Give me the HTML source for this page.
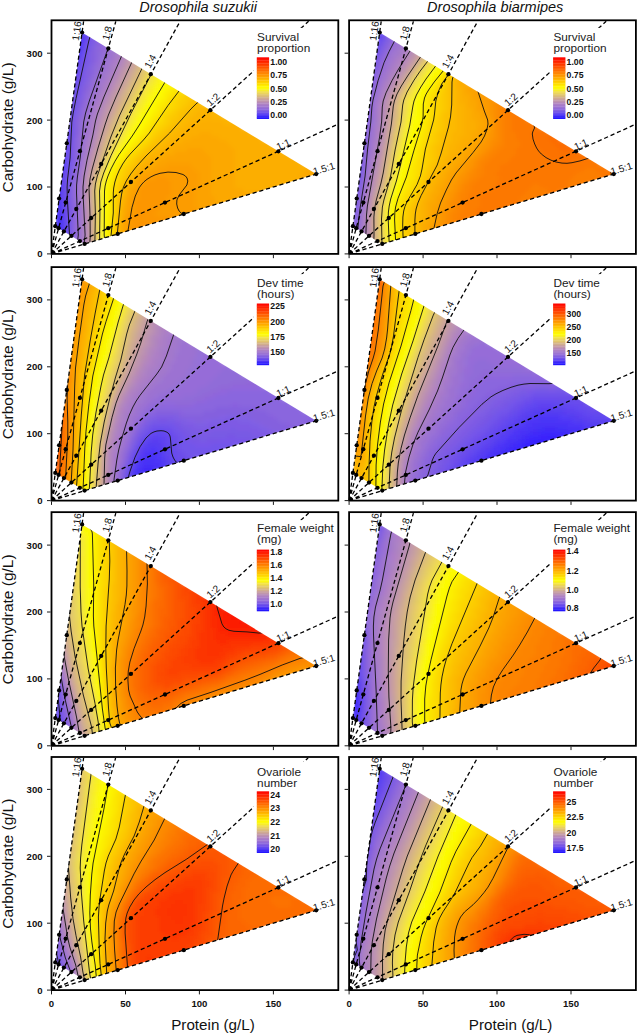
<!DOCTYPE html><html><head><meta charset="utf-8"><style>html,body{margin:0;padding:0;background:#fff}svg{display:block}text{font-family:"Liberation Sans",sans-serif}</style></head><body>
<svg width="638" height="1035" viewBox="0 0 638 1035">
<defs><filter id="blr" x="-5%" y="-5%" width="110%" height="110%"><feGaussianBlur stdDeviation="2"/></filter></defs>
<rect width="638" height="1035" fill="#fff"/>
<text x="139.3" y="12" font-size="14.5" font-style="italic" fill="#111">Drosophila suzukii</text>
<text x="427.1" y="12" font-size="14.5" font-style="italic" fill="#111">Drosophila biarmipes</text>
<clipPath id="cp1"><polygon points="55.3,226.2 82.1,32.6 316.2,174.1 84.6,243.9"/></clipPath>
<g clip-path="url(#cp1)"><g filter="url(#blr)">
<path fill="#4230f6" d="M79 32h4v4h-4zM55 204h4v4h-4z"/>
<path fill="#5a42f0" d="M83 32h4v4h-4zM79 48h4v4h-4zM75 60h4v4h-4zM71 76h4v4h-4zM67 100h4v4h-4zM63 128h4v4h-4zM63 132h4v4h-4zM63 136h4v4h-4zM63 140h4v4h-4zM63 144h4v4h-4zM59 184h4v4h-4zM59 188h4v4h-4zM59 192h4v4h-4zM59 196h4v4h-4z"/>
<path fill="#6c4eea" d="M87 32h4v4h-4zM83 44h4v4h-4zM83 48h4v4h-4zM79 60h4v4h-4zM79 64h4v4h-4zM75 76h4v4h-4zM75 80h4v4h-4zM71 96h4v4h-4zM71 100h4v4h-4zM67 120h4v4h-4zM67 124h4v4h-4zM67 128h4v4h-4zM67 132h4v4h-4zM67 136h4v4h-4zM67 140h4v4h-4zM67 144h4v4h-4zM63 176h4v4h-4zM63 180h4v4h-4zM63 184h4v4h-4zM63 188h4v4h-4zM63 192h4v4h-4zM63 196h4v4h-4zM63 200h4v4h-4zM63 204h4v4h-4z"/>
<path fill="#4830f6" d="M79 36h4v4h-4zM75 48h4v4h-4zM55 184h4v4h-4zM55 188h4v4h-4zM55 192h4v4h-4zM55 196h4v4h-4zM55 200h4v4h-4z"/>
<path fill="#6042f0" d="M83 36h4v4h-4zM75 64h4v4h-4zM71 80h4v4h-4zM67 104h4v4h-4zM63 148h4v4h-4zM63 152h4v4h-4zM63 156h4v4h-4zM63 228h4v4h-4zM63 232h4v4h-4z"/>
<path fill="#7254ea" d="M87 36h4v4h-4zM83 52h4v4h-4zM83 56h4v4h-4zM79 68h4v4h-4zM79 72h4v4h-4zM75 84h4v4h-4zM75 88h4v4h-4zM75 92h4v4h-4zM71 104h4v4h-4zM71 108h4v4h-4zM71 112h4v4h-4zM67 152h4v4h-4zM67 156h4v4h-4zM67 160h4v4h-4zM67 164h4v4h-4zM67 168h4v4h-4zM67 220h4v4h-4zM67 224h4v4h-4zM67 228h4v4h-4zM67 232h4v4h-4zM67 236h4v4h-4z"/>
<path fill="#7e5ae4" d="M91 36h4v4h-4zM91 40h4v4h-4zM87 52h4v4h-4zM87 56h4v4h-4zM87 60h4v4h-4zM83 72h4v4h-4zM83 76h4v4h-4zM79 88h4v4h-4zM79 92h4v4h-4zM75 108h4v4h-4zM71 140h4v4h-4zM71 144h4v4h-4zM71 148h4v4h-4zM71 152h4v4h-4zM71 156h4v4h-4zM71 160h4v4h-4z"/>
<path fill="#8460de" d="M95 36h4v4h-4zM95 40h4v4h-4zM91 48h4v4h-4zM91 52h4v4h-4zM91 56h4v4h-4zM91 60h4v4h-4zM87 68h4v4h-4zM87 72h4v4h-4zM87 76h4v4h-4zM83 84h4v4h-4zM83 88h4v4h-4zM79 100h4v4h-4zM79 104h4v4h-4zM75 116h4v4h-4zM75 120h4v4h-4zM75 124h4v4h-4zM75 128h4v4h-4zM75 132h4v4h-4zM71 168h4v4h-4zM71 172h4v4h-4zM71 176h4v4h-4zM71 204h4v4h-4zM71 208h4v4h-4zM71 212h4v4h-4zM71 216h4v4h-4zM71 220h4v4h-4zM71 224h4v4h-4zM71 228h4v4h-4z"/>
<path fill="#3c24fc" d="M75 40h4v4h-4z"/>
<path fill="#4e36f6" d="M79 40h4v4h-4zM75 52h4v4h-4zM59 156h4v4h-4zM59 160h4v4h-4zM59 164h4v4h-4zM59 216h4v4h-4zM59 220h4v4h-4zM59 224h4v4h-4zM59 228h4v4h-4z"/>
<path fill="#6648f0" d="M83 40h4v4h-4zM79 56h4v4h-4zM75 72h4v4h-4zM71 88h4v4h-4zM71 92h4v4h-4zM67 112h4v4h-4zM63 168h4v4h-4zM63 172h4v4h-4zM63 212h4v4h-4zM63 216h4v4h-4z"/>
<path fill="#7854ea" d="M87 40h4v4h-4zM79 76h4v4h-4zM71 116h4v4h-4zM67 216h4v4h-4z"/>
<path fill="#8a66de" d="M99 40h4v4h-4zM95 44h4v4h-4zM95 48h4v4h-4zM95 52h4v4h-4zM95 56h4v4h-4zM91 64h4v4h-4zM91 68h4v4h-4zM91 72h4v4h-4zM87 80h4v4h-4zM87 84h4v4h-4zM83 92h4v4h-4zM83 96h4v4h-4zM79 108h4v4h-4zM79 112h4v4h-4zM75 136h4v4h-4zM75 140h4v4h-4zM75 144h4v4h-4zM75 148h4v4h-4zM75 152h4v4h-4zM75 156h4v4h-4zM71 180h4v4h-4zM71 184h4v4h-4zM71 188h4v4h-4zM71 192h4v4h-4zM71 196h4v4h-4z"/>
<path fill="#906cd8" d="M103 40h4v4h-4zM99 52h4v4h-4zM99 56h4v4h-4zM95 64h4v4h-4zM95 68h4v4h-4zM91 76h4v4h-4zM91 80h4v4h-4zM87 92h4v4h-4zM83 104h4v4h-4zM79 120h4v4h-4zM79 124h4v4h-4zM79 128h4v4h-4zM75 164h4v4h-4zM75 168h4v4h-4zM75 232h4v4h-4z"/>
<path fill="#422af6" d="M75 44h4v4h-4zM55 208h4v4h-4zM55 212h4v4h-4z"/>
<path fill="#543cf0" d="M79 44h4v4h-4zM75 56h4v4h-4zM71 72h4v4h-4zM59 172h4v4h-4zM59 176h4v4h-4zM59 204h4v4h-4zM59 208h4v4h-4z"/>
<path fill="#785ae4" d="M87 44h4v4h-4zM87 48h4v4h-4zM83 64h4v4h-4zM83 68h4v4h-4zM79 84h4v4h-4zM75 100h4v4h-4zM75 104h4v4h-4zM71 120h4v4h-4zM71 124h4v4h-4zM71 128h4v4h-4zM71 132h4v4h-4zM71 136h4v4h-4zM67 176h4v4h-4zM67 180h4v4h-4zM67 184h4v4h-4zM67 188h4v4h-4zM67 192h4v4h-4zM67 196h4v4h-4zM67 200h4v4h-4zM67 204h4v4h-4z"/>
<path fill="#7e60e4" d="M91 44h4v4h-4zM87 64h4v4h-4zM83 80h4v4h-4zM79 96h4v4h-4zM75 112h4v4h-4zM71 164h4v4h-4z"/>
<path fill="#9066de" d="M99 44h4v4h-4zM95 60h4v4h-4zM75 160h4v4h-4z"/>
<path fill="#966cd8" d="M103 44h4v4h-4zM103 48h4v4h-4zM103 52h4v4h-4zM99 60h4v4h-4zM99 64h4v4h-4zM95 72h4v4h-4zM91 84h4v4h-4zM87 96h4v4h-4zM83 108h4v4h-4zM83 112h4v4h-4zM79 132h4v4h-4zM79 136h4v4h-4zM79 140h4v4h-4zM79 144h4v4h-4zM75 172h4v4h-4zM75 176h4v4h-4zM75 204h4v4h-4zM75 208h4v4h-4zM75 212h4v4h-4zM75 216h4v4h-4zM75 220h4v4h-4zM75 224h4v4h-4zM75 228h4v4h-4zM75 236h4v4h-4zM75 240h4v4h-4z"/>
<path fill="#9672d2" d="M107 44h4v4h-4zM99 68h4v4h-4zM83 116h4v4h-4zM79 152h4v4h-4zM75 196h4v4h-4z"/>
<path fill="#9066d8" d="M99 48h4v4h-4zM87 88h4v4h-4zM83 100h4v4h-4zM79 116h4v4h-4z"/>
<path fill="#9c72d2" d="M107 48h4v4h-4zM107 52h4v4h-4zM107 56h4v4h-4zM103 60h4v4h-4zM103 64h4v4h-4zM103 68h4v4h-4zM99 72h4v4h-4zM99 76h4v4h-4zM95 80h4v4h-4zM95 84h4v4h-4zM95 88h4v4h-4zM91 92h4v4h-4zM91 96h4v4h-4zM87 104h4v4h-4zM87 108h4v4h-4zM87 112h4v4h-4zM83 120h4v4h-4zM83 124h4v4h-4zM83 128h4v4h-4zM83 132h4v4h-4zM83 136h4v4h-4zM79 156h4v4h-4zM79 160h4v4h-4zM79 164h4v4h-4zM75 184h4v4h-4zM75 188h4v4h-4zM75 192h4v4h-4z"/>
<path fill="#9c78d2" d="M111 48h4v4h-4zM91 100h4v4h-4z"/>
<path fill="#a278cc" d="M115 48h4v4h-4zM111 52h4v4h-4zM111 56h4v4h-4zM107 64h4v4h-4zM107 68h4v4h-4zM103 72h4v4h-4zM103 76h4v4h-4zM99 84h4v4h-4zM99 88h4v4h-4zM95 92h4v4h-4zM95 96h4v4h-4zM91 104h4v4h-4zM91 108h4v4h-4zM87 116h4v4h-4zM87 120h4v4h-4zM87 124h4v4h-4zM87 128h4v4h-4zM83 144h4v4h-4zM83 148h4v4h-4zM83 152h4v4h-4zM79 168h4v4h-4zM79 172h4v4h-4zM79 176h4v4h-4zM79 204h4v4h-4zM79 208h4v4h-4zM79 212h4v4h-4zM79 216h4v4h-4zM79 220h4v4h-4zM79 224h4v4h-4zM79 228h4v4h-4zM79 232h4v4h-4zM79 236h4v4h-4zM79 240h4v4h-4zM79 244h4v4h-4z"/>
<path fill="#6048f0" d="M79 52h4v4h-4zM75 68h4v4h-4zM71 84h4v4h-4zM67 108h4v4h-4zM63 160h4v4h-4zM63 164h4v4h-4zM63 220h4v4h-4zM63 224h4v4h-4z"/>
<path fill="#a87ecc" d="M115 52h4v4h-4zM107 72h4v4h-4zM87 136h4v4h-4zM83 156h4v4h-4zM79 184h4v4h-4zM79 188h4v4h-4zM79 192h4v4h-4zM79 196h4v4h-4z"/>
<path fill="#ae7ec6" d="M119 52h4v4h-4zM115 60h4v4h-4zM111 72h4v4h-4zM107 80h4v4h-4zM103 88h4v4h-4zM99 100h4v4h-4zM95 108h4v4h-4zM91 124h4v4h-4zM91 128h4v4h-4zM87 144h4v4h-4zM83 164h4v4h-4z"/>
<path fill="#b48aba" d="M123 52h4v4h-4zM123 56h4v4h-4zM119 64h4v4h-4zM115 72h4v4h-4zM111 80h4v4h-4zM107 92h4v4h-4zM103 100h4v4h-4zM99 108h4v4h-4zM99 112h4v4h-4zM95 124h4v4h-4zM95 128h4v4h-4zM91 140h4v4h-4zM91 144h4v4h-4zM87 156h4v4h-4zM87 160h4v4h-4zM83 176h4v4h-4zM83 180h4v4h-4zM83 184h4v4h-4zM83 188h4v4h-4zM83 192h4v4h-4zM83 196h4v4h-4zM83 200h4v4h-4zM83 204h4v4h-4zM83 244h4v4h-4z"/>
<path fill="#9672d8" d="M103 56h4v4h-4zM95 76h4v4h-4zM91 88h4v4h-4zM87 100h4v4h-4zM79 148h4v4h-4zM75 180h4v4h-4zM75 200h4v4h-4z"/>
<path fill="#a87ec6" d="M115 56h4v4h-4zM111 64h4v4h-4zM111 68h4v4h-4zM107 76h4v4h-4zM103 84h4v4h-4zM99 92h4v4h-4zM99 96h4v4h-4zM95 104h4v4h-4zM91 116h4v4h-4zM91 120h4v4h-4zM87 140h4v4h-4zM83 160h4v4h-4z"/>
<path fill="#ae84c0" d="M119 56h4v4h-4zM111 76h4v4h-4zM107 84h4v4h-4zM99 104h4v4h-4zM95 116h4v4h-4zM91 136h4v4h-4zM87 152h4v4h-4zM83 220h4v4h-4zM83 224h4v4h-4zM83 228h4v4h-4zM83 236h4v4h-4z"/>
<path fill="#c096ae" d="M127 56h4v4h-4zM119 76h4v4h-4zM115 84h4v4h-4zM111 92h4v4h-4zM103 112h4v4h-4zM99 124h4v4h-4zM95 140h4v4h-4zM87 172h4v4h-4z"/>
<path fill="#7854e4" d="M83 60h4v4h-4zM79 80h4v4h-4zM75 96h4v4h-4zM67 172h4v4h-4zM67 208h4v4h-4zM67 212h4v4h-4z"/>
<path fill="#a278d2" d="M107 60h4v4h-4zM99 80h4v4h-4zM83 140h4v4h-4z"/>
<path fill="#a878cc" d="M111 60h4v4h-4zM103 80h4v4h-4zM95 100h4v4h-4zM91 112h4v4h-4zM87 132h4v4h-4zM79 180h4v4h-4zM79 200h4v4h-4z"/>
<path fill="#b484c0" d="M119 60h4v4h-4zM115 68h4v4h-4zM107 88h4v4h-4zM103 96h4v4h-4zM95 120h4v4h-4zM83 172h4v4h-4zM83 208h4v4h-4zM83 212h4v4h-4zM83 216h4v4h-4zM83 240h4v4h-4z"/>
<path fill="#ba90b4" d="M123 60h4v4h-4zM119 68h4v4h-4zM115 80h4v4h-4zM111 88h4v4h-4zM107 96h4v4h-4zM103 104h4v4h-4zM103 108h4v4h-4zM99 116h4v4h-4zM99 120h4v4h-4zM95 132h4v4h-4zM95 136h4v4h-4zM91 148h4v4h-4zM87 164h4v4h-4z"/>
<path fill="#c096a8" d="M127 60h4v4h-4zM123 68h4v4h-4zM115 88h4v4h-4zM111 96h4v4h-4zM107 104h4v4h-4zM103 116h4v4h-4zM99 128h4v4h-4zM95 144h4v4h-4zM91 156h4v4h-4zM87 176h4v4h-4zM87 212h4v4h-4zM87 216h4v4h-4zM87 220h4v4h-4zM87 224h4v4h-4zM87 228h4v4h-4zM87 232h4v4h-4zM87 236h4v4h-4zM87 240h4v4h-4z"/>
<path fill="#c6a2a2" d="M131 60h4v4h-4zM127 68h4v4h-4zM111 104h4v4h-4zM95 152h4v4h-4z"/>
<path fill="#cca890" d="M135 60h4v4h-4zM99 148h4v4h-4z"/>
<path fill="#ae84c6" d="M115 64h4v4h-4zM103 92h4v4h-4zM95 112h4v4h-4zM91 132h4v4h-4zM87 148h4v4h-4zM83 168h4v4h-4zM83 232h4v4h-4z"/>
<path fill="#ba90ae" d="M123 64h4v4h-4zM119 72h4v4h-4zM107 100h4v4h-4zM87 168h4v4h-4z"/>
<path fill="#c69ca8" d="M127 64h4v4h-4zM123 72h4v4h-4zM107 108h4v4h-4zM103 120h4v4h-4zM99 132h4v4h-4zM91 160h4v4h-4zM87 180h4v4h-4zM87 200h4v4h-4zM87 204h4v4h-4zM87 244h4v4h-4z"/>
<path fill="#cca29c" d="M131 64h4v4h-4zM127 72h4v4h-4zM123 80h4v4h-4zM119 88h4v4h-4zM111 108h4v4h-4zM107 116h4v4h-4zM103 128h4v4h-4zM99 140h4v4h-4zM95 156h4v4h-4zM91 168h4v4h-4z"/>
<path fill="#d2ae8a" d="M135 64h4v4h-4zM119 100h4v4h-4zM115 108h4v4h-4zM107 128h4v4h-4zM103 140h4v4h-4zM99 152h4v4h-4zM91 180h4v4h-4zM91 204h4v4h-4zM91 208h4v4h-4zM91 212h4v4h-4zM91 216h4v4h-4zM91 220h4v4h-4zM91 224h4v4h-4zM91 228h4v4h-4zM91 232h4v4h-4zM91 236h4v4h-4zM91 240h4v4h-4z"/>
<path fill="#d8ba7e" d="M139 64h4v4h-4zM135 72h4v4h-4zM131 80h4v4h-4zM119 108h4v4h-4zM115 116h4v4h-4zM111 124h4v4h-4zM107 136h4v4h-4zM103 148h4v4h-4zM99 160h4v4h-4zM95 172h4v4h-4z"/>
<path fill="#dec072" d="M143 64h4v4h-4zM139 72h4v4h-4zM135 80h4v4h-4zM131 88h4v4h-4zM127 96h4v4h-4zM123 104h4v4h-4zM119 112h4v4h-4zM111 132h4v4h-4z"/>
<path fill="#543cf6" d="M71 68h4v4h-4zM59 168h4v4h-4zM59 212h4v4h-4z"/>
<path fill="#cca896" d="M131 68h4v4h-4zM127 76h4v4h-4zM123 84h4v4h-4zM119 92h4v4h-4zM115 100h4v4h-4zM111 112h4v4h-4zM107 120h4v4h-4zM103 132h4v4h-4zM99 144h4v4h-4zM95 160h4v4h-4zM91 172h4v4h-4z"/>
<path fill="#d2b484" d="M135 68h4v4h-4zM99 156h4v4h-4zM95 168h4v4h-4zM91 196h4v4h-4z"/>
<path fill="#dec078" d="M139 68h4v4h-4zM115 120h4v4h-4zM107 140h4v4h-4zM103 152h4v4h-4zM99 164h4v4h-4zM95 176h4v4h-4z"/>
<path fill="#e4c66c" d="M143 68h4v4h-4zM139 76h4v4h-4zM135 84h4v4h-4zM131 92h4v4h-4zM127 100h4v4h-4zM123 108h4v4h-4zM119 116h4v4h-4zM111 136h4v4h-4zM99 168h4v4h-4zM95 180h4v4h-4zM95 212h4v4h-4zM95 216h4v4h-4z"/>
<path fill="#ead25a" d="M147 68h4v4h-4zM143 76h4v4h-4zM139 84h4v4h-4zM135 92h4v4h-4zM131 100h4v4h-4zM127 108h4v4h-4zM123 116h4v4h-4zM111 144h4v4h-4z"/>
<path fill="#d2ae90" d="M131 72h4v4h-4zM127 80h4v4h-4zM123 88h4v4h-4zM119 96h4v4h-4zM111 116h4v4h-4zM103 136h4v4h-4zM95 164h4v4h-4zM91 176h4v4h-4z"/>
<path fill="#e4cc60" d="M143 72h4v4h-4zM139 80h4v4h-4zM135 88h4v4h-4zM131 96h4v4h-4zM127 104h4v4h-4z"/>
<path fill="#f0d854" d="M147 72h4v4h-4zM143 80h4v4h-4zM139 88h4v4h-4zM135 96h4v4h-4zM131 104h4v4h-4zM127 112h4v4h-4zM123 120h4v4h-4zM107 156h4v4h-4zM99 176h4v4h-4z"/>
<path fill="#f0e442" d="M151 72h4v4h-4zM147 80h4v4h-4z"/>
<path fill="#f6ea30" d="M155 72h4v4h-4zM151 80h4v4h-4zM135 108h4v4h-4zM131 116h4v4h-4zM127 124h4v4h-4zM123 132h4v4h-4zM119 140h4v4h-4zM103 172h4v4h-4zM99 192h4v4h-4zM99 196h4v4h-4zM99 228h4v4h-4zM99 232h4v4h-4z"/>
<path fill="#ba8ab4" d="M115 76h4v4h-4z"/>
<path fill="#c69ca2" d="M123 76h4v4h-4zM119 84h4v4h-4zM115 92h4v4h-4zM111 100h4v4h-4zM107 112h4v4h-4zM103 124h4v4h-4zM99 136h4v4h-4zM95 148h4v4h-4zM91 164h4v4h-4zM87 184h4v4h-4zM87 188h4v4h-4zM87 192h4v4h-4zM87 196h4v4h-4z"/>
<path fill="#d2b48a" d="M131 76h4v4h-4zM127 84h4v4h-4zM123 92h4v4h-4zM111 120h4v4h-4zM91 184h4v4h-4zM91 200h4v4h-4z"/>
<path fill="#deba78" d="M135 76h4v4h-4zM131 84h4v4h-4zM111 128h4v4h-4z"/>
<path fill="#f0de4e" d="M147 76h4v4h-4zM123 124h4v4h-4zM119 132h4v4h-4zM115 140h4v4h-4zM111 148h4v4h-4z"/>
<path fill="#f6e436" d="M151 76h4v4h-4zM99 240h4v4h-4z"/>
<path fill="#f6f024" d="M155 76h4v4h-4zM151 84h4v4h-4zM147 92h4v4h-4zM143 100h4v4h-4zM127 128h4v4h-4zM123 136h4v4h-4z"/>
<path fill="#fcf618" d="M159 76h4v4h-4zM147 96h4v4h-4zM143 104h4v4h-4zM139 112h4v4h-4zM127 132h4v4h-4zM115 152h4v4h-4z"/>
<path fill="#c09ca8" d="M119 80h4v4h-4zM87 208h4v4h-4z"/>
<path fill="#fcf01e" d="M155 80h4v4h-4zM151 88h4v4h-4zM139 108h4v4h-4zM135 116h4v4h-4zM131 124h4v4h-4zM119 144h4v4h-4zM103 176h4v4h-4z"/>
<path fill="#fcf60c" d="M159 80h4v4h-4zM143 108h4v4h-4z"/>
<path fill="#fcfc00" d="M163 80h4v4h-4zM163 84h4v4h-4zM159 88h4v4h-4zM159 92h4v4h-4zM155 96h4v4h-4zM151 100h4v4h-4zM151 104h4v4h-4zM147 108h4v4h-4zM147 112h4v4h-4zM143 116h4v4h-4zM139 120h4v4h-4zM139 124h4v4h-4zM135 128h4v4h-4zM131 136h4v4h-4zM127 140h4v4h-4zM123 144h4v4h-4zM119 152h4v4h-4zM115 156h4v4h-4zM111 164h4v4h-4zM107 172h4v4h-4zM103 184h4v4h-4zM103 188h4v4h-4zM103 192h4v4h-4zM103 196h4v4h-4zM103 200h4v4h-4zM103 204h4v4h-4zM103 208h4v4h-4zM103 212h4v4h-4zM103 216h4v4h-4zM103 220h4v4h-4zM103 224h4v4h-4zM103 228h4v4h-4zM103 232h4v4h-4zM103 236h4v4h-4z"/>
<path fill="#fcf600" d="M167 80h4v4h-4zM167 84h4v4h-4zM163 88h4v4h-4zM159 96h4v4h-4zM155 100h4v4h-4zM151 108h4v4h-4zM147 116h4v4h-4zM143 120h4v4h-4zM139 128h4v4h-4zM135 132h4v4h-4zM127 144h4v4h-4zM123 148h4v4h-4zM115 160h4v4h-4zM111 168h4v4h-4zM107 176h4v4h-4z"/>
<path fill="#ba8aba" d="M111 84h4v4h-4z"/>
<path fill="#f0de48" d="M143 84h4v4h-4zM139 92h4v4h-4zM135 100h4v4h-4zM131 108h4v4h-4zM127 116h4v4h-4zM103 168h4v4h-4zM99 180h4v4h-4z"/>
<path fill="#f6ea36" d="M147 84h4v4h-4zM143 92h4v4h-4zM139 100h4v4h-4zM99 188h4v4h-4zM99 200h4v4h-4zM99 204h4v4h-4zM99 208h4v4h-4zM99 212h4v4h-4zM99 216h4v4h-4zM99 220h4v4h-4zM99 224h4v4h-4zM99 236h4v4h-4z"/>
<path fill="#fcf612" d="M155 84h4v4h-4zM151 92h4v4h-4zM147 100h4v4h-4zM135 120h4v4h-4zM131 128h4v4h-4zM123 140h4v4h-4zM111 160h4v4h-4zM107 168h4v4h-4z"/>
<path fill="#fcfc06" d="M159 84h4v4h-4zM155 92h4v4h-4zM147 104h4v4h-4zM143 112h4v4h-4zM135 124h4v4h-4zM131 132h4v4h-4z"/>
<path fill="#fcf000" d="M171 84h4v4h-4zM167 88h4v4h-4zM163 92h4v4h-4zM163 96h4v4h-4zM159 100h4v4h-4zM155 104h4v4h-4zM155 108h4v4h-4zM151 112h4v4h-4zM147 120h4v4h-4zM143 124h4v4h-4zM139 132h4v4h-4zM135 136h4v4h-4zM131 140h4v4h-4zM119 156h4v4h-4zM107 180h4v4h-4zM107 184h4v4h-4zM107 208h4v4h-4z"/>
<path fill="#fce400" d="M175 84h4v4h-4zM175 88h4v4h-4zM171 92h4v4h-4zM167 96h4v4h-4zM163 104h4v4h-4zM159 108h4v4h-4zM155 116h4v4h-4zM151 120h4v4h-4zM147 128h4v4h-4zM143 132h4v4h-4zM139 136h4v4h-4zM123 156h4v4h-4zM119 160h4v4h-4zM115 168h4v4h-4zM111 180h4v4h-4zM107 236h4v4h-4z"/>
<path fill="#d8ba84" d="M127 88h4v4h-4z"/>
<path fill="#f6e442" d="M143 88h4v4h-4zM119 136h4v4h-4zM107 160h4v4h-4z"/>
<path fill="#f6ea2a" d="M147 88h4v4h-4zM143 96h4v4h-4zM139 104h4v4h-4zM115 148h4v4h-4z"/>
<path fill="#fcfc0c" d="M155 88h4v4h-4zM151 96h4v4h-4zM139 116h4v4h-4zM127 136h4v4h-4zM119 148h4v4h-4zM103 180h4v4h-4z"/>
<path fill="#fcea00" d="M171 88h4v4h-4zM167 92h4v4h-4zM163 100h4v4h-4zM159 104h4v4h-4zM155 112h4v4h-4zM151 116h4v4h-4zM147 124h4v4h-4zM143 128h4v4h-4zM135 140h4v4h-4zM131 144h4v4h-4zM127 148h4v4h-4zM123 152h4v4h-4zM115 164h4v4h-4zM111 172h4v4h-4zM111 176h4v4h-4zM107 188h4v4h-4zM107 192h4v4h-4zM107 196h4v4h-4zM107 200h4v4h-4zM107 204h4v4h-4zM107 212h4v4h-4zM107 216h4v4h-4zM107 220h4v4h-4zM107 224h4v4h-4zM107 228h4v4h-4zM107 232h4v4h-4z"/>
<path fill="#fcde00" d="M179 88h4v4h-4zM175 92h4v4h-4zM171 96h4v4h-4zM167 100h4v4h-4zM167 104h4v4h-4zM163 108h4v4h-4zM159 112h4v4h-4zM159 116h4v4h-4zM155 120h4v4h-4zM151 124h4v4h-4zM147 132h4v4h-4zM143 136h4v4h-4zM139 140h4v4h-4zM135 144h4v4h-4zM131 148h4v4h-4zM127 152h4v4h-4zM123 160h4v4h-4zM119 164h4v4h-4zM115 172h4v4h-4zM111 184h4v4h-4zM111 188h4v4h-4zM111 192h4v4h-4zM111 196h4v4h-4zM111 200h4v4h-4zM111 204h4v4h-4zM111 208h4v4h-4zM111 212h4v4h-4zM111 216h4v4h-4zM111 220h4v4h-4z"/>
<path fill="#d8ba78" d="M127 92h4v4h-4zM123 100h4v4h-4z"/>
<path fill="#fcd800" d="M179 92h4v4h-4zM175 96h4v4h-4zM171 100h4v4h-4zM171 104h4v4h-4zM167 108h4v4h-4zM163 112h4v4h-4zM159 120h4v4h-4zM155 124h4v4h-4zM151 128h4v4h-4zM147 136h4v4h-4zM143 140h4v4h-4zM139 144h4v4h-4zM135 148h4v4h-4zM131 152h4v4h-4zM127 156h4v4h-4zM119 168h4v4h-4zM115 176h4v4h-4zM115 180h4v4h-4zM111 224h4v4h-4zM111 228h4v4h-4z"/>
<path fill="#fcd200" d="M183 92h4v4h-4zM179 96h4v4h-4zM175 100h4v4h-4zM175 104h4v4h-4zM171 108h4v4h-4zM167 112h4v4h-4zM163 116h4v4h-4zM163 120h4v4h-4zM159 124h4v4h-4zM155 128h4v4h-4zM151 132h4v4h-4zM147 140h4v4h-4zM143 144h4v4h-4zM139 148h4v4h-4zM135 152h4v4h-4zM131 156h4v4h-4zM127 160h4v4h-4zM123 164h4v4h-4zM119 172h4v4h-4zM119 176h4v4h-4zM115 184h4v4h-4zM115 188h4v4h-4zM115 192h4v4h-4zM111 232h4v4h-4zM111 236h4v4h-4z"/>
<path fill="#fccc00" d="M187 92h4v4h-4zM183 96h4v4h-4zM179 100h8v4h-8zM179 104h4v4h-4zM175 108h4v4h-4zM171 112h4v4h-4zM167 116h4v4h-4zM167 120h4v4h-4zM163 124h4v4h-4zM159 128h4v4h-4zM155 132h4v4h-4zM151 136h4v4h-4zM131 160h4v4h-4zM127 164h4v4h-4zM123 168h4v4h-4zM123 172h4v4h-4zM119 180h4v4h-4zM115 196h4v4h-4zM115 200h4v4h-4zM115 204h4v4h-4zM115 208h4v4h-4z"/>
<path fill="#c6a29c" d="M115 96h4v4h-4z"/>
<path fill="#d8b484" d="M123 96h4v4h-4zM119 104h4v4h-4zM115 112h4v4h-4zM107 132h4v4h-4zM103 144h4v4h-4zM91 188h4v4h-4zM91 192h4v4h-4z"/>
<path fill="#f6e43c" d="M139 96h4v4h-4zM135 104h4v4h-4zM131 112h4v4h-4zM127 120h4v4h-4zM123 128h4v4h-4zM115 144h4v4h-4zM111 152h4v4h-4zM99 184h4v4h-4z"/>
<path fill="#fcc600" d="M187 96h8v4h-8zM187 100h4v4h-4zM183 104h4v4h-4zM179 108h4v4h-4zM175 112h4v4h-4zM171 116h8v4h-8zM171 120h4v4h-4zM167 124h4v4h-4zM163 128h4v4h-4zM159 132h4v4h-4zM155 136h4v4h-4zM151 140h4v4h-4zM147 144h4v4h-4zM143 148h4v4h-4zM139 152h4v4h-4zM135 156h4v4h-4zM131 164h4v4h-4zM127 168h4v4h-4zM123 176h4v4h-4zM119 184h4v4h-4zM115 212h4v4h-4zM115 216h4v4h-4zM115 220h4v4h-4z"/>
<path fill="#fcc000" d="M195 96h4v4h-4zM191 100h8v4h-8zM187 104h8v4h-8zM183 108h8v4h-8zM179 112h8v4h-8zM179 116h4v4h-4zM175 120h4v4h-4zM171 124h4v4h-4zM167 128h4v4h-4zM163 132h4v4h-4zM159 136h4v4h-4zM155 140h4v4h-4zM151 144h4v4h-4zM147 148h4v4h-4zM143 152h4v4h-4zM139 156h4v4h-4zM135 160h4v4h-4zM131 168h4v4h-4zM127 172h4v4h-4zM123 180h4v4h-4zM119 188h4v4h-4zM119 192h4v4h-4zM115 224h4v4h-4zM115 228h4v4h-4zM115 232h4v4h-4zM115 236h4v4h-4z"/>
<path fill="#fcba00" d="M199 100h4v4h-4zM195 104h12v4h-12zM191 108h8v4h-8zM187 112h8v4h-8zM183 116h8v4h-8zM179 120h8v4h-8zM175 124h8v4h-8zM171 128h8v4h-8zM167 132h8v4h-8zM163 136h8v4h-8zM159 140h8v4h-8zM155 144h8v4h-8zM151 148h4v4h-4zM147 152h4v4h-4zM143 156h4v4h-4zM139 160h4v4h-4zM135 164h4v4h-4zM131 172h4v4h-4zM127 176h4v4h-4zM123 184h4v4h-4zM119 196h4v4h-4zM119 200h4v4h-4zM119 204h4v4h-4z"/>
<path fill="#d2a890" d="M115 104h4v4h-4zM107 124h4v4h-4z"/>
<path fill="#fcb400" d="M207 104h4v4h-4zM199 108h20v4h-20zM195 112h28v4h-28zM191 116h16v4h-16zM211 116h20v4h-20zM187 120h12v4h-12zM223 120h16v4h-16zM183 124h8v4h-8zM179 128h8v4h-8zM175 132h8v4h-8zM171 136h8v4h-8zM167 140h4v4h-4zM163 144h4v4h-4zM155 148h8v4h-8zM151 152h8v4h-8zM147 156h4v4h-4zM143 160h4v4h-4zM139 164h4v4h-4zM135 168h4v4h-4zM131 176h4v4h-4zM127 180h4v4h-4zM123 188h4v4h-4zM123 192h4v4h-4zM119 208h4v4h-4zM119 212h4v4h-4zM119 216h4v4h-4z"/>
<path fill="#e4cc66" d="M123 112h4v4h-4zM119 120h4v4h-4zM115 128h4v4h-4zM111 140h4v4h-4zM107 148h4v4h-4zM103 160h4v4h-4zM95 184h4v4h-4zM95 188h4v4h-4zM95 192h4v4h-4zM95 196h4v4h-4zM95 200h4v4h-4zM95 204h4v4h-4zM95 220h4v4h-4zM95 224h4v4h-4zM95 228h4v4h-4zM95 232h4v4h-4zM95 236h4v4h-4zM95 240h4v4h-4z"/>
<path fill="#f6f02a" d="M135 112h4v4h-4zM131 120h4v4h-4zM111 156h4v4h-4zM107 164h4v4h-4z"/>
<path fill="#6648ea" d="M67 116h4v4h-4zM63 208h4v4h-4z"/>
<path fill="#fcae00" d="M207 116h4v4h-4zM199 120h24v4h-24zM191 124h52v4h-52zM187 128h64v4h-64zM183 132h16v4h-16zM211 132h48v4h-48zM179 136h12v4h-12zM219 136h44v4h-44zM171 140h12v4h-12zM227 140h44v4h-44zM167 144h8v4h-8zM231 144h48v4h-48zM163 148h8v4h-8zM235 148h48v4h-48zM159 152h4v4h-4zM235 152h56v4h-56zM151 156h8v4h-8zM235 156h64v4h-64zM147 160h8v4h-8zM235 160h68v4h-68zM143 164h4v4h-4zM235 164h72v4h-72zM139 168h4v4h-4zM235 168h72v4h-72zM135 172h4v4h-4zM235 172h68v4h-68zM235 176h64v4h-64zM131 180h4v4h-4zM235 180h60v4h-60zM127 184h4v4h-4zM235 184h52v4h-52zM243 188h36v4h-36zM123 196h4v4h-4zM123 200h4v4h-4zM119 220h4v4h-4zM119 224h4v4h-4zM119 228h4v4h-4zM119 232h4v4h-4z"/>
<path fill="#dec672" d="M115 124h4v4h-4zM107 144h4v4h-4z"/>
<path fill="#ead260" d="M119 124h4v4h-4zM115 132h4v4h-4zM107 152h4v4h-4zM99 172h4v4h-4z"/>
<path fill="#ead854" d="M119 128h4v4h-4z"/>
<path fill="#fca800" d="M199 132h12v4h-12zM191 136h28v4h-28zM183 140h44v4h-44zM175 144h56v4h-56zM171 148h16v4h-16zM203 148h32v4h-32zM163 152h12v4h-12zM207 152h28v4h-28zM159 156h8v4h-8zM211 156h24v4h-24zM155 160h4v4h-4zM211 160h24v4h-24zM147 164h8v4h-8zM211 164h24v4h-24zM307 164h4v4h-4zM143 168h8v4h-8zM211 168h24v4h-24zM307 168h12v4h-12zM139 172h4v4h-4zM211 172h24v4h-24zM303 172h12v4h-12zM135 176h4v4h-4zM211 176h24v4h-24zM299 176h16v4h-16zM211 180h24v4h-24zM295 180h8v4h-8zM131 184h4v4h-4zM211 184h24v4h-24zM287 184h4v4h-4zM127 188h4v4h-4zM211 188h32v4h-32zM127 192h4v4h-4zM211 192h52v4h-52zM215 196h36v4h-36zM215 200h24v4h-24zM123 204h4v4h-4zM123 208h4v4h-4zM123 212h4v4h-4z"/>
<path fill="#ead85a" d="M115 136h4v4h-4zM103 164h4v4h-4z"/>
<path fill="#724eea" d="M67 148h4v4h-4z"/>
<path fill="#fca200" d="M187 148h16v4h-16zM175 152h32v4h-32zM167 156h44v4h-44zM159 160h52v4h-52zM155 164h12v4h-12zM191 164h20v4h-20zM151 168h8v4h-8zM195 168h16v4h-16zM143 172h8v4h-8zM199 172h12v4h-12zM315 172h8v4h-8zM139 176h4v4h-4zM199 176h12v4h-12zM315 176h4v4h-4zM135 180h4v4h-4zM199 180h12v4h-12zM135 184h4v4h-4zM199 184h12v4h-12zM131 188h4v4h-4zM195 188h16v4h-16zM131 192h4v4h-4zM195 192h16v4h-16zM127 196h4v4h-4zM195 196h20v4h-20zM127 200h4v4h-4zM195 200h20v4h-20zM127 204h4v4h-4zM195 204h28v4h-28zM127 208h4v4h-4zM199 208h12v4h-12zM123 216h4v4h-4zM123 220h4v4h-4zM123 224h4v4h-4zM123 228h4v4h-4zM123 232h4v4h-4z"/>
<path fill="#c090ae" d="M91 152h4v4h-4z"/>
<path fill="#dec66c" d="M103 156h4v4h-4z"/>
<path fill="#fc9c00" d="M167 164h24v4h-24zM159 168h36v4h-36zM151 172h48v4h-48zM143 176h12v4h-12zM167 176h32v4h-32zM139 180h8v4h-8zM171 180h28v4h-28zM139 184h4v4h-4zM171 184h28v4h-28zM135 188h4v4h-4zM171 188h24v4h-24zM135 192h4v4h-4zM171 192h24v4h-24zM131 196h8v4h-8zM167 196h28v4h-28zM131 200h4v4h-4zM167 200h28v4h-28zM131 204h4v4h-4zM163 204h32v4h-32zM131 208h4v4h-4zM159 208h40v4h-40zM127 212h8v4h-8zM155 212h44v4h-44zM127 216h4v4h-4zM171 216h12v4h-12zM127 220h4v4h-4zM127 224h4v4h-4zM127 228h4v4h-4zM127 232h4v4h-4z"/>
<path fill="#fc9600" d="M155 176h12v4h-12zM147 180h24v4h-24zM143 184h28v4h-28zM139 188h32v4h-32zM139 192h32v4h-32zM139 196h28v4h-28zM135 200h32v4h-32zM135 204h28v4h-28zM135 208h24v4h-24zM135 212h20v4h-20zM131 216h40v4h-40zM131 220h40v4h-40zM131 224h8v4h-8zM147 224h12v4h-12zM131 228h4v4h-4z"/>
<path fill="#5a3cf0" d="M59 180h4v4h-4zM59 200h4v4h-4z"/>
<path fill="#8a60de" d="M71 200h4v4h-4z"/>
<path fill="#e4cc6c" d="M95 208h4v4h-4z"/>
<path fill="#3c2afc" d="M55 216h4v4h-4zM55 220h4v4h-4z"/>
<path fill="#3624fc" d="M55 224h4v4h-4zM55 228h4v4h-4z"/>
<path fill="#fc9000" d="M139 224h8v4h-8zM135 228h8v4h-8z"/>
<path fill="#4836f6" d="M59 232h4v4h-4z"/>
<path fill="#8460e4" d="M71 232h4v4h-4zM71 236h4v4h-4z"/>
</g>
<path fill="none" stroke="#111" stroke-width="0.9" d="M68.7 246.0L69.4 240.0L69.5 235.0L67.3 198.0L67.1 187.0L67.6 179.0L70.1 158.0L71.8 122.0L73.2 113.0L76.0 98.6L88.8 41.0L90.0 36.7L92.9 30.0M77.0 246.0L78.3 235.0L76.5 193.0L76.6 185.0L77.4 177.0L80.3 157.0L83.7 122.0L85.6 113.0L89.3 101.0L107.5 50.0L109.4 38.0L111.4 30.0M83.8 246.0L85.1 235.0L83.1 195.0L83.0 187.0L84.1 176.0L87.0 160.2L92.9 135.0L95.5 121.0L97.4 114.0L103.9 97.0L121.2 57.0L123.8 49.0L128.9 30.0M89.6 246.0L90.2 237.0L90.1 218.0L89.0 188.0L90.0 179.0L92.2 169.0L98.0 148.0L105.3 124.0L108.4 115.0L116.0 97.0L134.2 57.0L144.9 30.0M94.8 246.0L95.4 214.0L94.7 191.0L95.4 184.0L97.3 176.0L110.8 137.0L119.3 116.0L145.0 62.1L161.7 30.0M99.9 246.0L99.6 237.0L99.9 213.0L99.5 191.0L100.8 182.0L103.7 173.0L111.0 155.6L131.0 113.4L150.0 76.6L181.1 30.0M105.3 246.0L104.2 235.0L104.5 191.0L105.1 186.0L106.3 181.0L108.0 176.0L111.0 168.9L115.0 161.2L119.0 154.6L132.2 136.0L139.3 125.0L169.3 75.0L183.0 57.1L206.2 30.0M111.6 246.0L110.8 238.0L113.3 213.0L113.3 193.0L113.7 188.0L114.9 182.0L116.8 176.0L119.4 170.0L122.7 164.0L126.0 159.1L130.0 154.2L143.4 140.0L149.3 133.0L168.0 105.5L180.0 89.7L187.0 81.4L198.0 70.4L228.3 44.0L243.0 30.0M119.2 246.0L117.7 240.0L117.2 235.0L120.5 201.0L121.8 193.0L123.5 187.0L126.3 181.0L130.7 174.0L136.0 167.1L146.0 156.0L169.7 133.0L191.0 108.9L197.0 103.0L202.0 99.9L208.0 97.1L231.0 89.8L242.0 85.3L253.0 79.0L263.0 71.5L271.0 63.8L279.0 54.6L287.0 43.8L295.9 30.0M132.7 246.0L130.6 242.0L129.0 238.0L128.1 234.0L128.1 230.0L132.0 207.4L135.3 196.0L139.0 188.0L141.1 185.0L144.0 181.8L147.0 179.3L151.0 176.8L155.0 174.9L160.0 173.3L168.0 172.1L176.0 172.5L183.0 174.5L185.4 176.0L187.0 178.0L187.8 181.0L186.9 185.0L179.2 195.0L176.9 200.0L176.7 204.0L177.6 208.0L179.1 211.0L181.0 212.9L184.1 215.0L189.9 218.0L205.8 225.0L217.0 228.7L228.0 231.0L240.0 231.9L253.0 231.2L266.0 228.8L278.0 225.0L290.0 219.6L301.0 213.0L310.9 205.0L319.0 196.3"/>
</g>
<path fill="none" stroke="#000" stroke-width="1.3" stroke-dasharray="4.2 2.8" d="M51.5 253.9L83.6 21.3M51.5 253.9L115.8 21.3M51.5 253.9L180.1 21.3M51.5 253.9L308.6 21.3M51.5 253.9L337.3 124.6M51.5 253.9L316.2 174.1"/>
<g fill="#000"><circle cx="82.1" cy="32.6" r="2.15"/><circle cx="66.8" cy="143.3" r="2.15"/><circle cx="59.1" cy="198.6" r="2.15"/><circle cx="55.3" cy="226.2" r="2.15"/><circle cx="108.3" cy="48.4" r="2.15"/><circle cx="79.9" cy="151.2" r="2.15"/><circle cx="65.7" cy="202.5" r="2.15"/><circle cx="58.6" cy="228.2" r="2.15"/><circle cx="150.8" cy="74.2" r="2.15"/><circle cx="101.2" cy="164.0" r="2.15"/><circle cx="76.3" cy="209.0" r="2.15"/><circle cx="63.9" cy="231.4" r="2.15"/><circle cx="210.4" cy="110.2" r="2.15"/><circle cx="130.9" cy="182.0" r="2.15"/><circle cx="91.2" cy="218.0" r="2.15"/><circle cx="71.4" cy="235.9" r="2.15"/><circle cx="278.4" cy="151.3" r="2.15"/><circle cx="165.0" cy="202.6" r="2.15"/><circle cx="108.2" cy="228.2" r="2.15"/><circle cx="79.9" cy="241.1" r="2.15"/><circle cx="316.2" cy="174.1" r="2.15"/><circle cx="183.8" cy="214.0" r="2.15"/><circle cx="117.7" cy="233.9" r="2.15"/><circle cx="84.6" cy="243.9" r="2.15"/></g>
<g font-size="10" fill="#111"><text x="0" y="3.6" transform="translate(76.5 30.9) rotate(-82.1)" text-anchor="middle">1:16</text><text x="0" y="3.6" transform="translate(107.0 33.1) rotate(-74.6)" text-anchor="middle">1:8</text><text x="0" y="3.6" transform="translate(150.2 61.1) rotate(-61.1)" text-anchor="middle">1:4</text><text x="0" y="3.6" transform="translate(213.1 99.5) rotate(-42.1)" text-anchor="middle">1:2</text><text x="0" y="3.6" transform="translate(283.2 144.3) rotate(-24.3)" text-anchor="middle">1:1</text><text x="0" y="3.6" transform="translate(323.8 168.4) rotate(-16.8)" text-anchor="middle">1.5:1</text></g>
<rect x="51.5" y="20.30" width="286.8" height="233.60" fill="none" stroke="#000" stroke-width="1.8"/>
<path stroke="#000" stroke-width="0.9" fill="none" d="M50.6 253.9h-3.6M50.6 187.0h-3.6M50.6 120.1h-3.6M50.6 53.2h-3.6M51.5 254.8v3.4M125.5 254.8v3.4M199.4 254.8v3.4M273.4 254.8v3.4"/>
<rect x="253.8" y="27.9" width="59" height="94" fill="#fff"/>
<text x="257.1" y="40.6" font-size="11.8" fill="#1a1a1a">Survival</text>
<text x="257.1" y="51.7" font-size="11.8" fill="#1a1a1a">proportion</text>
<rect x="256.8" y="57.30" width="12.3" height="1.83" fill="#ff0600"/>
<rect x="256.8" y="58.83" width="12.3" height="1.83" fill="#ff1300"/>
<rect x="256.8" y="60.37" width="12.3" height="1.83" fill="#ff2000"/>
<rect x="256.8" y="61.90" width="12.3" height="1.83" fill="#ff2d00"/>
<rect x="256.8" y="63.44" width="12.3" height="1.83" fill="#ff3900"/>
<rect x="256.8" y="64.97" width="12.3" height="1.83" fill="#ff4600"/>
<rect x="256.8" y="66.51" width="12.3" height="1.83" fill="#ff5300"/>
<rect x="256.8" y="68.05" width="12.3" height="1.83" fill="#ff6000"/>
<rect x="256.8" y="69.58" width="12.3" height="1.83" fill="#ff6c00"/>
<rect x="256.8" y="71.11" width="12.3" height="1.83" fill="#ff7900"/>
<rect x="256.8" y="72.65" width="12.3" height="1.83" fill="#ff8600"/>
<rect x="256.8" y="74.19" width="12.3" height="1.83" fill="#ff9300"/>
<rect x="256.8" y="75.72" width="12.3" height="1.83" fill="#ff9f00"/>
<rect x="256.8" y="77.25" width="12.3" height="1.83" fill="#ffac00"/>
<rect x="256.8" y="78.79" width="12.3" height="1.83" fill="#ffb900"/>
<rect x="256.8" y="80.32" width="12.3" height="1.83" fill="#ffc600"/>
<rect x="256.8" y="81.86" width="12.3" height="1.83" fill="#ffd200"/>
<rect x="256.8" y="83.39" width="12.3" height="1.83" fill="#ffdf00"/>
<rect x="256.8" y="84.93" width="12.3" height="1.83" fill="#ffec00"/>
<rect x="256.8" y="86.47" width="12.3" height="1.83" fill="#fff900"/>
<rect x="256.8" y="88.00" width="12.3" height="1.83" fill="#fcf90e"/>
<rect x="256.8" y="89.53" width="12.3" height="1.83" fill="#f7ec2b"/>
<rect x="256.8" y="91.07" width="12.3" height="1.83" fill="#f2e047"/>
<rect x="256.8" y="92.60" width="12.3" height="1.83" fill="#ead35c"/>
<rect x="256.8" y="94.14" width="12.3" height="1.83" fill="#e2c76c"/>
<rect x="256.8" y="95.67" width="12.3" height="1.83" fill="#daba7d"/>
<rect x="256.8" y="97.21" width="12.3" height="1.83" fill="#d1ae8e"/>
<rect x="256.8" y="98.75" width="12.3" height="1.83" fill="#c9a19e"/>
<rect x="256.8" y="100.28" width="12.3" height="1.83" fill="#c096ab"/>
<rect x="256.8" y="101.81" width="12.3" height="1.83" fill="#b78cb8"/>
<rect x="256.8" y="103.35" width="12.3" height="1.83" fill="#ae81c4"/>
<rect x="256.8" y="104.88" width="12.3" height="1.83" fill="#a57acb"/>
<rect x="256.8" y="106.42" width="12.3" height="1.83" fill="#9c73d2"/>
<rect x="256.8" y="107.95" width="12.3" height="1.83" fill="#926bd9"/>
<rect x="256.8" y="109.49" width="12.3" height="1.83" fill="#8360e0"/>
<rect x="256.8" y="111.03" width="12.3" height="1.83" fill="#7555e7"/>
<rect x="256.8" y="112.56" width="12.3" height="1.83" fill="#6448ee"/>
<rect x="256.8" y="114.09" width="12.3" height="1.83" fill="#4f37f4"/>
<rect x="256.8" y="115.63" width="12.3" height="1.83" fill="#3a26fa"/>
<rect x="256.8" y="117.16" width="12.3" height="1.83" fill="#2315fd"/>
<text x="270.3" y="65.3" font-size="8.7" font-weight="bold" fill="#111">1.00</text>
<text x="270.3" y="78.3" font-size="8.7" font-weight="bold" fill="#111">0.75</text>
<text x="270.3" y="91.8" font-size="8.7" font-weight="bold" fill="#111">0.50</text>
<text x="270.3" y="105.3" font-size="8.7" font-weight="bold" fill="#111">0.25</text>
<text x="270.3" y="118.3" font-size="8.7" font-weight="bold" fill="#111">0.00</text>
<clipPath id="cp2"><polygon points="352.9,226.2 379.7,32.6 613.8,174.1 382.2,243.9"/></clipPath>
<g clip-path="url(#cp2)"><g filter="url(#blr)">
<path fill="#543cf0" d="M376 32h4v4h-4z"/>
<path fill="#6648f0" d="M380 32h4v4h-4zM376 40h4v4h-4zM372 48h4v4h-4zM352 192h4v4h-4z"/>
<path fill="#7254ea" d="M384 32h4v4h-4zM380 40h4v4h-4zM376 48h4v4h-4zM372 56h4v4h-4zM368 72h4v4h-4zM360 132h4v4h-4zM356 180h4v4h-4zM356 184h4v4h-4zM352 200h4v4h-4zM352 204h4v4h-4zM352 208h4v4h-4z"/>
<path fill="#6042f0" d="M376 36h4v4h-4zM352 188h4v4h-4z"/>
<path fill="#6c4eea" d="M380 36h4v4h-4zM376 44h4v4h-4zM372 52h4v4h-4zM356 168h4v4h-4zM356 172h4v4h-4zM356 176h4v4h-4zM352 196h4v4h-4z"/>
<path fill="#785ae4" d="M384 36h4v4h-4zM380 44h4v4h-4zM376 52h4v4h-4zM372 64h4v4h-4zM368 80h4v4h-4zM364 104h4v4h-4zM360 140h4v4h-4zM360 144h4v4h-4zM360 148h4v4h-4zM356 188h4v4h-4zM352 212h4v4h-4zM352 216h4v4h-4z"/>
<path fill="#8460de" d="M388 36h4v4h-4zM384 44h4v4h-4zM380 52h4v4h-4zM376 60h4v4h-4zM376 64h4v4h-4zM372 76h4v4h-4zM368 92h4v4h-4zM364 124h4v4h-4zM364 128h4v4h-4zM364 132h4v4h-4zM360 172h4v4h-4zM360 176h4v4h-4zM356 200h4v4h-4z"/>
<path fill="#906cd8" d="M392 36h4v4h-4zM388 44h4v4h-4zM384 52h4v4h-4zM372 88h4v4h-4zM368 112h4v4h-4zM368 116h4v4h-4zM368 120h4v4h-4zM364 152h4v4h-4zM364 156h4v4h-4zM356 216h4v4h-4zM356 220h4v4h-4z"/>
<path fill="#7e60e4" d="M384 40h4v4h-4zM380 48h4v4h-4zM368 88h4v4h-4zM364 120h4v4h-4zM360 164h4v4h-4zM360 168h4v4h-4z"/>
<path fill="#8a66de" d="M388 40h4v4h-4zM384 48h4v4h-4zM380 56h4v4h-4zM376 68h4v4h-4zM372 80h4v4h-4zM372 84h4v4h-4zM368 100h4v4h-4zM368 104h4v4h-4zM364 136h4v4h-4zM364 140h4v4h-4zM364 144h4v4h-4zM360 180h4v4h-4zM360 184h4v4h-4zM356 204h4v4h-4zM356 208h4v4h-4z"/>
<path fill="#966cd8" d="M392 40h4v4h-4zM388 48h4v4h-4zM384 56h4v4h-4zM380 64h4v4h-4zM380 68h4v4h-4zM376 76h4v4h-4zM376 80h4v4h-4zM372 92h4v4h-4zM368 124h4v4h-4zM368 128h4v4h-4zM364 160h4v4h-4zM364 164h4v4h-4zM364 168h4v4h-4zM360 192h4v4h-4zM356 224h4v4h-4zM356 228h4v4h-4z"/>
<path fill="#9c72d2" d="M396 40h4v4h-4zM392 44h8v4h-8zM392 48h4v4h-4zM388 52h4v4h-4zM388 56h4v4h-4zM384 64h4v4h-4zM384 68h4v4h-4zM380 72h4v4h-4zM380 76h4v4h-4zM376 84h4v4h-4zM376 88h4v4h-4zM372 100h4v4h-4zM372 104h4v4h-4zM372 108h4v4h-4zM372 112h4v4h-4zM372 116h4v4h-4zM368 136h4v4h-4zM368 140h4v4h-4zM368 144h4v4h-4zM368 148h4v4h-4zM368 152h4v4h-4zM364 176h4v4h-4zM364 180h4v4h-4zM360 200h4v4h-4zM360 204h4v4h-4zM360 208h4v4h-4z"/>
<path fill="#a278cc" d="M400 40h4v4h-4zM400 44h4v4h-4zM396 48h4v4h-4zM396 52h4v4h-4zM392 56h4v4h-4zM388 64h4v4h-4zM384 72h4v4h-4zM384 76h4v4h-4zM380 84h4v4h-4zM376 96h4v4h-4zM372 128h4v4h-4zM372 132h4v4h-4zM372 136h4v4h-4zM368 156h4v4h-4zM368 160h4v4h-4zM368 164h4v4h-4zM364 188h4v4h-4zM360 212h4v4h-4zM360 216h4v4h-4zM360 220h4v4h-4zM360 224h4v4h-4zM360 228h4v4h-4z"/>
<path fill="#5a42f0" d="M372 44h4v4h-4z"/>
<path fill="#a87ec6" d="M404 44h4v4h-4zM400 52h4v4h-4zM396 56h4v4h-4zM392 64h4v4h-4zM388 72h4v4h-4zM384 80h4v4h-4zM380 92h4v4h-4zM376 108h4v4h-4zM376 112h4v4h-4zM376 116h4v4h-4zM376 120h4v4h-4zM376 124h4v4h-4zM372 148h4v4h-4zM372 152h4v4h-4zM368 172h4v4h-4zM368 176h4v4h-4zM364 196h4v4h-4zM364 200h4v4h-4z"/>
<path fill="#a87ecc" d="M400 48h4v4h-4zM380 88h4v4h-4zM376 104h4v4h-4zM372 144h4v4h-4z"/>
<path fill="#ae7ec6" d="M404 48h4v4h-4zM400 56h4v4h-4zM396 60h4v4h-4zM392 68h4v4h-4zM388 76h4v4h-4zM384 84h4v4h-4zM380 96h4v4h-4zM376 128h4v4h-4zM376 132h4v4h-4zM372 156h4v4h-4zM368 180h4v4h-4zM364 204h4v4h-4z"/>
<path fill="#b484c0" d="M408 48h4v4h-4zM404 56h4v4h-4zM400 60h4v4h-4zM396 68h4v4h-4zM380 104h4v4h-4zM380 108h4v4h-4zM380 112h4v4h-4zM380 116h4v4h-4zM376 144h4v4h-4zM368 188h4v4h-4zM364 216h4v4h-4zM364 220h4v4h-4zM364 224h4v4h-4zM364 228h4v4h-4zM364 232h4v4h-4z"/>
<path fill="#ba90b4" d="M412 48h4v4h-4zM408 56h4v4h-4zM400 68h4v4h-4zM396 76h4v4h-4zM388 88h4v4h-4zM384 100h4v4h-4zM384 104h4v4h-4zM380 136h4v4h-4zM380 140h4v4h-4zM376 160h4v4h-4zM372 180h4v4h-4zM368 200h4v4h-4z"/>
<path fill="#a278d2" d="M392 52h4v4h-4zM388 60h4v4h-4zM380 80h4v4h-4zM376 92h4v4h-4zM372 124h4v4h-4zM364 184h4v4h-4z"/>
<path fill="#ae84c0" d="M404 52h4v4h-4zM392 72h4v4h-4zM388 80h4v4h-4zM384 88h4v4h-4zM380 100h4v4h-4zM376 140h4v4h-4zM372 164h4v4h-4zM368 184h4v4h-4zM364 212h4v4h-4z"/>
<path fill="#b48aba" d="M408 52h4v4h-4zM400 64h4v4h-4zM396 72h4v4h-4zM392 76h4v4h-4zM388 84h4v4h-4zM384 92h4v4h-4zM380 120h4v4h-4zM380 124h4v4h-4zM380 128h4v4h-4zM376 148h4v4h-4zM376 152h4v4h-4zM372 172h4v4h-4zM368 192h4v4h-4zM364 236h4v4h-4z"/>
<path fill="#ba90ae" d="M412 52h4v4h-4zM404 64h4v4h-4zM392 84h4v4h-4zM384 108h4v4h-4zM384 112h4v4h-4zM376 164h4v4h-4zM372 184h4v4h-4zM368 204h4v4h-4z"/>
<path fill="#c69ca2" d="M416 52h4v4h-4zM412 60h4v4h-4zM396 84h4v4h-4zM392 92h4v4h-4zM388 104h4v4h-4zM388 108h4v4h-4zM384 136h4v4h-4zM380 160h4v4h-4zM376 180h4v4h-4zM372 196h4v4h-4z"/>
<path fill="#cca890" d="M420 52h4v4h-4zM376 192h4v4h-4zM372 216h4v4h-4zM372 228h4v4h-4zM372 232h4v4h-4zM372 236h4v4h-4z"/>
<path fill="#7e5ae4" d="M376 56h4v4h-4zM372 68h4v4h-4zM368 84h4v4h-4zM364 108h4v4h-4zM364 112h4v4h-4zM364 116h4v4h-4zM360 152h4v4h-4zM360 156h4v4h-4zM360 160h4v4h-4zM356 192h4v4h-4zM352 220h4v4h-4zM352 224h4v4h-4z"/>
<path fill="#c096a8" d="M412 56h4v4h-4zM404 68h4v4h-4zM396 80h4v4h-4zM392 88h4v4h-4zM388 96h4v4h-4zM384 128h4v4h-4zM380 152h4v4h-4zM376 172h4v4h-4zM368 216h4v4h-4zM368 220h4v4h-4zM368 224h4v4h-4zM368 228h4v4h-4zM368 232h4v4h-4zM368 236h4v4h-4z"/>
<path fill="#cca29c" d="M416 56h4v4h-4zM408 68h4v4h-4zM400 80h4v4h-4zM392 96h4v4h-4zM388 120h4v4h-4zM384 144h4v4h-4zM380 168h4v4h-4zM372 204h4v4h-4z"/>
<path fill="#d2b48a" d="M420 56h4v4h-4zM392 116h4v4h-4zM388 140h4v4h-4zM384 164h4v4h-4zM380 184h4v4h-4z"/>
<path fill="#dec672" d="M424 56h4v4h-4z"/>
<path fill="#7854ea" d="M372 60h4v4h-4zM368 76h4v4h-4z"/>
<path fill="#9066d8" d="M380 60h4v4h-4zM376 72h4v4h-4zM368 108h4v4h-4zM364 148h4v4h-4zM360 188h4v4h-4zM356 212h4v4h-4z"/>
<path fill="#9672d2" d="M384 60h4v4h-4zM364 172h4v4h-4z"/>
<path fill="#a878cc" d="M392 60h4v4h-4zM388 68h4v4h-4zM376 100h4v4h-4zM372 140h4v4h-4zM368 168h4v4h-4zM364 192h4v4h-4zM360 232h4v4h-4z"/>
<path fill="#ba8aba" d="M404 60h4v4h-4zM384 96h4v4h-4z"/>
<path fill="#c096ae" d="M408 60h4v4h-4zM400 72h4v4h-4zM384 116h4v4h-4zM384 120h4v4h-4zM384 124h4v4h-4zM380 144h4v4h-4zM380 148h4v4h-4zM376 168h4v4h-4zM372 188h4v4h-4zM368 208h4v4h-4zM368 212h4v4h-4z"/>
<path fill="#d2ae90" d="M416 60h4v4h-4zM400 84h4v4h-4zM396 92h4v4h-4zM392 104h4v4h-4zM388 132h4v4h-4zM384 156h4v4h-4zM380 180h4v4h-4zM372 240h4v4h-4z"/>
<path fill="#dec078" d="M420 60h4v4h-4zM404 84h4v4h-4zM400 92h4v4h-4zM396 104h4v4h-4zM396 108h4v4h-4zM392 132h4v4h-4zM388 156h4v4h-4zM380 192h4v4h-4zM376 212h4v4h-4zM376 216h4v4h-4zM376 220h4v4h-4zM376 224h4v4h-4zM376 228h4v4h-4zM376 232h4v4h-4zM376 236h4v4h-4zM376 240h4v4h-4zM376 244h4v4h-4z"/>
<path fill="#eacc60" d="M424 60h4v4h-4z"/>
<path fill="#f0de4e" d="M428 60h4v4h-4zM404 100h4v4h-4zM400 128h4v4h-4zM396 148h4v4h-4zM392 168h4v4h-4zM388 184h4v4h-4z"/>
<path fill="#f6e436" d="M432 60h4v4h-4zM420 76h4v4h-4zM400 140h4v4h-4zM384 228h4v4h-4z"/>
<path fill="#ae84c6" d="M396 64h4v4h-4zM376 136h4v4h-4zM372 160h4v4h-4zM364 208h4v4h-4z"/>
<path fill="#c69ca8" d="M408 64h4v4h-4zM400 76h4v4h-4zM388 100h4v4h-4zM384 132h4v4h-4zM380 156h4v4h-4zM376 176h4v4h-4z"/>
<path fill="#cca896" d="M412 64h4v4h-4zM404 76h4v4h-4zM396 88h4v4h-4zM392 100h4v4h-4zM388 128h4v4h-4zM384 148h4v4h-4zM384 152h4v4h-4zM380 172h4v4h-4zM380 176h4v4h-4zM372 208h4v4h-4zM372 212h4v4h-4z"/>
<path fill="#d8ba7e" d="M416 64h4v4h-4zM408 76h4v4h-4zM396 100h4v4h-4zM392 128h4v4h-4zM388 148h4v4h-4zM384 172h4v4h-4zM380 188h4v4h-4zM376 204h4v4h-4z"/>
<path fill="#e4cc66" d="M420 64h4v4h-4zM412 76h4v4h-4zM400 100h4v4h-4zM396 128h4v4h-4zM392 148h4v4h-4zM388 168h4v4h-4zM388 172h4v4h-4zM384 188h4v4h-4zM380 200h4v4h-4z"/>
<path fill="#f0d854" d="M424 64h4v4h-4zM408 88h4v4h-4zM404 96h4v4h-4zM400 124h4v4h-4zM396 144h4v4h-4zM392 164h4v4h-4zM384 196h4v4h-4z"/>
<path fill="#f6e43c" d="M428 64h4v4h-4zM412 88h4v4h-4zM408 96h4v4h-4zM404 120h4v4h-4zM396 156h4v4h-4zM392 176h4v4h-4zM384 208h4v4h-4zM384 232h4v4h-4zM384 236h4v4h-4zM384 240h4v4h-4zM384 244h4v4h-4z"/>
<path fill="#f6f024" d="M432 64h4v4h-4zM416 88h4v4h-4zM412 96h4v4h-4zM408 116h4v4h-4zM404 136h4v4h-4zM400 152h4v4h-4zM392 184h4v4h-4zM388 196h4v4h-4z"/>
<path fill="#fcf612" d="M436 64h4v4h-4zM424 80h4v4h-4zM412 108h4v4h-4zM412 112h4v4h-4zM408 128h4v4h-4zM388 204h4v4h-4zM388 232h4v4h-4zM388 236h4v4h-4zM388 240h4v4h-4z"/>
<path fill="#fcfc00" d="M440 64h4v4h-4zM436 68h4v4h-4zM428 80h4v4h-4zM424 84h4v4h-4zM420 92h4v4h-4zM416 100h4v4h-4zM416 104h4v4h-4zM416 108h4v4h-4zM416 112h4v4h-4zM416 116h4v4h-4zM416 120h4v4h-4zM412 128h4v4h-4zM412 132h4v4h-4zM408 140h4v4h-4zM408 144h4v4h-4zM408 148h4v4h-4zM404 156h4v4h-4zM404 160h4v4h-4zM404 164h4v4h-4zM400 172h4v4h-4zM400 176h4v4h-4zM396 184h4v4h-4zM396 188h4v4h-4zM392 196h4v4h-4zM392 200h4v4h-4z"/>
<path fill="#d8b484" d="M412 68h4v4h-4zM404 80h4v4h-4zM400 88h4v4h-4zM396 96h4v4h-4zM392 120h4v4h-4zM392 124h4v4h-4zM388 144h4v4h-4zM384 168h4v4h-4zM376 200h4v4h-4z"/>
<path fill="#e4c66c" d="M416 68h4v4h-4zM408 80h4v4h-4zM404 88h4v4h-4zM400 96h4v4h-4zM396 124h4v4h-4zM388 164h4v4h-4zM384 184h4v4h-4z"/>
<path fill="#ead85a" d="M420 68h4v4h-4zM412 80h4v4h-4zM400 120h4v4h-4zM392 160h4v4h-4zM388 180h4v4h-4z"/>
<path fill="#f0e442" d="M424 68h4v4h-4zM416 80h4v4h-4zM404 116h4v4h-4zM400 136h4v4h-4zM396 152h4v4h-4zM388 188h4v4h-4z"/>
<path fill="#f6ea2a" d="M428 68h4v4h-4zM408 108h4v4h-4zM400 148h4v4h-4z"/>
<path fill="#fcf618" d="M432 68h4v4h-4zM420 84h4v4h-4zM416 92h4v4h-4zM412 100h4v4h-4zM412 104h4v4h-4zM408 124h4v4h-4zM404 144h4v4h-4zM400 160h4v4h-4zM396 176h4v4h-4zM392 188h4v4h-4z"/>
<path fill="#fcf600" d="M440 68h4v4h-4zM436 72h4v4h-4zM432 76h4v4h-4zM428 84h4v4h-4zM424 88h4v4h-4zM420 96h4v4h-4zM420 100h4v4h-4zM416 124h4v4h-4zM416 128h4v4h-4zM412 136h4v4h-4zM412 140h4v4h-4zM408 152h4v4h-4zM408 156h4v4h-4zM404 168h4v4h-4zM400 180h4v4h-4zM396 192h4v4h-4zM392 204h4v4h-4zM392 208h4v4h-4zM392 228h4v4h-4zM392 232h4v4h-4zM392 236h4v4h-4zM392 240h4v4h-4z"/>
<path fill="#fcea00" d="M444 68h4v4h-4zM440 72h4v4h-4zM432 84h4v4h-4zM428 88h4v4h-4zM424 96h4v4h-4zM424 100h4v4h-4zM424 104h4v4h-4zM424 108h4v4h-4zM424 112h4v4h-4zM424 116h4v4h-4zM420 128h4v4h-4zM420 132h4v4h-4zM416 140h4v4h-4zM416 144h4v4h-4zM412 156h4v4h-4zM412 160h4v4h-4zM408 168h4v4h-4zM408 172h4v4h-4zM408 176h4v4h-4zM404 180h4v4h-4zM404 184h4v4h-4zM400 192h4v4h-4zM396 200h4v4h-4zM396 204h4v4h-4zM396 240h4v4h-4z"/>
<path fill="#8460e4" d="M372 72h4v4h-4zM356 196h4v4h-4zM352 228h4v4h-4z"/>
<path fill="#c6a2a2" d="M404 72h4v4h-4zM388 112h4v4h-4zM384 140h4v4h-4zM380 164h4v4h-4zM376 184h4v4h-4z"/>
<path fill="#d2ae8a" d="M408 72h4v4h-4zM392 108h4v4h-4zM392 112h4v4h-4zM388 136h4v4h-4zM384 160h4v4h-4zM376 196h4v4h-4z"/>
<path fill="#dec072" d="M412 72h4v4h-4zM396 112h4v4h-4zM396 116h4v4h-4zM392 136h4v4h-4zM388 160h4v4h-4zM384 180h4v4h-4z"/>
<path fill="#ead260" d="M416 72h4v4h-4zM408 84h4v4h-4zM404 92h4v4h-4zM400 104h4v4h-4zM400 108h4v4h-4zM400 112h4v4h-4zM396 132h4v4h-4zM392 152h4v4h-4zM388 176h4v4h-4zM380 204h4v4h-4zM380 208h4v4h-4zM380 236h4v4h-4zM380 240h4v4h-4zM380 244h4v4h-4z"/>
<path fill="#f0de48" d="M420 72h4v4h-4zM412 84h4v4h-4zM408 92h4v4h-4zM404 104h4v4h-4zM404 108h4v4h-4zM404 112h4v4h-4zM400 132h4v4h-4zM392 172h4v4h-4zM384 200h4v4h-4z"/>
<path fill="#f6ea30" d="M424 72h4v4h-4zM416 84h4v4h-4zM412 92h4v4h-4zM408 104h4v4h-4zM404 128h4v4h-4zM400 144h4v4h-4zM396 164h4v4h-4zM392 180h4v4h-4z"/>
<path fill="#fcf61e" d="M428 72h4v4h-4z"/>
<path fill="#fcfc06" d="M432 72h4v4h-4zM420 88h4v4h-4zM412 120h4v4h-4zM412 124h4v4h-4zM408 136h4v4h-4zM404 152h4v4h-4zM400 168h4v4h-4z"/>
<path fill="#fcde00" d="M444 72h4v4h-4zM436 84h4v4h-4zM432 92h4v4h-4zM428 100h4v4h-4zM428 104h4v4h-4zM428 108h4v4h-4zM428 112h4v4h-4zM428 116h4v4h-4zM428 120h4v4h-4zM424 132h4v4h-4zM424 136h4v4h-4zM420 144h4v4h-4zM420 148h4v4h-4zM420 152h4v4h-4zM416 160h4v4h-4zM416 164h4v4h-4zM416 168h4v4h-4zM416 172h4v4h-4zM412 180h4v4h-4zM408 188h4v4h-4zM404 192h4v4h-4zM404 196h4v4h-4zM400 200h4v4h-4zM400 204h4v4h-4z"/>
<path fill="#fcd200" d="M448 72h4v4h-4zM440 84h4v4h-4zM440 88h4v4h-4zM436 96h4v4h-4zM436 100h4v4h-4zM436 104h4v4h-4zM436 108h4v4h-4zM436 112h4v4h-4zM432 120h4v4h-4zM432 124h4v4h-4zM432 128h4v4h-4zM428 136h4v4h-4zM428 140h4v4h-4zM424 148h4v4h-4zM424 152h4v4h-4zM424 156h4v4h-4zM424 160h4v4h-4zM424 164h4v4h-4zM420 172h4v4h-4zM420 176h4v4h-4zM416 184h4v4h-4zM412 192h4v4h-4zM408 196h4v4h-4zM408 200h4v4h-4zM404 204h4v4h-4zM404 208h4v4h-4zM404 212h4v4h-4z"/>
<path fill="#fcc000" d="M452 72h4v4h-4zM448 80h4v4h-4zM448 84h4v4h-4zM448 88h4v4h-4zM448 92h4v4h-4zM448 96h4v4h-4zM448 100h4v4h-4zM448 104h4v4h-4zM448 108h4v4h-4zM444 112h8v4h-8zM444 116h8v4h-8zM444 120h4v4h-4zM444 124h4v4h-4zM444 128h4v4h-4zM440 132h8v4h-8zM440 136h4v4h-4zM440 140h4v4h-4zM436 144h8v4h-8zM436 148h4v4h-4zM436 152h4v4h-4zM436 156h4v4h-4zM436 160h4v4h-4zM432 164h4v4h-4zM432 168h4v4h-4zM428 172h4v4h-4zM424 180h4v4h-4zM420 188h4v4h-4zM416 196h4v4h-4zM416 200h4v4h-4zM412 204h4v4h-4zM412 208h4v4h-4zM412 212h4v4h-4zM412 216h4v4h-4zM412 220h4v4h-4zM412 224h4v4h-4zM412 228h4v4h-4zM412 232h4v4h-4zM412 236h4v4h-4z"/>
<path fill="#f0de54" d="M416 76h4v4h-4z"/>
<path fill="#f6f01e" d="M424 76h4v4h-4z"/>
<path fill="#fcfc0c" d="M428 76h4v4h-4zM416 96h4v4h-4zM412 116h4v4h-4zM396 180h4v4h-4zM392 192h4v4h-4zM388 212h4v4h-4zM388 216h4v4h-4zM388 220h4v4h-4zM388 224h4v4h-4zM388 228h4v4h-4z"/>
<path fill="#fcf000" d="M436 76h4v4h-4zM432 80h4v4h-4zM424 92h4v4h-4zM420 104h4v4h-4zM420 108h4v4h-4zM420 112h4v4h-4zM420 116h4v4h-4zM420 120h4v4h-4zM420 124h4v4h-4zM416 132h4v4h-4zM416 136h4v4h-4zM412 144h4v4h-4zM412 148h4v4h-4zM412 152h4v4h-4zM408 160h4v4h-4zM408 164h4v4h-4zM404 172h4v4h-4zM404 176h4v4h-4zM400 184h4v4h-4zM400 188h4v4h-4zM396 196h4v4h-4zM392 212h4v4h-4zM392 216h4v4h-4zM392 220h4v4h-4zM392 224h4v4h-4z"/>
<path fill="#fce400" d="M440 76h4v4h-4zM436 80h4v4h-4zM432 88h4v4h-4zM428 92h4v4h-4zM428 96h4v4h-4zM424 120h4v4h-4zM424 124h4v4h-4zM424 128h4v4h-4zM420 136h4v4h-4zM420 140h4v4h-4zM416 148h4v4h-4zM416 152h4v4h-4zM416 156h4v4h-4zM412 164h4v4h-4zM412 168h4v4h-4zM412 172h4v4h-4zM412 176h4v4h-4zM408 180h4v4h-4zM408 184h4v4h-4zM404 188h4v4h-4zM400 196h4v4h-4zM396 208h4v4h-4zM396 212h4v4h-4zM396 216h4v4h-4zM396 220h4v4h-4zM396 224h4v4h-4zM396 228h4v4h-4zM396 232h4v4h-4zM396 236h4v4h-4z"/>
<path fill="#fcd800" d="M444 76h4v4h-4zM440 80h4v4h-4zM436 88h4v4h-4zM436 92h4v4h-4zM432 96h4v4h-4zM432 100h4v4h-4zM432 104h4v4h-4zM432 108h4v4h-4zM432 112h4v4h-4zM432 116h4v4h-4zM428 124h4v4h-4zM428 128h4v4h-4zM428 132h4v4h-4zM424 140h4v4h-4zM424 144h4v4h-4zM420 156h4v4h-4zM420 160h4v4h-4zM420 164h4v4h-4zM420 168h4v4h-4zM416 176h4v4h-4zM416 180h4v4h-4zM412 184h4v4h-4zM412 188h4v4h-4zM408 192h4v4h-4zM404 200h4v4h-4zM400 208h4v4h-4zM400 212h4v4h-4zM400 216h4v4h-4zM400 220h4v4h-4zM400 224h4v4h-4zM400 228h4v4h-4zM400 232h4v4h-4zM400 236h4v4h-4zM400 240h4v4h-4z"/>
<path fill="#fcc600" d="M448 76h4v4h-4zM444 88h4v4h-4zM444 92h4v4h-4zM444 96h4v4h-4zM444 100h4v4h-4zM444 104h4v4h-4zM444 108h4v4h-4zM440 112h4v4h-4zM440 116h4v4h-4zM440 120h4v4h-4zM440 124h4v4h-4zM440 128h4v4h-4zM436 132h4v4h-4zM436 136h4v4h-4zM436 140h4v4h-4zM432 144h4v4h-4zM432 148h4v4h-4zM432 152h4v4h-4zM432 156h4v4h-4zM432 160h4v4h-4zM428 164h4v4h-4zM428 168h4v4h-4zM424 176h4v4h-4zM420 184h4v4h-4zM416 192h4v4h-4zM412 200h4v4h-4zM408 208h4v4h-4zM408 212h4v4h-4zM408 216h4v4h-4zM408 220h4v4h-4zM408 224h4v4h-4zM408 228h4v4h-4zM408 232h4v4h-4zM408 236h4v4h-4z"/>
<path fill="#fcba00" d="M452 76h4v4h-4zM452 80h4v4h-4zM452 84h4v4h-4zM452 88h4v4h-4zM452 92h4v4h-4zM452 96h4v4h-4zM452 100h4v4h-4zM452 104h4v4h-4zM452 108h4v4h-4zM452 112h4v4h-4zM452 116h4v4h-4zM448 120h8v4h-8zM448 124h8v4h-8zM448 128h8v4h-8zM448 132h4v4h-4zM444 136h8v4h-8zM444 140h8v4h-8zM444 144h4v4h-4zM440 148h8v4h-8zM440 152h8v4h-8zM440 156h4v4h-4zM440 160h4v4h-4zM436 164h4v4h-4zM436 168h4v4h-4zM432 172h4v4h-4zM428 176h4v4h-4zM428 180h4v4h-4zM424 184h4v4h-4zM424 188h4v4h-4zM420 192h4v4h-4zM420 196h4v4h-4zM416 204h4v4h-4zM416 208h4v4h-4zM416 212h4v4h-4zM416 216h4v4h-4zM416 220h4v4h-4zM416 224h4v4h-4zM416 228h4v4h-4zM416 232h4v4h-4z"/>
<path fill="#fcb400" d="M456 76h4v4h-4zM456 88h4v4h-4zM456 92h4v4h-4zM456 96h4v4h-4zM456 100h4v4h-4zM456 104h8v4h-8zM456 108h8v4h-8zM456 112h8v4h-8zM456 116h8v4h-8zM456 120h8v4h-8zM456 124h8v4h-8zM456 128h8v4h-8zM452 132h12v4h-12zM452 136h8v4h-8zM452 140h8v4h-8zM448 144h8v4h-8zM448 148h8v4h-8zM448 152h4v4h-4zM444 156h4v4h-4zM444 160h4v4h-4zM440 164h4v4h-4zM440 168h4v4h-4zM436 172h4v4h-4zM432 176h4v4h-4zM432 180h4v4h-4zM428 184h4v4h-4zM428 188h4v4h-4zM424 192h4v4h-4zM424 196h4v4h-4zM420 200h4v4h-4zM420 204h4v4h-4zM420 208h4v4h-4zM420 212h4v4h-4zM420 216h4v4h-4z"/>
<path fill="#fcae00" d="M460 76h4v4h-4zM456 80h4v4h-4zM456 84h8v4h-8zM460 88h4v4h-4zM460 92h4v4h-4zM460 96h8v4h-8zM460 100h8v4h-8zM464 104h4v4h-4zM464 108h8v4h-8zM464 112h8v4h-8zM464 116h8v4h-8zM464 120h12v4h-12zM464 124h12v4h-12zM464 128h12v4h-12zM464 132h8v4h-8zM460 136h12v4h-12zM460 140h8v4h-8zM456 144h8v4h-8zM456 148h8v4h-8zM452 152h8v4h-8zM448 156h8v4h-8zM448 160h4v4h-4zM444 164h8v4h-8zM444 168h4v4h-4zM440 172h4v4h-4zM436 176h8v4h-8zM436 180h4v4h-4zM432 184h4v4h-4zM432 188h4v4h-4zM428 192h4v4h-4zM428 196h4v4h-4zM424 200h4v4h-4zM424 204h4v4h-4zM424 208h4v4h-4zM424 212h4v4h-4zM424 216h4v4h-4zM420 220h8v4h-8zM420 224h4v4h-4zM420 228h4v4h-4zM420 232h4v4h-4z"/>
<path fill="#ba8ab4" d="M392 80h4v4h-4zM380 132h4v4h-4zM376 156h4v4h-4zM372 176h4v4h-4zM368 196h4v4h-4z"/>
<path fill="#f6f02a" d="M420 80h4v4h-4zM408 112h4v4h-4zM404 132h4v4h-4zM396 168h4v4h-4z"/>
<path fill="#fccc00" d="M444 80h4v4h-4zM444 84h4v4h-4zM440 92h4v4h-4zM440 96h4v4h-4zM440 100h4v4h-4zM440 104h4v4h-4zM440 108h4v4h-4zM436 116h4v4h-4zM436 120h4v4h-4zM436 124h4v4h-4zM436 128h4v4h-4zM432 132h4v4h-4zM432 136h4v4h-4zM432 140h4v4h-4zM428 144h4v4h-4zM428 148h4v4h-4zM428 152h4v4h-4zM428 156h4v4h-4zM428 160h4v4h-4zM424 168h4v4h-4zM424 172h4v4h-4zM420 180h4v4h-4zM416 188h4v4h-4zM412 196h4v4h-4zM408 204h4v4h-4zM404 216h4v4h-4zM404 220h4v4h-4zM404 224h4v4h-4zM404 228h4v4h-4zM404 232h4v4h-4zM404 236h4v4h-4z"/>
<path fill="#fca800" d="M460 80h8v4h-8zM464 84h4v4h-4zM464 88h4v4h-4zM464 92h8v4h-8zM468 96h4v4h-4zM468 100h8v4h-8zM468 104h8v4h-8zM472 108h4v4h-4zM472 112h8v4h-8zM472 116h8v4h-8zM476 120h8v4h-8zM476 124h8v4h-8zM476 128h4v4h-4zM472 132h8v4h-8zM472 136h4v4h-4zM468 140h8v4h-8zM464 144h8v4h-8zM464 148h4v4h-4zM460 152h4v4h-4zM456 156h8v4h-8zM452 160h8v4h-8zM452 164h4v4h-4zM448 168h4v4h-4zM444 172h4v4h-4zM444 176h4v4h-4zM440 180h4v4h-4zM436 184h8v4h-8zM436 188h4v4h-4zM432 192h8v4h-8zM432 196h4v4h-4zM428 200h8v4h-8zM428 204h4v4h-4zM428 208h4v4h-4zM428 212h4v4h-4zM428 216h4v4h-4zM428 220h4v4h-4zM424 224h4v4h-4zM424 228h4v4h-4zM424 232h4v4h-4z"/>
<path fill="#fca200" d="M468 84h8v4h-8zM468 88h8v4h-8zM472 92h4v4h-4zM472 96h8v4h-8zM476 100h4v4h-4zM476 104h4v4h-4zM476 108h8v4h-8zM480 112h4v4h-4zM480 116h8v4h-8zM484 120h4v4h-4zM484 124h4v4h-4zM480 128h8v4h-8zM480 132h4v4h-4zM476 136h8v4h-8zM476 140h4v4h-4zM472 144h4v4h-4zM468 148h8v4h-8zM464 152h8v4h-8zM464 156h4v4h-4zM460 160h4v4h-4zM456 164h4v4h-4zM452 168h4v4h-4zM448 172h8v4h-8zM448 176h4v4h-4zM444 180h4v4h-4zM444 184h4v4h-4zM440 188h4v4h-4zM440 192h4v4h-4zM436 196h4v4h-4zM436 200h4v4h-4zM432 204h8v4h-8zM432 208h4v4h-4zM432 212h4v4h-4zM432 216h4v4h-4zM432 220h4v4h-4zM428 224h4v4h-4zM428 228h4v4h-4z"/>
<path fill="#fc9c00" d="M476 88h8v4h-8zM476 92h8v4h-8zM480 96h4v4h-4zM480 100h8v4h-8zM480 104h8v4h-8zM484 108h4v4h-4zM484 112h4v4h-4zM488 116h4v4h-4zM488 120h4v4h-4zM488 124h4v4h-4zM488 128h4v4h-4zM484 132h4v4h-4zM484 136h4v4h-4zM480 140h4v4h-4zM476 144h4v4h-4zM476 148h4v4h-4zM472 152h4v4h-4zM468 156h4v4h-4zM464 160h4v4h-4zM460 164h4v4h-4zM456 168h8v4h-8zM456 172h4v4h-4zM452 176h4v4h-4zM448 180h8v4h-8zM448 184h4v4h-4zM444 188h8v4h-8zM444 192h4v4h-4zM440 196h8v4h-8zM440 200h4v4h-4zM440 204h4v4h-4zM436 208h4v4h-4zM436 212h4v4h-4zM436 216h4v4h-4zM436 220h4v4h-4zM432 224h4v4h-4zM432 228h4v4h-4z"/>
<path fill="#c090ae" d="M388 92h4v4h-4z"/>
<path fill="#fc9600" d="M484 92h4v4h-4zM484 96h8v4h-8zM488 100h4v4h-4zM488 104h4v4h-4zM488 108h4v4h-4zM488 112h4v4h-4zM492 120h4v4h-4zM488 132h4v4h-4zM488 136h4v4h-4zM484 140h4v4h-4zM480 144h8v4h-8zM480 148h4v4h-4zM476 152h4v4h-4zM472 156h4v4h-4zM468 160h4v4h-4zM464 164h8v4h-8zM464 168h4v4h-4zM460 172h4v4h-4zM456 176h4v4h-4zM456 180h4v4h-4zM452 184h4v4h-4zM452 188h4v4h-4zM448 192h4v4h-4zM448 196h4v4h-4zM444 200h4v4h-4zM444 204h4v4h-4zM440 208h8v4h-8zM440 212h4v4h-4zM440 216h4v4h-4zM440 220h4v4h-4zM436 224h4v4h-4zM436 228h4v4h-4z"/>
<path fill="#8a60de" d="M368 96h4v4h-4z"/>
<path fill="#9672d8" d="M372 96h4v4h-4zM368 132h4v4h-4zM360 196h4v4h-4z"/>
<path fill="#fc9000" d="M492 96h4v4h-4zM492 100h4v4h-4zM492 104h4v4h-4zM492 108h4v4h-4zM492 112h4v4h-4zM492 116h4v4h-4zM492 124h4v4h-4zM492 128h4v4h-4zM492 132h4v4h-4zM492 136h4v4h-4zM488 140h4v4h-4zM488 144h4v4h-4zM484 148h4v4h-4zM480 152h4v4h-4zM476 156h4v4h-4zM472 160h4v4h-4zM472 164h4v4h-4zM468 168h4v4h-4zM464 172h4v4h-4zM460 176h8v4h-8zM460 180h4v4h-4zM456 184h4v4h-4zM456 188h4v4h-4zM452 192h4v4h-4zM452 196h4v4h-4zM448 200h4v4h-4zM448 204h4v4h-4zM448 208h4v4h-4zM444 212h4v4h-4zM444 216h4v4h-4zM444 220h4v4h-4zM440 224h4v4h-4zM440 228h4v4h-4z"/>
<path fill="#f6ea36" d="M408 100h4v4h-4zM404 124h4v4h-4zM396 160h4v4h-4zM388 192h4v4h-4zM384 212h4v4h-4zM384 216h4v4h-4zM384 220h4v4h-4zM384 224h4v4h-4z"/>
<path fill="#fc8a00" d="M496 100h4v4h-4zM496 104h4v4h-4zM496 108h4v4h-4zM496 112h4v4h-4zM496 116h4v4h-4zM496 120h4v4h-4zM496 124h4v4h-4zM496 128h4v4h-4zM496 132h4v4h-4zM496 136h4v4h-4zM492 140h8v4h-8zM492 144h4v4h-4zM488 148h4v4h-4zM484 152h4v4h-4zM480 156h4v4h-4zM476 160h4v4h-4zM476 164h4v4h-4zM472 168h4v4h-4zM468 172h8v4h-8zM468 176h4v4h-4zM464 180h4v4h-4zM460 184h4v4h-4zM460 188h4v4h-4zM456 192h4v4h-4zM456 196h4v4h-4zM452 200h8v4h-8zM452 204h4v4h-4zM452 208h4v4h-4zM448 212h4v4h-4zM448 216h4v4h-4zM448 220h4v4h-4zM444 224h8v4h-8z"/>
<path fill="#fc8400" d="M500 100h4v4h-4zM500 104h4v4h-4zM500 108h4v4h-4zM500 112h4v4h-4zM500 116h4v4h-4zM500 120h4v4h-4zM500 124h4v4h-4zM500 128h4v4h-4zM500 132h4v4h-4zM500 136h4v4h-4zM500 140h4v4h-4zM496 144h8v4h-8zM492 148h8v4h-8zM488 152h8v4h-8zM484 156h8v4h-8zM480 160h8v4h-8zM480 164h4v4h-4zM476 168h8v4h-8zM476 172h8v4h-8zM472 176h8v4h-8zM468 180h8v4h-8zM464 184h8v4h-8zM464 188h8v4h-8zM460 192h8v4h-8zM460 196h8v4h-8zM460 200h4v4h-4zM456 204h8v4h-8zM456 208h8v4h-8zM452 212h8v4h-8zM452 216h8v4h-8zM452 220h4v4h-4zM452 224h4v4h-4z"/>
<path fill="#fc7e00" d="M504 104h4v4h-4zM504 108h8v4h-8zM504 112h8v4h-8zM504 116h8v4h-8zM504 120h8v4h-8zM504 124h8v4h-8zM504 128h8v4h-8zM504 132h12v4h-12zM504 136h12v4h-12zM504 140h16v4h-16zM504 144h16v4h-16zM500 148h16v4h-16zM496 152h20v4h-20zM492 156h20v4h-20zM488 160h20v4h-20zM484 164h16v4h-16zM484 168h16v4h-16zM584 168h12v4h-12zM484 172h12v4h-12zM576 172h24v4h-24zM480 176h20v4h-20zM572 176h28v4h-28zM476 180h20v4h-20zM568 180h32v4h-32zM472 184h24v4h-24zM532 184h8v4h-8zM568 184h20v4h-20zM472 188h20v4h-20zM528 188h20v4h-20zM564 188h12v4h-12zM468 192h16v4h-16zM524 192h24v4h-24zM468 196h12v4h-12zM520 196h28v4h-28zM464 200h16v4h-16zM520 200h16v4h-16zM464 204h16v4h-16zM464 208h12v4h-12zM460 212h16v4h-16zM460 216h16v4h-16zM456 220h12v4h-12z"/>
<path fill="#fc7800" d="M512 108h4v4h-4zM512 112h12v4h-12zM512 116h16v4h-16zM512 120h20v4h-20zM512 124h24v4h-24zM512 128h24v4h-24zM516 132h16v4h-16zM516 136h16v4h-16zM520 140h16v4h-16zM520 144h16v4h-16zM516 148h24v4h-24zM516 152h28v4h-28zM512 156h36v4h-36zM588 156h8v4h-8zM508 160h52v4h-52zM572 160h28v4h-28zM500 164h108v4h-108zM500 168h84v4h-84zM596 168h16v4h-16zM496 172h80v4h-80zM600 172h12v4h-12zM500 176h72v4h-72zM600 176h12v4h-12zM496 180h72v4h-72zM496 184h36v4h-36zM540 184h28v4h-28zM492 188h36v4h-36zM548 188h16v4h-16zM484 192h40v4h-40zM548 192h12v4h-12zM480 196h40v4h-40zM480 200h40v4h-40zM480 204h40v4h-40zM476 208h32v4h-32zM476 212h20v4h-20zM476 216h8v4h-8z"/>
<path fill="#c6a29c" d="M388 116h4v4h-4zM372 200h4v4h-4z"/>
<path fill="#ead25a" d="M400 116h4v4h-4zM396 136h4v4h-4zM392 156h4v4h-4zM384 192h4v4h-4zM380 212h4v4h-4zM380 216h4v4h-4zM380 220h4v4h-4zM380 224h4v4h-4zM380 228h4v4h-4zM380 232h4v4h-4z"/>
<path fill="#9c78d2" d="M372 120h4v4h-4z"/>
<path fill="#dec66c" d="M396 120h4v4h-4zM392 140h4v4h-4zM380 196h4v4h-4z"/>
<path fill="#fcf01e" d="M408 120h4v4h-4zM404 140h4v4h-4zM400 156h4v4h-4zM396 172h4v4h-4zM388 200h4v4h-4z"/>
<path fill="#fc7200" d="M532 120h4v4h-4zM536 124h4v4h-4zM536 128h12v4h-12zM532 132h16v4h-16zM532 136h16v4h-16zM536 140h16v4h-16zM536 144h20v4h-20zM540 148h20v4h-20zM544 152h44v4h-44zM548 156h40v4h-40zM560 160h12v4h-12zM612 168h4v4h-4zM612 172h8v4h-8zM612 176h4v4h-4z"/>
<path fill="#cca89c" d="M388 124h4v4h-4zM376 188h4v4h-4z"/>
<path fill="#fcf60c" d="M408 132h4v4h-4zM404 148h4v4h-4zM400 164h4v4h-4zM388 208h4v4h-4z"/>
<path fill="#fc6c00" d="M548 132h8v4h-8zM548 136h12v4h-12zM552 140h16v4h-16zM556 144h20v4h-20zM560 148h20v4h-20z"/>
<path fill="#7854e4" d="M360 136h4v4h-4z"/>
<path fill="#ead854" d="M396 140h4v4h-4z"/>
<path fill="#e4cc6c" d="M392 144h4v4h-4z"/>
<path fill="#d8ba78" d="M388 152h4v4h-4z"/>
<path fill="#6648ea" d="M356 160h4v4h-4z"/>
<path fill="#664eea" d="M356 164h4v4h-4z"/>
<path fill="#b48ac0" d="M372 168h4v4h-4z"/>
<path fill="#deba78" d="M384 176h4v4h-4zM376 208h4v4h-4z"/>
<path fill="#c09ca8" d="M372 192h4v4h-4z"/>
<path fill="#f6e442" d="M384 204h4v4h-4z"/>
<path fill="#d2a890" d="M372 220h4v4h-4zM372 224h4v4h-4z"/>
</g>
<path fill="none" stroke="#111" stroke-width="0.9" d="M356.0 246.0L359.8 210.0L365.1 176.0L367.6 149.0L370.8 122.0L371.9 107.0L373.0 100.0L378.0 80.8L384.0 62.7L389.0 51.7L400.3 30.0M365.0 246.0L365.9 234.0L366.5 215.0L367.4 206.0L379.6 137.0L381.6 122.0L382.3 107.0L383.2 101.0L386.0 92.9L392.0 80.6L398.6 69.0L410.0 51.0L412.4 45.0L417.4 30.0M373.6 246.0L374.0 235.0L373.9 217.0L374.7 208.0L376.3 200.0L381.0 183.0L383.2 173.0L391.4 124.0L393.3 106.0L394.4 101.0L397.0 94.0L401.3 86.0L407.6 76.0L420.5 57.0L425.1 47.0L431.7 30.0M382.0 246.0L381.5 219.0L382.4 207.0L383.9 200.0L388.6 184.0L390.8 175.0L395.1 150.0L401.0 122.0L402.7 105.0L403.8 100.0L407.1 92.0L414.0 80.2L420.0 71.3L430.9 57.0L434.2 52.0L438.5 44.0L445.4 30.0M389.3 246.0L388.2 219.0L388.4 212.0L389.2 206.0L390.7 199.0L396.4 181.0L400.5 165.0L409.8 125.0L412.9 106.0L414.0 101.0L416.4 95.0L420.8 87.0L426.0 79.0L438.6 62.0L457.3 30.0M396.3 246.0L395.5 239.0L394.6 220.0L394.8 213.0L395.6 207.0L398.0 198.4L406.4 177.0L414.0 150.2L421.4 126.0L423.1 117.0L423.3 104.0L424.5 98.0L426.2 94.0L428.6 90.0L434.2 82.0L443.0 71.1L452.0 54.8L468.7 30.0M404.3 246.0L403.1 238.0L402.7 225.0L402.9 217.0L403.7 211.0L405.0 206.4L406.9 202.0L417.0 184.6L420.4 176.0L422.0 169.0L425.4 149.0L433.6 120.0L434.5 114.0L435.8 101.0L438.2 92.0L441.7 84.0L448.0 75.1L451.0 69.4L455.0 63.2L480.9 30.0M415.3 246.0L414.9 240.0L414.9 220.0L415.3 214.0L416.1 209.0L417.9 203.0L421.0 195.7L437.2 165.0L441.2 153.0L448.5 127.0L450.5 117.0L451.7 105.0L452.0 82.0L452.6 78.0L453.7 76.0L457.0 72.2L479.9 48.0L496.1 30.0M432.1 246.0L432.1 240.0L432.9 233.0L437.3 213.0L440.5 203.0L446.3 190.0L451.4 180.0L456.0 173.0L473.0 152.6L481.1 142.0L484.5 136.0L487.0 129.3L488.0 124.0L487.7 120.0L484.3 111.0L476.5 87.0L476.0 82.0L477.1 78.0L480.2 73.0L485.2 67.0L520.4 30.0M482.7 246.0L484.9 243.0L487.2 241.0L491.0 238.8L495.0 237.3L503.0 236.1L523.0 236.0L535.0 234.3L544.0 232.1L554.0 229.1L575.0 221.2L587.0 215.1L592.0 211.9L597.0 207.9L601.0 204.1L604.4 200.0L607.0 196.0L609.5 191.0L611.0 186.2L611.7 182.0L611.8 177.0L611.1 173.0L609.7 169.0L607.1 165.0L604.1 162.0L601.0 160.1L596.0 158.4L591.0 158.1L587.0 158.7L580.0 160.9L572.0 162.7L567.0 163.3L562.0 163.1L556.0 162.0L551.0 160.2L546.0 157.6L541.3 154.0L538.6 151.0L536.6 148.0L534.7 144.0L533.0 139.0L532.3 134.0L532.7 132.0L534.5 128.0L534.2 126.0L532.5 123.0L527.5 117.0L525.5 113.0L524.9 107.0L526.0 98.0L528.6 89.0L532.1 81.0L536.0 74.0L541.4 66.0L568.3 30.0"/>
</g>
<path fill="none" stroke="#000" stroke-width="1.3" stroke-dasharray="4.2 2.8" d="M349.1 253.9L381.2 21.3M349.1 253.9L413.4 21.3M349.1 253.9L477.7 21.3M349.1 253.9L606.2 21.3M349.1 253.9L634.9 124.6M349.1 253.9L613.8 174.1"/>
<g fill="#000"><circle cx="379.7" cy="32.6" r="2.15"/><circle cx="364.4" cy="143.3" r="2.15"/><circle cx="356.7" cy="198.6" r="2.15"/><circle cx="352.9" cy="226.2" r="2.15"/><circle cx="405.9" cy="48.4" r="2.15"/><circle cx="377.5" cy="151.2" r="2.15"/><circle cx="363.3" cy="202.5" r="2.15"/><circle cx="356.2" cy="228.2" r="2.15"/><circle cx="448.4" cy="74.2" r="2.15"/><circle cx="398.8" cy="164.0" r="2.15"/><circle cx="373.9" cy="209.0" r="2.15"/><circle cx="361.5" cy="231.4" r="2.15"/><circle cx="508.0" cy="110.2" r="2.15"/><circle cx="428.5" cy="182.0" r="2.15"/><circle cx="388.8" cy="218.0" r="2.15"/><circle cx="369.0" cy="235.9" r="2.15"/><circle cx="576.0" cy="151.3" r="2.15"/><circle cx="462.6" cy="202.6" r="2.15"/><circle cx="405.8" cy="228.2" r="2.15"/><circle cx="377.5" cy="241.1" r="2.15"/><circle cx="613.8" cy="174.1" r="2.15"/><circle cx="481.4" cy="214.0" r="2.15"/><circle cx="415.3" cy="233.9" r="2.15"/><circle cx="382.2" cy="243.9" r="2.15"/></g>
<g font-size="10" fill="#111"><text x="0" y="3.6" transform="translate(374.1 30.9) rotate(-82.1)" text-anchor="middle">1:16</text><text x="0" y="3.6" transform="translate(404.6 33.1) rotate(-74.6)" text-anchor="middle">1:8</text><text x="0" y="3.6" transform="translate(447.8 61.1) rotate(-61.1)" text-anchor="middle">1:4</text><text x="0" y="3.6" transform="translate(510.7 99.5) rotate(-42.1)" text-anchor="middle">1:2</text><text x="0" y="3.6" transform="translate(580.8 144.3) rotate(-24.3)" text-anchor="middle">1:1</text><text x="0" y="3.6" transform="translate(621.4 168.4) rotate(-16.8)" text-anchor="middle">1.5:1</text></g>
<rect x="349.1" y="20.30" width="286.8" height="233.60" fill="none" stroke="#000" stroke-width="1.8"/>
<path stroke="#000" stroke-width="0.9" fill="none" d="M348.2 253.9h-3.6M348.2 187.0h-3.6M348.2 120.1h-3.6M348.2 53.2h-3.6M349.1 254.8v3.4M423.1 254.8v3.4M497.0 254.8v3.4M571.0 254.8v3.4"/>
<rect x="550.1" y="27.9" width="59" height="94" fill="#fff"/>
<text x="553.4" y="40.6" font-size="11.8" fill="#1a1a1a">Survival</text>
<text x="553.4" y="51.7" font-size="11.8" fill="#1a1a1a">proportion</text>
<rect x="553.1" y="57.30" width="12.3" height="1.83" fill="#ff0600"/>
<rect x="553.1" y="58.83" width="12.3" height="1.83" fill="#ff1300"/>
<rect x="553.1" y="60.37" width="12.3" height="1.83" fill="#ff2000"/>
<rect x="553.1" y="61.90" width="12.3" height="1.83" fill="#ff2d00"/>
<rect x="553.1" y="63.44" width="12.3" height="1.83" fill="#ff3900"/>
<rect x="553.1" y="64.97" width="12.3" height="1.83" fill="#ff4600"/>
<rect x="553.1" y="66.51" width="12.3" height="1.83" fill="#ff5300"/>
<rect x="553.1" y="68.05" width="12.3" height="1.83" fill="#ff6000"/>
<rect x="553.1" y="69.58" width="12.3" height="1.83" fill="#ff6c00"/>
<rect x="553.1" y="71.11" width="12.3" height="1.83" fill="#ff7900"/>
<rect x="553.1" y="72.65" width="12.3" height="1.83" fill="#ff8600"/>
<rect x="553.1" y="74.19" width="12.3" height="1.83" fill="#ff9300"/>
<rect x="553.1" y="75.72" width="12.3" height="1.83" fill="#ff9f00"/>
<rect x="553.1" y="77.25" width="12.3" height="1.83" fill="#ffac00"/>
<rect x="553.1" y="78.79" width="12.3" height="1.83" fill="#ffb900"/>
<rect x="553.1" y="80.32" width="12.3" height="1.83" fill="#ffc600"/>
<rect x="553.1" y="81.86" width="12.3" height="1.83" fill="#ffd200"/>
<rect x="553.1" y="83.39" width="12.3" height="1.83" fill="#ffdf00"/>
<rect x="553.1" y="84.93" width="12.3" height="1.83" fill="#ffec00"/>
<rect x="553.1" y="86.47" width="12.3" height="1.83" fill="#fff900"/>
<rect x="553.1" y="88.00" width="12.3" height="1.83" fill="#fcf90e"/>
<rect x="553.1" y="89.53" width="12.3" height="1.83" fill="#f7ec2b"/>
<rect x="553.1" y="91.07" width="12.3" height="1.83" fill="#f2e047"/>
<rect x="553.1" y="92.60" width="12.3" height="1.83" fill="#ead35c"/>
<rect x="553.1" y="94.14" width="12.3" height="1.83" fill="#e2c76c"/>
<rect x="553.1" y="95.67" width="12.3" height="1.83" fill="#daba7d"/>
<rect x="553.1" y="97.21" width="12.3" height="1.83" fill="#d1ae8e"/>
<rect x="553.1" y="98.75" width="12.3" height="1.83" fill="#c9a19e"/>
<rect x="553.1" y="100.28" width="12.3" height="1.83" fill="#c096ab"/>
<rect x="553.1" y="101.81" width="12.3" height="1.83" fill="#b78cb8"/>
<rect x="553.1" y="103.35" width="12.3" height="1.83" fill="#ae81c4"/>
<rect x="553.1" y="104.88" width="12.3" height="1.83" fill="#a57acb"/>
<rect x="553.1" y="106.42" width="12.3" height="1.83" fill="#9c73d2"/>
<rect x="553.1" y="107.95" width="12.3" height="1.83" fill="#926bd9"/>
<rect x="553.1" y="109.49" width="12.3" height="1.83" fill="#8360e0"/>
<rect x="553.1" y="111.03" width="12.3" height="1.83" fill="#7555e7"/>
<rect x="553.1" y="112.56" width="12.3" height="1.83" fill="#6448ee"/>
<rect x="553.1" y="114.09" width="12.3" height="1.83" fill="#4f37f4"/>
<rect x="553.1" y="115.63" width="12.3" height="1.83" fill="#3a26fa"/>
<rect x="553.1" y="117.16" width="12.3" height="1.83" fill="#2315fd"/>
<text x="566.6" y="65.3" font-size="8.7" font-weight="bold" fill="#111">1.00</text>
<text x="566.6" y="78.3" font-size="8.7" font-weight="bold" fill="#111">0.75</text>
<text x="566.6" y="91.8" font-size="8.7" font-weight="bold" fill="#111">0.50</text>
<text x="566.6" y="105.3" font-size="8.7" font-weight="bold" fill="#111">0.25</text>
<text x="566.6" y="118.3" font-size="8.7" font-weight="bold" fill="#111">0.00</text>
<text x="42.6" y="257.3" font-size="9.6" font-weight="bold" text-anchor="end" fill="#111">0</text>
<text x="42.6" y="190.4" font-size="9.6" font-weight="bold" text-anchor="end" fill="#111">100</text>
<text x="42.6" y="123.5" font-size="9.6" font-weight="bold" text-anchor="end" fill="#111">200</text>
<text x="42.6" y="56.6" font-size="9.6" font-weight="bold" text-anchor="end" fill="#111">300</text>
<text transform="translate(13.2 127.5) rotate(-90)" font-size="15.5" text-anchor="middle" fill="#111">Carbohydrate (g/L)</text>
<clipPath id="cp3"><polygon points="55.3,472.9 82.1,279.3 316.2,420.8 84.6,490.6"/></clipPath>
<g clip-path="url(#cp3)"><g filter="url(#blr)">
<path fill="#fc9000" d="M79 279h4v4h-4zM75 291h4v4h-4zM75 295h4v4h-4zM75 299h4v4h-4zM71 315h4v4h-4zM71 319h4v4h-4zM71 323h4v4h-4zM71 327h4v4h-4zM67 351h4v4h-4zM67 355h4v4h-4zM67 359h4v4h-4zM67 363h4v4h-4zM67 367h4v4h-4zM67 371h4v4h-4zM67 383h4v4h-4zM67 387h4v4h-4zM67 391h4v4h-4zM67 395h4v4h-4zM67 399h4v4h-4zM67 403h4v4h-4zM67 407h4v4h-4zM67 411h4v4h-4zM67 415h4v4h-4zM67 419h4v4h-4zM67 423h4v4h-4zM67 427h4v4h-4zM67 431h4v4h-4zM67 435h4v4h-4zM67 439h4v4h-4zM67 443h4v4h-4zM67 447h4v4h-4zM67 451h4v4h-4zM67 455h4v4h-4z"/>
<path fill="#fc9c00" d="M83 279h4v4h-4zM83 283h4v4h-4zM79 295h4v4h-4zM79 299h4v4h-4zM79 303h4v4h-4zM75 315h4v4h-4zM75 319h4v4h-4zM75 323h4v4h-4zM75 327h4v4h-4zM75 331h4v4h-4zM71 351h4v4h-4zM71 355h4v4h-4zM71 359h4v4h-4zM71 363h4v4h-4zM71 367h4v4h-4zM71 371h4v4h-4zM71 375h4v4h-4zM71 379h4v4h-4zM67 479h4v4h-4zM67 483h4v4h-4z"/>
<path fill="#fca200" d="M87 279h4v4h-4zM83 287h4v4h-4zM83 291h4v4h-4zM83 295h4v4h-4zM79 307h4v4h-4zM79 311h4v4h-4zM79 315h4v4h-4zM79 319h4v4h-4zM75 335h4v4h-4zM75 339h4v4h-4zM75 343h4v4h-4zM75 347h4v4h-4zM71 383h4v4h-4zM71 387h4v4h-4zM71 391h4v4h-4zM71 395h4v4h-4zM71 399h4v4h-4zM71 403h4v4h-4zM71 407h4v4h-4zM71 411h4v4h-4zM71 415h4v4h-4zM71 419h4v4h-4zM71 423h4v4h-4zM71 427h4v4h-4zM71 431h4v4h-4zM71 435h4v4h-4zM71 439h4v4h-4zM71 443h4v4h-4z"/>
<path fill="#fc9600" d="M79 283h4v4h-4zM79 287h4v4h-4zM79 291h4v4h-4zM75 303h4v4h-4zM75 307h4v4h-4zM75 311h4v4h-4zM71 331h4v4h-4zM71 335h4v4h-4zM71 339h4v4h-4zM71 343h4v4h-4zM71 347h4v4h-4zM67 459h4v4h-4zM67 463h4v4h-4zM67 467h4v4h-4zM67 471h4v4h-4zM67 475h4v4h-4z"/>
<path fill="#fca800" d="M87 283h4v4h-4zM87 287h4v4h-4zM83 299h4v4h-4zM83 303h4v4h-4zM83 307h4v4h-4zM79 323h4v4h-4zM79 327h4v4h-4zM79 331h4v4h-4zM79 335h4v4h-4zM75 351h4v4h-4zM75 355h4v4h-4zM75 359h4v4h-4zM75 363h4v4h-4zM75 367h4v4h-4zM71 447h4v4h-4zM71 451h4v4h-4zM71 455h4v4h-4zM71 459h4v4h-4zM71 463h4v4h-4z"/>
<path fill="#fcae00" d="M91 283h4v4h-4zM87 291h4v4h-4zM87 295h4v4h-4zM87 299h4v4h-4zM83 311h4v4h-4zM83 315h4v4h-4zM83 319h4v4h-4zM83 323h4v4h-4zM83 327h4v4h-4zM79 339h4v4h-4zM79 343h4v4h-4zM79 347h4v4h-4zM79 351h4v4h-4zM79 355h4v4h-4zM75 371h4v4h-4zM75 375h4v4h-4zM75 379h4v4h-4zM75 383h4v4h-4zM75 387h4v4h-4zM75 391h4v4h-4zM75 395h4v4h-4zM75 399h4v4h-4zM75 403h4v4h-4zM75 407h4v4h-4zM71 467h4v4h-4zM71 471h4v4h-4zM71 475h4v4h-4zM71 479h4v4h-4zM71 483h4v4h-4z"/>
<path fill="#fcba00" d="M95 283h4v4h-4zM95 287h4v4h-4zM91 295h4v4h-4zM91 299h4v4h-4zM91 303h4v4h-4zM91 307h4v4h-4zM87 319h4v4h-4zM87 323h4v4h-4zM87 327h4v4h-4zM87 331h4v4h-4zM83 347h4v4h-4zM83 351h4v4h-4zM83 355h4v4h-4zM79 371h4v4h-4zM79 375h4v4h-4zM79 379h4v4h-4zM79 383h4v4h-4zM79 387h4v4h-4zM79 391h4v4h-4zM75 439h4v4h-4zM75 443h4v4h-4zM75 447h4v4h-4zM75 451h4v4h-4zM75 455h4v4h-4z"/>
<path fill="#fc8a00" d="M75 287h4v4h-4zM67 343h4v4h-4zM67 347h4v4h-4zM67 375h4v4h-4zM67 379h4v4h-4z"/>
<path fill="#fcb400" d="M91 287h4v4h-4zM91 291h4v4h-4zM87 303h4v4h-4zM87 307h4v4h-4zM87 311h4v4h-4zM87 315h4v4h-4zM83 331h4v4h-4zM83 335h4v4h-4zM83 339h4v4h-4zM83 343h4v4h-4zM79 359h4v4h-4zM79 363h4v4h-4zM79 367h4v4h-4zM75 411h4v4h-4zM75 415h4v4h-4zM75 419h4v4h-4zM75 423h4v4h-4zM75 427h4v4h-4zM75 431h4v4h-4zM75 435h4v4h-4z"/>
<path fill="#fcc600" d="M99 287h4v4h-4zM99 291h4v4h-4zM95 299h4v4h-4zM95 303h4v4h-4zM95 307h4v4h-4zM91 323h4v4h-4zM91 327h4v4h-4zM87 347h4v4h-4zM87 351h4v4h-4zM83 371h4v4h-4zM83 375h4v4h-4zM83 379h4v4h-4zM79 415h4v4h-4zM79 419h4v4h-4zM79 423h4v4h-4zM79 427h4v4h-4zM75 475h4v4h-4zM75 479h4v4h-4zM75 483h4v4h-4zM75 487h4v4h-4z"/>
<path fill="#fcd200" d="M103 287h4v4h-4zM103 291h4v4h-4zM103 295h4v4h-4zM99 307h4v4h-4zM99 311h4v4h-4zM95 323h4v4h-4zM95 327h4v4h-4zM91 343h4v4h-4zM91 347h4v4h-4zM87 363h4v4h-4zM87 367h4v4h-4zM83 395h4v4h-4zM83 399h4v4h-4zM83 403h4v4h-4zM79 443h4v4h-4zM79 447h4v4h-4zM79 451h4v4h-4zM79 455h4v4h-4z"/>
<path fill="#fcc000" d="M95 291h4v4h-4zM95 295h4v4h-4zM91 311h4v4h-4zM91 315h4v4h-4zM91 319h4v4h-4zM87 335h4v4h-4zM87 339h4v4h-4zM87 343h4v4h-4zM83 359h4v4h-4zM83 363h4v4h-4zM83 367h4v4h-4zM79 395h4v4h-4zM79 399h4v4h-4zM79 403h4v4h-4zM79 407h4v4h-4zM79 411h4v4h-4zM75 459h4v4h-4zM75 463h4v4h-4zM75 467h4v4h-4zM75 471h4v4h-4z"/>
<path fill="#fcde00" d="M107 291h4v4h-4zM107 295h4v4h-4zM107 299h4v4h-4zM103 307h4v4h-4zM103 311h4v4h-4zM99 323h4v4h-4zM95 339h4v4h-4zM95 343h4v4h-4zM91 359h4v4h-4zM87 379h4v4h-4zM87 383h4v4h-4zM83 415h4v4h-4zM83 419h4v4h-4zM83 423h4v4h-4zM79 479h4v4h-4zM79 483h4v4h-4zM79 487h4v4h-4z"/>
<path fill="#fccc00" d="M99 295h4v4h-4zM99 299h4v4h-4zM99 303h4v4h-4zM95 311h4v4h-4zM95 315h4v4h-4zM95 319h4v4h-4zM91 331h4v4h-4zM91 335h4v4h-4zM91 339h4v4h-4zM87 355h4v4h-4zM87 359h4v4h-4zM83 383h4v4h-4zM83 387h4v4h-4zM83 391h4v4h-4zM79 431h4v4h-4zM79 435h4v4h-4zM79 439h4v4h-4z"/>
<path fill="#fcea00" d="M111 295h4v4h-4zM111 299h4v4h-4zM107 307h4v4h-4zM107 311h4v4h-4zM103 323h4v4h-4zM99 335h4v4h-4zM99 339h4v4h-4zM95 355h4v4h-4zM91 371h4v4h-4zM91 375h4v4h-4zM87 399h4v4h-4zM87 403h4v4h-4zM83 435h4v4h-4zM83 439h4v4h-4zM83 443h4v4h-4zM83 447h4v4h-4z"/>
<path fill="#fcf600" d="M115 295h4v4h-4zM115 299h4v4h-4zM111 307h4v4h-4zM111 311h4v4h-4zM107 323h4v4h-4zM103 335h4v4h-4zM103 339h4v4h-4zM99 351h4v4h-4zM99 355h4v4h-4zM95 367h4v4h-4zM91 387h4v4h-4zM91 391h4v4h-4zM87 415h4v4h-4zM87 419h4v4h-4zM87 423h4v4h-4zM83 475h4v4h-4zM83 479h4v4h-4zM83 483h4v4h-4zM83 487h4v4h-4z"/>
<path fill="#fcd800" d="M103 299h4v4h-4zM103 303h4v4h-4zM99 315h4v4h-4zM99 319h4v4h-4zM95 331h4v4h-4zM95 335h4v4h-4zM91 351h4v4h-4zM91 355h4v4h-4zM87 371h4v4h-4zM87 375h4v4h-4zM83 407h4v4h-4zM83 411h4v4h-4zM79 459h4v4h-4zM79 463h4v4h-4zM79 467h4v4h-4zM79 471h4v4h-4zM79 475h4v4h-4z"/>
<path fill="#fcfc0c" d="M119 299h4v4h-4zM115 311h4v4h-4zM107 339h4v4h-4zM103 355h4v4h-4zM99 367h4v4h-4zM95 387h4v4h-4zM91 411h4v4h-4zM87 447h4v4h-4z"/>
<path fill="#f6ea2a" d="M123 299h4v4h-4zM99 387h4v4h-4zM95 407h4v4h-4zM87 491h4v4h-4z"/>
<path fill="#fce400" d="M107 303h4v4h-4zM103 315h4v4h-4zM103 319h4v4h-4zM99 327h4v4h-4zM99 331h4v4h-4zM95 347h4v4h-4zM95 351h4v4h-4zM91 363h4v4h-4zM91 367h4v4h-4zM87 387h4v4h-4zM87 391h4v4h-4zM87 395h4v4h-4zM83 427h4v4h-4zM83 431h4v4h-4zM79 491h4v4h-4z"/>
<path fill="#fcf000" d="M111 303h4v4h-4zM107 315h4v4h-4zM107 319h4v4h-4zM103 327h4v4h-4zM103 331h4v4h-4zM99 343h4v4h-4zM99 347h4v4h-4zM95 359h4v4h-4zM95 363h4v4h-4zM91 379h4v4h-4zM91 383h4v4h-4zM87 407h4v4h-4zM87 411h4v4h-4zM83 451h4v4h-4zM83 455h4v4h-4zM83 459h4v4h-4zM83 463h4v4h-4zM83 467h4v4h-4zM83 471h4v4h-4z"/>
<path fill="#fcfc00" d="M115 303h4v4h-4zM115 307h4v4h-4zM111 315h4v4h-4zM111 319h4v4h-4zM107 327h4v4h-4zM107 331h4v4h-4zM103 343h4v4h-4zM103 347h4v4h-4zM99 359h4v4h-4zM99 363h4v4h-4zM95 371h4v4h-4zM95 375h4v4h-4zM95 379h4v4h-4zM91 395h4v4h-4zM91 399h4v4h-4zM91 403h4v4h-4zM87 427h4v4h-4zM87 431h4v4h-4zM87 435h4v4h-4zM83 491h4v4h-4z"/>
<path fill="#fcf618" d="M119 303h4v4h-4zM111 331h4v4h-4zM107 347h4v4h-4zM99 375h4v4h-4zM95 395h4v4h-4zM91 419h4v4h-4zM87 467h4v4h-4zM87 471h4v4h-4zM87 475h4v4h-4z"/>
<path fill="#f6ea36" d="M123 303h4v4h-4zM111 347h4v4h-4zM91 443h4v4h-4z"/>
<path fill="#f0de4e" d="M127 303h4v4h-4zM119 327h4v4h-4zM115 343h4v4h-4zM111 359h4v4h-4zM107 371h4v4h-4zM103 391h4v4h-4zM99 407h4v4h-4zM95 431h4v4h-4zM91 471h4v4h-4zM91 475h4v4h-4z"/>
<path fill="#fcf01e" d="M119 307h4v4h-4zM115 319h4v4h-4zM111 335h4v4h-4zM107 351h4v4h-4zM103 363h4v4h-4zM95 399h4v4h-4zM91 423h4v4h-4zM87 479h4v4h-4zM87 483h4v4h-4z"/>
<path fill="#f6e43c" d="M123 307h4v4h-4zM119 319h4v4h-4zM111 351h4v4h-4zM103 379h4v4h-4zM95 419h4v4h-4zM91 447h4v4h-4zM91 451h4v4h-4z"/>
<path fill="#ead854" d="M127 307h4v4h-4zM99 415h4v4h-4zM95 439h4v4h-4z"/>
<path fill="#e4cc66" d="M131 307h4v4h-4zM127 315h4v4h-4zM123 327h4v4h-4zM123 331h4v4h-4zM119 347h4v4h-4zM115 363h4v4h-4zM111 375h4v4h-4zM107 391h4v4h-4zM103 407h4v4h-4zM99 427h4v4h-4zM95 455h4v4h-4zM95 459h4v4h-4z"/>
<path fill="#dec078" d="M135 307h4v4h-4zM127 327h4v4h-4zM123 347h4v4h-4zM119 363h4v4h-4zM115 375h4v4h-4zM111 387h4v4h-4zM107 403h4v4h-4zM103 419h4v4h-4zM95 483h4v4h-4zM95 487h4v4h-4z"/>
<path fill="#f6f02a" d="M119 311h4v4h-4zM111 339h4v4h-4zM107 355h4v4h-4zM91 431h4v4h-4z"/>
<path fill="#f0de48" d="M123 311h4v4h-4zM119 323h4v4h-4zM115 339h4v4h-4zM111 355h4v4h-4zM103 387h4v4h-4zM99 403h4v4h-4zM95 427h4v4h-4zM91 463h4v4h-4zM91 467h4v4h-4z"/>
<path fill="#ead260" d="M127 311h4v4h-4zM123 323h4v4h-4zM119 339h4v4h-4zM115 359h4v4h-4zM111 371h4v4h-4zM107 387h4v4h-4zM103 403h4v4h-4zM99 423h4v4h-4zM95 447h4v4h-4zM95 451h4v4h-4z"/>
<path fill="#e4c66c" d="M131 311h4v4h-4zM127 319h4v4h-4zM123 335h4v4h-4zM119 351h4v4h-4zM115 367h4v4h-4zM111 379h4v4h-4zM107 395h4v4h-4zM99 431h4v4h-4zM95 463h4v4h-4zM95 467h4v4h-4z"/>
<path fill="#d8ba7e" d="M135 311h4v4h-4zM131 323h4v4h-4zM127 335h4v4h-4zM123 351h4v4h-4zM123 355h4v4h-4zM119 367h4v4h-4zM115 379h4v4h-4zM111 391h4v4h-4zM107 407h4v4h-4zM103 423h4v4h-4zM99 447h4v4h-4z"/>
<path fill="#d2ae8a" d="M139 311h4v4h-4zM131 335h4v4h-4zM127 351h4v4h-4zM123 363h4v4h-4zM119 375h4v4h-4zM115 387h4v4h-4zM103 431h4v4h-4zM99 463h4v4h-4zM99 467h4v4h-4z"/>
<path fill="#cca896" d="M143 311h4v4h-4zM139 319h4v4h-4zM135 331h4v4h-4zM135 335h4v4h-4zM131 347h4v4h-4zM127 359h4v4h-4zM123 371h4v4h-4zM115 391h4v4h-4zM111 403h4v4h-4zM107 419h4v4h-4zM99 483h4v4h-4zM99 487h4v4h-4z"/>
<path fill="#fcf612" d="M115 315h4v4h-4zM111 327h4v4h-4zM107 343h4v4h-4zM103 359h4v4h-4zM99 371h4v4h-4zM95 391h4v4h-4zM91 415h4v4h-4zM87 455h4v4h-4zM87 459h4v4h-4zM87 463h4v4h-4z"/>
<path fill="#f6ea30" d="M119 315h4v4h-4zM115 327h4v4h-4zM111 343h4v4h-4zM107 359h4v4h-4zM103 371h4v4h-4zM99 391h4v4h-4zM95 411h4v4h-4zM91 435h4v4h-4zM91 439h4v4h-4z"/>
<path fill="#f0d854" d="M123 315h4v4h-4zM119 331h4v4h-4zM115 347h4v4h-4zM111 363h4v4h-4zM107 375h4v4h-4zM103 395h4v4h-4zM99 411h4v4h-4zM95 435h4v4h-4zM91 479h4v4h-4zM91 483h4v4h-4z"/>
<path fill="#dec072" d="M131 315h4v4h-4zM123 343h4v4h-4zM119 359h4v4h-4zM115 371h4v4h-4zM99 439h4v4h-4zM95 475h4v4h-4zM95 479h4v4h-4z"/>
<path fill="#d8b484" d="M135 315h4v4h-4zM131 327h4v4h-4zM127 343h4v4h-4zM123 359h4v4h-4zM119 371h4v4h-4zM115 383h4v4h-4zM111 395h4v4h-4zM103 427h4v4h-4zM99 451h4v4h-4zM99 455h4v4h-4z"/>
<path fill="#d2ae90" d="M139 315h4v4h-4zM135 323h4v4h-4zM135 327h4v4h-4zM131 339h4v4h-4zM127 355h4v4h-4zM123 367h4v4h-4zM111 399h4v4h-4zM107 415h4v4h-4zM99 471h4v4h-4zM99 475h4v4h-4z"/>
<path fill="#cca29c" d="M143 315h4v4h-4zM139 327h4v4h-4zM135 339h4v4h-4zM131 351h4v4h-4zM127 363h4v4h-4zM123 375h4v4h-4zM119 383h4v4h-4zM107 423h4v4h-4zM103 439h4v4h-4z"/>
<path fill="#c69ca8" d="M147 315h4v4h-4zM143 327h4v4h-4zM139 343h4v4h-4zM131 363h4v4h-4zM115 399h4v4h-4zM103 455h4v4h-4z"/>
<path fill="#ead85a" d="M123 319h4v4h-4zM115 351h4v4h-4zM107 379h4v4h-4zM103 399h4v4h-4zM91 487h4v4h-4z"/>
<path fill="#d8ba78" d="M131 319h4v4h-4z"/>
<path fill="#d2b48a" d="M135 319h4v4h-4zM131 331h4v4h-4zM127 347h4v4h-4zM107 411h4v4h-4zM99 459h4v4h-4z"/>
<path fill="#c6a2a2" d="M143 319h4v4h-4zM139 331h4v4h-4zM127 367h4v4h-4zM115 395h4v4h-4zM103 443h4v4h-4z"/>
<path fill="#c096a8" d="M147 319h4v4h-4zM147 323h4v4h-4zM143 335h4v4h-4zM139 347h4v4h-4zM131 367h4v4h-4zM127 375h4v4h-4zM123 383h4v4h-4zM119 391h4v4h-4zM111 415h4v4h-4zM107 431h4v4h-4zM103 467h4v4h-4zM103 471h4v4h-4zM103 475h4v4h-4zM103 479h4v4h-4zM103 483h4v4h-4z"/>
<path fill="#ba90ae" d="M151 319h4v4h-4zM139 355h4v4h-4z"/>
<path fill="#ba90b4" d="M155 319h4v4h-4zM151 323h4v4h-4zM151 327h4v4h-4zM151 331h4v4h-4zM147 335h4v4h-4zM147 339h4v4h-4zM147 343h4v4h-4zM143 347h4v4h-4zM143 351h4v4h-4zM139 359h4v4h-4zM135 367h4v4h-4zM131 375h4v4h-4zM127 383h4v4h-4zM123 391h4v4h-4zM119 399h4v4h-4zM115 407h4v4h-4zM115 411h4v4h-4zM111 423h4v4h-4zM111 427h4v4h-4zM107 439h4v4h-4zM107 443h4v4h-4z"/>
<path fill="#fcfc06" d="M111 323h4v4h-4zM107 335h4v4h-4zM103 351h4v4h-4zM95 383h4v4h-4zM91 407h4v4h-4zM87 439h4v4h-4zM87 443h4v4h-4z"/>
<path fill="#f6f024" d="M115 323h4v4h-4zM103 367h4v4h-4zM99 383h4v4h-4zM95 403h4v4h-4zM91 427h4v4h-4zM87 487h4v4h-4z"/>
<path fill="#dec672" d="M127 323h4v4h-4zM123 339h4v4h-4zM111 383h4v4h-4zM107 399h4v4h-4zM103 415h4v4h-4zM99 435h4v4h-4z"/>
<path fill="#cca89c" d="M139 323h4v4h-4z"/>
<path fill="#c69ca2" d="M143 323h4v4h-4zM139 335h4v4h-4zM139 339h4v4h-4zM135 347h4v4h-4zM135 351h4v4h-4zM131 359h4v4h-4zM127 371h4v4h-4zM123 379h4v4h-4zM119 387h4v4h-4zM111 411h4v4h-4zM107 427h4v4h-4zM103 447h4v4h-4zM103 451h4v4h-4z"/>
<path fill="#b48aba" d="M155 323h4v4h-4zM155 327h4v4h-4zM155 331h4v4h-4zM151 335h4v4h-4zM151 339h4v4h-4zM151 343h4v4h-4zM147 347h4v4h-4zM147 351h4v4h-4zM143 359h4v4h-4zM139 367h4v4h-4zM135 375h4v4h-4zM131 383h4v4h-4zM127 387h4v4h-4zM123 395h4v4h-4zM119 403h4v4h-4zM115 415h4v4h-4zM115 419h4v4h-4zM111 431h4v4h-4zM111 435h4v4h-4zM107 451h4v4h-4zM107 455h4v4h-4zM107 459h4v4h-4zM107 463h4v4h-4zM107 467h4v4h-4zM107 471h4v4h-4zM107 475h4v4h-4zM107 479h4v4h-4zM107 483h4v4h-4z"/>
<path fill="#b484c0" d="M159 323h4v4h-4zM155 335h4v4h-4zM151 347h4v4h-4zM147 355h4v4h-4zM147 359h4v4h-4zM143 363h4v4h-4zM139 371h4v4h-4zM135 379h4v4h-4zM127 391h4v4h-4zM123 399h4v4h-4zM119 407h4v4h-4zM115 423h4v4h-4zM111 439h4v4h-4z"/>
<path fill="#ae84c6" d="M163 323h4v4h-4zM159 335h4v4h-4zM155 347h4v4h-4zM151 355h4v4h-4zM147 363h4v4h-4zM143 371h4v4h-4zM135 383h4v4h-4zM127 395h4v4h-4zM123 403h4v4h-4zM119 415h4v4h-4zM115 431h4v4h-4zM111 447h4v4h-4z"/>
<path fill="#c096ae" d="M147 327h4v4h-4zM147 331h4v4h-4zM143 339h4v4h-4zM143 343h4v4h-4zM139 351h4v4h-4zM135 359h4v4h-4zM135 363h4v4h-4zM131 371h4v4h-4zM127 379h4v4h-4zM123 387h4v4h-4zM115 403h4v4h-4zM111 419h4v4h-4zM107 435h4v4h-4z"/>
<path fill="#ae84c0" d="M159 327h4v4h-4zM159 331h4v4h-4zM155 339h4v4h-4zM155 343h4v4h-4zM151 351h4v4h-4zM143 367h4v4h-4zM139 375h4v4h-4zM131 387h4v4h-4zM119 411h4v4h-4zM115 427h4v4h-4zM111 443h4v4h-4z"/>
<path fill="#ae7ec6" d="M163 327h4v4h-4zM163 331h4v4h-4zM159 339h4v4h-4zM159 343h4v4h-4zM155 351h4v4h-4zM155 355h4v4h-4zM151 359h4v4h-4zM151 363h4v4h-4zM147 367h4v4h-4zM143 375h4v4h-4zM139 379h4v4h-4zM135 387h4v4h-4zM131 391h4v4h-4zM127 399h4v4h-4zM123 407h4v4h-4zM119 419h4v4h-4zM115 435h4v4h-4zM111 451h4v4h-4zM111 455h4v4h-4zM111 459h4v4h-4zM111 463h4v4h-4z"/>
<path fill="#a87ec6" d="M167 327h4v4h-4zM167 331h4v4h-4zM163 335h4v4h-4zM163 339h4v4h-4zM163 343h4v4h-4zM159 347h4v4h-4zM159 351h4v4h-4zM159 355h4v4h-4zM155 359h4v4h-4zM155 363h4v4h-4zM151 367h4v4h-4zM147 371h4v4h-4zM147 375h4v4h-4zM143 379h4v4h-4zM139 383h4v4h-4zM139 387h4v4h-4zM135 391h4v4h-4zM131 395h4v4h-4zM127 403h4v4h-4zM123 411h4v4h-4zM123 415h4v4h-4zM119 423h4v4h-4zM119 427h4v4h-4zM119 431h4v4h-4zM115 439h4v4h-4zM115 443h4v4h-4zM115 447h4v4h-4zM111 467h4v4h-4zM111 471h4v4h-4zM111 475h4v4h-4z"/>
<path fill="#f6e436" d="M115 331h4v4h-4zM107 363h4v4h-4zM103 375h4v4h-4zM99 395h4v4h-4zM95 415h4v4h-4z"/>
<path fill="#deba78" d="M127 331h4v4h-4zM99 443h4v4h-4z"/>
<path fill="#c09ca8" d="M143 331h4v4h-4zM135 355h4v4h-4zM103 459h4v4h-4zM103 463h4v4h-4z"/>
<path fill="#a878cc" d="M171 331h4v4h-4zM167 339h4v4h-4zM167 343h4v4h-4zM163 351h4v4h-4zM163 355h4v4h-4zM159 363h4v4h-4zM151 375h4v4h-4zM147 379h4v4h-4zM135 395h4v4h-4zM131 403h4v4h-4zM127 411h4v4h-4zM123 423h4v4h-4zM119 435h4v4h-4z"/>
<path fill="#a278cc" d="M175 331h4v4h-4zM171 335h8v4h-8zM171 339h8v4h-8zM171 343h8v4h-8zM167 347h8v4h-8zM167 351h8v4h-8zM167 355h8v4h-8zM163 359h8v4h-8zM163 363h8v4h-8zM159 367h8v4h-8zM155 371h12v4h-12zM155 375h8v4h-8zM151 379h8v4h-8zM147 383h8v4h-8zM143 387h8v4h-8zM139 391h8v4h-8zM139 395h4v4h-4zM135 399h4v4h-4zM135 403h4v4h-4zM131 407h4v4h-4zM131 411h4v4h-4zM127 415h4v4h-4zM127 419h4v4h-4zM123 427h4v4h-4zM123 431h4v4h-4zM119 439h4v4h-4zM119 443h4v4h-4zM119 447h4v4h-4zM115 455h4v4h-4zM115 459h4v4h-4zM115 463h4v4h-4z"/>
<path fill="#f6e442" d="M115 335h4v4h-4zM99 399h4v4h-4z"/>
<path fill="#ead25a" d="M119 335h4v4h-4zM115 355h4v4h-4zM111 367h4v4h-4zM107 383h4v4h-4zM99 419h4v4h-4zM95 443h4v4h-4z"/>
<path fill="#a87ecc" d="M167 335h4v4h-4zM163 347h4v4h-4zM159 359h4v4h-4zM155 367h4v4h-4zM151 371h4v4h-4zM143 383h4v4h-4zM131 399h4v4h-4zM127 407h4v4h-4zM123 419h4v4h-4zM115 451h4v4h-4zM111 479h4v4h-4zM111 483h4v4h-4z"/>
<path fill="#a278d2" d="M179 335h4v4h-4zM175 347h4v4h-4zM171 359h4v4h-4zM167 367h4v4h-4zM139 399h4v4h-4zM127 423h4v4h-4zM123 435h4v4h-4zM115 467h4v4h-4z"/>
<path fill="#9c72d2" d="M183 335h4v4h-4zM183 339h8v4h-8zM179 343h20v4h-20zM179 347h16v4h-16zM179 351h16v4h-16zM175 355h20v4h-20zM175 359h16v4h-16zM171 363h20v4h-20zM171 367h16v4h-16zM167 371h20v4h-20zM163 375h20v4h-20zM163 379h16v4h-16zM155 383h20v4h-20zM151 387h16v4h-16zM147 391h12v4h-12zM147 395h8v4h-8zM143 399h8v4h-8zM139 403h8v4h-8zM135 407h8v4h-8zM135 411h4v4h-4zM131 415h8v4h-8zM131 419h4v4h-4zM131 423h4v4h-4zM127 427h4v4h-4zM127 431h4v4h-4zM123 439h4v4h-4zM123 443h4v4h-4zM119 451h4v4h-4zM119 455h4v4h-4zM119 459h4v4h-4zM115 471h4v4h-4zM115 475h4v4h-4zM115 479h4v4h-4zM115 483h4v4h-4z"/>
<path fill="#d8ba84" d="M127 339h4v4h-4z"/>
<path fill="#9c78d2" d="M179 339h4v4h-4zM175 351h4v4h-4zM159 379h4v4h-4zM143 395h4v4h-4z"/>
<path fill="#e4cc60" d="M119 343h4v4h-4z"/>
<path fill="#cca890" d="M131 343h4v4h-4zM119 379h4v4h-4zM103 435h4v4h-4z"/>
<path fill="#c6a29c" d="M135 343h4v4h-4zM131 355h4v4h-4zM111 407h4v4h-4z"/>
<path fill="#9672d2" d="M195 347h4v4h-4zM195 351h4v4h-4zM191 359h4v4h-4zM191 363h4v4h-4zM187 367h4v4h-4zM183 375h4v4h-4zM179 379h4v4h-4zM167 387h4v4h-4zM159 391h4v4h-4z"/>
<path fill="#9672d8" d="M199 347h8v4h-8zM199 351h4v4h-4zM195 355h8v4h-8zM195 359h8v4h-8zM195 363h4v4h-4zM191 367h8v4h-8zM187 371h8v4h-8zM187 375h4v4h-4zM183 379h4v4h-4zM175 383h8v4h-8zM171 387h8v4h-8zM163 391h4v4h-4zM155 395h4v4h-4zM139 411h4v4h-4zM127 435h4v4h-4z"/>
<path fill="#966cd8" d="M203 351h8v4h-8zM203 355h16v4h-16zM203 359h20v4h-20zM199 363h28v4h-28zM199 367h24v4h-24zM195 371h24v4h-24zM191 375h24v4h-24zM187 379h24v4h-24zM183 383h24v4h-24zM179 387h20v4h-20zM167 391h28v4h-28zM159 395h24v4h-24zM151 399h8v4h-8zM147 403h4v4h-4zM143 407h4v4h-4zM139 415h4v4h-4zM135 419h4v4h-4zM131 427h4v4h-4zM127 439h4v4h-4zM123 447h4v4h-4zM119 463h4v4h-4z"/>
<path fill="#dec66c" d="M119 355h4v4h-4zM95 471h4v4h-4z"/>
<path fill="#ba8ab4" d="M143 355h4v4h-4zM139 363h4v4h-4zM135 371h4v4h-4zM107 447h4v4h-4z"/>
<path fill="#906cd8" d="M227 363h4v4h-4zM223 367h16v4h-16zM219 371h24v4h-24zM215 375h36v4h-36zM211 379h36v4h-36zM207 383h24v4h-24zM199 387h20v4h-20zM195 391h16v4h-16zM183 395h20v4h-20zM159 399h36v4h-36zM151 403h8v4h-8zM147 407h4v4h-4zM143 411h4v4h-4zM135 423h4v4h-4zM131 431h4v4h-4zM123 451h4v4h-4zM119 467h4v4h-4z"/>
<path fill="#f0e442" d="M107 367h4v4h-4zM103 383h4v4h-4zM95 423h4v4h-4zM91 455h4v4h-4zM91 459h4v4h-4z"/>
<path fill="#fc7e00" d="M63 375h4v4h-4zM63 379h4v4h-4zM63 383h4v4h-4zM63 387h4v4h-4zM63 391h4v4h-4zM63 395h4v4h-4zM63 399h4v4h-4zM63 403h4v4h-4zM63 407h4v4h-4zM63 447h4v4h-4zM63 451h4v4h-4zM63 455h4v4h-4zM63 459h4v4h-4zM63 463h4v4h-4z"/>
<path fill="#f6f01e" d="M99 379h4v4h-4z"/>
<path fill="#ba8aba" d="M131 379h4v4h-4z"/>
<path fill="#9066d8" d="M247 379h12v4h-12zM231 383h28v4h-28zM219 387h12v4h-12zM211 391h8v4h-8zM203 395h8v4h-8zM195 399h8v4h-8zM159 403h4v4h-4zM175 403h16v4h-16zM123 455h4v4h-4zM119 471h4v4h-4z"/>
<path fill="#9066de" d="M259 383h4v4h-4zM231 387h32v4h-32zM219 391h8v4h-8zM211 395h4v4h-4zM203 399h4v4h-4zM163 403h12v4h-12zM191 403h4v4h-4zM151 407h4v4h-4zM139 419h4v4h-4zM127 443h4v4h-4z"/>
<path fill="#8a66de" d="M263 387h8v4h-8zM227 391h52v4h-52zM215 395h68v4h-68zM207 399h84v4h-84zM195 403h36v4h-36zM239 403h60v4h-60zM155 407h60v4h-60zM259 407h44v4h-44zM147 411h8v4h-8zM183 411h20v4h-20zM267 411h44v4h-44zM143 415h4v4h-4zM275 415h36v4h-36zM279 419h28v4h-28zM291 423h8v4h-8zM135 427h4v4h-4zM131 435h4v4h-4zM127 447h4v4h-4zM123 459h4v4h-4zM119 475h4v4h-4zM119 479h4v4h-4z"/>
<path fill="#c090ae" d="M119 395h4v4h-4z"/>
<path fill="#fc6c00" d="M59 403h4v4h-4zM59 447h4v4h-4zM59 451h4v4h-4zM59 455h4v4h-4zM59 459h4v4h-4zM59 463h4v4h-4zM59 467h4v4h-4z"/>
<path fill="#8a60de" d="M231 403h8v4h-8zM255 407h4v4h-4zM179 411h4v4h-4zM271 415h4v4h-4zM139 423h4v4h-4zM287 423h4v4h-4zM299 423h4v4h-4z"/>
<path fill="#fc6600" d="M59 407h4v4h-4zM59 411h4v4h-4zM59 415h4v4h-4zM59 427h4v4h-4zM59 431h4v4h-4zM59 435h4v4h-4zM59 439h4v4h-4zM59 443h4v4h-4z"/>
<path fill="#8460de" d="M215 407h40v4h-40zM155 411h24v4h-24zM203 411h64v4h-64zM147 415h4v4h-4zM179 415h40v4h-40zM247 415h24v4h-24zM311 415h8v4h-8zM143 419h4v4h-4zM195 419h8v4h-8zM255 419h24v4h-24zM307 419h8v4h-8zM263 423h24v4h-24zM303 423h12v4h-12zM271 427h32v4h-32zM135 431h4v4h-4zM283 431h8v4h-8zM131 439h4v4h-4zM127 451h4v4h-4zM123 463h4v4h-4z"/>
<path fill="#fc7800" d="M63 411h4v4h-4zM63 415h4v4h-4zM63 419h4v4h-4zM63 423h4v4h-4zM63 427h4v4h-4zM63 431h4v4h-4zM63 435h4v4h-4zM63 439h4v4h-4zM63 443h4v4h-4z"/>
<path fill="#e4cc6c" d="M103 411h4v4h-4z"/>
<path fill="#8460e4" d="M151 415h4v4h-4zM219 415h8v4h-8zM235 415h12v4h-12zM187 419h8v4h-8zM203 419h8v4h-8zM251 419h4v4h-4zM315 419h4v4h-4zM259 423h4v4h-4zM267 427h4v4h-4zM275 431h8v4h-8z"/>
<path fill="#7e5ae4" d="M155 415h20v4h-20zM175 419h8v4h-8zM223 419h16v4h-16zM319 419h4v4h-4zM143 423h4v4h-4zM183 423h12v4h-12zM207 423h44v4h-44zM191 427h40v4h-40zM235 427h24v4h-24zM199 431h12v4h-12zM251 431h20v4h-20zM135 435h4v4h-4zM259 435h16v4h-16zM127 455h4v4h-4z"/>
<path fill="#7e60e4" d="M175 415h4v4h-4zM227 415h8v4h-8zM147 419h4v4h-4zM183 419h4v4h-4zM211 419h12v4h-12zM239 419h12v4h-12zM195 423h12v4h-12zM251 423h8v4h-8zM139 427h4v4h-4zM259 427h8v4h-8zM271 431h4v4h-4zM131 443h4v4h-4zM123 467h4v4h-4z"/>
<path fill="#fc6000" d="M59 419h4v4h-4zM59 423h4v4h-4z"/>
<path fill="#785ae4" d="M151 419h8v4h-8zM167 419h8v4h-8zM147 423h4v4h-4zM179 423h4v4h-4zM143 427h4v4h-4zM183 427h8v4h-8zM231 427h4v4h-4zM139 431h4v4h-4zM187 431h12v4h-12zM211 431h40v4h-40zM191 435h36v4h-36zM235 435h24v4h-24zM135 439h4v4h-4zM199 439h8v4h-8zM251 439h12v4h-12zM131 447h4v4h-4zM127 459h4v4h-4zM123 471h4v4h-4zM123 475h4v4h-4z"/>
<path fill="#7854e4" d="M159 419h8v4h-8zM175 423h4v4h-4zM179 427h4v4h-4zM183 431h4v4h-4zM187 435h4v4h-4zM227 435h8v4h-8zM191 439h8v4h-8zM207 439h12v4h-12zM243 439h8v4h-8zM123 479h4v4h-4z"/>
<path fill="#7254ea" d="M151 423h24v4h-24zM147 427h4v4h-4zM171 427h8v4h-8zM143 431h4v4h-4zM175 431h8v4h-8zM139 435h4v4h-4zM179 435h8v4h-8zM179 439h8v4h-8zM135 443h4v4h-4zM179 443h16v4h-16zM211 443h40v4h-40zM179 447h56v4h-56zM131 451h4v4h-4zM183 451h36v4h-36zM187 455h16v4h-16zM127 463h4v4h-4z"/>
<path fill="#6c4eea" d="M151 427h8v4h-8zM163 427h8v4h-8zM147 431h4v4h-4zM171 431h4v4h-4zM143 435h4v4h-4zM171 435h8v4h-8zM139 439h4v4h-4zM175 439h4v4h-4zM175 443h4v4h-4zM135 447h4v4h-4zM175 447h4v4h-4zM175 451h8v4h-8zM131 455h4v4h-4zM175 455h12v4h-12zM207 455h4v4h-4zM179 459h16v4h-16zM127 467h4v4h-4z"/>
<path fill="#664eea" d="M159 427h4v4h-4zM171 439h4v4h-4zM171 443h4v4h-4zM171 447h4v4h-4zM131 459h4v4h-4zM127 471h4v4h-4z"/>
<path fill="#fc5400" d="M55 431h4v4h-4zM55 435h4v4h-4zM55 439h4v4h-4zM55 443h4v4h-4zM55 447h4v4h-4zM55 463h4v4h-4zM55 467h4v4h-4z"/>
<path fill="#6648f0" d="M151 431h4v4h-4zM163 431h8v4h-8zM167 435h4v4h-4zM167 439h4v4h-4zM139 443h4v4h-4zM135 451h4v4h-4zM171 455h4v4h-4zM179 463h4v4h-4zM127 475h4v4h-4zM127 479h4v4h-4z"/>
<path fill="#6048f0" d="M155 431h8v4h-8zM147 435h4v4h-4zM143 439h4v4h-4zM167 443h4v4h-4zM167 447h4v4h-4zM167 451h4v4h-4zM171 459h4v4h-4zM131 463h4v4h-4zM175 463h4v4h-4z"/>
<path fill="#6042f0" d="M151 435h4v4h-4zM159 435h8v4h-8zM163 439h4v4h-4zM163 443h4v4h-4zM139 447h4v4h-4zM135 455h4v4h-4zM167 455h4v4h-4zM171 463h4v4h-4z"/>
<path fill="#5a42f0" d="M155 435h4v4h-4zM147 439h4v4h-4zM159 439h4v4h-4zM143 443h4v4h-4zM163 447h4v4h-4zM163 451h4v4h-4zM163 455h4v4h-4zM167 459h4v4h-4zM167 463h4v4h-4zM131 467h4v4h-4z"/>
<path fill="#5a3cf0" d="M151 439h8v4h-8zM159 443h4v4h-4zM139 451h4v4h-4zM135 459h4v4h-4z"/>
<path fill="#7854ea" d="M187 439h4v4h-4zM219 439h24v4h-24zM195 443h16v4h-16z"/>
<path fill="#543cf0" d="M147 443h12v4h-12zM143 447h4v4h-4zM159 447h4v4h-4zM159 451h4v4h-4zM163 459h4v4h-4zM167 467h4v4h-4zM131 471h4v4h-4zM131 475h4v4h-4z"/>
<path fill="#543cf6" d="M147 447h4v4h-4zM155 447h4v4h-4zM139 455h4v4h-4zM159 455h4v4h-4zM135 463h4v4h-4zM163 463h4v4h-4z"/>
<path fill="#4e36f6" d="M151 447h4v4h-4zM147 451h12v4h-12zM143 455h4v4h-4zM155 455h4v4h-4zM139 459h4v4h-4zM155 459h8v4h-8zM159 463h4v4h-4zM135 467h4v4h-4zM163 467h4v4h-4z"/>
<path fill="#fc5a00" d="M55 451h4v4h-4zM55 455h4v4h-4zM55 459h4v4h-4zM55 471h4v4h-4zM55 475h4v4h-4z"/>
<path fill="#fcf60c" d="M87 451h4v4h-4z"/>
<path fill="#5436f6" d="M143 451h4v4h-4z"/>
<path fill="#6648ea" d="M171 451h4v4h-4zM175 459h4v4h-4z"/>
<path fill="#724eea" d="M219 451h4v4h-4zM203 455h4v4h-4z"/>
<path fill="#4836f6" d="M147 455h8v4h-8zM139 463h4v4h-4zM135 471h4v4h-4z"/>
<path fill="#4830f6" d="M143 459h12v4h-12zM143 463h4v4h-4zM151 463h8v4h-8zM139 467h4v4h-4zM159 467h4v4h-4zM135 475h4v4h-4z"/>
<path fill="#4230f6" d="M147 463h4v4h-4zM155 467h4v4h-4zM139 471h4v4h-4z"/>
<path fill="#fc8400" d="M63 467h4v4h-4zM63 471h4v4h-4zM63 475h4v4h-4zM63 479h4v4h-4z"/>
<path fill="#422af6" d="M143 467h12v4h-12zM139 475h4v4h-4z"/>
<path fill="#fc7200" d="M59 471h4v4h-4zM59 475h4v4h-4zM59 479h4v4h-4z"/>
<path fill="#3c2afc" d="M143 471h12v4h-12z"/>
<path fill="#d2a890" d="M99 479h4v4h-4z"/>
</g>
<path fill="none" stroke="#111" stroke-width="0.9" d="M319.0 457.5L311.0 461.7L303.0 464.6L295.0 466.6L286.0 467.7L278.0 468.0L270.0 467.6L243.0 464.5L232.0 463.8L222.0 464.4L202.0 467.6L195.0 467.9L189.0 467.3L184.0 466.1L180.0 464.5L176.1 462.0L174.6 460.0L173.0 457.0L171.7 453.0L170.4 438.0L170.0 436.0L169.0 433.9L167.0 432.2L164.0 431.0L161.0 430.7L157.0 431.0L154.0 431.9L151.0 433.4L146.0 438.0L140.0 446.8L135.0 457.2L130.0 471.3L128.7 476.0L129.0 483.0L131.5 493.0M220.8 277.0L210.3 289.0L189.0 312.0L179.5 324.0L176.4 329.0L173.9 334.0L166.4 356.0L161.6 367.0L156.8 374.0L140.0 395.3L136.2 401.0L132.9 407.0L129.3 415.0L126.4 423.0L121.3 440.0L118.7 450.0L116.8 460.0L114.1 479.0L113.7 486.0L113.9 493.0M174.7 277.0L157.0 302.9L152.0 311.0L148.9 317.0L147.0 321.7L140.8 343.0L136.5 355.0L129.3 373.0L119.0 395.2L116.0 403.1L112.0 417.4L105.8 445.0L104.7 458.0L103.8 493.0M151.5 277.0L137.0 305.9L129.3 325.0L126.7 334.0L120.8 360.0L115.3 378.0L109.4 400.0L104.2 422.0L100.3 443.0L98.1 463.0L96.1 488.0L96.0 493.0M133.0 277.0L123.3 305.0L118.2 322.0L108.8 358.0L103.5 375.0L101.0 386.0L95.9 413.0L92.7 435.0L91.2 452.0L89.7 484.0L88.9 493.0M118.3 277.0L113.1 300.0L106.0 321.6L102.4 334.0L92.8 376.0L89.0 403.3L86.0 431.2L84.8 448.0L83.3 484.0L82.5 493.0M103.2 277.0L99.5 291.0L95.2 313.0L90.3 340.0L84.6 375.0L81.3 415.0L76.8 483.0L75.7 493.0M90.9 277.0L89.0 284.9L85.6 296.0L83.8 305.0L79.2 338.0L75.5 368.0L74.7 386.0L73.0 450.0L71.2 482.0L70.0 493.0M78.0 277.0L73.9 294.0L71.7 306.0L69.3 325.0L67.6 345.0L67.0 363.0L67.9 379.0L67.1 399.0L67.8 422.0L67.8 435.0L65.5 480.0L64.0 493.0M66.0 277.0L63.0 292.0L61.0 305.0L59.4 320.0L58.5 335.0L58.5 356.0L60.4 379.0L60.7 403.0L62.4 421.0L60.2 460.0L60.0 470.0L57.9 493.0"/>
</g>
<path fill="none" stroke="#000" stroke-width="1.3" stroke-dasharray="4.2 2.8" d="M51.5 500.6L83.6 268.1M51.5 500.6L115.8 268.1M51.5 500.6L180.0 268.1M51.5 500.6L308.5 268.1M51.5 500.6L337.3 371.3M51.5 500.6L316.2 420.8"/>
<g fill="#000"><circle cx="82.1" cy="279.3" r="2.15"/><circle cx="66.8" cy="390.0" r="2.15"/><circle cx="59.1" cy="445.3" r="2.15"/><circle cx="55.3" cy="472.9" r="2.15"/><circle cx="108.3" cy="295.1" r="2.15"/><circle cx="79.9" cy="397.9" r="2.15"/><circle cx="65.7" cy="449.2" r="2.15"/><circle cx="58.6" cy="474.9" r="2.15"/><circle cx="150.8" cy="320.9" r="2.15"/><circle cx="101.2" cy="410.7" r="2.15"/><circle cx="76.3" cy="455.7" r="2.15"/><circle cx="63.9" cy="478.1" r="2.15"/><circle cx="210.4" cy="356.9" r="2.15"/><circle cx="130.9" cy="428.7" r="2.15"/><circle cx="91.2" cy="464.7" r="2.15"/><circle cx="71.4" cy="482.6" r="2.15"/><circle cx="278.4" cy="398.0" r="2.15"/><circle cx="165.0" cy="449.3" r="2.15"/><circle cx="108.2" cy="474.9" r="2.15"/><circle cx="79.9" cy="487.8" r="2.15"/><circle cx="316.2" cy="420.8" r="2.15"/><circle cx="183.8" cy="460.7" r="2.15"/><circle cx="117.7" cy="480.6" r="2.15"/><circle cx="84.6" cy="490.6" r="2.15"/></g>
<g font-size="10" fill="#111"><text x="0" y="3.6" transform="translate(76.5 277.6) rotate(-82.1)" text-anchor="middle">1:16</text><text x="0" y="3.6" transform="translate(107.0 279.8) rotate(-74.6)" text-anchor="middle">1:8</text><text x="0" y="3.6" transform="translate(150.2 307.8) rotate(-61.1)" text-anchor="middle">1:4</text><text x="0" y="3.6" transform="translate(213.1 346.2) rotate(-42.1)" text-anchor="middle">1:2</text><text x="0" y="3.6" transform="translate(283.2 391.0) rotate(-24.3)" text-anchor="middle">1:1</text><text x="0" y="3.6" transform="translate(323.8 415.1) rotate(-16.8)" text-anchor="middle">1.5:1</text></g>
<rect x="51.5" y="267.10" width="286.8" height="233.50" fill="none" stroke="#000" stroke-width="1.8"/>
<path stroke="#000" stroke-width="0.9" fill="none" d="M50.6 500.6h-3.6M50.6 433.7h-3.6M50.6 366.8h-3.6M50.6 299.9h-3.6M51.5 501.5v3.4M125.5 501.5v3.4M199.4 501.5v3.4M273.4 501.5v3.4"/>
<rect x="253.8" y="274.1" width="59" height="94" fill="#fff"/>
<text x="257.1" y="286.6" font-size="11.8" fill="#1a1a1a">Dev time</text>
<text x="257.1" y="297.7" font-size="11.8" fill="#1a1a1a">(hours)</text>
<rect x="256.8" y="303.50" width="12.3" height="1.83" fill="#ff0600"/>
<rect x="256.8" y="305.04" width="12.3" height="1.83" fill="#ff1300"/>
<rect x="256.8" y="306.57" width="12.3" height="1.83" fill="#ff2000"/>
<rect x="256.8" y="308.11" width="12.3" height="1.83" fill="#ff2d00"/>
<rect x="256.8" y="309.64" width="12.3" height="1.83" fill="#ff3900"/>
<rect x="256.8" y="311.18" width="12.3" height="1.83" fill="#ff4600"/>
<rect x="256.8" y="312.71" width="12.3" height="1.83" fill="#ff5300"/>
<rect x="256.8" y="314.25" width="12.3" height="1.83" fill="#ff6000"/>
<rect x="256.8" y="315.78" width="12.3" height="1.83" fill="#ff6c00"/>
<rect x="256.8" y="317.31" width="12.3" height="1.83" fill="#ff7900"/>
<rect x="256.8" y="318.85" width="12.3" height="1.83" fill="#ff8600"/>
<rect x="256.8" y="320.38" width="12.3" height="1.83" fill="#ff9300"/>
<rect x="256.8" y="321.92" width="12.3" height="1.83" fill="#ff9f00"/>
<rect x="256.8" y="323.45" width="12.3" height="1.83" fill="#ffac00"/>
<rect x="256.8" y="324.99" width="12.3" height="1.83" fill="#ffb900"/>
<rect x="256.8" y="326.52" width="12.3" height="1.83" fill="#ffc600"/>
<rect x="256.8" y="328.06" width="12.3" height="1.83" fill="#ffd200"/>
<rect x="256.8" y="329.60" width="12.3" height="1.83" fill="#ffdf00"/>
<rect x="256.8" y="331.13" width="12.3" height="1.83" fill="#ffec00"/>
<rect x="256.8" y="332.67" width="12.3" height="1.83" fill="#fff900"/>
<rect x="256.8" y="334.20" width="12.3" height="1.83" fill="#fcf90e"/>
<rect x="256.8" y="335.74" width="12.3" height="1.83" fill="#f7ec2b"/>
<rect x="256.8" y="337.27" width="12.3" height="1.83" fill="#f2e047"/>
<rect x="256.8" y="338.81" width="12.3" height="1.83" fill="#ead35c"/>
<rect x="256.8" y="340.34" width="12.3" height="1.83" fill="#e2c76c"/>
<rect x="256.8" y="341.88" width="12.3" height="1.83" fill="#daba7d"/>
<rect x="256.8" y="343.41" width="12.3" height="1.83" fill="#d1ae8e"/>
<rect x="256.8" y="344.94" width="12.3" height="1.83" fill="#c9a19e"/>
<rect x="256.8" y="346.48" width="12.3" height="1.83" fill="#c096ab"/>
<rect x="256.8" y="348.01" width="12.3" height="1.83" fill="#b78cb8"/>
<rect x="256.8" y="349.55" width="12.3" height="1.83" fill="#ae81c4"/>
<rect x="256.8" y="351.08" width="12.3" height="1.83" fill="#a57acb"/>
<rect x="256.8" y="352.62" width="12.3" height="1.83" fill="#9c73d2"/>
<rect x="256.8" y="354.15" width="12.3" height="1.83" fill="#926bd9"/>
<rect x="256.8" y="355.69" width="12.3" height="1.83" fill="#8360e0"/>
<rect x="256.8" y="357.23" width="12.3" height="1.83" fill="#7555e7"/>
<rect x="256.8" y="358.76" width="12.3" height="1.83" fill="#6448ee"/>
<rect x="256.8" y="360.30" width="12.3" height="1.83" fill="#4f37f4"/>
<rect x="256.8" y="361.83" width="12.3" height="1.83" fill="#3a26fa"/>
<rect x="256.8" y="363.37" width="12.3" height="1.83" fill="#2315fd"/>
<text x="270.3" y="309.1" font-size="8.7" font-weight="bold" fill="#111">225</text>
<text x="270.3" y="324.8" font-size="8.7" font-weight="bold" fill="#111">200</text>
<text x="270.3" y="339.8" font-size="8.7" font-weight="bold" fill="#111">175</text>
<text x="270.3" y="355.0" font-size="8.7" font-weight="bold" fill="#111">150</text>
<clipPath id="cp4"><polygon points="352.9,472.9 379.7,279.3 613.8,420.8 382.2,490.6"/></clipPath>
<g clip-path="url(#cp4)"><g filter="url(#blr)">
<path fill="#fc3c00" d="M376 279h4v4h-4z"/>
<path fill="#fc6600" d="M380 279h4v4h-4zM372 307h4v4h-4zM368 327h4v4h-4zM368 331h4v4h-4zM368 335h4v4h-4zM364 351h4v4h-4zM364 355h4v4h-4z"/>
<path fill="#fc8a00" d="M384 279h4v4h-4zM380 299h4v4h-4zM380 303h4v4h-4zM380 307h4v4h-4zM380 311h4v4h-4zM376 339h4v4h-4zM376 343h4v4h-4zM376 347h4v4h-4zM372 359h4v4h-4zM368 367h4v4h-4zM368 371h4v4h-4zM364 383h4v4h-4zM360 403h4v4h-4zM356 423h4v4h-4zM356 427h4v4h-4zM352 439h4v4h-4z"/>
<path fill="#fc9c00" d="M388 279h4v4h-4zM384 303h4v4h-4zM384 307h4v4h-4zM384 311h4v4h-4zM384 315h4v4h-4zM384 319h4v4h-4zM380 347h4v4h-4zM376 359h4v4h-4zM368 379h4v4h-4zM364 395h4v4h-4zM364 399h4v4h-4zM360 419h4v4h-4zM360 423h4v4h-4zM360 427h4v4h-4zM356 447h4v4h-4zM352 451h4v4h-4z"/>
<path fill="#fc5400" d="M376 283h4v4h-4zM372 295h4v4h-4z"/>
<path fill="#fc7800" d="M380 283h4v4h-4zM376 303h4v4h-4zM376 307h4v4h-4zM372 331h4v4h-4zM372 335h4v4h-4zM372 339h4v4h-4zM368 355h4v4h-4zM364 367h4v4h-4zM364 371h4v4h-4zM360 387h4v4h-4zM356 407h4v4h-4z"/>
<path fill="#fc9600" d="M384 283h4v4h-4zM384 287h4v4h-4zM384 291h4v4h-4zM384 295h4v4h-4zM384 299h4v4h-4zM380 335h4v4h-4zM380 339h4v4h-4zM380 343h4v4h-4zM376 355h4v4h-4zM372 367h4v4h-4zM364 391h4v4h-4zM360 411h4v4h-4zM360 415h4v4h-4zM356 439h4v4h-4zM356 443h4v4h-4zM352 447h4v4h-4z"/>
<path fill="#fca800" d="M388 283h4v4h-4zM388 287h4v4h-4zM388 291h4v4h-4zM388 295h4v4h-4zM388 299h4v4h-4zM388 303h4v4h-4zM384 339h4v4h-4zM384 343h4v4h-4zM380 355h4v4h-4zM372 375h4v4h-4zM368 387h4v4h-4zM364 407h4v4h-4zM364 411h4v4h-4zM360 443h4v4h-4zM360 447h4v4h-4zM360 451h4v4h-4zM352 455h12v4h-12zM352 475h4v4h-4z"/>
<path fill="#fcb400" d="M392 283h4v4h-4zM392 287h4v4h-4zM388 323h4v4h-4zM388 327h4v4h-4zM384 351h4v4h-4zM376 371h4v4h-4zM372 383h4v4h-4zM368 399h4v4h-4zM364 427h4v4h-4zM364 431h4v4h-4zM364 435h4v4h-4zM356 459h4v4h-4zM356 463h8v4h-8zM356 467h4v4h-4zM356 471h4v4h-4z"/>
<path fill="#fc6000" d="M376 287h4v4h-4zM372 299h4v4h-4zM372 303h4v4h-4zM368 319h4v4h-4zM368 323h4v4h-4z"/>
<path fill="#fc7e00" d="M380 287h4v4h-4zM376 311h4v4h-4zM376 315h4v4h-4zM376 319h4v4h-4zM372 343h4v4h-4zM372 347h4v4h-4zM368 359h4v4h-4zM364 375h4v4h-4zM360 391h4v4h-4zM356 411h4v4h-4z"/>
<path fill="#fcc600" d="M396 287h4v4h-4zM392 315h4v4h-4zM392 319h4v4h-4zM392 323h4v4h-4zM388 347h4v4h-4zM384 359h4v4h-4zM380 371h4v4h-4zM376 383h4v4h-4zM372 395h4v4h-4zM372 399h4v4h-4zM368 419h4v4h-4zM368 423h4v4h-4zM368 427h4v4h-4zM368 431h4v4h-4zM364 483h4v4h-4z"/>
<path fill="#fcd200" d="M400 287h4v4h-4zM396 307h4v4h-4zM396 311h4v4h-4zM396 315h4v4h-4zM392 339h4v4h-4zM388 355h4v4h-4zM384 367h4v4h-4zM380 379h4v4h-4zM376 391h4v4h-4zM376 395h4v4h-4zM372 411h4v4h-4zM372 415h4v4h-4zM368 455h4v4h-4zM368 459h4v4h-4zM368 463h4v4h-4zM368 467h4v4h-4zM368 471h4v4h-4zM368 475h4v4h-4zM368 479h4v4h-4zM368 483h4v4h-4z"/>
<path fill="#fc4e00" d="M372 291h4v4h-4z"/>
<path fill="#fc6c00" d="M376 291h4v4h-4zM372 311h4v4h-4zM372 315h4v4h-4zM368 339h4v4h-4zM368 343h4v4h-4zM364 359h4v4h-4z"/>
<path fill="#fc8400" d="M380 291h4v4h-4zM380 295h4v4h-4zM376 323h4v4h-4zM376 327h4v4h-4zM376 331h4v4h-4zM376 335h4v4h-4zM372 351h4v4h-4zM372 355h4v4h-4zM368 363h4v4h-4zM364 379h4v4h-4zM360 395h4v4h-4zM360 399h4v4h-4zM356 415h4v4h-4zM356 419h4v4h-4zM352 435h4v4h-4z"/>
<path fill="#fcba00" d="M392 291h4v4h-4zM392 295h4v4h-4zM392 299h4v4h-4zM388 331h4v4h-4zM388 335h4v4h-4zM384 355h4v4h-4zM380 363h4v4h-4zM376 375h4v4h-4zM372 387h4v4h-4zM368 403h4v4h-4zM368 407h4v4h-4zM364 439h4v4h-4zM364 443h4v4h-4zM364 447h4v4h-4zM364 451h4v4h-4zM364 455h4v4h-4zM364 459h4v4h-4zM360 467h4v4h-4zM360 471h4v4h-4zM360 475h4v4h-4zM360 479h4v4h-4z"/>
<path fill="#fccc00" d="M396 291h4v4h-4zM396 295h4v4h-4zM396 299h4v4h-4zM396 303h4v4h-4zM392 327h4v4h-4zM392 331h4v4h-4zM392 335h4v4h-4zM388 351h4v4h-4zM384 363h4v4h-4zM380 375h4v4h-4zM376 387h4v4h-4zM372 403h4v4h-4zM372 407h4v4h-4zM368 435h4v4h-4zM368 439h4v4h-4zM368 443h4v4h-4zM368 447h4v4h-4zM368 451h4v4h-4z"/>
<path fill="#fcd800" d="M400 291h4v4h-4zM400 295h4v4h-4zM400 299h4v4h-4zM400 303h4v4h-4zM396 319h4v4h-4zM396 323h4v4h-4zM396 327h4v4h-4zM392 343h4v4h-4zM392 347h4v4h-4zM388 359h4v4h-4zM384 371h4v4h-4zM380 383h4v4h-4zM380 387h4v4h-4zM376 399h4v4h-4zM376 403h4v4h-4zM372 419h4v4h-4zM372 423h4v4h-4zM372 427h4v4h-4zM372 431h4v4h-4z"/>
<path fill="#fcde00" d="M404 291h4v4h-4zM404 295h4v4h-4zM404 299h4v4h-4zM400 307h4v4h-4zM400 311h4v4h-4zM400 315h4v4h-4zM400 319h4v4h-4zM396 331h4v4h-4zM396 335h4v4h-4zM396 339h4v4h-4zM392 351h4v4h-4zM388 363h4v4h-4zM384 375h4v4h-4zM380 391h4v4h-4zM376 407h4v4h-4zM376 411h4v4h-4zM372 435h4v4h-4zM372 439h4v4h-4zM372 443h4v4h-4zM372 447h4v4h-4z"/>
<path fill="#fce400" d="M408 291h4v4h-4zM408 295h4v4h-4zM404 303h4v4h-4zM404 307h4v4h-4zM404 311h4v4h-4zM404 315h4v4h-4zM400 323h4v4h-4zM400 327h4v4h-4zM400 331h4v4h-4zM396 343h4v4h-4zM396 347h4v4h-4zM392 355h4v4h-4zM392 359h4v4h-4zM388 367h4v4h-4zM388 371h4v4h-4zM384 379h4v4h-4zM384 383h4v4h-4zM380 395h4v4h-4zM380 399h4v4h-4zM376 415h4v4h-4zM376 419h4v4h-4zM376 423h4v4h-4zM372 451h4v4h-4zM372 455h4v4h-4zM372 459h4v4h-4zM372 463h4v4h-4zM372 467h4v4h-4zM372 471h4v4h-4zM372 475h4v4h-4zM372 479h4v4h-4zM372 483h4v4h-4zM372 487h4v4h-4z"/>
<path fill="#fc7200" d="M376 295h4v4h-4zM376 299h4v4h-4zM372 319h4v4h-4zM372 323h4v4h-4zM372 327h4v4h-4zM368 347h4v4h-4zM368 351h4v4h-4zM364 363h4v4h-4zM360 379h4v4h-4zM360 383h4v4h-4z"/>
<path fill="#fcf000" d="M412 295h4v4h-4zM412 299h4v4h-4zM412 303h4v4h-4zM408 315h4v4h-4zM408 319h4v4h-4zM404 327h4v4h-4zM404 331h4v4h-4zM400 343h4v4h-4zM400 347h4v4h-4zM396 355h4v4h-4zM392 367h4v4h-4zM388 379h4v4h-4zM388 383h4v4h-4zM384 395h4v4h-4zM380 411h4v4h-4zM380 415h4v4h-4zM380 419h4v4h-4zM376 439h4v4h-4zM376 443h4v4h-4zM376 447h4v4h-4zM376 451h4v4h-4z"/>
<path fill="#fcea00" d="M408 299h4v4h-4zM408 303h4v4h-4zM408 307h4v4h-4zM408 311h4v4h-4zM404 319h4v4h-4zM404 323h4v4h-4zM400 335h4v4h-4zM400 339h4v4h-4zM396 351h4v4h-4zM392 363h4v4h-4zM388 375h4v4h-4zM384 387h4v4h-4zM384 391h4v4h-4zM380 403h4v4h-4zM380 407h4v4h-4zM376 427h4v4h-4zM376 431h4v4h-4zM376 435h4v4h-4z"/>
<path fill="#fcf600" d="M416 299h4v4h-4zM412 307h4v4h-4zM412 311h4v4h-4zM408 323h4v4h-4zM408 327h4v4h-4zM404 335h4v4h-4zM404 339h4v4h-4zM400 351h4v4h-4zM396 359h4v4h-4zM396 363h4v4h-4zM392 371h4v4h-4zM392 375h4v4h-4zM388 387h4v4h-4zM384 399h4v4h-4zM384 403h4v4h-4zM380 423h4v4h-4zM380 427h4v4h-4zM376 455h4v4h-4zM376 459h4v4h-4zM376 463h4v4h-4zM376 467h4v4h-4zM376 471h4v4h-4zM376 475h4v4h-4zM376 479h4v4h-4zM376 483h4v4h-4z"/>
<path fill="#fcfc0c" d="M420 299h4v4h-4zM412 327h4v4h-4zM408 339h4v4h-4zM404 351h4v4h-4zM400 363h4v4h-4zM396 375h4v4h-4zM392 387h4v4h-4zM388 403h4v4h-4zM384 423h4v4h-4zM380 451h4v4h-4z"/>
<path fill="#fcc000" d="M392 303h4v4h-4zM392 307h4v4h-4zM392 311h4v4h-4zM388 339h4v4h-4zM388 343h4v4h-4zM380 367h4v4h-4zM376 379h4v4h-4zM372 391h4v4h-4zM368 411h4v4h-4zM368 415h4v4h-4zM364 463h4v4h-4zM364 467h4v4h-4zM364 471h4v4h-4zM364 475h4v4h-4zM364 479h4v4h-4z"/>
<path fill="#fcfc00" d="M416 303h4v4h-4zM416 307h4v4h-4zM412 315h4v4h-4zM412 319h4v4h-4zM408 331h4v4h-4zM408 335h4v4h-4zM404 343h4v4h-4zM404 347h4v4h-4zM400 355h4v4h-4zM400 359h4v4h-4zM396 367h4v4h-4zM392 379h4v4h-4zM392 383h4v4h-4zM388 391h4v4h-4zM388 395h4v4h-4zM384 407h4v4h-4zM384 411h4v4h-4zM384 415h4v4h-4zM380 431h4v4h-4zM380 435h4v4h-4zM380 439h4v4h-4zM380 443h4v4h-4zM376 487h4v4h-4z"/>
<path fill="#fcf612" d="M420 303h4v4h-4zM408 343h4v4h-4zM392 391h4v4h-4zM388 407h4v4h-4zM384 427h4v4h-4zM380 459h4v4h-4z"/>
<path fill="#f6ea30" d="M424 303h4v4h-4zM396 391h4v4h-4zM392 403h4v4h-4zM388 423h4v4h-4zM384 447h4v4h-4z"/>
<path fill="#fcae00" d="M388 307h4v4h-4zM388 311h4v4h-4zM388 315h4v4h-4zM388 319h4v4h-4zM384 347h4v4h-4zM380 359h4v4h-4zM376 367h4v4h-4zM372 379h4v4h-4zM368 391h4v4h-4zM368 395h4v4h-4zM364 415h4v4h-4zM364 419h4v4h-4zM364 423h4v4h-4zM352 459h4v4h-4zM360 459h4v4h-4zM352 463h4v4h-4zM352 467h4v4h-4zM352 471h4v4h-4zM356 475h4v4h-4z"/>
<path fill="#fcf618" d="M420 307h4v4h-4zM416 319h4v4h-4zM412 331h4v4h-4zM404 355h4v4h-4zM400 367h4v4h-4zM396 379h4v4h-4zM392 395h4v4h-4zM384 431h4v4h-4zM380 463h4v4h-4zM380 467h4v4h-4z"/>
<path fill="#f6e436" d="M424 307h4v4h-4zM420 319h4v4h-4zM416 331h4v4h-4zM408 355h4v4h-4zM404 367h4v4h-4zM388 427h4v4h-4zM384 451h4v4h-4z"/>
<path fill="#f0d854" d="M428 307h4v4h-4zM424 319h4v4h-4zM420 331h4v4h-4zM408 367h4v4h-4zM404 379h4v4h-4zM400 391h4v4h-4zM396 407h4v4h-4zM392 423h4v4h-4zM388 443h4v4h-4zM384 479h4v4h-4zM384 483h4v4h-4zM384 487h4v4h-4z"/>
<path fill="#e4cc66" d="M432 307h4v4h-4zM428 319h4v4h-4zM424 331h4v4h-4zM420 339h4v4h-4zM416 351h4v4h-4zM412 363h4v4h-4zM408 379h4v4h-4zM404 391h4v4h-4zM400 403h4v4h-4zM396 419h4v4h-4zM392 435h4v4h-4zM388 459h4v4h-4z"/>
<path fill="#fcfc06" d="M416 311h4v4h-4zM412 323h4v4h-4zM396 371h4v4h-4zM388 399h4v4h-4zM384 419h4v4h-4zM380 447h4v4h-4z"/>
<path fill="#f6f024" d="M420 311h4v4h-4zM416 323h4v4h-4zM404 359h4v4h-4zM400 371h4v4h-4zM392 399h4v4h-4zM388 415h4v4h-4zM384 439h4v4h-4zM380 487h4v4h-4z"/>
<path fill="#f0e442" d="M424 311h4v4h-4zM420 323h4v4h-4zM416 335h4v4h-4zM412 347h4v4h-4zM408 359h4v4h-4zM404 371h4v4h-4zM388 431h4v4h-4zM384 459h4v4h-4z"/>
<path fill="#ead25a" d="M428 311h4v4h-4zM424 323h4v4h-4zM420 335h4v4h-4zM412 359h4v4h-4zM408 371h4v4h-4zM404 383h4v4h-4zM396 411h4v4h-4zM392 427h4v4h-4zM388 447h4v4h-4z"/>
<path fill="#e4c66c" d="M432 311h4v4h-4zM428 323h4v4h-4zM420 343h4v4h-4zM416 355h4v4h-4zM408 383h4v4h-4zM404 395h4v4h-4zM400 407h4v4h-4zM396 423h4v4h-4zM392 439h4v4h-4zM388 463h4v4h-4zM388 467h4v4h-4z"/>
<path fill="#dec078" d="M436 311h4v4h-4zM432 319h4v4h-4zM428 331h4v4h-4zM420 351h4v4h-4zM416 363h4v4h-4zM408 391h4v4h-4zM404 403h4v4h-4zM400 415h4v4h-4zM396 431h4v4h-4zM392 447h4v4h-4z"/>
<path fill="#d8b484" d="M440 311h4v4h-4zM436 319h4v4h-4zM432 331h4v4h-4zM428 339h4v4h-4zM424 351h4v4h-4zM420 363h4v4h-4zM416 375h4v4h-4zM412 387h4v4h-4zM408 399h4v4h-4zM404 411h4v4h-4zM400 423h4v4h-4zM396 439h4v4h-4zM392 459h4v4h-4zM392 463h4v4h-4z"/>
<path fill="#fc9000" d="M380 315h4v4h-4zM380 319h4v4h-4zM380 323h4v4h-4zM380 327h4v4h-4zM380 331h4v4h-4zM376 351h4v4h-4zM372 363h4v4h-4zM368 375h4v4h-4zM364 387h4v4h-4zM360 407h4v4h-4zM356 431h4v4h-4zM356 435h4v4h-4zM352 443h4v4h-4z"/>
<path fill="#fcf60c" d="M416 315h4v4h-4zM380 455h4v4h-4z"/>
<path fill="#f6ea2a" d="M420 315h4v4h-4zM416 327h4v4h-4zM412 339h4v4h-4zM408 351h4v4h-4zM404 363h4v4h-4zM400 375h4v4h-4zM388 419h4v4h-4zM384 443h4v4h-4zM380 491h4v4h-4z"/>
<path fill="#f0de4e" d="M424 315h4v4h-4zM420 327h4v4h-4zM416 339h4v4h-4zM412 351h4v4h-4zM408 363h4v4h-4zM404 375h4v4h-4zM396 403h4v4h-4zM392 419h4v4h-4zM388 439h4v4h-4zM384 467h4v4h-4zM384 471h4v4h-4z"/>
<path fill="#ead260" d="M428 315h4v4h-4zM416 347h4v4h-4zM404 387h4v4h-4zM400 399h4v4h-4zM392 431h4v4h-4zM388 451h4v4h-4z"/>
<path fill="#dec672" d="M432 315h4v4h-4zM420 347h4v4h-4zM416 359h4v4h-4zM400 411h4v4h-4zM392 443h4v4h-4zM388 475h4v4h-4zM388 479h4v4h-4zM388 483h4v4h-4z"/>
<path fill="#d8ba7e" d="M436 315h4v4h-4zM432 323h4v4h-4zM432 327h4v4h-4zM428 335h4v4h-4zM424 347h4v4h-4zM420 359h4v4h-4zM416 371h4v4h-4zM412 383h4v4h-4zM408 395h4v4h-4zM404 407h4v4h-4zM400 419h4v4h-4zM396 435h4v4h-4zM392 455h4v4h-4z"/>
<path fill="#d2ae8a" d="M440 315h4v4h-4zM432 335h4v4h-4zM428 347h4v4h-4zM420 367h4v4h-4zM416 379h4v4h-4zM412 391h4v4h-4zM408 403h4v4h-4zM404 415h4v4h-4zM400 427h4v4h-4zM396 443h4v4h-4zM392 471h4v4h-4zM392 475h4v4h-4zM392 479h4v4h-4zM392 483h4v4h-4z"/>
<path fill="#cca896" d="M444 315h4v4h-4zM440 323h4v4h-4zM436 335h4v4h-4zM432 347h4v4h-4zM428 355h4v4h-4zM424 367h4v4h-4zM420 375h4v4h-4zM416 387h4v4h-4zM412 399h4v4h-4zM408 411h4v4h-4zM404 423h4v4h-4zM400 435h4v4h-4zM396 451h4v4h-4zM396 455h4v4h-4z"/>
<path fill="#d2ae90" d="M440 319h4v4h-4zM436 327h4v4h-4zM432 339h4v4h-4zM428 351h4v4h-4zM424 359h4v4h-4zM420 371h4v4h-4zM416 383h4v4h-4zM400 431h4v4h-4zM396 447h4v4h-4zM392 487h4v4h-4z"/>
<path fill="#cca29c" d="M444 319h4v4h-4zM440 327h4v4h-4zM440 331h4v4h-4zM436 339h4v4h-4zM432 351h4v4h-4zM428 359h4v4h-4zM424 371h4v4h-4zM420 379h4v4h-4zM416 391h4v4h-4zM400 439h4v4h-4zM396 459h4v4h-4z"/>
<path fill="#c69ca8" d="M448 319h4v4h-4zM440 339h4v4h-4zM432 359h4v4h-4zM424 379h4v4h-4zM416 399h4v4h-4zM396 479h4v4h-4zM396 483h4v4h-4z"/>
<path fill="#c096ae" d="M452 319h4v4h-4zM448 327h4v4h-4zM444 335h4v4h-4zM440 347h4v4h-4zM436 355h4v4h-4zM432 367h4v4h-4zM428 375h4v4h-4zM424 387h4v4h-4zM420 395h4v4h-4zM416 407h4v4h-4zM412 415h4v4h-4zM408 427h4v4h-4zM404 439h4v4h-4zM400 455h4v4h-4z"/>
<path fill="#fca200" d="M384 323h4v4h-4zM384 327h4v4h-4zM384 331h4v4h-4zM384 335h4v4h-4zM380 351h4v4h-4zM376 363h4v4h-4zM372 371h4v4h-4zM368 383h4v4h-4zM364 403h4v4h-4zM360 431h4v4h-4zM360 435h4v4h-4zM360 439h4v4h-4zM356 451h4v4h-4z"/>
<path fill="#d2b48a" d="M436 323h4v4h-4zM424 355h4v4h-4zM392 467h4v4h-4z"/>
<path fill="#c6a2a2" d="M444 323h4v4h-4zM428 363h4v4h-4zM420 383h4v4h-4zM400 443h4v4h-4zM396 463h4v4h-4z"/>
<path fill="#c096a8" d="M448 323h4v4h-4zM440 343h4v4h-4zM432 363h4v4h-4zM424 383h4v4h-4zM420 391h4v4h-4zM416 403h4v4h-4zM408 423h4v4h-4zM400 451h4v4h-4z"/>
<path fill="#ba90b4" d="M452 323h4v4h-4zM452 327h4v4h-4zM448 331h4v4h-4zM448 335h4v4h-4zM444 343h4v4h-4zM440 351h4v4h-4zM440 355h4v4h-4zM436 363h4v4h-4zM432 371h4v4h-4zM432 375h4v4h-4zM428 383h4v4h-4zM424 391h4v4h-4zM420 403h4v4h-4zM416 411h4v4h-4zM412 423h4v4h-4zM408 431h4v4h-4zM404 447h4v4h-4zM400 463h4v4h-4zM400 467h4v4h-4z"/>
<path fill="#b48aba" d="M456 323h4v4h-4zM452 331h4v4h-4zM448 339h4v4h-4zM444 347h4v4h-4zM444 351h4v4h-4zM440 359h4v4h-4zM436 371h4v4h-4zM432 379h4v4h-4zM432 383h4v4h-4zM428 391h4v4h-4zM424 399h4v4h-4zM420 407h4v4h-4zM420 411h4v4h-4zM416 419h4v4h-4zM412 427h4v4h-4zM408 439h4v4h-4zM404 451h4v4h-4zM404 455h4v4h-4zM400 471h4v4h-4zM400 475h4v4h-4zM400 479h4v4h-4zM400 483h4v4h-4z"/>
<path fill="#b484c0" d="M460 323h4v4h-4zM452 335h4v4h-4zM448 343h4v4h-4zM440 363h4v4h-4zM436 375h4v4h-4zM432 387h4v4h-4zM428 395h4v4h-4zM424 403h4v4h-4zM416 423h4v4h-4zM412 431h4v4h-4zM408 443h4v4h-4z"/>
<path fill="#eacc60" d="M424 327h4v4h-4zM408 375h4v4h-4zM396 415h4v4h-4z"/>
<path fill="#dec072" d="M428 327h4v4h-4zM424 339h4v4h-4zM412 375h4v4h-4zM408 387h4v4h-4zM404 399h4v4h-4zM396 427h4v4h-4zM388 487h4v4h-4z"/>
<path fill="#c69ca2" d="M444 327h4v4h-4zM440 335h4v4h-4zM436 347h4v4h-4zM432 355h4v4h-4zM428 367h4v4h-4zM424 375h4v4h-4zM420 387h4v4h-4zM416 395h4v4h-4zM412 407h4v4h-4zM408 419h4v4h-4zM404 431h4v4h-4zM400 447h4v4h-4zM396 467h4v4h-4zM396 471h4v4h-4zM396 475h4v4h-4z"/>
<path fill="#b48ac0" d="M456 327h4v4h-4z"/>
<path fill="#ae84c6" d="M460 327h4v4h-4zM452 339h4v4h-4zM444 359h4v4h-4zM440 371h4v4h-4zM436 383h4v4h-4zM432 391h4v4h-4zM416 427h4v4h-4zM408 447h4v4h-4zM404 463h4v4h-4z"/>
<path fill="#a87ec6" d="M464 327h4v4h-4zM460 335h4v4h-4zM456 339h4v4h-4zM452 347h4v4h-4zM448 355h4v4h-4zM448 359h4v4h-4zM444 367h4v4h-4zM444 371h4v4h-4zM440 379h4v4h-4zM440 383h4v4h-4zM436 391h4v4h-4zM436 395h4v4h-4zM432 399h4v4h-4zM432 403h4v4h-4zM428 407h4v4h-4zM428 411h4v4h-4zM424 415h4v4h-4zM424 419h4v4h-4zM420 423h4v4h-4zM420 427h4v4h-4zM416 431h4v4h-4zM416 435h4v4h-4zM412 443h4v4h-4zM408 455h4v4h-4zM404 471h4v4h-4zM404 475h4v4h-4z"/>
<path fill="#d2a890" d="M436 331h4v4h-4zM412 395h4v4h-4zM404 419h4v4h-4z"/>
<path fill="#c09ca8" d="M444 331h4v4h-4zM436 351h4v4h-4zM428 371h4v4h-4zM412 411h4v4h-4zM404 435h4v4h-4zM396 487h4v4h-4z"/>
<path fill="#ae84c0" d="M456 331h4v4h-4zM448 347h4v4h-4zM444 355h4v4h-4zM440 367h4v4h-4zM436 379h4v4h-4zM428 399h4v4h-4zM424 407h4v4h-4zM420 415h4v4h-4zM412 435h4v4h-4zM404 459h4v4h-4z"/>
<path fill="#ae7ec6" d="M460 331h4v4h-4zM456 335h4v4h-4zM452 343h4v4h-4zM448 351h4v4h-4zM444 363h4v4h-4zM440 375h4v4h-4zM436 387h4v4h-4zM432 395h4v4h-4zM428 403h4v4h-4zM424 411h4v4h-4zM420 419h4v4h-4zM412 439h4v4h-4zM408 451h4v4h-4zM404 467h4v4h-4z"/>
<path fill="#a87ecc" d="M464 331h4v4h-4zM452 351h4v4h-4zM448 363h4v4h-4zM444 375h4v4h-4zM440 387h4v4h-4zM408 459h4v4h-4zM404 479h4v4h-4z"/>
<path fill="#a278cc" d="M468 331h8v4h-8zM464 335h4v4h-4zM460 339h8v4h-8zM460 343h4v4h-4zM456 347h4v4h-4zM456 351h4v4h-4zM452 355h4v4h-4zM452 359h4v4h-4zM452 363h4v4h-4zM448 367h8v4h-8zM448 371h4v4h-4zM448 375h4v4h-4zM448 379h4v4h-4zM444 383h4v4h-4zM444 387h4v4h-4zM444 391h4v4h-4zM440 395h4v4h-4zM440 399h4v4h-4zM436 403h4v4h-4zM436 407h4v4h-4zM432 411h4v4h-4zM432 415h4v4h-4zM428 419h4v4h-4zM424 423h8v4h-8zM424 427h4v4h-4zM420 431h4v4h-4zM420 435h4v4h-4zM416 439h4v4h-4zM416 443h4v4h-4zM412 451h4v4h-4zM412 455h4v4h-4zM408 463h4v4h-4zM408 467h4v4h-4z"/>
<path fill="#f6f01e" d="M412 335h4v4h-4zM380 483h4v4h-4z"/>
<path fill="#dec66c" d="M424 335h4v4h-4zM412 371h4v4h-4zM388 471h4v4h-4z"/>
<path fill="#a278d2" d="M468 335h4v4h-4zM460 347h4v4h-4zM456 355h4v4h-4zM452 371h4v4h-4zM448 383h4v4h-4zM444 395h4v4h-4zM440 403h4v4h-4zM436 411h4v4h-4zM424 431h4v4h-4zM416 447h4v4h-4zM408 471h4v4h-4z"/>
<path fill="#9c72d2" d="M472 335h12v4h-12zM468 339h12v4h-12zM464 343h8v4h-8zM464 347h4v4h-4zM460 351h8v4h-8zM460 355h4v4h-4zM456 359h8v4h-8zM456 363h8v4h-8zM456 367h8v4h-8zM456 371h4v4h-4zM452 375h8v4h-8zM452 379h8v4h-8zM452 383h8v4h-8zM448 387h8v4h-8zM448 391h8v4h-8zM448 395h8v4h-8zM444 399h8v4h-8zM444 403h8v4h-8zM440 407h8v4h-8zM440 411h4v4h-4zM436 415h8v4h-8zM432 419h8v4h-8zM432 423h4v4h-4zM428 427h8v4h-8zM428 431h4v4h-4zM424 435h4v4h-4zM420 439h8v4h-8zM420 443h4v4h-4zM420 447h4v4h-4zM416 451h4v4h-4zM416 455h4v4h-4zM412 459h4v4h-4zM412 463h4v4h-4zM412 467h4v4h-4zM408 475h4v4h-4zM408 479h4v4h-4zM408 483h4v4h-4z"/>
<path fill="#ba90ae" d="M444 339h4v4h-4zM436 359h4v4h-4zM428 379h4v4h-4zM420 399h4v4h-4zM412 419h4v4h-4zM404 443h4v4h-4zM400 459h4v4h-4z"/>
<path fill="#9672d2" d="M480 339h8v4h-8zM472 343h4v4h-4zM468 347h4v4h-4zM464 355h4v4h-4zM460 371h4v4h-4zM444 411h4v4h-4zM436 423h4v4h-4zM416 459h4v4h-4zM412 471h4v4h-4z"/>
<path fill="#f6ea36" d="M412 343h4v4h-4zM400 379h4v4h-4zM392 407h4v4h-4z"/>
<path fill="#ead854" d="M416 343h4v4h-4zM412 355h4v4h-4zM384 491h4v4h-4z"/>
<path fill="#deba78" d="M424 343h4v4h-4zM412 379h4v4h-4z"/>
<path fill="#d2b484" d="M428 343h4v4h-4z"/>
<path fill="#cca890" d="M432 343h4v4h-4zM424 363h4v4h-4zM408 407h4v4h-4z"/>
<path fill="#c6a29c" d="M436 343h4v4h-4zM412 403h4v4h-4zM408 415h4v4h-4zM404 427h4v4h-4z"/>
<path fill="#a878cc" d="M456 343h4v4h-4zM444 379h4v4h-4zM440 391h4v4h-4zM436 399h4v4h-4zM432 407h4v4h-4zM428 415h4v4h-4zM412 447h4v4h-4zM404 483h4v4h-4z"/>
<path fill="#9672d8" d="M476 343h4v4h-4zM488 343h8v4h-8zM496 347h8v4h-8zM468 351h4v4h-4zM500 351h8v4h-8zM508 355h8v4h-8zM464 359h4v4h-4zM464 363h4v4h-4zM460 375h4v4h-4zM460 379h4v4h-4zM456 387h4v4h-4zM456 391h4v4h-4zM452 399h4v4h-4zM448 407h4v4h-4zM440 419h4v4h-4zM432 431h4v4h-4zM428 435h4v4h-4zM424 443h4v4h-4zM420 451h4v4h-4z"/>
<path fill="#966cd8" d="M480 343h8v4h-8zM472 347h24v4h-24zM472 351h28v4h-28zM468 355h40v4h-40zM468 359h8v4h-8zM488 359h36v4h-36zM468 363h4v4h-4zM496 363h32v4h-32zM464 367h8v4h-8zM524 367h12v4h-12zM464 371h8v4h-8zM464 375h4v4h-4zM464 379h4v4h-4zM460 383h8v4h-8zM460 387h4v4h-4zM460 391h4v4h-4zM456 395h8v4h-8zM456 399h4v4h-4zM452 403h8v4h-8zM452 407h4v4h-4zM448 411h4v4h-4zM444 415h8v4h-8zM444 419h4v4h-4zM440 423h4v4h-4zM436 427h4v4h-4zM436 431h4v4h-4zM432 435h4v4h-4zM428 439h4v4h-4zM424 447h4v4h-4zM420 455h4v4h-4zM416 463h4v4h-4zM416 467h4v4h-4zM412 475h4v4h-4zM412 479h4v4h-4zM412 483h4v4h-4z"/>
<path fill="#fcf01e" d="M408 347h4v4h-4zM396 383h4v4h-4zM384 435h4v4h-4zM380 471h4v4h-4zM380 475h4v4h-4zM380 479h4v4h-4z"/>
<path fill="#d8ba78" d="M420 355h4v4h-4zM416 367h4v4h-4zM392 451h4v4h-4z"/>
<path fill="#906cd8" d="M476 359h12v4h-12zM472 363h24v4h-24zM472 367h52v4h-52zM472 371h12v4h-12zM488 371h56v4h-56zM468 375h12v4h-12zM468 379h8v4h-8zM468 383h4v4h-4zM464 387h8v4h-8zM464 391h4v4h-4zM464 395h4v4h-4zM460 399h4v4h-4zM460 403h4v4h-4zM456 407h4v4h-4zM452 411h4v4h-4zM452 415h4v4h-4zM448 419h4v4h-4zM444 423h4v4h-4zM440 427h4v4h-4zM436 435h4v4h-4zM432 439h4v4h-4zM428 443h4v4h-4zM424 451h4v4h-4zM420 459h4v4h-4zM420 463h4v4h-4zM416 471h4v4h-4zM416 475h4v4h-4z"/>
<path fill="#e4cc6c" d="M412 367h4v4h-4z"/>
<path fill="#ba8aba" d="M436 367h4v4h-4zM428 387h4v4h-4z"/>
<path fill="#9066d8" d="M484 371h4v4h-4zM480 375h8v4h-8zM476 379h4v4h-4zM472 383h4v4h-4zM472 387h4v4h-4zM468 391h4v4h-4zM468 395h4v4h-4zM464 399h4v4h-4zM460 407h4v4h-4zM456 411h4v4h-4zM444 427h4v4h-4zM440 431h4v4h-4zM428 447h4v4h-4zM424 455h4v4h-4zM420 467h4v4h-4z"/>
<path fill="#9066de" d="M488 375h24v4h-24zM532 375h16v4h-16zM480 379h4v4h-4zM476 383h4v4h-4zM472 391h4v4h-4zM464 403h4v4h-4zM452 419h4v4h-4zM448 423h4v4h-4zM432 443h4v4h-4zM416 479h4v4h-4z"/>
<path fill="#8a66de" d="M512 375h20v4h-20zM484 379h72v4h-72zM480 383h28v4h-28zM476 387h20v4h-20zM476 391h12v4h-12zM472 395h12v4h-12zM468 399h12v4h-12zM468 403h8v4h-8zM464 407h8v4h-8zM460 411h8v4h-8zM456 415h8v4h-8zM456 419h4v4h-4zM452 423h8v4h-8zM448 427h8v4h-8zM444 431h8v4h-8zM440 435h8v4h-8zM436 439h8v4h-8zM436 443h4v4h-4zM432 447h4v4h-4zM428 451h4v4h-4zM428 455h4v4h-4zM424 459h4v4h-4zM424 463h4v4h-4zM424 467h4v4h-4zM420 471h8v4h-8zM420 475h4v4h-4zM420 479h4v4h-4z"/>
<path fill="#f6e442" d="M400 383h4v4h-4zM392 411h4v4h-4z"/>
<path fill="#8a60de" d="M508 383h4v4h-4zM496 387h4v4h-4zM488 391h4v4h-4zM468 411h4v4h-4zM464 415h4v4h-4zM460 419h4v4h-4zM432 451h4v4h-4zM428 459h4v4h-4z"/>
<path fill="#8460de" d="M512 383h44v4h-44zM500 387h16v4h-16zM492 391h12v4h-12zM484 395h12v4h-12zM480 399h12v4h-12zM476 403h12v4h-12zM472 407h12v4h-12zM472 411h4v4h-4zM468 415h4v4h-4zM464 419h4v4h-4zM460 423h4v4h-4zM456 427h4v4h-4zM452 431h4v4h-4zM448 435h4v4h-4zM444 439h8v4h-8zM440 443h8v4h-8zM436 447h8v4h-8zM436 451h4v4h-4zM432 455h4v4h-4zM432 459h4v4h-4zM428 463h4v4h-4zM428 467h4v4h-4zM428 471h4v4h-4zM424 475h4v4h-4zM424 479h4v4h-4z"/>
<path fill="#7e60e4" d="M556 383h8v4h-8zM516 387h4v4h-4zM508 391h4v4h-4zM500 395h4v4h-4zM492 399h4v4h-4zM488 403h4v4h-4zM484 407h4v4h-4zM480 411h4v4h-4zM440 451h4v4h-4zM436 455h4v4h-4zM432 467h4v4h-4z"/>
<path fill="#f6f02a" d="M396 387h4v4h-4z"/>
<path fill="#f0de48" d="M400 387h4v4h-4zM396 399h4v4h-4zM392 415h4v4h-4zM388 435h4v4h-4zM384 463h4v4h-4z"/>
<path fill="#7e5ae4" d="M520 387h16v4h-16zM548 387h8v4h-8zM512 391h8v4h-8zM504 395h8v4h-8zM496 399h8v4h-8zM492 403h8v4h-8zM488 407h4v4h-4zM484 411h4v4h-4zM476 415h8v4h-8zM472 419h8v4h-8zM468 423h8v4h-8zM464 427h8v4h-8zM460 431h8v4h-8zM456 435h8v4h-8zM452 439h8v4h-8zM448 443h8v4h-8zM444 447h8v4h-8zM444 451h4v4h-4zM440 455h4v4h-4zM436 459h4v4h-4zM436 463h4v4h-4zM432 471h4v4h-4zM432 475h4v4h-4z"/>
<path fill="#785ae4" d="M536 387h12v4h-12zM556 387h12v4h-12zM520 391h8v4h-8zM512 395h8v4h-8zM504 399h8v4h-8zM500 403h4v4h-4zM492 407h8v4h-8zM488 411h8v4h-8zM484 415h4v4h-4zM480 419h4v4h-4zM476 423h4v4h-4zM472 427h4v4h-4zM468 431h4v4h-4zM464 435h4v4h-4zM460 439h4v4h-4zM456 443h4v4h-4zM452 447h4v4h-4zM448 451h4v4h-4zM444 455h4v4h-4zM440 459h4v4h-4zM440 463h4v4h-4zM436 467h4v4h-4zM436 471h4v4h-4z"/>
<path fill="#8460e4" d="M504 391h4v4h-4zM496 395h4v4h-4zM476 411h4v4h-4zM472 415h4v4h-4zM468 419h4v4h-4zM464 423h4v4h-4zM460 427h4v4h-4zM456 431h4v4h-4zM452 435h4v4h-4zM432 463h4v4h-4zM428 475h4v4h-4z"/>
<path fill="#7854ea" d="M528 391h4v4h-4zM512 399h4v4h-4zM500 407h4v4h-4zM476 427h4v4h-4zM472 431h4v4h-4zM468 435h4v4h-4zM452 451h4v4h-4zM448 455h4v4h-4z"/>
<path fill="#7254ea" d="M532 391h44v4h-44zM520 395h12v4h-12zM580 395h4v4h-4zM516 399h8v4h-8zM508 403h8v4h-8zM504 407h8v4h-8zM496 411h12v4h-12zM492 415h8v4h-8zM488 419h8v4h-8zM484 423h8v4h-8zM480 427h8v4h-8zM476 431h8v4h-8zM472 435h4v4h-4zM464 439h8v4h-8zM460 443h8v4h-8zM456 447h8v4h-8zM456 451h4v4h-4zM452 455h4v4h-4zM448 459h4v4h-4zM444 463h8v4h-8zM444 467h4v4h-4zM440 471h4v4h-4z"/>
<path fill="#f6e43c" d="M396 395h4v4h-4zM384 455h4v4h-4z"/>
<path fill="#ead85a" d="M400 395h4v4h-4z"/>
<path fill="#ba8ab4" d="M424 395h4v4h-4zM416 415h4v4h-4zM408 435h4v4h-4z"/>
<path fill="#6c4eea" d="M532 395h48v4h-48zM524 399h8v4h-8zM576 399h12v4h-12zM516 403h8v4h-8zM584 403h12v4h-12zM512 407h8v4h-8zM592 407h12v4h-12zM508 411h4v4h-4zM500 415h8v4h-8zM496 419h8v4h-8zM492 423h8v4h-8zM488 427h4v4h-4zM484 431h4v4h-4zM480 435h4v4h-4zM472 439h8v4h-8zM468 443h8v4h-8zM464 447h8v4h-8zM460 451h8v4h-8zM456 455h8v4h-8zM456 459h4v4h-4zM452 463h4v4h-4zM448 467h4v4h-4zM448 471h4v4h-4z"/>
<path fill="#6648f0" d="M532 399h24v4h-24zM524 403h8v4h-8zM568 403h12v4h-12zM520 407h4v4h-4zM580 407h8v4h-8zM516 411h4v4h-4zM588 411h8v4h-8zM604 411h4v4h-4zM508 415h4v4h-4zM504 419h4v4h-4zM500 423h4v4h-4zM496 427h4v4h-4zM492 431h4v4h-4zM484 435h4v4h-4zM480 439h4v4h-4zM476 443h4v4h-4zM472 447h4v4h-4zM468 451h4v4h-4zM464 455h4v4h-4zM460 459h4v4h-4zM456 463h4v4h-4zM452 467h4v4h-4zM452 471h4v4h-4z"/>
<path fill="#6648ea" d="M556 399h4v4h-4zM580 403h4v4h-4zM596 411h8v4h-8z"/>
<path fill="#664eea" d="M560 399h16v4h-16zM588 407h4v4h-4zM512 411h4v4h-4zM492 427h4v4h-4zM488 431h4v4h-4z"/>
<path fill="#7854e4" d="M504 403h4v4h-4zM488 415h4v4h-4zM484 419h4v4h-4zM480 423h4v4h-4zM444 459h4v4h-4zM440 467h4v4h-4zM436 475h4v4h-4z"/>
<path fill="#6048f0" d="M532 403h4v4h-4zM556 403h12v4h-12zM524 407h4v4h-4zM576 407h4v4h-4zM584 411h4v4h-4zM512 415h4v4h-4zM592 415h16v4h-16zM508 419h4v4h-4zM504 423h4v4h-4zM488 435h4v4h-4zM484 439h4v4h-4zM480 443h4v4h-4zM476 447h4v4h-4zM472 451h4v4h-4zM460 463h4v4h-4zM456 467h4v4h-4z"/>
<path fill="#6042f0" d="M536 403h20v4h-20zM528 407h4v4h-4zM564 407h12v4h-12zM520 411h4v4h-4zM576 411h8v4h-8zM516 415h4v4h-4zM584 415h8v4h-8zM608 415h4v4h-4zM512 419h4v4h-4zM500 427h4v4h-4zM496 431h4v4h-4zM492 435h4v4h-4zM488 439h4v4h-4zM484 443h4v4h-4zM468 455h4v4h-4zM464 459h4v4h-4z"/>
<path fill="#5a42f0" d="M532 407h8v4h-8zM552 407h12v4h-12zM524 411h8v4h-8zM568 411h8v4h-8zM520 415h4v4h-4zM580 415h4v4h-4zM612 415h4v4h-4zM516 419h4v4h-4zM588 419h24v4h-24zM508 423h8v4h-8zM504 427h4v4h-4zM500 431h4v4h-4zM496 435h4v4h-4zM492 439h4v4h-4zM488 443h4v4h-4zM480 447h4v4h-4zM476 451h4v4h-4zM472 455h4v4h-4zM468 459h4v4h-4zM464 463h4v4h-4zM460 467h4v4h-4z"/>
<path fill="#5a3cf0" d="M540 407h12v4h-12zM564 411h4v4h-4zM524 415h4v4h-4zM576 415h4v4h-4zM584 419h4v4h-4zM612 419h4v4h-4zM508 427h4v4h-4zM504 431h4v4h-4zM484 447h4v4h-4zM480 451h4v4h-4z"/>
<path fill="#fcf61e" d="M388 411h4v4h-4z"/>
<path fill="#543cf0" d="M532 411h8v4h-8zM548 411h16v4h-16zM528 415h4v4h-4zM568 415h8v4h-8zM520 419h4v4h-4zM576 419h8v4h-8zM616 419h4v4h-4zM516 423h4v4h-4zM588 423h24v4h-24zM512 427h4v4h-4zM500 435h4v4h-4zM496 439h4v4h-4zM492 443h4v4h-4zM488 447h4v4h-4zM476 455h4v4h-4zM472 459h4v4h-4zM468 463h4v4h-4zM464 467h4v4h-4z"/>
<path fill="#543cf6" d="M540 411h8v4h-8zM532 415h4v4h-4zM560 415h8v4h-8zM524 419h4v4h-4zM572 419h4v4h-4zM520 423h4v4h-4zM584 423h4v4h-4zM508 431h4v4h-4zM504 435h4v4h-4zM500 439h4v4h-4zM484 451h4v4h-4zM480 455h4v4h-4zM476 459h4v4h-4zM472 463h4v4h-4z"/>
<path fill="#4e36f6" d="M536 415h24v4h-24zM528 419h12v4h-12zM556 419h16v4h-16zM524 423h8v4h-8zM568 423h16v4h-16zM516 427h8v4h-8zM580 427h20v4h-20zM512 431h8v4h-8zM508 435h4v4h-4zM504 439h4v4h-4zM496 443h8v4h-8zM492 447h8v4h-8zM488 451h4v4h-4zM484 455h4v4h-4zM480 459h4v4h-4zM476 463h4v4h-4z"/>
<path fill="#4836f6" d="M540 419h16v4h-16zM524 427h4v4h-4zM512 435h4v4h-4zM492 451h4v4h-4z"/>
<path fill="#4830f6" d="M532 423h36v4h-36zM528 427h8v4h-8zM568 427h12v4h-12zM520 431h8v4h-8zM580 431h8v4h-8zM516 435h4v4h-4zM508 439h8v4h-8zM504 443h4v4h-4zM500 447h4v4h-4zM496 451h4v4h-4zM488 455h8v4h-8zM484 459h4v4h-4z"/>
<path fill="#4230f6" d="M536 427h8v4h-8zM556 427h12v4h-12zM528 431h4v4h-4zM572 431h8v4h-8zM520 435h4v4h-4zM516 439h4v4h-4zM508 443h4v4h-4zM504 447h4v4h-4zM500 451h4v4h-4zM488 459h4v4h-4z"/>
<path fill="#422af6" d="M544 427h12v4h-12zM532 431h8v4h-8zM564 431h8v4h-8zM524 435h4v4h-4zM520 439h4v4h-4zM512 443h4v4h-4zM508 447h4v4h-4zM496 455h4v4h-4zM492 459h4v4h-4z"/>
<path fill="#3c2afc" d="M540 431h24v4h-24zM528 435h12v4h-12zM564 435h8v4h-8zM524 439h4v4h-4zM516 443h8v4h-8zM512 447h4v4h-4zM504 451h8v4h-8zM500 455h4v4h-4z"/>
<path fill="#724eea" d="M476 435h4v4h-4zM452 459h4v4h-4zM444 471h4v4h-4z"/>
<path fill="#3c24fc" d="M540 435h8v4h-8zM556 435h8v4h-8zM528 439h4v4h-4zM516 447h4v4h-4zM504 455h4v4h-4z"/>
<path fill="#3624fc" d="M548 435h8v4h-8zM532 439h28v4h-28zM524 443h12v4h-12zM520 447h8v4h-8zM512 451h8v4h-8z"/>
<path fill="#301efc" d="M536 443h12v4h-12zM528 447h8v4h-8z"/>
<path fill="#e4cc60" d="M388 455h4v4h-4z"/>
<path fill="#f0de54" d="M384 475h4v4h-4z"/>
</g>
<path fill="none" stroke="#111" stroke-width="0.9" d="M616.0 359.3L610.5 364.0L605.0 367.7L599.0 370.6L593.0 372.7L574.0 377.4L558.7 382.0L553.0 383.3L549.0 383.7L530.0 383.5L524.0 384.1L518.0 385.2L511.0 387.3L503.0 390.4L496.0 393.8L491.0 396.8L482.0 404.2L459.0 427.5L436.0 453.2L434.0 456.3L432.4 460.0L427.9 475.0L424.3 481.0L423.0 484.0L421.9 488.0L421.7 493.0M605.8 277.0L596.0 283.4L587.0 288.6L577.0 293.5L568.0 297.1L558.0 300.1L548.0 302.1L538.0 303.4L511.0 305.8L503.0 307.1L496.0 308.7L488.0 311.4L480.0 315.4L474.0 319.4L468.0 325.0L464.0 329.9L458.0 338.4L453.0 347.3L449.9 355.0L442.3 378.0L437.5 391.0L429.5 409.0L418.0 432.2L413.1 444.0L409.0 457.1L405.6 472.0L404.2 486.0L404.7 493.0M495.9 277.0L487.0 281.4L479.0 286.0L472.0 290.9L466.0 295.8L460.0 301.7L455.0 307.7L450.7 314.0L447.4 320.0L438.0 345.8L418.0 395.3L410.0 417.9L404.5 435.0L401.0 448.4L398.3 463.0L397.4 472.0L396.4 493.0M458.9 277.0L452.8 283.0L447.0 290.0L442.4 297.0L438.0 304.9L433.0 315.9L424.0 339.9L418.0 357.4L401.6 410.0L394.5 438.0L391.8 452.0L390.1 465.0L388.8 493.0M437.0 277.0L431.6 285.0L428.0 293.2L413.0 340.9L401.7 374.0L392.7 405.0L388.6 424.0L384.6 450.0L382.8 467.0L382.0 487.0L381.4 493.0M421.8 277.0L417.2 284.0L414.7 290.0L413.9 294.0L413.4 301.0L411.0 310.3L401.0 346.0L389.0 382.9L383.6 404.0L380.4 422.0L377.5 445.0L376.1 465.0L375.9 486.0L374.8 493.0M407.5 277.0L402.0 284.4L400.2 288.0L399.0 291.6L393.5 336.0L391.5 347.0L389.5 355.0L384.0 370.3L380.0 383.0L376.4 396.0L374.0 406.8L371.8 422.0L370.0 441.1L369.0 466.0L368.9 482.0L368.1 487.0L366.4 493.0M395.9 277.0L392.2 282.0L390.8 286.0L387.6 329.0L386.6 338.0L384.7 349.0L382.1 358.0L376.6 371.0L372.0 383.7L368.3 398.0L365.5 416.0L361.2 455.0L361.0 455.7L360.0 456.5L356.0 456.1L353.0 457.4L350.9 460.0L350.0 462.9M350.0 466.0L351.0 470.0L353.3 477.0L354.1 481.0L354.2 486.0L353.1 493.0M388.1 277.0L384.3 282.0L383.0 286.0L378.3 330.0L375.1 351.0L373.2 358.0L368.8 371.0L365.4 384.0L355.2 434.0L353.0 440.2L350.0 445.0"/>
</g>
<path fill="none" stroke="#000" stroke-width="1.3" stroke-dasharray="4.2 2.8" d="M349.1 500.6L381.2 268.1M349.1 500.6L413.4 268.1M349.1 500.6L477.6 268.1M349.1 500.6L606.1 268.1M349.1 500.6L634.9 371.3M349.1 500.6L613.8 420.8"/>
<g fill="#000"><circle cx="379.7" cy="279.3" r="2.15"/><circle cx="364.4" cy="390.0" r="2.15"/><circle cx="356.7" cy="445.3" r="2.15"/><circle cx="352.9" cy="472.9" r="2.15"/><circle cx="405.9" cy="295.1" r="2.15"/><circle cx="377.5" cy="397.9" r="2.15"/><circle cx="363.3" cy="449.2" r="2.15"/><circle cx="356.2" cy="474.9" r="2.15"/><circle cx="448.4" cy="320.9" r="2.15"/><circle cx="398.8" cy="410.7" r="2.15"/><circle cx="373.9" cy="455.7" r="2.15"/><circle cx="361.5" cy="478.1" r="2.15"/><circle cx="508.0" cy="356.9" r="2.15"/><circle cx="428.5" cy="428.7" r="2.15"/><circle cx="388.8" cy="464.7" r="2.15"/><circle cx="369.0" cy="482.6" r="2.15"/><circle cx="576.0" cy="398.0" r="2.15"/><circle cx="462.6" cy="449.3" r="2.15"/><circle cx="405.8" cy="474.9" r="2.15"/><circle cx="377.5" cy="487.8" r="2.15"/><circle cx="613.8" cy="420.8" r="2.15"/><circle cx="481.4" cy="460.7" r="2.15"/><circle cx="415.3" cy="480.6" r="2.15"/><circle cx="382.2" cy="490.6" r="2.15"/></g>
<g font-size="10" fill="#111"><text x="0" y="3.6" transform="translate(374.1 277.6) rotate(-82.1)" text-anchor="middle">1:16</text><text x="0" y="3.6" transform="translate(404.6 279.8) rotate(-74.6)" text-anchor="middle">1:8</text><text x="0" y="3.6" transform="translate(447.8 307.8) rotate(-61.1)" text-anchor="middle">1:4</text><text x="0" y="3.6" transform="translate(510.7 346.2) rotate(-42.1)" text-anchor="middle">1:2</text><text x="0" y="3.6" transform="translate(580.8 391.0) rotate(-24.3)" text-anchor="middle">1:1</text><text x="0" y="3.6" transform="translate(621.4 415.1) rotate(-16.8)" text-anchor="middle">1.5:1</text></g>
<rect x="349.1" y="267.10" width="286.8" height="233.50" fill="none" stroke="#000" stroke-width="1.8"/>
<path stroke="#000" stroke-width="0.9" fill="none" d="M348.2 500.6h-3.6M348.2 433.7h-3.6M348.2 366.8h-3.6M348.2 299.9h-3.6M349.1 501.5v3.4M423.1 501.5v3.4M497.0 501.5v3.4M571.0 501.5v3.4"/>
<rect x="550.1" y="274.1" width="59" height="94" fill="#fff"/>
<text x="553.4" y="286.6" font-size="11.8" fill="#1a1a1a">Dev time</text>
<text x="553.4" y="297.7" font-size="11.8" fill="#1a1a1a">(hours)</text>
<rect x="553.1" y="303.50" width="12.3" height="1.83" fill="#ff0600"/>
<rect x="553.1" y="305.04" width="12.3" height="1.83" fill="#ff1300"/>
<rect x="553.1" y="306.57" width="12.3" height="1.83" fill="#ff2000"/>
<rect x="553.1" y="308.11" width="12.3" height="1.83" fill="#ff2d00"/>
<rect x="553.1" y="309.64" width="12.3" height="1.83" fill="#ff3900"/>
<rect x="553.1" y="311.18" width="12.3" height="1.83" fill="#ff4600"/>
<rect x="553.1" y="312.71" width="12.3" height="1.83" fill="#ff5300"/>
<rect x="553.1" y="314.25" width="12.3" height="1.83" fill="#ff6000"/>
<rect x="553.1" y="315.78" width="12.3" height="1.83" fill="#ff6c00"/>
<rect x="553.1" y="317.31" width="12.3" height="1.83" fill="#ff7900"/>
<rect x="553.1" y="318.85" width="12.3" height="1.83" fill="#ff8600"/>
<rect x="553.1" y="320.38" width="12.3" height="1.83" fill="#ff9300"/>
<rect x="553.1" y="321.92" width="12.3" height="1.83" fill="#ff9f00"/>
<rect x="553.1" y="323.45" width="12.3" height="1.83" fill="#ffac00"/>
<rect x="553.1" y="324.99" width="12.3" height="1.83" fill="#ffb900"/>
<rect x="553.1" y="326.52" width="12.3" height="1.83" fill="#ffc600"/>
<rect x="553.1" y="328.06" width="12.3" height="1.83" fill="#ffd200"/>
<rect x="553.1" y="329.60" width="12.3" height="1.83" fill="#ffdf00"/>
<rect x="553.1" y="331.13" width="12.3" height="1.83" fill="#ffec00"/>
<rect x="553.1" y="332.67" width="12.3" height="1.83" fill="#fff900"/>
<rect x="553.1" y="334.20" width="12.3" height="1.83" fill="#fcf90e"/>
<rect x="553.1" y="335.74" width="12.3" height="1.83" fill="#f7ec2b"/>
<rect x="553.1" y="337.27" width="12.3" height="1.83" fill="#f2e047"/>
<rect x="553.1" y="338.81" width="12.3" height="1.83" fill="#ead35c"/>
<rect x="553.1" y="340.34" width="12.3" height="1.83" fill="#e2c76c"/>
<rect x="553.1" y="341.88" width="12.3" height="1.83" fill="#daba7d"/>
<rect x="553.1" y="343.41" width="12.3" height="1.83" fill="#d1ae8e"/>
<rect x="553.1" y="344.94" width="12.3" height="1.83" fill="#c9a19e"/>
<rect x="553.1" y="346.48" width="12.3" height="1.83" fill="#c096ab"/>
<rect x="553.1" y="348.01" width="12.3" height="1.83" fill="#b78cb8"/>
<rect x="553.1" y="349.55" width="12.3" height="1.83" fill="#ae81c4"/>
<rect x="553.1" y="351.08" width="12.3" height="1.83" fill="#a57acb"/>
<rect x="553.1" y="352.62" width="12.3" height="1.83" fill="#9c73d2"/>
<rect x="553.1" y="354.15" width="12.3" height="1.83" fill="#926bd9"/>
<rect x="553.1" y="355.69" width="12.3" height="1.83" fill="#8360e0"/>
<rect x="553.1" y="357.23" width="12.3" height="1.83" fill="#7555e7"/>
<rect x="553.1" y="358.76" width="12.3" height="1.83" fill="#6448ee"/>
<rect x="553.1" y="360.30" width="12.3" height="1.83" fill="#4f37f4"/>
<rect x="553.1" y="361.83" width="12.3" height="1.83" fill="#3a26fa"/>
<rect x="553.1" y="363.37" width="12.3" height="1.83" fill="#2315fd"/>
<text x="566.6" y="316.6" font-size="8.7" font-weight="bold" fill="#111">300</text>
<text x="566.6" y="329.6" font-size="8.7" font-weight="bold" fill="#111">250</text>
<text x="566.6" y="342.9" font-size="8.7" font-weight="bold" fill="#111">200</text>
<text x="566.6" y="356.4" font-size="8.7" font-weight="bold" fill="#111">150</text>
<text x="42.6" y="504.0" font-size="9.6" font-weight="bold" text-anchor="end" fill="#111">0</text>
<text x="42.6" y="437.1" font-size="9.6" font-weight="bold" text-anchor="end" fill="#111">100</text>
<text x="42.6" y="370.2" font-size="9.6" font-weight="bold" text-anchor="end" fill="#111">200</text>
<text x="42.6" y="303.3" font-size="9.6" font-weight="bold" text-anchor="end" fill="#111">300</text>
<text transform="translate(13.2 374.2) rotate(-90)" font-size="15.5" text-anchor="middle" fill="#111">Carbohydrate (g/L)</text>
<clipPath id="cp5"><polygon points="55.3,718.1 82.1,524.5 316.2,666.0 84.6,735.8"/></clipPath>
<g clip-path="url(#cp5)"><g filter="url(#blr)">
<path fill="#fcfc06" d="M79 524h4v4h-4zM87 540h4v4h-4zM87 544h4v4h-4zM87 548h4v4h-4zM87 552h4v4h-4zM87 556h4v4h-4zM87 560h4v4h-4zM87 564h4v4h-4zM87 568h4v4h-4zM87 572h4v4h-4zM87 576h4v4h-4zM87 580h4v4h-4zM87 584h4v4h-4zM91 644h4v4h-4zM91 648h4v4h-4zM95 680h4v4h-4z"/>
<path fill="#fcfc00" d="M83 524h4v4h-4zM83 528h4v4h-4zM87 532h4v4h-4zM87 536h4v4h-4zM91 628h4v4h-4zM91 632h4v4h-4zM91 636h4v4h-4zM91 640h4v4h-4zM95 664h4v4h-4zM95 668h4v4h-4zM95 672h4v4h-4zM95 676h4v4h-4zM99 704h4v4h-4zM99 708h4v4h-4z"/>
<path fill="#fcf000" d="M87 524h4v4h-4zM91 528h4v4h-4zM95 636h4v4h-4zM95 640h4v4h-4zM95 644h4v4h-4zM95 648h4v4h-4zM99 680h4v4h-4zM99 684h4v4h-4zM99 688h4v4h-4zM103 720h4v4h-4z"/>
<path fill="#fcf618" d="M79 528h4v4h-4zM87 632h4v4h-4zM91 660h4v4h-4zM91 664h4v4h-4zM95 692h4v4h-4z"/>
<path fill="#fcf600" d="M87 528h4v4h-4zM91 532h4v4h-4zM91 536h4v4h-4zM91 540h4v4h-4zM91 544h4v4h-4zM91 548h4v4h-4zM91 552h4v4h-4zM91 556h4v4h-4zM91 560h4v4h-4zM91 564h4v4h-4zM91 568h4v4h-4zM91 572h4v4h-4zM91 576h4v4h-4zM91 580h4v4h-4zM91 584h4v4h-4zM91 588h4v4h-4zM91 592h4v4h-4zM91 596h4v4h-4zM91 600h4v4h-4zM91 604h4v4h-4zM91 608h4v4h-4zM91 612h4v4h-4zM91 616h4v4h-4zM91 620h4v4h-4zM91 624h4v4h-4zM95 652h4v4h-4zM95 656h4v4h-4zM95 660h4v4h-4zM99 692h4v4h-4zM99 696h4v4h-4zM99 700h4v4h-4zM103 724h4v4h-4zM103 728h4v4h-4z"/>
<path fill="#fcea00" d="M95 528h4v4h-4zM95 532h4v4h-4zM95 536h4v4h-4zM95 540h4v4h-4zM95 544h4v4h-4zM95 548h4v4h-4zM95 552h4v4h-4zM95 556h4v4h-4zM95 560h4v4h-4zM95 564h4v4h-4zM95 568h4v4h-4zM95 572h4v4h-4zM95 576h4v4h-4zM95 580h4v4h-4zM95 584h4v4h-4zM95 588h4v4h-4zM95 592h4v4h-4zM95 596h4v4h-4zM95 600h4v4h-4zM95 604h4v4h-4zM95 608h4v4h-4zM95 612h4v4h-4zM95 616h4v4h-4zM95 620h4v4h-4zM95 624h4v4h-4zM95 628h4v4h-4zM95 632h4v4h-4zM99 668h4v4h-4zM99 672h4v4h-4zM99 676h4v4h-4zM103 716h4v4h-4z"/>
<path fill="#f0e442" d="M75 532h4v4h-4zM79 540h4v4h-4zM79 544h4v4h-4zM79 592h4v4h-4zM79 596h4v4h-4zM79 600h4v4h-4zM79 604h4v4h-4zM79 608h4v4h-4zM83 644h4v4h-4zM95 712h4v4h-4z"/>
<path fill="#f6f02a" d="M79 532h4v4h-4zM83 604h4v4h-4zM83 608h4v4h-4z"/>
<path fill="#fcf612" d="M83 532h4v4h-4zM87 624h4v4h-4zM87 628h4v4h-4zM91 656h4v4h-4zM95 688h4v4h-4zM99 716h4v4h-4z"/>
<path fill="#fcde00" d="M99 532h4v4h-4zM99 536h4v4h-4zM99 540h4v4h-4zM99 544h4v4h-4zM99 548h4v4h-4zM99 552h4v4h-4zM99 556h4v4h-4zM99 560h4v4h-4zM99 564h4v4h-4zM99 568h4v4h-4zM99 572h4v4h-4zM99 576h4v4h-4zM99 580h4v4h-4zM99 584h4v4h-4zM99 588h4v4h-4zM99 592h4v4h-4zM99 596h4v4h-4zM99 600h4v4h-4zM99 604h4v4h-4zM99 608h4v4h-4zM99 612h4v4h-4zM99 616h4v4h-4zM99 620h4v4h-4zM99 624h4v4h-4zM99 628h4v4h-4zM99 632h4v4h-4zM99 636h4v4h-4zM99 640h4v4h-4zM99 644h4v4h-4zM99 648h4v4h-4zM103 692h4v4h-4zM103 696h4v4h-4zM103 700h4v4h-4zM103 704h4v4h-4zM107 728h4v4h-4z"/>
<path fill="#fcd800" d="M103 532h4v4h-4zM103 536h4v4h-4zM103 540h4v4h-4zM103 544h4v4h-4zM103 548h4v4h-4zM103 552h4v4h-4zM103 556h4v4h-4zM103 560h4v4h-4zM103 564h4v4h-4zM103 568h4v4h-4zM103 572h4v4h-4zM103 576h4v4h-4zM103 580h4v4h-4zM103 584h4v4h-4zM103 676h4v4h-4zM103 680h4v4h-4zM103 684h4v4h-4zM103 688h4v4h-4zM107 724h4v4h-4z"/>
<path fill="#f0de4e" d="M75 536h4v4h-4zM79 624h4v4h-4zM79 628h4v4h-4zM79 632h4v4h-4zM83 656h4v4h-4zM87 676h4v4h-4zM87 680h4v4h-4zM91 696h4v4h-4zM95 716h4v4h-4z"/>
<path fill="#f6e43c" d="M79 536h4v4h-4zM79 556h4v4h-4zM79 560h4v4h-4zM79 564h4v4h-4zM79 568h4v4h-4zM79 572h4v4h-4zM79 576h4v4h-4zM79 580h4v4h-4zM79 584h4v4h-4zM83 636h4v4h-4zM83 640h4v4h-4zM87 664h4v4h-4zM91 688h4v4h-4zM95 708h4v4h-4z"/>
<path fill="#fcf01e" d="M83 536h4v4h-4zM87 636h4v4h-4zM91 668h4v4h-4zM99 720h4v4h-4z"/>
<path fill="#fccc00" d="M107 536h4v4h-4zM107 540h4v4h-4zM107 544h4v4h-4zM107 548h4v4h-4zM107 552h4v4h-4zM107 556h4v4h-4zM107 560h4v4h-4zM107 564h4v4h-4zM107 568h4v4h-4zM107 572h4v4h-4zM107 576h4v4h-4zM107 580h4v4h-4zM107 584h4v4h-4zM107 588h4v4h-4zM107 592h4v4h-4zM107 596h4v4h-4zM103 628h4v4h-4zM103 632h4v4h-4zM103 636h4v4h-4zM103 640h4v4h-4zM107 708h4v4h-4zM107 712h4v4h-4zM107 716h4v4h-4zM111 728h4v4h-4z"/>
<path fill="#f0d854" d="M75 540h4v4h-4zM75 560h4v4h-4zM75 564h4v4h-4zM75 568h4v4h-4zM75 572h4v4h-4zM75 576h4v4h-4zM75 580h4v4h-4zM75 584h4v4h-4zM75 588h4v4h-4zM79 636h4v4h-4zM79 640h4v4h-4zM79 644h4v4h-4zM83 664h4v4h-4zM87 684h4v4h-4zM91 700h4v4h-4zM95 720h4v4h-4zM95 724h4v4h-4z"/>
<path fill="#f6f024" d="M83 540h4v4h-4zM83 544h4v4h-4zM83 548h4v4h-4zM83 552h4v4h-4zM83 556h4v4h-4zM83 560h4v4h-4zM83 564h4v4h-4zM83 568h4v4h-4zM83 572h4v4h-4zM83 576h4v4h-4zM83 580h4v4h-4zM83 584h4v4h-4zM83 588h4v4h-4zM83 592h4v4h-4zM83 596h4v4h-4zM83 600h4v4h-4zM87 640h4v4h-4zM87 644h4v4h-4zM91 672h4v4h-4zM95 696h4v4h-4zM99 724h4v4h-4z"/>
<path fill="#fcc600" d="M111 540h4v4h-4zM111 544h4v4h-4zM111 548h4v4h-4zM111 552h4v4h-4zM111 556h4v4h-4zM111 560h4v4h-4zM111 564h4v4h-4zM111 568h4v4h-4zM111 572h4v4h-4zM111 576h4v4h-4zM111 580h4v4h-4zM107 600h4v4h-4zM107 604h4v4h-4zM107 608h4v4h-4zM107 612h4v4h-4zM107 616h4v4h-4zM107 620h4v4h-4zM107 624h4v4h-4zM107 628h4v4h-4zM107 680h4v4h-4zM107 684h4v4h-4zM107 688h4v4h-4zM107 692h4v4h-4zM107 696h4v4h-4zM107 700h4v4h-4zM107 704h4v4h-4z"/>
<path fill="#fcba00" d="M115 540h4v4h-4zM115 544h4v4h-4zM115 548h4v4h-4zM115 552h4v4h-4zM115 556h4v4h-4zM115 560h4v4h-4zM115 564h4v4h-4zM115 568h4v4h-4zM115 572h4v4h-4zM115 576h4v4h-4zM115 580h4v4h-4zM115 584h4v4h-4zM115 588h4v4h-4zM115 592h4v4h-4zM115 596h4v4h-4zM115 600h4v4h-4zM111 612h4v4h-4zM111 616h4v4h-4zM111 620h4v4h-4zM111 624h4v4h-4zM111 628h4v4h-4zM111 632h4v4h-4zM111 708h4v4h-4zM111 712h4v4h-4zM111 716h4v4h-4zM111 720h4v4h-4zM115 728h4v4h-4z"/>
<path fill="#ead854" d="M75 544h4v4h-4zM75 548h4v4h-4zM75 552h4v4h-4zM75 556h4v4h-4zM75 592h4v4h-4zM75 596h4v4h-4zM75 600h4v4h-4zM95 728h4v4h-4z"/>
<path fill="#fcb400" d="M119 544h4v4h-4zM119 548h4v4h-4zM119 552h4v4h-4zM119 556h4v4h-4zM119 560h4v4h-4zM119 564h4v4h-4zM119 568h4v4h-4zM119 572h4v4h-4zM119 576h4v4h-4zM119 580h4v4h-4zM119 584h4v4h-4zM119 588h4v4h-4zM119 592h4v4h-4zM119 596h4v4h-4zM115 604h4v4h-4zM115 608h4v4h-4zM115 612h4v4h-4zM115 616h4v4h-4zM115 620h4v4h-4zM111 636h4v4h-4zM111 640h4v4h-4zM111 644h4v4h-4zM111 648h4v4h-4zM111 652h4v4h-4zM111 656h4v4h-4zM111 660h4v4h-4zM111 676h4v4h-4zM111 680h4v4h-4zM111 684h4v4h-4zM111 688h4v4h-4zM111 692h4v4h-4zM111 696h4v4h-4zM111 700h4v4h-4zM111 704h4v4h-4zM115 724h4v4h-4z"/>
<path fill="#fcae00" d="M123 544h4v4h-4zM123 548h4v4h-4zM123 552h4v4h-4zM123 556h4v4h-4zM123 560h4v4h-4zM123 564h4v4h-4zM123 568h4v4h-4zM123 572h4v4h-4zM123 576h4v4h-4zM123 580h4v4h-4zM123 584h4v4h-4zM123 588h4v4h-4zM119 600h4v4h-4zM119 604h4v4h-4zM119 608h4v4h-4zM119 612h4v4h-4zM119 616h4v4h-4zM115 624h4v4h-4zM115 628h4v4h-4zM115 632h4v4h-4zM115 636h4v4h-4zM111 664h4v4h-4zM111 668h4v4h-4zM111 672h4v4h-4zM115 716h4v4h-4zM115 720h4v4h-4z"/>
<path fill="#f6e442" d="M79 548h4v4h-4zM79 552h4v4h-4zM79 588h4v4h-4zM87 668h4v4h-4z"/>
<path fill="#fca200" d="M127 548h4v4h-4zM127 552h4v4h-4zM127 556h4v4h-4zM127 560h4v4h-4zM127 564h4v4h-4zM127 568h4v4h-4zM127 572h4v4h-4zM127 576h4v4h-4zM127 580h4v4h-4zM127 584h4v4h-4zM127 588h4v4h-4zM127 592h4v4h-4zM127 596h4v4h-4zM127 600h4v4h-4zM127 604h4v4h-4zM123 616h4v4h-4zM123 620h4v4h-4zM123 624h4v4h-4zM119 632h4v4h-4zM119 636h4v4h-4zM119 640h4v4h-4zM115 656h4v4h-4zM115 660h4v4h-4zM115 664h4v4h-4zM115 668h4v4h-4zM115 672h4v4h-4zM115 676h4v4h-4zM115 680h4v4h-4zM115 684h4v4h-4zM115 688h4v4h-4zM115 692h4v4h-4zM119 712h4v4h-4zM119 716h4v4h-4zM119 720h4v4h-4zM123 724h4v4h-4z"/>
<path fill="#fc9c00" d="M131 552h4v4h-4zM131 556h4v4h-4zM131 560h4v4h-4zM131 564h4v4h-4zM131 568h4v4h-4zM131 572h4v4h-4zM131 576h4v4h-4zM131 580h4v4h-4zM131 584h4v4h-4zM131 588h4v4h-4zM131 592h4v4h-4zM131 596h4v4h-4zM131 600h4v4h-4zM127 608h4v4h-4zM127 612h4v4h-4zM127 616h4v4h-4zM127 620h4v4h-4zM123 628h4v4h-4zM123 632h4v4h-4zM123 636h4v4h-4zM119 644h4v4h-4zM119 648h4v4h-4zM119 652h4v4h-4zM295 672h8v4h-8zM283 676h8v4h-8zM119 700h4v4h-4zM119 704h4v4h-4zM119 708h4v4h-4zM123 720h4v4h-4z"/>
<path fill="#fc9600" d="M135 552h4v4h-4zM135 556h4v4h-4zM135 560h4v4h-4zM135 564h4v4h-4zM135 568h4v4h-4zM135 572h4v4h-4zM135 576h4v4h-4zM135 580h4v4h-4zM135 584h4v4h-4zM135 588h4v4h-4zM131 604h4v4h-4zM131 608h4v4h-4zM131 612h4v4h-4zM131 616h4v4h-4zM127 624h4v4h-4zM127 628h4v4h-4zM127 632h4v4h-4zM123 640h4v4h-4zM123 644h4v4h-4zM119 656h4v4h-4zM119 660h4v4h-4zM119 664h4v4h-4zM119 668h4v4h-4zM295 668h20v4h-20zM119 672h4v4h-4zM283 672h12v4h-12zM119 676h4v4h-4zM275 676h8v4h-8zM119 680h4v4h-4zM267 680h8v4h-8zM119 684h4v4h-4zM119 688h4v4h-4zM119 692h4v4h-4zM119 696h4v4h-4zM219 696h4v4h-4zM123 708h4v4h-4zM123 712h4v4h-4zM123 716h4v4h-4zM127 720h4v4h-4zM127 724h4v4h-4z"/>
<path fill="#fc8a00" d="M139 556h4v4h-4zM139 560h4v4h-4zM139 564h4v4h-4zM139 568h4v4h-4zM139 572h4v4h-4zM139 576h4v4h-4zM139 580h4v4h-4zM139 584h4v4h-4zM139 588h4v4h-4zM139 592h4v4h-4zM139 596h4v4h-4zM139 600h4v4h-4zM139 604h4v4h-4zM139 608h4v4h-4zM135 616h4v4h-4zM135 620h4v4h-4zM135 624h4v4h-4zM131 632h4v4h-4zM131 636h4v4h-4zM127 644h4v4h-4zM127 648h4v4h-4zM123 660h4v4h-4zM303 660h16v4h-16zM123 664h4v4h-4zM287 664h12v4h-12zM123 668h4v4h-4zM279 668h8v4h-8zM123 672h4v4h-4zM271 672h4v4h-4zM123 676h4v4h-4zM263 676h4v4h-4zM123 680h4v4h-4zM255 680h8v4h-8zM123 684h4v4h-4zM243 684h12v4h-12zM123 688h4v4h-4zM227 688h12v4h-12zM123 692h4v4h-4zM215 692h8v4h-8zM203 696h8v4h-8zM191 700h8v4h-8zM127 704h4v4h-4zM183 704h8v4h-8zM127 708h4v4h-4zM179 708h4v4h-4zM131 712h4v4h-4zM131 716h4v4h-4zM135 720h4v4h-4z"/>
<path fill="#fc8400" d="M143 556h4v4h-4zM143 560h4v4h-4zM143 564h4v4h-4zM143 568h4v4h-4zM143 572h4v4h-4zM143 576h4v4h-4zM143 580h4v4h-4zM143 584h4v4h-4zM143 588h4v4h-4zM143 592h4v4h-4zM143 596h4v4h-4zM143 600h4v4h-4zM143 604h4v4h-4zM139 612h4v4h-4zM139 616h4v4h-4zM139 620h4v4h-4zM139 624h4v4h-4zM135 628h4v4h-4zM135 632h4v4h-4zM135 636h4v4h-4zM131 640h4v4h-4zM131 644h4v4h-4zM127 652h4v4h-4zM127 656h4v4h-4zM303 656h8v4h-8zM127 660h4v4h-4zM291 660h12v4h-12zM283 664h4v4h-4zM271 668h8v4h-8zM263 672h8v4h-8zM255 676h8v4h-8zM243 680h12v4h-12zM231 684h12v4h-12zM219 688h8v4h-8zM207 692h8v4h-8zM127 696h4v4h-4zM195 696h8v4h-8zM127 700h4v4h-4zM183 700h8v4h-8zM131 704h4v4h-4zM179 704h4v4h-4zM131 708h4v4h-4zM175 708h4v4h-4zM135 712h4v4h-4zM135 716h4v4h-4zM139 720h4v4h-4z"/>
<path fill="#e4cc66" d="M71 560h4v4h-4zM71 564h4v4h-4zM71 568h4v4h-4zM71 572h4v4h-4zM71 576h4v4h-4zM71 580h4v4h-4zM71 584h4v4h-4zM71 588h4v4h-4zM71 592h4v4h-4zM71 596h4v4h-4zM71 600h4v4h-4zM71 604h4v4h-4zM71 608h4v4h-4zM71 612h4v4h-4zM71 616h4v4h-4zM71 620h4v4h-4zM71 624h4v4h-4zM75 648h4v4h-4zM75 652h4v4h-4zM79 668h4v4h-4zM83 684h4v4h-4zM83 688h4v4h-4zM87 700h4v4h-4zM87 704h4v4h-4zM91 716h4v4h-4zM91 720h4v4h-4z"/>
<path fill="#fc7e00" d="M147 560h4v4h-4zM147 564h4v4h-4zM147 568h4v4h-4zM147 572h4v4h-4zM147 576h4v4h-4zM147 580h4v4h-4zM147 584h4v4h-4zM147 588h4v4h-4zM147 592h4v4h-4zM147 596h4v4h-4zM147 600h4v4h-4zM143 608h4v4h-4zM143 612h4v4h-4zM143 616h4v4h-4zM143 620h4v4h-4zM143 624h4v4h-4zM139 628h4v4h-4zM139 632h4v4h-4zM135 640h4v4h-4zM135 644h4v4h-4zM131 648h4v4h-4zM131 652h4v4h-4zM131 656h4v4h-4zM295 656h8v4h-8zM287 660h4v4h-4zM127 664h4v4h-4zM275 664h8v4h-8zM127 668h4v4h-4zM267 668h4v4h-4zM127 672h4v4h-4zM255 672h8v4h-8zM127 676h4v4h-4zM243 676h12v4h-12zM127 680h4v4h-4zM235 680h8v4h-8zM127 684h4v4h-4zM223 684h8v4h-8zM127 688h4v4h-4zM211 688h8v4h-8zM127 692h4v4h-4zM199 692h8v4h-8zM131 696h4v4h-4zM187 696h8v4h-8zM131 700h4v4h-4zM179 700h4v4h-4zM135 704h4v4h-4zM175 704h4v4h-4zM135 708h4v4h-4zM171 708h4v4h-4zM139 712h4v4h-4zM163 712h8v4h-8zM139 716h20v4h-20z"/>
<path fill="#fc7200" d="M151 564h4v4h-4zM155 584h4v4h-4zM155 588h4v4h-4zM155 592h4v4h-4zM155 596h4v4h-4zM151 600h4v4h-4zM151 604h4v4h-4zM151 608h4v4h-4zM151 612h4v4h-4zM151 616h4v4h-4zM151 620h4v4h-4zM151 624h4v4h-4zM147 628h4v4h-4zM147 632h4v4h-4zM143 636h4v4h-4zM143 640h4v4h-4zM139 644h4v4h-4zM139 648h4v4h-4zM291 652h8v4h-8zM135 656h4v4h-4zM283 656h4v4h-4zM135 660h4v4h-4zM275 660h4v4h-4zM263 664h8v4h-8zM131 668h4v4h-4zM251 668h8v4h-8zM131 672h4v4h-4zM239 672h8v4h-8zM131 676h4v4h-4zM231 676h8v4h-8zM131 680h4v4h-4zM223 680h4v4h-4zM131 684h4v4h-4zM211 684h8v4h-8zM199 688h8v4h-8zM135 692h4v4h-4zM183 692h8v4h-8zM135 696h4v4h-4zM175 696h8v4h-8zM139 700h4v4h-4zM171 700h4v4h-4zM143 704h8v4h-8zM163 704h8v4h-8zM147 708h16v4h-16z"/>
<path fill="#fc6c00" d="M155 564h4v4h-4zM155 568h4v4h-4zM155 572h4v4h-4zM155 576h4v4h-4zM155 580h4v4h-4zM159 588h4v4h-4zM159 592h4v4h-4zM159 596h4v4h-4zM155 600h8v4h-8zM155 604h8v4h-8zM155 608h4v4h-4zM155 612h4v4h-4zM155 616h4v4h-4zM155 620h4v4h-4zM155 624h4v4h-4zM151 628h4v4h-4zM151 632h4v4h-4zM147 636h4v4h-4zM147 640h4v4h-4zM143 644h4v4h-4zM143 648h4v4h-4zM295 648h4v4h-4zM139 652h4v4h-4zM287 652h4v4h-4zM139 656h4v4h-4zM279 656h4v4h-4zM139 660h4v4h-4zM267 660h8v4h-8zM135 664h4v4h-4zM255 664h8v4h-8zM135 668h4v4h-4zM243 668h8v4h-8zM135 672h4v4h-4zM235 672h4v4h-4zM135 676h4v4h-4zM227 676h4v4h-4zM135 680h4v4h-4zM219 680h4v4h-4zM135 684h4v4h-4zM203 684h8v4h-8zM135 688h4v4h-4zM191 688h8v4h-8zM139 692h4v4h-4zM179 692h4v4h-4zM139 696h8v4h-8zM171 696h4v4h-4zM143 700h8v4h-8zM159 700h12v4h-12zM151 704h12v4h-12z"/>
<path fill="#fc7800" d="M151 568h4v4h-4zM151 572h4v4h-4zM151 576h4v4h-4zM151 580h4v4h-4zM151 584h4v4h-4zM151 588h4v4h-4zM151 592h4v4h-4zM151 596h4v4h-4zM147 604h4v4h-4zM147 608h4v4h-4zM147 612h4v4h-4zM147 616h4v4h-4zM147 620h4v4h-4zM147 624h4v4h-4zM143 628h4v4h-4zM143 632h4v4h-4zM139 636h4v4h-4zM139 640h4v4h-4zM135 648h4v4h-4zM135 652h4v4h-4zM299 652h4v4h-4zM287 656h8v4h-8zM131 660h4v4h-4zM279 660h8v4h-8zM131 664h4v4h-4zM271 664h4v4h-4zM259 668h8v4h-8zM247 672h8v4h-8zM239 676h4v4h-4zM227 680h8v4h-8zM219 684h4v4h-4zM131 688h4v4h-4zM207 688h4v4h-4zM131 692h4v4h-4zM191 692h8v4h-8zM183 696h4v4h-4zM135 700h4v4h-4zM175 700h4v4h-4zM139 704h4v4h-4zM171 704h4v4h-4zM139 708h8v4h-8zM163 708h8v4h-8zM143 712h20v4h-20z"/>
<path fill="#fc6600" d="M159 568h4v4h-4zM159 572h4v4h-4zM159 576h4v4h-4zM159 580h4v4h-4zM159 584h8v4h-8zM163 588h4v4h-4zM163 592h4v4h-4zM163 596h4v4h-4zM163 600h4v4h-4zM163 604h4v4h-4zM159 608h8v4h-8zM159 612h8v4h-8zM159 616h4v4h-4zM159 620h4v4h-4zM159 624h4v4h-4zM155 628h4v4h-4zM155 632h4v4h-4zM151 636h8v4h-8zM151 640h4v4h-4zM147 644h4v4h-4zM147 648h4v4h-4zM291 648h4v4h-4zM143 652h4v4h-4zM283 652h4v4h-4zM143 656h4v4h-4zM275 656h4v4h-4zM259 660h8v4h-8zM139 664h4v4h-4zM247 664h8v4h-8zM139 668h4v4h-4zM239 668h4v4h-4zM139 672h4v4h-4zM231 672h4v4h-4zM139 676h4v4h-4zM223 676h4v4h-4zM139 680h4v4h-4zM211 680h8v4h-8zM139 684h4v4h-4zM195 684h8v4h-8zM139 688h4v4h-4zM183 688h8v4h-8zM143 692h4v4h-4zM175 692h4v4h-4zM147 696h24v4h-24zM151 700h8v4h-8z"/>
<path fill="#fc6000" d="M163 568h4v4h-4zM163 572h4v4h-4zM163 576h4v4h-4zM163 580h4v4h-4zM167 584h4v4h-4zM167 588h4v4h-4zM167 592h4v4h-4zM167 596h4v4h-4zM167 600h4v4h-4zM167 604h4v4h-4zM167 608h4v4h-4zM167 612h4v4h-4zM163 616h8v4h-8zM163 620h4v4h-4zM163 624h4v4h-4zM159 628h8v4h-8zM159 632h4v4h-4zM159 636h4v4h-4zM155 640h4v4h-4zM151 644h8v4h-8zM151 648h4v4h-4zM287 648h4v4h-4zM147 652h8v4h-8zM279 652h4v4h-4zM147 656h4v4h-4zM267 656h8v4h-8zM143 660h4v4h-4zM251 660h8v4h-8zM143 664h4v4h-4zM239 664h8v4h-8zM143 668h4v4h-4zM235 668h4v4h-4zM143 672h4v4h-4zM227 672h4v4h-4zM143 676h4v4h-4zM219 676h4v4h-4zM143 680h4v4h-4zM203 680h8v4h-8zM143 684h4v4h-4zM187 684h8v4h-8zM143 688h8v4h-8zM175 688h8v4h-8zM147 692h28v4h-28z"/>
<path fill="#fc5a00" d="M167 572h4v4h-4zM167 576h4v4h-4zM167 580h8v4h-8zM171 584h4v4h-4zM171 588h4v4h-4zM171 592h4v4h-4zM171 596h4v4h-4zM171 600h4v4h-4zM171 604h4v4h-4zM171 608h4v4h-4zM171 612h4v4h-4zM171 616h4v4h-4zM167 620h8v4h-8zM167 624h8v4h-8zM167 628h4v4h-4zM163 632h8v4h-8zM163 636h4v4h-4zM159 640h8v4h-8zM159 644h4v4h-4zM155 648h4v4h-4zM283 648h4v4h-4zM155 652h4v4h-4zM275 652h4v4h-4zM151 656h4v4h-4zM259 656h8v4h-8zM147 660h8v4h-8zM243 660h8v4h-8zM147 664h4v4h-4zM235 664h4v4h-4zM147 668h4v4h-4zM231 668h4v4h-4zM147 672h4v4h-4zM223 672h4v4h-4zM147 676h4v4h-4zM211 676h8v4h-8zM147 680h4v4h-4zM191 680h12v4h-12zM147 684h8v4h-8zM179 684h8v4h-8zM151 688h12v4h-12zM167 688h8v4h-8z"/>
<path fill="#fc5400" d="M171 576h4v4h-4zM175 580h4v4h-4zM175 584h4v4h-4zM175 588h4v4h-4zM175 592h4v4h-4zM175 596h4v4h-4zM175 600h8v4h-8zM175 604h8v4h-8zM175 608h8v4h-8zM175 612h8v4h-8zM175 616h8v4h-8zM175 620h4v4h-4zM175 624h4v4h-4zM171 628h8v4h-8zM171 632h4v4h-4zM167 636h8v4h-8zM167 640h4v4h-4zM163 644h4v4h-4zM283 644h8v4h-8zM159 648h8v4h-8zM279 648h4v4h-4zM159 652h4v4h-4zM267 652h8v4h-8zM155 656h8v4h-8zM247 656h12v4h-12zM155 660h4v4h-4zM239 660h4v4h-4zM151 664h4v4h-4zM231 664h4v4h-4zM151 668h4v4h-4zM227 668h4v4h-4zM151 672h4v4h-4zM219 672h4v4h-4zM151 676h4v4h-4zM199 676h12v4h-12zM151 680h4v4h-4zM183 680h8v4h-8zM155 684h8v4h-8zM171 684h8v4h-8zM163 688h4v4h-4z"/>
<path fill="#fc4e00" d="M175 576h4v4h-4zM179 580h4v4h-4zM179 584h4v4h-4zM179 588h4v4h-4zM179 592h4v4h-4zM179 596h8v4h-8zM183 600h4v4h-4zM183 604h4v4h-4zM183 608h4v4h-4zM183 612h4v4h-4zM183 616h4v4h-4zM179 620h8v4h-8zM179 624h8v4h-8zM179 628h4v4h-4zM175 632h8v4h-8zM175 636h4v4h-4zM171 640h8v4h-8zM167 644h8v4h-8zM279 644h4v4h-4zM167 648h4v4h-4zM271 648h8v4h-8zM163 652h8v4h-8zM255 652h12v4h-12zM163 656h4v4h-4zM239 656h8v4h-8zM159 660h8v4h-8zM231 660h8v4h-8zM155 664h8v4h-8zM227 664h4v4h-4zM155 668h8v4h-8zM223 668h4v4h-4zM155 672h4v4h-4zM211 672h8v4h-8zM155 676h8v4h-8zM183 676h16v4h-16zM155 680h12v4h-12zM171 680h12v4h-12zM163 684h8v4h-8z"/>
<path fill="#fcc000" d="M111 584h4v4h-4zM111 588h4v4h-4zM111 592h4v4h-4zM111 596h4v4h-4zM111 600h4v4h-4zM111 604h4v4h-4zM111 608h4v4h-4zM107 632h4v4h-4zM107 636h4v4h-4zM107 640h4v4h-4zM107 644h4v4h-4zM107 648h4v4h-4zM107 652h4v4h-4zM107 656h4v4h-4zM107 660h4v4h-4zM107 664h4v4h-4zM107 668h4v4h-4zM107 672h4v4h-4zM107 676h4v4h-4zM111 724h4v4h-4z"/>
<path fill="#fc4800" d="M183 584h4v4h-4zM183 588h4v4h-4zM183 592h8v4h-8zM187 596h4v4h-4zM187 600h4v4h-4zM187 604h4v4h-4zM187 608h8v4h-8zM187 612h8v4h-8zM187 616h4v4h-4zM187 620h4v4h-4zM187 624h4v4h-4zM183 628h8v4h-8zM183 632h8v4h-8zM179 636h8v4h-8zM179 640h8v4h-8zM175 644h8v4h-8zM275 644h4v4h-4zM171 648h8v4h-8zM267 648h4v4h-4zM171 652h8v4h-8zM243 652h12v4h-12zM167 656h8v4h-8zM235 656h4v4h-4zM167 660h4v4h-4zM227 660h4v4h-4zM163 664h8v4h-8zM223 664h4v4h-4zM163 668h4v4h-4zM219 668h4v4h-4zM159 672h8v4h-8zM179 672h32v4h-32zM163 676h20v4h-20zM167 680h4v4h-4z"/>
<path fill="#fc4200" d="M187 584h4v4h-4zM187 588h8v4h-8zM191 592h4v4h-4zM191 596h4v4h-4zM191 600h4v4h-4zM191 604h8v4h-8zM195 608h4v4h-4zM195 612h4v4h-4zM191 616h8v4h-8zM191 620h8v4h-8zM191 624h4v4h-4zM191 628h4v4h-4zM191 632h4v4h-4zM187 636h8v4h-8zM187 640h4v4h-4zM279 640h4v4h-4zM183 644h8v4h-8zM271 644h4v4h-4zM179 648h8v4h-8zM243 648h24v4h-24zM179 652h8v4h-8zM235 652h8v4h-8zM175 656h8v4h-8zM227 656h8v4h-8zM171 660h12v4h-12zM223 660h4v4h-4zM171 664h20v4h-20zM219 664h4v4h-4zM167 668h52v4h-52zM167 672h12v4h-12z"/>
<path fill="#dec078" d="M67 588h4v4h-4zM67 592h4v4h-4zM67 596h4v4h-4zM67 620h4v4h-4zM67 624h4v4h-4zM71 648h4v4h-4zM71 652h4v4h-4zM75 668h4v4h-4zM75 672h4v4h-4zM79 688h4v4h-4zM83 704h4v4h-4zM87 720h4v4h-4z"/>
<path fill="#fcfc0c" d="M87 588h4v4h-4zM87 592h4v4h-4zM87 596h4v4h-4zM87 600h4v4h-4zM87 604h4v4h-4zM87 608h4v4h-4zM87 612h4v4h-4zM87 616h4v4h-4zM91 652h4v4h-4zM95 684h4v4h-4zM99 712h4v4h-4z"/>
<path fill="#fcd200" d="M103 588h4v4h-4zM103 592h4v4h-4zM103 596h4v4h-4zM103 600h4v4h-4zM103 604h4v4h-4zM103 608h4v4h-4zM103 612h4v4h-4zM103 616h4v4h-4zM103 620h4v4h-4zM103 624h4v4h-4zM103 644h4v4h-4zM103 648h4v4h-4zM103 652h4v4h-4zM103 656h4v4h-4zM103 660h4v4h-4zM103 664h4v4h-4zM103 668h4v4h-4zM103 672h4v4h-4zM107 720h4v4h-4z"/>
<path fill="#fc3c00" d="M195 588h4v4h-4zM195 592h4v4h-4zM195 596h4v4h-4zM195 600h8v4h-8zM199 604h4v4h-4zM199 608h4v4h-4zM199 612h4v4h-4zM199 616h4v4h-4zM199 620h4v4h-4zM195 624h8v4h-8zM195 628h8v4h-8zM195 632h4v4h-4zM195 636h4v4h-4zM191 640h8v4h-8zM275 640h4v4h-4zM191 644h8v4h-8zM251 644h20v4h-20zM187 648h8v4h-8zM235 648h8v4h-8zM187 652h8v4h-8zM227 652h8v4h-8zM183 656h12v4h-12zM223 656h4v4h-4zM183 660h16v4h-16zM215 660h8v4h-8zM191 664h28v4h-28z"/>
<path fill="#fca800" d="M123 592h4v4h-4zM123 596h4v4h-4zM123 600h4v4h-4zM123 604h4v4h-4zM123 608h4v4h-4zM123 612h4v4h-4zM119 620h4v4h-4zM119 624h4v4h-4zM119 628h4v4h-4zM115 640h4v4h-4zM115 644h4v4h-4zM115 648h4v4h-4zM115 652h4v4h-4zM115 696h4v4h-4zM115 700h4v4h-4zM115 704h4v4h-4zM115 708h4v4h-4zM115 712h4v4h-4zM119 724h4v4h-4z"/>
<path fill="#fc9000" d="M135 592h4v4h-4zM135 596h4v4h-4zM135 600h4v4h-4zM135 604h4v4h-4zM135 608h4v4h-4zM135 612h4v4h-4zM131 620h4v4h-4zM131 624h4v4h-4zM131 628h4v4h-4zM127 636h4v4h-4zM127 640h4v4h-4zM123 648h4v4h-4zM123 652h4v4h-4zM123 656h4v4h-4zM299 664h24v4h-24zM287 668h8v4h-8zM275 672h8v4h-8zM267 676h8v4h-8zM263 680h4v4h-4zM255 684h8v4h-8zM239 688h12v4h-12zM223 692h16v4h-16zM123 696h4v4h-4zM211 696h8v4h-8zM123 700h4v4h-4zM199 700h12v4h-12zM123 704h4v4h-4zM191 704h8v4h-8zM127 712h4v4h-4zM127 716h4v4h-4zM131 720h4v4h-4z"/>
<path fill="#fc3600" d="M199 592h4v4h-4zM199 596h4v4h-4zM203 600h4v4h-4zM203 604h4v4h-4zM203 608h4v4h-4zM203 612h4v4h-4zM203 616h4v4h-4zM203 620h4v4h-4zM203 624h4v4h-4zM203 628h4v4h-4zM199 632h8v4h-8zM199 636h8v4h-8zM275 636h4v4h-4zM199 640h8v4h-8zM263 640h12v4h-12zM199 644h8v4h-8zM231 644h20v4h-20zM195 648h12v4h-12zM223 648h12v4h-12zM195 652h12v4h-12zM219 652h8v4h-8zM195 656h28v4h-28zM199 660h16v4h-16z"/>
<path fill="#fc3000" d="M203 596h4v4h-4zM207 600h4v4h-4zM207 604h4v4h-4zM207 608h4v4h-4zM207 612h4v4h-4zM207 616h4v4h-4zM207 620h4v4h-4zM207 624h4v4h-4zM207 628h8v4h-8zM207 632h8v4h-8zM207 636h8v4h-8zM267 636h8v4h-8zM207 640h12v4h-12zM227 640h36v4h-36zM207 644h24v4h-24zM207 648h16v4h-16zM207 652h12v4h-12z"/>
<path fill="#fc2a00" d="M207 596h4v4h-4zM211 600h4v4h-4zM211 604h4v4h-4zM211 608h4v4h-4zM211 612h4v4h-4zM211 616h8v4h-8zM211 620h8v4h-8zM211 624h8v4h-8zM215 628h4v4h-4zM215 632h12v4h-12zM267 632h4v4h-4zM215 636h52v4h-52zM219 640h8v4h-8z"/>
<path fill="#dec072" d="M67 600h4v4h-4zM67 604h4v4h-4zM67 608h4v4h-4zM67 612h4v4h-4zM67 616h4v4h-4zM71 644h4v4h-4zM75 664h4v4h-4zM79 684h4v4h-4zM83 700h4v4h-4zM87 716h4v4h-4z"/>
<path fill="#fc2400" d="M215 600h4v4h-4zM215 604h4v4h-4zM215 608h4v4h-4zM215 612h8v4h-8zM219 616h4v4h-4zM219 620h4v4h-4zM219 624h8v4h-8zM219 628h32v4h-32zM227 632h40v4h-40z"/>
<path fill="#ead85a" d="M75 604h4v4h-4zM75 608h4v4h-4zM75 612h4v4h-4zM75 616h4v4h-4zM79 648h4v4h-4zM83 668h4v4h-4zM87 688h4v4h-4zM91 704h4v4h-4zM95 732h4v4h-4z"/>
<path fill="#fc1e00" d="M219 604h4v4h-4zM219 608h8v4h-8zM223 612h4v4h-4zM223 616h8v4h-8zM223 620h16v4h-16zM227 624h32v4h-32zM251 628h12v4h-12z"/>
<path fill="#fc1800" d="M227 608h4v4h-4zM227 612h12v4h-12zM231 616h12v4h-12zM239 620h12v4h-12z"/>
<path fill="#f0de48" d="M79 612h4v4h-4zM79 616h4v4h-4zM79 620h4v4h-4zM83 648h4v4h-4zM83 652h4v4h-4zM87 672h4v4h-4zM91 692h4v4h-4z"/>
<path fill="#f6ea2a" d="M83 612h4v4h-4zM83 616h4v4h-4zM87 648h4v4h-4zM91 676h4v4h-4zM95 700h4v4h-4zM99 728h4v4h-4z"/>
<path fill="#d2b484" d="M63 620h4v4h-4zM67 644h4v4h-4zM79 704h4v4h-4z"/>
<path fill="#ead25a" d="M75 620h4v4h-4zM75 624h4v4h-4zM75 628h4v4h-4zM79 652h4v4h-4zM79 656h4v4h-4zM83 672h4v4h-4zM87 692h4v4h-4zM91 708h4v4h-4z"/>
<path fill="#f6ea30" d="M83 620h4v4h-4zM83 624h4v4h-4zM87 652h4v4h-4zM87 656h4v4h-4zM91 680h4v4h-4zM95 704h4v4h-4zM99 732h4v4h-4z"/>
<path fill="#fcf60c" d="M87 620h4v4h-4z"/>
<path fill="#d2b48a" d="M63 624h4v4h-4zM71 668h4v4h-4zM75 688h4v4h-4zM83 724h4v4h-4z"/>
<path fill="#d2ae8a" d="M63 628h4v4h-4zM67 648h4v4h-4zM71 672h4v4h-4zM79 708h4v4h-4z"/>
<path fill="#deba78" d="M67 628h4v4h-4zM79 692h4v4h-4zM83 708h4v4h-4z"/>
<path fill="#e4c66c" d="M71 628h4v4h-4zM71 632h4v4h-4zM71 636h4v4h-4zM75 656h4v4h-4zM79 672h4v4h-4zM79 676h4v4h-4zM83 692h4v4h-4zM83 696h4v4h-4zM87 708h4v4h-4zM91 724h4v4h-4zM91 728h4v4h-4z"/>
<path fill="#f6ea36" d="M83 628h4v4h-4zM83 632h4v4h-4zM87 660h4v4h-4zM91 684h4v4h-4z"/>
<path fill="#d2ae90" d="M63 632h4v4h-4zM67 652h4v4h-4zM71 676h4v4h-4zM75 692h4v4h-4zM79 712h4v4h-4zM83 728h4v4h-4z"/>
<path fill="#d8ba7e" d="M67 632h4v4h-4zM67 636h4v4h-4zM71 656h4v4h-4zM71 660h4v4h-4zM75 676h4v4h-4zM75 680h4v4h-4zM79 696h4v4h-4zM83 712h4v4h-4zM87 728h4v4h-4z"/>
<path fill="#ead260" d="M75 632h4v4h-4zM75 636h4v4h-4zM75 640h4v4h-4zM79 660h4v4h-4zM83 676h4v4h-4zM83 680h4v4h-4zM87 696h4v4h-4zM91 712h4v4h-4z"/>
<path fill="#cca890" d="M63 636h4v4h-4zM75 696h4v4h-4z"/>
<path fill="#cca896" d="M63 640h4v4h-4zM67 656h4v4h-4zM67 660h4v4h-4zM71 680h4v4h-4zM75 700h4v4h-4zM79 716h4v4h-4zM83 732h4v4h-4z"/>
<path fill="#d8b484" d="M67 640h4v4h-4zM71 664h4v4h-4zM75 684h4v4h-4zM79 700h4v4h-4zM83 716h4v4h-4zM83 720h4v4h-4zM87 736h4v4h-4z"/>
<path fill="#dec672" d="M71 640h4v4h-4zM79 680h4v4h-4zM87 712h4v4h-4z"/>
<path fill="#cca29c" d="M63 644h4v4h-4zM67 664h4v4h-4zM71 684h4v4h-4zM83 736h4v4h-4z"/>
<path fill="#e4cc60" d="M75 644h4v4h-4zM79 664h4v4h-4z"/>
<path fill="#ba8ab4" d="M59 648h4v4h-4z"/>
<path fill="#c69ca2" d="M63 648h4v4h-4zM67 672h4v4h-4zM71 688h4v4h-4zM75 708h4v4h-4zM79 728h4v4h-4z"/>
<path fill="#b48aba" d="M59 652h4v4h-4zM63 668h4v4h-4zM67 688h4v4h-4zM71 704h4v4h-4zM75 724h4v4h-4zM75 728h4v4h-4z"/>
<path fill="#c09ca8" d="M63 652h4v4h-4zM75 712h4v4h-4zM79 732h4v4h-4z"/>
<path fill="#fce400" d="M99 652h4v4h-4zM99 656h4v4h-4zM99 660h4v4h-4zM99 664h4v4h-4zM103 708h4v4h-4zM103 712h4v4h-4z"/>
<path fill="#ae84c0" d="M59 656h4v4h-4zM63 672h4v4h-4zM67 692h4v4h-4zM75 732h4v4h-4z"/>
<path fill="#c096ae" d="M63 656h4v4h-4zM67 680h4v4h-4zM71 696h4v4h-4zM75 716h4v4h-4zM79 736h4v4h-4z"/>
<path fill="#ae7ec6" d="M59 660h4v4h-4zM63 676h4v4h-4zM67 696h4v4h-4zM71 712h4v4h-4z"/>
<path fill="#ba90ae" d="M63 660h4v4h-4z"/>
<path fill="#dec66c" d="M75 660h4v4h-4zM91 732h4v4h-4z"/>
<path fill="#f0de54" d="M83 660h4v4h-4z"/>
<path fill="#a87ecc" d="M59 664h4v4h-4zM63 680h4v4h-4zM67 700h4v4h-4z"/>
<path fill="#ba90b4" d="M63 664h4v4h-4zM67 684h4v4h-4zM71 700h4v4h-4zM75 720h4v4h-4z"/>
<path fill="#a278cc" d="M59 668h4v4h-4zM63 684h4v4h-4zM67 704h4v4h-4zM71 720h4v4h-4z"/>
<path fill="#c6a2a2" d="M67 668h4v4h-4z"/>
<path fill="#9c72d2" d="M59 672h4v4h-4zM63 692h4v4h-4zM67 708h4v4h-4zM71 728h4v4h-4z"/>
<path fill="#7854ea" d="M55 676h4v4h-4zM59 712h4v4h-4z"/>
<path fill="#966cd8" d="M59 676h4v4h-4zM63 696h4v4h-4zM67 716h4v4h-4z"/>
<path fill="#c096a8" d="M67 676h4v4h-4z"/>
<path fill="#7254ea" d="M55 680h4v4h-4zM59 716h4v4h-4z"/>
<path fill="#9066d8" d="M59 680h4v4h-4zM67 720h4v4h-4z"/>
<path fill="#6c4eea" d="M55 684h4v4h-4zM59 720h4v4h-4z"/>
<path fill="#8a66de" d="M59 684h4v4h-4zM63 704h4v4h-4zM63 708h4v4h-4zM67 724h4v4h-4z"/>
<path fill="#664eea" d="M55 688h4v4h-4z"/>
<path fill="#8460de" d="M59 688h4v4h-4zM63 712h4v4h-4zM67 728h4v4h-4z"/>
<path fill="#a278d2" d="M63 688h4v4h-4zM71 724h4v4h-4z"/>
<path fill="#6648f0" d="M55 692h4v4h-4zM55 696h4v4h-4zM59 724h4v4h-4z"/>
<path fill="#7e60e4" d="M59 692h4v4h-4z"/>
<path fill="#c69ca8" d="M71 692h4v4h-4z"/>
<path fill="#7e5ae4" d="M59 696h4v4h-4zM59 700h4v4h-4zM63 720h4v4h-4z"/>
<path fill="#6048f0" d="M55 700h4v4h-4zM55 704h4v4h-4z"/>
<path fill="#906cd8" d="M63 700h4v4h-4z"/>
<path fill="#785ae4" d="M59 704h4v4h-4zM63 724h4v4h-4z"/>
<path fill="#c6a29c" d="M75 704h4v4h-4zM79 724h4v4h-4z"/>
<path fill="#5a42f0" d="M55 708h4v4h-4z"/>
<path fill="#7854e4" d="M59 708h4v4h-4z"/>
<path fill="#b484c0" d="M71 708h4v4h-4z"/>
<path fill="#543cf0" d="M55 712h4v4h-4z"/>
<path fill="#9672d2" d="M67 712h4v4h-4z"/>
<path fill="#543cf6" d="M55 716h4v4h-4z"/>
<path fill="#8460e4" d="M63 716h4v4h-4z"/>
<path fill="#a87ec6" d="M71 716h4v4h-4z"/>
<path fill="#4e36f6" d="M55 720h4v4h-4z"/>
<path fill="#cca89c" d="M79 720h4v4h-4z"/>
<path fill="#d8ba78" d="M87 724h4v4h-4z"/>
<path fill="#d8ba84" d="M87 732h4v4h-4z"/>
</g>
<path fill="none" stroke="#111" stroke-width="0.9" d="M64.9 738.0L64.1 731.0L61.5 724.0L60.0 717.2L56.6 682.0L55.5 677.0L53.0 670.8M71.7 738.0L71.6 728.0L64.6 697.0L61.1 677.0L53.0 654.4M80.9 738.0L79.1 732.0L76.5 717.0L68.0 677.2L63.9 655.0L58.8 637.0L56.0 624.0L54.3 609.0L53.0 576.8M92.9 738.0L91.6 727.0L83.3 695.0L75.0 656.3L71.1 631.0L69.6 617.0L70.0 561.0L69.8 553.0L69.3 547.0L67.1 540.0L58.0 522.0M99.7 738.0L98.2 722.0L95.0 703.4L88.2 669.0L82.0 626.0L81.0 612.0L80.2 587.0L80.3 541.0L79.2 538.0L72.8 529.0L69.1 522.0M107.6 738.0L105.1 728.0L102.4 709.0L93.8 626.0L93.4 616.0L93.7 584.0L92.4 534.0L92.1 532.0L91.1 530.0L87.0 525.0L85.1 522.0M319.0 713.4L308.0 713.8L296.0 716.2L287.0 719.1L264.0 727.6L231.5 738.0M117.0 738.0L112.0 729.1L109.8 723.0L108.5 708.0L106.3 668.0L105.8 649.0L106.1 626.0L109.3 579.0L109.8 561.0L109.2 536.0L108.2 529.0L106.1 522.0M319.0 681.8L312.0 681.8L306.0 682.3L300.0 683.3L294.0 684.8L283.0 689.2L264.0 700.2L256.0 703.9L248.0 706.1L228.0 709.3L221.8 711.0L215.0 713.4L207.3 717.0L200.6 721.0L179.3 738.0M131.6 738.0L128.0 735.0L124.0 730.8L121.0 726.4L119.6 723.0L118.5 718.0L117.0 706.0L115.6 687.0L115.4 668.0L116.6 650.0L118.1 640.0L125.0 604.4L126.3 595.0L126.9 586.0L127.0 571.0L126.5 547.0L125.1 534.0L122.6 522.0M319.0 656.1L308.0 656.8L300.0 658.4L282.2 665.0L260.0 674.4L245.0 680.2L211.0 692.3L187.0 700.2L181.0 703.4L173.0 710.7L167.0 715.4L162.0 718.4L158.0 720.2L154.0 721.2L150.0 721.5L147.0 721.0L144.0 719.8L140.0 715.9L137.3 712.0L130.1 696.0L128.6 690.0L127.9 680.0L128.3 671.0L129.9 662.0L134.0 648.7L140.9 631.0L142.9 625.0L144.7 617.0L146.1 606.0L147.4 584.0L146.9 556.0L145.4 539.0L142.3 522.0M319.0 609.7L308.0 612.3L297.0 616.2L288.0 620.5L271.0 630.1L264.0 632.7L259.0 633.1L247.0 631.9L234.0 631.3L229.0 630.3L226.0 628.8L223.9 627.0L222.0 623.9L217.5 609.0L212.0 585.0L194.9 522.0"/>
</g>
<path fill="none" stroke="#000" stroke-width="1.3" stroke-dasharray="4.2 2.8" d="M51.5 745.8L83.6 513.1M51.5 745.8L115.8 513.1M51.5 745.8L180.1 513.1M51.5 745.8L308.7 513.1M51.5 745.8L337.3 616.5M51.5 745.8L316.2 666.0"/>
<g fill="#000"><circle cx="82.1" cy="524.5" r="2.15"/><circle cx="66.8" cy="635.2" r="2.15"/><circle cx="59.1" cy="690.5" r="2.15"/><circle cx="55.3" cy="718.1" r="2.15"/><circle cx="108.3" cy="540.3" r="2.15"/><circle cx="79.9" cy="643.1" r="2.15"/><circle cx="65.7" cy="694.4" r="2.15"/><circle cx="58.6" cy="720.1" r="2.15"/><circle cx="150.8" cy="566.1" r="2.15"/><circle cx="101.2" cy="655.9" r="2.15"/><circle cx="76.3" cy="700.9" r="2.15"/><circle cx="63.9" cy="723.3" r="2.15"/><circle cx="210.4" cy="602.1" r="2.15"/><circle cx="130.9" cy="673.9" r="2.15"/><circle cx="91.2" cy="709.9" r="2.15"/><circle cx="71.4" cy="727.8" r="2.15"/><circle cx="278.4" cy="643.2" r="2.15"/><circle cx="165.0" cy="694.5" r="2.15"/><circle cx="108.2" cy="720.1" r="2.15"/><circle cx="79.9" cy="733.0" r="2.15"/><circle cx="316.2" cy="666.0" r="2.15"/><circle cx="183.8" cy="705.9" r="2.15"/><circle cx="117.7" cy="725.8" r="2.15"/><circle cx="84.6" cy="735.8" r="2.15"/></g>
<g font-size="10" fill="#111"><text x="0" y="3.6" transform="translate(76.5 522.8) rotate(-82.1)" text-anchor="middle">1:16</text><text x="0" y="3.6" transform="translate(107.0 525.0) rotate(-74.6)" text-anchor="middle">1:8</text><text x="0" y="3.6" transform="translate(150.2 553.0) rotate(-61.1)" text-anchor="middle">1:4</text><text x="0" y="3.6" transform="translate(213.1 591.4) rotate(-42.1)" text-anchor="middle">1:2</text><text x="0" y="3.6" transform="translate(283.2 636.2) rotate(-24.3)" text-anchor="middle">1:1</text><text x="0" y="3.6" transform="translate(323.8 660.3) rotate(-16.8)" text-anchor="middle">1.5:1</text></g>
<rect x="51.5" y="512.15" width="286.8" height="233.65" fill="none" stroke="#000" stroke-width="1.8"/>
<path stroke="#000" stroke-width="0.9" fill="none" d="M50.6 745.8h-3.6M50.6 678.9h-3.6M50.6 612.0h-3.6M50.6 545.1h-3.6M51.5 746.7v3.4M125.5 746.7v3.4M199.4 746.7v3.4M273.4 746.7v3.4"/>
<rect x="253.8" y="520.2" width="59" height="94" fill="#fff"/>
<text x="257.1" y="531.6" font-size="11.8" fill="#1a1a1a">Female weight</text>
<text x="257.1" y="542.7" font-size="11.8" fill="#1a1a1a">(mg)</text>
<rect x="256.8" y="549.60" width="12.3" height="1.83" fill="#ff0600"/>
<rect x="256.8" y="551.13" width="12.3" height="1.83" fill="#ff1300"/>
<rect x="256.8" y="552.67" width="12.3" height="1.83" fill="#ff2000"/>
<rect x="256.8" y="554.21" width="12.3" height="1.83" fill="#ff2d00"/>
<rect x="256.8" y="555.74" width="12.3" height="1.83" fill="#ff3900"/>
<rect x="256.8" y="557.27" width="12.3" height="1.83" fill="#ff4600"/>
<rect x="256.8" y="558.81" width="12.3" height="1.83" fill="#ff5300"/>
<rect x="256.8" y="560.35" width="12.3" height="1.83" fill="#ff6000"/>
<rect x="256.8" y="561.88" width="12.3" height="1.83" fill="#ff6c00"/>
<rect x="256.8" y="563.42" width="12.3" height="1.83" fill="#ff7900"/>
<rect x="256.8" y="564.95" width="12.3" height="1.83" fill="#ff8600"/>
<rect x="256.8" y="566.49" width="12.3" height="1.83" fill="#ff9300"/>
<rect x="256.8" y="568.02" width="12.3" height="1.83" fill="#ff9f00"/>
<rect x="256.8" y="569.56" width="12.3" height="1.83" fill="#ffac00"/>
<rect x="256.8" y="571.09" width="12.3" height="1.83" fill="#ffb900"/>
<rect x="256.8" y="572.62" width="12.3" height="1.83" fill="#ffc600"/>
<rect x="256.8" y="574.16" width="12.3" height="1.83" fill="#ffd200"/>
<rect x="256.8" y="575.70" width="12.3" height="1.83" fill="#ffdf00"/>
<rect x="256.8" y="577.23" width="12.3" height="1.83" fill="#ffec00"/>
<rect x="256.8" y="578.76" width="12.3" height="1.83" fill="#fff900"/>
<rect x="256.8" y="580.30" width="12.3" height="1.83" fill="#fcf90e"/>
<rect x="256.8" y="581.84" width="12.3" height="1.83" fill="#f7ec2b"/>
<rect x="256.8" y="583.37" width="12.3" height="1.83" fill="#f2e047"/>
<rect x="256.8" y="584.90" width="12.3" height="1.83" fill="#ead35c"/>
<rect x="256.8" y="586.44" width="12.3" height="1.83" fill="#e2c76c"/>
<rect x="256.8" y="587.98" width="12.3" height="1.83" fill="#daba7d"/>
<rect x="256.8" y="589.51" width="12.3" height="1.83" fill="#d1ae8e"/>
<rect x="256.8" y="591.05" width="12.3" height="1.83" fill="#c9a19e"/>
<rect x="256.8" y="592.58" width="12.3" height="1.83" fill="#c096ab"/>
<rect x="256.8" y="594.12" width="12.3" height="1.83" fill="#b78cb8"/>
<rect x="256.8" y="595.65" width="12.3" height="1.83" fill="#ae81c4"/>
<rect x="256.8" y="597.19" width="12.3" height="1.83" fill="#a57acb"/>
<rect x="256.8" y="598.72" width="12.3" height="1.83" fill="#9c73d2"/>
<rect x="256.8" y="600.25" width="12.3" height="1.83" fill="#926bd9"/>
<rect x="256.8" y="601.79" width="12.3" height="1.83" fill="#8360e0"/>
<rect x="256.8" y="603.33" width="12.3" height="1.83" fill="#7555e7"/>
<rect x="256.8" y="604.86" width="12.3" height="1.83" fill="#6448ee"/>
<rect x="256.8" y="606.39" width="12.3" height="1.83" fill="#4f37f4"/>
<rect x="256.8" y="607.93" width="12.3" height="1.83" fill="#3a26fa"/>
<rect x="256.8" y="609.47" width="12.3" height="1.83" fill="#2315fd"/>
<text x="270.3" y="555.1" font-size="8.7" font-weight="bold" fill="#111">1.8</text>
<text x="270.3" y="568.2" font-size="8.7" font-weight="bold" fill="#111">1.6</text>
<text x="270.3" y="580.6" font-size="8.7" font-weight="bold" fill="#111">1.4</text>
<text x="270.3" y="593.7" font-size="8.7" font-weight="bold" fill="#111">1.2</text>
<text x="270.3" y="606.8" font-size="8.7" font-weight="bold" fill="#111">1.0</text>
<clipPath id="cp6"><polygon points="352.9,718.1 379.7,524.5 613.8,666.0 382.2,735.8"/></clipPath>
<g clip-path="url(#cp6)"><g filter="url(#blr)">
<path fill="#7254ea" d="M376 524h4v4h-4zM372 536h4v4h-4zM360 628h4v4h-4zM360 632h4v4h-4zM360 648h4v4h-4zM360 652h4v4h-4zM360 656h4v4h-4zM360 660h4v4h-4zM360 664h4v4h-4zM360 668h4v4h-4zM360 672h4v4h-4zM360 676h4v4h-4z"/>
<path fill="#7e5ae4" d="M380 524h4v4h-4zM376 536h4v4h-4zM372 548h4v4h-4zM368 568h4v4h-4zM368 572h4v4h-4zM364 684h4v4h-4zM364 688h4v4h-4zM364 692h4v4h-4zM364 696h4v4h-4zM364 704h4v4h-4zM364 708h4v4h-4zM364 712h4v4h-4zM364 716h4v4h-4zM364 720h4v4h-4zM364 724h4v4h-4zM364 728h4v4h-4z"/>
<path fill="#9066de" d="M384 524h4v4h-4zM372 576h4v4h-4zM368 692h4v4h-4z"/>
<path fill="#7854ea" d="M376 528h4v4h-4zM372 540h4v4h-4z"/>
<path fill="#8460de" d="M380 528h4v4h-4zM376 540h4v4h-4zM376 544h4v4h-4zM372 556h4v4h-4zM372 560h4v4h-4zM368 580h4v4h-4zM368 584h4v4h-4zM364 600h4v4h-4zM364 604h4v4h-4zM364 628h4v4h-4zM364 632h4v4h-4zM364 648h4v4h-4zM364 652h4v4h-4zM364 656h4v4h-4zM364 660h4v4h-4zM364 664h4v4h-4zM364 668h4v4h-4z"/>
<path fill="#906cd8" d="M384 528h4v4h-4zM380 540h4v4h-4zM376 560h4v4h-4zM372 580h4v4h-4zM372 584h4v4h-4zM368 600h4v4h-4zM368 672h4v4h-4zM368 676h4v4h-4zM368 680h4v4h-4z"/>
<path fill="#9c72d2" d="M388 528h4v4h-4zM384 540h4v4h-4zM384 544h4v4h-4zM384 548h4v4h-4zM384 552h4v4h-4zM380 560h4v4h-4zM380 564h4v4h-4zM380 568h4v4h-4zM380 572h4v4h-4zM376 580h4v4h-4zM376 584h4v4h-4zM376 588h4v4h-4zM372 596h4v4h-4zM372 600h4v4h-4zM372 604h4v4h-4zM372 664h4v4h-4zM372 668h4v4h-4zM372 672h4v4h-4zM372 676h4v4h-4zM372 680h4v4h-4zM372 684h4v4h-4zM372 688h4v4h-4zM372 692h4v4h-4zM372 696h4v4h-4zM372 700h4v4h-4zM372 704h4v4h-4zM372 708h4v4h-4zM372 712h4v4h-4zM372 716h4v4h-4zM372 720h4v4h-4zM372 724h4v4h-4zM372 728h4v4h-4z"/>
<path fill="#a278cc" d="M392 528h4v4h-4zM388 536h4v4h-4zM388 540h4v4h-4zM388 544h4v4h-4zM388 548h4v4h-4zM384 560h4v4h-4zM384 564h4v4h-4zM384 568h4v4h-4zM384 572h4v4h-4zM380 580h4v4h-4zM380 584h4v4h-4zM380 588h4v4h-4zM376 596h4v4h-4zM376 600h4v4h-4zM372 612h4v4h-4zM372 616h4v4h-4zM372 620h4v4h-4zM372 624h4v4h-4zM372 628h4v4h-4zM372 632h4v4h-4zM372 636h4v4h-4zM372 640h4v4h-4zM372 644h4v4h-4zM372 648h4v4h-4zM372 652h4v4h-4zM376 696h4v4h-4zM376 700h4v4h-4zM376 704h4v4h-4zM376 708h4v4h-4zM376 712h4v4h-4zM376 716h4v4h-4zM376 720h4v4h-4zM376 724h4v4h-4zM376 728h4v4h-4zM376 732h4v4h-4z"/>
<path fill="#785ae4" d="M376 532h4v4h-4zM372 544h4v4h-4zM368 564h4v4h-4zM364 700h4v4h-4z"/>
<path fill="#8a66de" d="M380 532h4v4h-4zM380 536h4v4h-4zM376 548h4v4h-4zM376 552h4v4h-4zM372 568h4v4h-4zM372 572h4v4h-4zM368 588h4v4h-4zM368 592h4v4h-4zM364 608h4v4h-4zM364 612h4v4h-4zM364 616h4v4h-4zM364 620h4v4h-4zM364 624h4v4h-4zM368 696h4v4h-4zM368 700h4v4h-4zM368 704h4v4h-4zM368 708h4v4h-4zM368 712h4v4h-4zM368 716h4v4h-4zM368 720h4v4h-4zM368 724h4v4h-4zM368 728h4v4h-4z"/>
<path fill="#966cd8" d="M384 532h4v4h-4zM380 544h4v4h-4zM380 548h4v4h-4zM376 564h4v4h-4zM376 568h4v4h-4zM376 572h4v4h-4zM372 588h4v4h-4zM368 604h4v4h-4zM368 608h4v4h-4zM368 632h4v4h-4zM368 636h4v4h-4zM368 640h4v4h-4zM368 644h4v4h-4zM368 648h4v4h-4zM368 652h4v4h-4zM368 656h4v4h-4zM368 660h4v4h-4zM368 664h4v4h-4zM368 668h4v4h-4z"/>
<path fill="#9c78d2" d="M388 532h4v4h-4zM376 592h4v4h-4z"/>
<path fill="#a878cc" d="M392 532h4v4h-4zM388 552h4v4h-4zM384 576h4v4h-4zM380 592h4v4h-4zM376 604h4v4h-4zM376 680h4v4h-4zM376 684h4v4h-4zM376 688h4v4h-4zM376 692h4v4h-4z"/>
<path fill="#ae7ec6" d="M396 532h4v4h-4zM396 536h4v4h-4zM392 552h4v4h-4zM392 556h4v4h-4zM392 560h4v4h-4zM388 572h4v4h-4zM388 576h4v4h-4zM384 588h4v4h-4zM384 592h4v4h-4zM380 604h4v4h-4zM380 700h4v4h-4zM380 704h4v4h-4zM380 708h4v4h-4zM380 712h4v4h-4zM380 716h4v4h-4zM380 720h4v4h-4z"/>
<path fill="#ae84c0" d="M400 532h4v4h-4zM396 548h4v4h-4zM396 552h4v4h-4zM392 568h4v4h-4zM388 584h4v4h-4zM384 596h4v4h-4zM380 612h4v4h-4zM380 616h4v4h-4zM380 620h4v4h-4zM380 656h4v4h-4zM380 660h4v4h-4zM380 664h4v4h-4zM380 668h4v4h-4zM380 672h4v4h-4zM380 676h4v4h-4zM380 680h4v4h-4z"/>
<path fill="#9672d2" d="M384 536h4v4h-4zM380 556h4v4h-4zM372 732h4v4h-4z"/>
<path fill="#a87ecc" d="M392 536h4v4h-4zM388 556h4v4h-4zM388 560h4v4h-4zM376 608h4v4h-4zM376 668h4v4h-4zM376 672h4v4h-4zM376 676h4v4h-4z"/>
<path fill="#b484c0" d="M400 536h4v4h-4zM400 540h4v4h-4zM396 556h4v4h-4zM392 572h4v4h-4zM388 588h4v4h-4zM384 600h4v4h-4zM384 604h4v4h-4zM380 624h4v4h-4zM380 628h4v4h-4zM380 632h4v4h-4zM380 636h4v4h-4zM380 640h4v4h-4zM380 644h4v4h-4zM380 648h4v4h-4zM380 652h4v4h-4zM384 724h4v4h-4zM384 728h4v4h-4zM384 732h4v4h-4zM384 736h4v4h-4z"/>
<path fill="#b48aba" d="M404 536h4v4h-4zM400 544h4v4h-4zM400 548h4v4h-4zM400 552h4v4h-4zM396 560h4v4h-4zM396 564h4v4h-4zM396 568h4v4h-4zM392 576h4v4h-4zM392 580h4v4h-4zM392 584h4v4h-4zM388 592h4v4h-4zM388 596h4v4h-4zM384 608h4v4h-4zM384 612h4v4h-4zM384 616h4v4h-4zM384 696h4v4h-4zM384 700h4v4h-4zM384 704h4v4h-4zM384 708h4v4h-4zM384 712h4v4h-4zM384 716h4v4h-4zM384 720h4v4h-4z"/>
<path fill="#a87ec6" d="M392 540h4v4h-4zM392 544h4v4h-4zM392 548h4v4h-4zM388 564h4v4h-4zM388 568h4v4h-4zM384 580h4v4h-4zM384 584h4v4h-4zM380 596h4v4h-4zM380 600h4v4h-4zM376 612h4v4h-4zM376 616h4v4h-4zM376 620h4v4h-4zM376 624h4v4h-4zM376 628h4v4h-4zM376 632h4v4h-4zM376 636h4v4h-4zM376 640h4v4h-4zM376 644h4v4h-4zM376 648h4v4h-4zM376 652h4v4h-4zM376 656h4v4h-4zM376 660h4v4h-4zM376 664h4v4h-4zM380 724h4v4h-4zM380 728h4v4h-4zM380 732h4v4h-4zM380 736h4v4h-4z"/>
<path fill="#ae84c6" d="M396 540h4v4h-4zM396 544h4v4h-4zM392 564h4v4h-4zM388 580h4v4h-4zM380 608h4v4h-4zM380 684h4v4h-4zM380 688h4v4h-4zM380 692h4v4h-4zM380 696h4v4h-4z"/>
<path fill="#ba8ab4" d="M404 540h4v4h-4zM400 556h4v4h-4zM388 600h4v4h-4zM384 624h4v4h-4zM384 676h4v4h-4zM384 680h4v4h-4zM384 684h4v4h-4z"/>
<path fill="#c090ae" d="M408 540h4v4h-4z"/>
<path fill="#c09ca8" d="M412 540h4v4h-4zM400 580h4v4h-4z"/>
<path fill="#ba90b4" d="M404 544h4v4h-4zM404 548h4v4h-4zM400 560h4v4h-4zM400 564h4v4h-4zM396 572h4v4h-4zM396 576h4v4h-4zM396 580h4v4h-4zM392 588h4v4h-4zM392 592h4v4h-4zM388 604h4v4h-4zM388 608h4v4h-4zM384 628h4v4h-4zM384 632h4v4h-4zM384 636h4v4h-4zM384 640h4v4h-4zM384 644h4v4h-4zM384 648h4v4h-4zM384 652h4v4h-4zM384 656h4v4h-4zM384 660h4v4h-4zM384 664h4v4h-4zM384 668h4v4h-4zM384 672h4v4h-4zM388 724h4v4h-4zM388 728h4v4h-4zM388 732h4v4h-4z"/>
<path fill="#c096ae" d="M408 544h4v4h-4zM404 556h4v4h-4zM404 560h4v4h-4zM400 572h4v4h-4zM396 584h4v4h-4zM396 588h4v4h-4zM392 600h4v4h-4zM388 616h4v4h-4zM388 620h4v4h-4zM388 624h4v4h-4zM388 628h4v4h-4zM388 632h4v4h-4zM388 636h4v4h-4zM388 640h4v4h-4zM388 644h4v4h-4zM388 692h4v4h-4zM388 696h4v4h-4zM388 700h4v4h-4zM388 704h4v4h-4zM388 708h4v4h-4zM388 712h4v4h-4z"/>
<path fill="#c69ca2" d="M412 544h4v4h-4zM412 548h4v4h-4zM408 560h4v4h-4zM404 572h4v4h-4zM400 584h4v4h-4zM396 600h4v4h-4zM392 620h4v4h-4zM392 624h4v4h-4zM392 628h4v4h-4zM392 632h4v4h-4zM392 636h4v4h-4zM392 712h4v4h-4zM392 716h4v4h-4zM392 720h4v4h-4zM392 724h4v4h-4zM392 728h4v4h-4zM392 732h4v4h-4z"/>
<path fill="#cca29c" d="M416 544h4v4h-4zM412 556h4v4h-4zM408 568h4v4h-4zM404 580h4v4h-4zM400 592h4v4h-4zM400 596h4v4h-4zM396 608h4v4h-4zM396 612h4v4h-4zM396 616h4v4h-4zM392 664h4v4h-4zM392 668h4v4h-4zM392 672h4v4h-4zM392 676h4v4h-4zM392 680h4v4h-4zM392 684h4v4h-4zM392 688h4v4h-4zM392 692h4v4h-4z"/>
<path fill="#d2ae90" d="M420 544h4v4h-4zM416 556h4v4h-4zM412 568h4v4h-4zM408 580h4v4h-4zM404 592h4v4h-4zM400 608h4v4h-4zM400 612h4v4h-4zM396 648h4v4h-4zM396 652h4v4h-4zM396 656h4v4h-4zM396 660h4v4h-4zM396 664h4v4h-4zM396 668h4v4h-4zM396 704h4v4h-4zM396 708h4v4h-4zM396 712h4v4h-4zM396 716h4v4h-4z"/>
<path fill="#c096a8" d="M408 548h4v4h-4zM408 552h4v4h-4zM404 564h4v4h-4zM400 576h4v4h-4zM396 592h4v4h-4zM392 604h4v4h-4zM392 608h4v4h-4zM388 648h4v4h-4zM388 652h4v4h-4zM388 656h4v4h-4zM388 660h4v4h-4zM388 664h4v4h-4zM388 668h4v4h-4zM388 672h4v4h-4zM388 676h4v4h-4zM388 680h4v4h-4zM388 684h4v4h-4zM388 688h4v4h-4z"/>
<path fill="#cca896" d="M416 548h4v4h-4zM412 560h4v4h-4zM408 572h4v4h-4zM404 584h4v4h-4zM404 588h4v4h-4zM400 600h4v4h-4zM400 604h4v4h-4zM396 620h4v4h-4zM396 624h4v4h-4zM396 628h4v4h-4zM396 632h4v4h-4zM396 636h4v4h-4zM396 640h4v4h-4zM396 728h4v4h-4zM396 732h4v4h-4z"/>
<path fill="#d2ae8a" d="M420 548h4v4h-4zM416 560h4v4h-4zM408 584h4v4h-4zM404 596h4v4h-4zM400 616h4v4h-4zM400 620h4v4h-4zM400 624h4v4h-4zM396 672h4v4h-4zM396 676h4v4h-4zM396 680h4v4h-4zM396 684h4v4h-4zM396 688h4v4h-4zM396 692h4v4h-4zM396 696h4v4h-4zM396 700h4v4h-4z"/>
<path fill="#d8ba7e" d="M424 548h4v4h-4zM424 552h4v4h-4zM420 560h4v4h-4zM416 568h4v4h-4zM416 572h4v4h-4zM412 580h4v4h-4zM412 584h4v4h-4zM408 596h4v4h-4zM408 600h4v4h-4zM404 616h4v4h-4zM404 620h4v4h-4zM404 624h4v4h-4zM400 656h4v4h-4zM400 660h4v4h-4zM400 664h4v4h-4zM400 668h4v4h-4zM400 672h4v4h-4zM400 676h4v4h-4zM400 708h4v4h-4zM400 712h4v4h-4zM400 716h4v4h-4zM400 720h4v4h-4zM400 724h4v4h-4zM400 728h4v4h-4zM400 732h4v4h-4z"/>
<path fill="#7e60e4" d="M372 552h4v4h-4zM364 640h4v4h-4zM364 676h4v4h-4zM364 680h4v4h-4z"/>
<path fill="#9672d8" d="M380 552h4v4h-4zM376 576h4v4h-4zM372 592h4v4h-4zM368 612h4v4h-4zM368 616h4v4h-4zM368 620h4v4h-4zM368 624h4v4h-4zM368 628h4v4h-4z"/>
<path fill="#ba90ae" d="M404 552h4v4h-4zM400 568h4v4h-4zM392 596h4v4h-4zM388 612h4v4h-4zM388 716h4v4h-4zM388 720h4v4h-4z"/>
<path fill="#c6a2a2" d="M412 552h4v4h-4zM408 564h4v4h-4zM404 576h4v4h-4zM400 588h4v4h-4zM396 604h4v4h-4zM392 640h4v4h-4zM392 644h4v4h-4zM392 648h4v4h-4zM392 652h4v4h-4zM392 700h4v4h-4zM392 704h4v4h-4zM392 708h4v4h-4z"/>
<path fill="#cca890" d="M416 552h4v4h-4zM412 564h4v4h-4zM408 576h4v4h-4zM396 644h4v4h-4zM396 724h4v4h-4z"/>
<path fill="#d2b484" d="M420 552h4v4h-4z"/>
<path fill="#dec672" d="M428 552h4v4h-4zM420 572h4v4h-4zM408 620h4v4h-4zM408 624h4v4h-4zM404 660h4v4h-4z"/>
<path fill="#e4cc66" d="M432 552h4v4h-4zM428 560h4v4h-4zM424 568h4v4h-4zM424 572h4v4h-4zM420 580h4v4h-4zM416 592h4v4h-4zM416 596h4v4h-4zM412 612h4v4h-4zM412 616h4v4h-4zM412 620h4v4h-4zM412 624h4v4h-4zM408 644h4v4h-4zM408 648h4v4h-4zM408 652h4v4h-4zM404 684h4v4h-4zM404 688h4v4h-4zM404 692h4v4h-4zM404 696h4v4h-4zM404 700h4v4h-4zM404 704h4v4h-4zM404 708h4v4h-4zM404 712h4v4h-4zM404 716h4v4h-4z"/>
<path fill="#9066d8" d="M376 556h4v4h-4zM368 596h4v4h-4zM368 684h4v4h-4zM368 688h4v4h-4z"/>
<path fill="#a278d2" d="M384 556h4v4h-4zM380 576h4v4h-4zM372 608h4v4h-4zM372 656h4v4h-4zM372 660h4v4h-4z"/>
<path fill="#c69ca8" d="M408 556h4v4h-4zM404 568h4v4h-4zM396 596h4v4h-4zM392 612h4v4h-4zM392 616h4v4h-4z"/>
<path fill="#d8b484" d="M420 556h4v4h-4zM416 564h4v4h-4zM412 576h4v4h-4zM408 588h4v4h-4zM408 592h4v4h-4zM404 604h4v4h-4zM404 608h4v4h-4zM404 612h4v4h-4zM400 636h4v4h-4zM400 640h4v4h-4zM400 644h4v4h-4zM400 648h4v4h-4z"/>
<path fill="#dec078" d="M424 556h4v4h-4zM420 564h4v4h-4zM416 576h4v4h-4zM412 588h4v4h-4zM408 604h4v4h-4zM408 608h4v4h-4zM404 636h4v4h-4zM404 640h4v4h-4zM404 644h4v4h-4z"/>
<path fill="#e4c66c" d="M428 556h4v4h-4zM424 564h4v4h-4zM420 576h4v4h-4zM416 588h4v4h-4zM412 604h4v4h-4zM412 608h4v4h-4zM408 632h4v4h-4zM408 636h4v4h-4zM408 640h4v4h-4zM404 668h4v4h-4zM404 672h4v4h-4zM404 676h4v4h-4zM404 680h4v4h-4zM404 724h4v4h-4zM404 728h4v4h-4z"/>
<path fill="#eacc60" d="M432 556h4v4h-4zM420 584h4v4h-4zM412 628h4v4h-4z"/>
<path fill="#ead85a" d="M436 556h4v4h-4zM432 564h4v4h-4zM428 572h4v4h-4zM424 580h4v4h-4zM420 596h4v4h-4zM416 620h4v4h-4zM416 624h4v4h-4zM412 648h4v4h-4zM408 680h4v4h-4zM408 684h4v4h-4zM408 728h4v4h-4z"/>
<path fill="#f0de4e" d="M440 556h4v4h-4zM436 564h4v4h-4zM424 592h4v4h-4zM420 612h4v4h-4zM420 616h4v4h-4zM416 640h4v4h-4zM412 664h4v4h-4zM412 668h4v4h-4z"/>
<path fill="#dec072" d="M424 560h4v4h-4zM420 568h4v4h-4zM416 580h4v4h-4zM412 592h4v4h-4zM412 596h4v4h-4zM408 612h4v4h-4zM408 616h4v4h-4zM404 648h4v4h-4zM404 652h4v4h-4zM404 656h4v4h-4z"/>
<path fill="#ead260" d="M432 560h4v4h-4zM424 576h4v4h-4zM420 588h4v4h-4zM416 604h4v4h-4zM416 608h4v4h-4zM412 632h4v4h-4zM412 636h4v4h-4zM408 660h4v4h-4zM408 664h4v4h-4zM408 668h4v4h-4z"/>
<path fill="#f0d854" d="M436 560h4v4h-4zM432 568h4v4h-4zM428 576h4v4h-4zM424 584h4v4h-4zM420 604h4v4h-4zM420 608h4v4h-4zM416 628h4v4h-4zM416 632h4v4h-4zM412 656h4v4h-4zM412 660h4v4h-4zM408 692h4v4h-4zM408 696h4v4h-4zM408 700h4v4h-4zM408 704h4v4h-4zM408 708h4v4h-4zM408 712h4v4h-4zM408 716h4v4h-4zM408 720h4v4h-4zM408 724h4v4h-4z"/>
<path fill="#f0de42" d="M440 560h4v4h-4z"/>
<path fill="#f6ea36" d="M444 560h4v4h-4zM428 596h4v4h-4zM424 620h4v4h-4zM416 664h4v4h-4zM412 704h4v4h-4zM412 708h4v4h-4zM412 712h4v4h-4zM412 716h4v4h-4zM412 720h4v4h-4z"/>
<path fill="#8a60de" d="M372 564h4v4h-4z"/>
<path fill="#e4cc60" d="M428 564h4v4h-4zM416 600h4v4h-4zM408 656h4v4h-4z"/>
<path fill="#f6e43c" d="M440 564h4v4h-4zM428 588h4v4h-4zM424 612h4v4h-4zM420 636h4v4h-4zM416 656h4v4h-4zM416 660h4v4h-4zM412 684h4v4h-4zM412 688h4v4h-4zM412 692h4v4h-4zM412 728h4v4h-4z"/>
<path fill="#f6ea2a" d="M444 564h4v4h-4zM432 588h4v4h-4zM428 608h4v4h-4zM424 628h4v4h-4zM420 652h4v4h-4zM416 672h4v4h-4z"/>
<path fill="#fcf618" d="M448 564h4v4h-4zM436 588h4v4h-4zM432 604h4v4h-4zM432 608h4v4h-4zM428 628h4v4h-4zM424 644h4v4h-4zM424 648h4v4h-4zM420 664h4v4h-4zM420 668h4v4h-4zM416 692h4v4h-4zM416 696h4v4h-4zM416 700h4v4h-4zM416 704h4v4h-4zM416 708h4v4h-4zM416 712h4v4h-4zM416 716h4v4h-4zM416 720h4v4h-4zM416 724h4v4h-4z"/>
<path fill="#fcfc06" d="M452 564h4v4h-4zM448 572h4v4h-4zM440 588h4v4h-4zM436 604h4v4h-4zM432 624h4v4h-4zM428 640h4v4h-4zM424 660h4v4h-4zM420 680h4v4h-4zM420 684h4v4h-4z"/>
<path fill="#ead25a" d="M428 568h4v4h-4zM420 592h4v4h-4zM416 612h4v4h-4zM416 616h4v4h-4zM412 640h4v4h-4zM412 644h4v4h-4zM408 672h4v4h-4zM408 676h4v4h-4z"/>
<path fill="#f0e442" d="M436 568h4v4h-4zM428 584h4v4h-4zM424 604h4v4h-4zM420 628h4v4h-4zM416 652h4v4h-4zM412 680h4v4h-4z"/>
<path fill="#f6ea30" d="M440 568h4v4h-4zM436 576h4v4h-4zM432 584h4v4h-4zM428 600h4v4h-4zM428 604h4v4h-4zM424 624h4v4h-4zM420 644h4v4h-4zM420 648h4v4h-4zM416 668h4v4h-4z"/>
<path fill="#fcf01e" d="M444 568h4v4h-4zM440 576h4v4h-4zM436 584h4v4h-4zM432 600h4v4h-4zM428 620h4v4h-4zM424 640h4v4h-4zM420 660h4v4h-4zM416 688h4v4h-4z"/>
<path fill="#fcf60c" d="M448 568h4v4h-4zM436 596h4v4h-4zM432 616h4v4h-4z"/>
<path fill="#fcfc00" d="M452 568h4v4h-4zM452 572h4v4h-4zM448 576h4v4h-4zM444 580h4v4h-4zM444 584h4v4h-4zM444 588h4v4h-4zM440 592h4v4h-4zM440 596h4v4h-4zM440 600h4v4h-4zM440 604h4v4h-4zM436 608h4v4h-4zM436 612h4v4h-4zM436 616h4v4h-4zM436 620h4v4h-4zM432 628h4v4h-4zM432 632h4v4h-4zM432 636h4v4h-4zM428 644h4v4h-4zM428 648h4v4h-4zM428 652h4v4h-4zM424 664h4v4h-4zM424 668h4v4h-4zM424 672h4v4h-4zM420 688h4v4h-4zM420 692h4v4h-4zM420 696h4v4h-4zM420 700h4v4h-4zM420 704h4v4h-4zM420 708h4v4h-4zM420 712h4v4h-4zM420 716h4v4h-4zM420 720h4v4h-4zM420 724h4v4h-4z"/>
<path fill="#fcf600" d="M456 568h4v4h-4zM456 572h4v4h-4zM452 576h4v4h-4zM448 580h4v4h-4zM448 584h4v4h-4zM444 592h4v4h-4zM444 596h4v4h-4zM444 600h4v4h-4zM440 608h4v4h-4zM440 612h4v4h-4zM440 616h4v4h-4zM436 624h4v4h-4zM436 628h4v4h-4zM436 632h4v4h-4zM432 640h4v4h-4zM432 644h4v4h-4zM432 648h4v4h-4zM428 656h4v4h-4zM428 660h4v4h-4zM428 664h4v4h-4zM424 676h4v4h-4zM424 680h4v4h-4zM424 684h4v4h-4z"/>
<path fill="#fcf000" d="M460 568h4v4h-4zM460 572h4v4h-4zM456 576h4v4h-4zM452 580h4v4h-4zM452 584h4v4h-4zM448 588h4v4h-4zM448 592h4v4h-4zM448 596h4v4h-4zM444 604h4v4h-4zM444 608h4v4h-4zM444 612h4v4h-4zM440 620h4v4h-4zM440 624h4v4h-4zM436 636h4v4h-4zM436 640h4v4h-4zM432 652h4v4h-4zM432 656h4v4h-4zM428 668h4v4h-4zM428 672h4v4h-4zM424 688h4v4h-4zM424 692h4v4h-4zM424 696h4v4h-4zM424 700h4v4h-4zM424 704h4v4h-4zM424 708h4v4h-4zM424 712h4v4h-4zM424 716h4v4h-4zM424 720h4v4h-4zM424 724h4v4h-4z"/>
<path fill="#d2b48a" d="M412 572h4v4h-4zM404 600h4v4h-4zM400 628h4v4h-4zM400 632h4v4h-4z"/>
<path fill="#f0de48" d="M432 572h4v4h-4zM428 580h4v4h-4zM424 596h4v4h-4zM424 600h4v4h-4zM420 620h4v4h-4zM420 624h4v4h-4zM416 644h4v4h-4zM416 648h4v4h-4zM412 672h4v4h-4zM412 676h4v4h-4z"/>
<path fill="#f6e436" d="M436 572h4v4h-4zM432 580h4v4h-4zM428 592h4v4h-4zM424 616h4v4h-4zM420 640h4v4h-4zM412 696h4v4h-4zM412 700h4v4h-4zM412 724h4v4h-4z"/>
<path fill="#f6f024" d="M440 572h4v4h-4zM436 580h4v4h-4zM432 592h4v4h-4zM428 616h4v4h-4zM424 636h4v4h-4zM420 656h4v4h-4zM416 680h4v4h-4z"/>
<path fill="#fcf612" d="M444 572h4v4h-4zM440 580h4v4h-4zM436 592h4v4h-4zM432 612h4v4h-4zM428 632h4v4h-4zM424 652h4v4h-4zM420 672h4v4h-4z"/>
<path fill="#fcea00" d="M464 572h4v4h-4zM460 576h4v4h-4zM456 580h4v4h-4zM456 584h4v4h-4zM452 588h4v4h-4zM452 592h4v4h-4zM452 596h4v4h-4zM448 600h4v4h-4zM448 604h4v4h-4zM448 608h4v4h-4zM444 616h4v4h-4zM444 620h4v4h-4zM444 624h4v4h-4zM440 628h4v4h-4zM440 632h4v4h-4zM440 636h4v4h-4zM436 644h4v4h-4zM436 648h4v4h-4zM432 660h4v4h-4zM432 664h4v4h-4zM428 676h4v4h-4zM428 680h4v4h-4zM428 684h4v4h-4zM428 688h4v4h-4zM428 692h4v4h-4zM428 720h4v4h-4z"/>
<path fill="#8460e4" d="M368 576h4v4h-4zM364 596h4v4h-4zM364 636h4v4h-4zM364 644h4v4h-4zM364 672h4v4h-4z"/>
<path fill="#f6e442" d="M432 576h4v4h-4zM424 608h4v4h-4zM420 632h4v4h-4z"/>
<path fill="#fcfc0c" d="M444 576h4v4h-4zM440 584h4v4h-4zM436 600h4v4h-4zM432 620h4v4h-4zM428 636h4v4h-4zM424 656h4v4h-4zM420 676h4v4h-4z"/>
<path fill="#fce400" d="M464 576h4v4h-4zM460 580h4v4h-4zM460 584h4v4h-4zM456 588h4v4h-4zM456 592h4v4h-4zM456 596h4v4h-4zM452 600h4v4h-4zM452 604h4v4h-4zM452 608h4v4h-4zM448 612h4v4h-4zM448 616h4v4h-4zM448 620h4v4h-4zM444 628h4v4h-4zM444 632h4v4h-4zM440 640h4v4h-4zM440 644h4v4h-4zM436 652h4v4h-4zM436 656h4v4h-4zM436 660h4v4h-4zM432 668h4v4h-4zM432 672h4v4h-4zM432 676h4v4h-4zM428 696h4v4h-4zM428 700h4v4h-4zM428 704h4v4h-4zM428 708h4v4h-4zM428 712h4v4h-4zM428 716h4v4h-4z"/>
<path fill="#fcde00" d="M468 576h4v4h-4zM464 580h8v4h-8zM464 584h4v4h-4zM460 588h8v4h-8zM460 592h4v4h-4zM460 596h4v4h-4zM456 600h4v4h-4zM456 604h4v4h-4zM456 608h4v4h-4zM452 612h4v4h-4zM452 616h4v4h-4zM452 620h4v4h-4zM448 624h4v4h-4zM448 628h4v4h-4zM444 636h4v4h-4zM444 640h4v4h-4zM440 648h4v4h-4zM440 652h4v4h-4zM436 664h4v4h-4zM436 668h4v4h-4zM432 680h4v4h-4zM432 684h4v4h-4zM432 688h4v4h-4zM432 692h4v4h-4zM432 696h4v4h-4zM432 700h4v4h-4zM432 704h4v4h-4zM432 708h4v4h-4zM432 712h4v4h-4zM432 716h4v4h-4zM432 720h4v4h-4z"/>
<path fill="#fcd800" d="M472 576h4v4h-4zM472 580h4v4h-4zM468 584h4v4h-4zM468 588h4v4h-4zM464 592h4v4h-4zM464 596h4v4h-4zM460 600h8v4h-8zM460 604h4v4h-4zM460 608h4v4h-4zM456 612h4v4h-4zM456 616h4v4h-4zM456 620h4v4h-4zM452 624h4v4h-4zM452 628h4v4h-4zM448 632h4v4h-4zM448 636h4v4h-4zM448 640h4v4h-4zM444 644h4v4h-4zM444 648h4v4h-4zM444 652h4v4h-4zM440 656h4v4h-4zM440 660h4v4h-4zM440 664h4v4h-4zM436 672h4v4h-4zM436 676h4v4h-4zM436 680h4v4h-4zM436 684h4v4h-4zM436 688h4v4h-4zM436 692h4v4h-4zM436 696h4v4h-4zM436 700h4v4h-4zM436 704h4v4h-4zM436 720h4v4h-4z"/>
<path fill="#fcd200" d="M476 580h4v4h-4zM472 584h4v4h-4zM472 588h4v4h-4zM468 592h8v4h-8zM468 596h4v4h-4zM468 600h4v4h-4zM464 604h4v4h-4zM464 608h4v4h-4zM460 612h8v4h-8zM460 616h4v4h-4zM460 620h4v4h-4zM456 624h4v4h-4zM456 628h4v4h-4zM452 632h4v4h-4zM452 636h4v4h-4zM448 644h4v4h-4zM448 648h4v4h-4zM444 656h4v4h-4zM444 660h4v4h-4zM440 668h4v4h-4zM440 672h4v4h-4zM440 676h4v4h-4zM440 680h4v4h-4zM436 708h4v4h-4zM436 712h4v4h-4zM436 716h4v4h-4z"/>
<path fill="#fccc00" d="M480 580h4v4h-4zM476 584h8v4h-8zM476 588h4v4h-4zM476 592h4v4h-4zM472 596h4v4h-4zM472 600h4v4h-4zM468 604h8v4h-8zM468 608h4v4h-4zM468 612h4v4h-4zM464 616h4v4h-4zM464 620h4v4h-4zM460 624h4v4h-4zM460 628h4v4h-4zM456 632h4v4h-4zM456 636h4v4h-4zM452 640h8v4h-8zM452 644h4v4h-4zM452 648h4v4h-4zM448 652h4v4h-4zM448 656h4v4h-4zM448 660h4v4h-4zM444 664h4v4h-4zM444 668h4v4h-4zM444 672h4v4h-4zM440 684h4v4h-4zM440 688h4v4h-4zM440 692h4v4h-4zM440 696h4v4h-4zM440 700h4v4h-4zM440 704h4v4h-4zM440 708h4v4h-4zM440 712h4v4h-4zM440 716h4v4h-4z"/>
<path fill="#dec66c" d="M416 584h4v4h-4zM412 600h4v4h-4zM408 628h4v4h-4zM404 664h4v4h-4z"/>
<path fill="#fcc600" d="M484 584h4v4h-4zM480 588h4v4h-4zM480 592h4v4h-4zM476 596h4v4h-4zM476 600h4v4h-4zM476 604h4v4h-4zM472 608h4v4h-4zM472 612h4v4h-4zM468 616h8v4h-8zM468 620h4v4h-4zM464 624h8v4h-8zM464 628h4v4h-4zM460 632h8v4h-8zM460 636h4v4h-4zM460 640h4v4h-4zM456 644h4v4h-4zM456 648h4v4h-4zM452 652h4v4h-4zM452 656h4v4h-4zM448 664h4v4h-4zM448 668h4v4h-4zM448 672h4v4h-4zM444 676h4v4h-4zM444 680h4v4h-4zM444 684h4v4h-4zM444 688h4v4h-4zM444 692h4v4h-4zM444 696h4v4h-4zM444 700h4v4h-4zM444 704h4v4h-4zM444 708h4v4h-4zM444 712h4v4h-4zM444 716h4v4h-4z"/>
<path fill="#f0de54" d="M424 588h4v4h-4zM416 636h4v4h-4z"/>
<path fill="#fcc000" d="M484 588h4v4h-4zM484 592h4v4h-4zM480 596h8v4h-8zM480 600h4v4h-4zM480 604h4v4h-4zM476 608h8v4h-8zM476 612h4v4h-4zM476 616h4v4h-4zM472 620h4v4h-4zM472 624h4v4h-4zM468 628h4v4h-4zM468 632h4v4h-4zM464 636h4v4h-4zM464 640h4v4h-4zM460 644h4v4h-4zM460 648h4v4h-4zM456 652h4v4h-4zM456 656h4v4h-4zM452 660h8v4h-8zM452 664h4v4h-4zM452 668h4v4h-4zM448 676h4v4h-4zM448 680h4v4h-4zM448 684h4v4h-4zM448 688h4v4h-4zM448 692h4v4h-4zM448 696h4v4h-4zM448 700h4v4h-4zM448 704h4v4h-4zM448 708h4v4h-4zM448 712h4v4h-4zM448 716h4v4h-4z"/>
<path fill="#fcba00" d="M488 588h8v4h-8zM488 592h4v4h-4zM488 596h4v4h-4zM484 600h4v4h-4zM484 604h4v4h-4zM484 608h4v4h-4zM480 612h4v4h-4zM480 616h4v4h-4zM476 620h8v4h-8zM476 624h4v4h-4zM472 628h8v4h-8zM472 632h4v4h-4zM468 636h8v4h-8zM468 640h4v4h-4zM464 644h8v4h-8zM464 648h4v4h-4zM460 652h8v4h-8zM460 656h4v4h-4zM460 660h4v4h-4zM456 664h4v4h-4zM456 668h4v4h-4zM452 672h8v4h-8zM452 676h4v4h-4zM452 680h4v4h-4zM452 684h4v4h-4zM452 688h4v4h-4zM452 692h4v4h-4zM452 696h4v4h-4zM452 700h4v4h-4zM452 704h4v4h-4z"/>
<path fill="#fcb400" d="M492 592h4v4h-4zM492 596h4v4h-4zM488 600h8v4h-8zM488 604h4v4h-4zM488 608h4v4h-4zM484 612h8v4h-8zM484 616h4v4h-4zM484 620h4v4h-4zM480 624h8v4h-8zM480 628h4v4h-4zM476 632h8v4h-8zM476 636h4v4h-4zM472 640h8v4h-8zM472 644h4v4h-4zM468 648h8v4h-8zM468 652h4v4h-4zM464 656h8v4h-8zM464 660h4v4h-4zM460 664h8v4h-8zM460 668h4v4h-4zM460 672h4v4h-4zM456 676h4v4h-4zM456 680h4v4h-4zM456 684h4v4h-4zM456 688h4v4h-4zM456 692h4v4h-4zM452 708h4v4h-4zM452 712h4v4h-4zM452 716h4v4h-4z"/>
<path fill="#fcae00" d="M496 592h8v4h-8zM496 596h4v4h-4zM496 600h4v4h-4zM492 604h8v4h-8zM492 608h4v4h-4zM492 612h4v4h-4zM488 616h8v4h-8zM488 620h4v4h-4zM488 624h4v4h-4zM484 628h8v4h-8zM484 632h4v4h-4zM480 636h8v4h-8zM480 640h4v4h-4zM476 644h8v4h-8zM476 648h4v4h-4zM472 652h8v4h-8zM472 656h4v4h-4zM468 660h8v4h-8zM468 664h4v4h-4zM464 668h4v4h-4zM464 672h4v4h-4zM460 676h4v4h-4zM460 680h4v4h-4zM460 684h4v4h-4zM460 688h4v4h-4zM460 692h4v4h-4zM456 696h4v4h-4zM456 700h4v4h-4zM456 704h4v4h-4zM456 708h4v4h-4zM456 712h4v4h-4z"/>
<path fill="#f6f01e" d="M432 596h4v4h-4zM416 684h4v4h-4z"/>
<path fill="#fca800" d="M500 596h8v4h-8zM500 600h8v4h-8zM500 604h4v4h-4zM496 608h8v4h-8zM496 612h4v4h-4zM496 616h4v4h-4zM492 620h8v4h-8zM492 624h4v4h-4zM492 628h4v4h-4zM488 632h4v4h-4zM488 636h4v4h-4zM484 640h4v4h-4zM484 644h4v4h-4zM480 648h4v4h-4zM480 652h4v4h-4zM476 656h4v4h-4zM476 660h4v4h-4zM472 664h4v4h-4zM468 668h8v4h-8zM468 672h4v4h-4zM464 676h8v4h-8zM464 680h4v4h-4zM464 684h4v4h-4zM464 688h4v4h-4zM464 692h4v4h-4zM460 696h8v4h-8zM460 700h4v4h-4zM460 704h4v4h-4zM460 708h4v4h-4zM460 712h4v4h-4z"/>
<path fill="#ead854" d="M420 600h4v4h-4zM412 652h4v4h-4zM408 688h4v4h-4z"/>
<path fill="#fca200" d="M508 600h4v4h-4zM504 604h8v4h-8zM504 608h4v4h-4zM500 612h8v4h-8zM500 616h8v4h-8zM500 620h4v4h-4zM496 624h8v4h-8zM496 628h4v4h-4zM492 632h8v4h-8zM492 636h4v4h-4zM488 640h8v4h-8zM488 644h4v4h-4zM484 648h8v4h-8zM484 652h4v4h-4zM480 656h8v4h-8zM480 660h4v4h-4zM476 664h8v4h-8zM476 668h4v4h-4zM472 672h4v4h-4zM472 676h4v4h-4zM468 680h8v4h-8zM468 684h4v4h-4zM468 688h4v4h-4zM468 692h4v4h-4zM468 696h4v4h-4zM464 700h8v4h-8zM464 704h8v4h-8zM464 708h4v4h-4zM464 712h4v4h-4z"/>
<path fill="#fc9c00" d="M512 600h4v4h-4zM512 604h8v4h-8zM508 608h8v4h-8zM508 612h8v4h-8zM508 616h4v4h-4zM504 620h8v4h-8zM504 624h4v4h-4zM500 628h8v4h-8zM500 632h4v4h-4zM496 636h8v4h-8zM496 640h4v4h-4zM492 644h8v4h-8zM492 648h4v4h-4zM488 652h8v4h-8zM488 656h4v4h-4zM484 660h4v4h-4zM484 664h4v4h-4zM480 668h4v4h-4zM476 672h8v4h-8zM476 676h4v4h-4zM476 680h4v4h-4zM472 684h4v4h-4zM472 688h4v4h-4zM472 692h4v4h-4zM472 696h4v4h-4zM472 700h4v4h-4zM472 704h4v4h-4zM468 708h8v4h-8z"/>
<path fill="#fc9600" d="M520 604h4v4h-4zM516 608h8v4h-8zM516 612h8v4h-8zM512 616h8v4h-8zM512 620h8v4h-8zM508 624h8v4h-8zM508 628h8v4h-8zM504 632h8v4h-8zM504 636h8v4h-8zM500 640h8v4h-8zM500 644h4v4h-4zM496 648h8v4h-8zM496 652h4v4h-4zM492 656h8v4h-8zM488 660h8v4h-8zM488 664h4v4h-4zM484 668h8v4h-8zM484 672h4v4h-4zM480 676h8v4h-8zM480 680h4v4h-4zM476 684h8v4h-8zM476 688h8v4h-8zM476 692h4v4h-4zM476 696h4v4h-4zM476 700h4v4h-4zM476 704h4v4h-4zM476 708h4v4h-4z"/>
<path fill="#fc9000" d="M524 608h4v4h-4zM524 612h8v4h-8zM520 616h8v4h-8zM520 620h8v4h-8zM516 624h8v4h-8zM516 628h8v4h-8zM512 632h8v4h-8zM512 636h8v4h-8zM508 640h8v4h-8zM504 644h8v4h-8zM504 648h8v4h-8zM500 652h8v4h-8zM500 656h4v4h-4zM496 660h8v4h-8zM492 664h8v4h-8zM492 668h4v4h-4zM488 672h8v4h-8zM488 676h4v4h-4zM484 680h8v4h-8zM484 684h4v4h-4zM484 688h4v4h-4zM480 692h8v4h-8zM480 696h8v4h-8zM480 700h8v4h-8zM480 704h8v4h-8z"/>
<path fill="#f6f02a" d="M428 612h4v4h-4zM424 632h4v4h-4zM416 676h4v4h-4z"/>
<path fill="#fc8a00" d="M532 612h4v4h-4zM528 616h12v4h-12zM528 620h8v4h-8zM524 624h12v4h-12zM524 628h8v4h-8zM520 632h12v4h-12zM520 636h8v4h-8zM516 640h12v4h-12zM512 644h12v4h-12zM512 648h8v4h-8zM508 652h12v4h-12zM504 656h12v4h-12zM504 660h8v4h-8zM500 664h12v4h-12zM496 668h12v4h-12zM496 672h8v4h-8zM492 676h12v4h-12zM492 680h8v4h-8zM488 684h12v4h-12zM488 688h8v4h-8zM488 692h8v4h-8zM488 696h8v4h-8zM488 700h8v4h-8zM488 704h4v4h-4z"/>
<path fill="#fc8400" d="M540 616h4v4h-4zM536 620h12v4h-12zM536 624h12v4h-12zM532 628h12v4h-12zM532 632h12v4h-12zM528 636h12v4h-12zM528 640h12v4h-12zM524 644h12v4h-12zM520 648h16v4h-16zM520 652h16v4h-16zM516 656h16v4h-16zM512 660h16v4h-16zM512 664h16v4h-16zM508 668h16v4h-16zM504 672h20v4h-20zM504 676h16v4h-16zM500 680h20v4h-20zM500 684h16v4h-16zM496 688h16v4h-16zM496 692h12v4h-12zM496 696h12v4h-12zM496 700h8v4h-8zM492 704h4v4h-4z"/>
<path fill="#ba8aba" d="M384 620h4v4h-4zM384 688h4v4h-4zM384 692h4v4h-4z"/>
<path fill="#7854e4" d="M360 624h4v4h-4z"/>
<path fill="#fcf61e" d="M428 624h4v4h-4z"/>
<path fill="#fc7e00" d="M548 624h8v4h-8zM544 628h12v4h-12zM544 632h12v4h-12zM540 636h16v4h-16zM540 640h12v4h-12zM536 644h16v4h-16zM536 648h16v4h-16zM536 652h12v4h-12zM532 656h16v4h-16zM528 660h20v4h-20zM528 664h16v4h-16zM524 668h20v4h-20zM524 672h16v4h-16zM520 676h20v4h-20zM520 680h16v4h-16zM516 684h20v4h-20zM512 688h20v4h-20zM508 692h20v4h-20zM508 696h12v4h-12zM504 700h4v4h-4z"/>
<path fill="#d8ba78" d="M404 628h4v4h-4zM400 680h4v4h-4zM400 684h4v4h-4zM400 704h4v4h-4z"/>
<path fill="#fc7800" d="M556 628h4v4h-4zM556 632h12v4h-12zM556 636h8v4h-8zM552 640h12v4h-12zM552 644h12v4h-12zM552 648h12v4h-12zM548 652h16v4h-16zM548 656h12v4h-12zM548 660h12v4h-12zM544 664h16v4h-16zM544 668h12v4h-12zM540 672h16v4h-16zM540 676h12v4h-12zM536 680h12v4h-12zM536 684h12v4h-12zM532 688h12v4h-12zM528 692h8v4h-8z"/>
<path fill="#deba78" d="M404 632h4v4h-4zM400 688h4v4h-4zM400 692h4v4h-4zM400 696h4v4h-4zM400 700h4v4h-4z"/>
<path fill="#724eea" d="M360 636h4v4h-4zM360 644h4v4h-4z"/>
<path fill="#fc7200" d="M564 636h12v4h-12zM564 640h12v4h-12zM564 644h12v4h-12zM564 648h8v4h-8zM564 652h8v4h-8zM560 656h12v4h-12zM560 660h12v4h-12zM560 664h8v4h-8zM556 668h12v4h-12zM556 672h8v4h-8zM552 676h12v4h-12zM548 680h12v4h-12zM548 684h8v4h-8zM544 688h4v4h-4z"/>
<path fill="#6c4eea" d="M360 640h4v4h-4zM360 680h4v4h-4zM360 684h4v4h-4zM360 688h4v4h-4zM360 712h4v4h-4zM360 716h4v4h-4zM360 720h4v4h-4zM360 724h4v4h-4z"/>
<path fill="#fc6c00" d="M576 640h4v4h-4zM576 644h8v4h-8zM572 648h12v4h-12zM572 652h12v4h-12zM572 656h8v4h-8zM572 660h8v4h-8zM568 664h8v4h-8zM568 668h8v4h-8zM564 672h8v4h-8zM564 676h8v4h-8zM560 680h8v4h-8zM556 684h4v4h-4z"/>
<path fill="#fc6600" d="M584 644h4v4h-4zM584 648h12v4h-12zM584 652h12v4h-12zM580 656h12v4h-12zM580 660h8v4h-8zM576 664h12v4h-12zM576 668h8v4h-8zM572 672h8v4h-8zM572 676h8v4h-8zM568 680h8v4h-8z"/>
<path fill="#5a42f0" d="M356 652h4v4h-4zM356 656h4v4h-4zM356 660h4v4h-4zM356 664h4v4h-4zM356 668h4v4h-4zM356 672h4v4h-4z"/>
<path fill="#d8ba84" d="M400 652h4v4h-4z"/>
<path fill="#fc6000" d="M596 652h4v4h-4zM592 656h8v4h-8zM588 660h8v4h-8zM588 664h4v4h-4zM584 668h8v4h-8zM580 672h8v4h-8zM580 676h8v4h-8z"/>
<path fill="#c6a29c" d="M392 656h4v4h-4zM392 660h4v4h-4zM392 696h4v4h-4z"/>
<path fill="#fc5a00" d="M600 656h4v4h-4zM596 660h8v4h-8zM592 664h8v4h-8zM592 668h4v4h-4zM588 672h8v4h-8z"/>
<path fill="#fc5400" d="M604 656h4v4h-4zM604 660h4v4h-4zM600 664h4v4h-4zM596 668h4v4h-4zM596 672h4v4h-4z"/>
<path fill="#fc4e00" d="M608 660h4v4h-4zM604 664h4v4h-4zM600 668h8v4h-8z"/>
<path fill="#fc4800" d="M612 660h4v4h-4zM608 664h4v4h-4zM608 668h4v4h-4z"/>
<path fill="#fc4200" d="M612 664h4v4h-4zM612 668h4v4h-4z"/>
<path fill="#fc3c00" d="M616 664h4v4h-4z"/>
<path fill="#5a3cf0" d="M356 676h4v4h-4z"/>
<path fill="#3c2afc" d="M352 680h4v4h-4zM352 684h4v4h-4zM352 716h4v4h-4zM352 720h4v4h-4z"/>
<path fill="#543cf0" d="M356 680h4v4h-4zM356 684h4v4h-4zM356 716h4v4h-4zM356 720h4v4h-4z"/>
<path fill="#3624fc" d="M352 688h4v4h-4zM352 692h4v4h-4zM352 696h4v4h-4zM352 700h4v4h-4zM352 704h4v4h-4zM352 708h4v4h-4z"/>
<path fill="#5436f6" d="M356 688h4v4h-4z"/>
<path fill="#4e36f6" d="M356 692h4v4h-4zM356 696h4v4h-4zM356 700h4v4h-4zM356 704h4v4h-4zM356 708h4v4h-4z"/>
<path fill="#664eea" d="M360 692h4v4h-4zM360 708h4v4h-4z"/>
<path fill="#6648f0" d="M360 696h4v4h-4zM360 700h4v4h-4z"/>
<path fill="#6648ea" d="M360 704h4v4h-4z"/>
<path fill="#3c24fc" d="M352 712h4v4h-4z"/>
<path fill="#543cf6" d="M356 712h4v4h-4z"/>
<path fill="#d2a890" d="M396 720h4v4h-4z"/>
<path fill="#e4cc6c" d="M404 720h4v4h-4z"/>
</g>
<path fill="none" stroke="#111" stroke-width="0.9" d="M377.7 738.0L376.1 690.0L373.5 635.0L373.4 626.0L373.9 617.0L375.5 607.0L379.9 591.0L382.4 580.0L390.9 534.0L392.0 530.6L395.8 522.0M390.7 738.0L390.9 727.0L388.9 697.0L388.3 670.0L388.6 640.0L390.0 618.0L391.2 610.0L393.0 602.0L409.2 546.0L412.6 531.0L415.6 522.0M402.4 738.0L401.0 700.0L401.1 681.0L403.6 643.0L405.3 626.0L407.2 612.0L410.2 597.0L415.1 580.0L437.0 522.0M413.9 738.0L412.3 722.0L412.4 700.0L413.2 687.0L416.6 661.0L427.7 594.0L429.5 587.0L432.1 580.0L443.5 559.0L459.8 522.0M427.4 738.0L425.4 727.0L424.7 720.0L424.7 699.0L425.8 686.0L427.9 674.0L431.0 659.8L447.0 596.0L449.4 588.0L452.0 581.7L459.9 570.0L465.8 560.0L485.0 522.0M442.5 738.0L440.7 728.0L439.9 720.0L440.3 693.0L440.9 685.0L442.0 676.9L443.9 668.0L446.1 660.0L452.0 643.6L477.3 583.0L482.5 573.0L500.3 541.0L510.2 522.0M462.4 738.0L460.3 724.0L459.8 711.0L460.9 690.0L462.0 684.0L463.5 679.0L466.0 673.0L480.1 646.0L488.8 628.0L493.2 617.0L499.0 598.7L501.4 593.0L506.1 584.0L526.0 549.0L539.3 522.0M490.8 738.0L489.8 722.0L490.0 707.0L491.4 695.0L493.4 687.0L496.0 681.2L499.0 675.7L503.0 669.4L513.3 655.0L519.7 645.0L527.4 632.0L534.8 618.0L543.0 598.8L555.0 568.6L563.0 546.7L571.4 522.0M548.3 738.0L556.0 725.0L577.0 693.9L593.7 668.0L600.0 660.0L601.8 656.0L603.2 649.0L603.8 640.0L604.2 597.0L605.4 574.0L607.9 550.0L612.3 522.0"/>
</g>
<path fill="none" stroke="#000" stroke-width="1.3" stroke-dasharray="4.2 2.8" d="M349.1 745.8L381.2 513.1M349.1 745.8L413.4 513.1M349.1 745.8L477.7 513.1M349.1 745.8L606.3 513.1M349.1 745.8L634.9 616.5M349.1 745.8L613.8 666.0"/>
<g fill="#000"><circle cx="379.7" cy="524.5" r="2.15"/><circle cx="364.4" cy="635.2" r="2.15"/><circle cx="356.7" cy="690.5" r="2.15"/><circle cx="352.9" cy="718.1" r="2.15"/><circle cx="405.9" cy="540.3" r="2.15"/><circle cx="377.5" cy="643.1" r="2.15"/><circle cx="363.3" cy="694.4" r="2.15"/><circle cx="356.2" cy="720.1" r="2.15"/><circle cx="448.4" cy="566.1" r="2.15"/><circle cx="398.8" cy="655.9" r="2.15"/><circle cx="373.9" cy="700.9" r="2.15"/><circle cx="361.5" cy="723.3" r="2.15"/><circle cx="508.0" cy="602.1" r="2.15"/><circle cx="428.5" cy="673.9" r="2.15"/><circle cx="388.8" cy="709.9" r="2.15"/><circle cx="369.0" cy="727.8" r="2.15"/><circle cx="576.0" cy="643.2" r="2.15"/><circle cx="462.6" cy="694.5" r="2.15"/><circle cx="405.8" cy="720.1" r="2.15"/><circle cx="377.5" cy="733.0" r="2.15"/><circle cx="613.8" cy="666.0" r="2.15"/><circle cx="481.4" cy="705.9" r="2.15"/><circle cx="415.3" cy="725.8" r="2.15"/><circle cx="382.2" cy="735.8" r="2.15"/></g>
<g font-size="10" fill="#111"><text x="0" y="3.6" transform="translate(374.1 522.8) rotate(-82.1)" text-anchor="middle">1:16</text><text x="0" y="3.6" transform="translate(404.6 525.0) rotate(-74.6)" text-anchor="middle">1:8</text><text x="0" y="3.6" transform="translate(447.8 553.0) rotate(-61.1)" text-anchor="middle">1:4</text><text x="0" y="3.6" transform="translate(510.7 591.4) rotate(-42.1)" text-anchor="middle">1:2</text><text x="0" y="3.6" transform="translate(580.8 636.2) rotate(-24.3)" text-anchor="middle">1:1</text><text x="0" y="3.6" transform="translate(621.4 660.3) rotate(-16.8)" text-anchor="middle">1.5:1</text></g>
<rect x="349.1" y="512.15" width="286.8" height="233.65" fill="none" stroke="#000" stroke-width="1.8"/>
<path stroke="#000" stroke-width="0.9" fill="none" d="M348.2 745.8h-3.6M348.2 678.9h-3.6M348.2 612.0h-3.6M348.2 545.1h-3.6M349.1 746.7v3.4M423.1 746.7v3.4M497.0 746.7v3.4M571.0 746.7v3.4"/>
<rect x="550.1" y="520.2" width="59" height="94" fill="#fff"/>
<text x="553.4" y="531.6" font-size="11.8" fill="#1a1a1a">Female weight</text>
<text x="553.4" y="542.7" font-size="11.8" fill="#1a1a1a">(mg)</text>
<rect x="553.1" y="549.60" width="12.3" height="1.83" fill="#ff0600"/>
<rect x="553.1" y="551.13" width="12.3" height="1.83" fill="#ff1300"/>
<rect x="553.1" y="552.67" width="12.3" height="1.83" fill="#ff2000"/>
<rect x="553.1" y="554.21" width="12.3" height="1.83" fill="#ff2d00"/>
<rect x="553.1" y="555.74" width="12.3" height="1.83" fill="#ff3900"/>
<rect x="553.1" y="557.27" width="12.3" height="1.83" fill="#ff4600"/>
<rect x="553.1" y="558.81" width="12.3" height="1.83" fill="#ff5300"/>
<rect x="553.1" y="560.35" width="12.3" height="1.83" fill="#ff6000"/>
<rect x="553.1" y="561.88" width="12.3" height="1.83" fill="#ff6c00"/>
<rect x="553.1" y="563.42" width="12.3" height="1.83" fill="#ff7900"/>
<rect x="553.1" y="564.95" width="12.3" height="1.83" fill="#ff8600"/>
<rect x="553.1" y="566.49" width="12.3" height="1.83" fill="#ff9300"/>
<rect x="553.1" y="568.02" width="12.3" height="1.83" fill="#ff9f00"/>
<rect x="553.1" y="569.56" width="12.3" height="1.83" fill="#ffac00"/>
<rect x="553.1" y="571.09" width="12.3" height="1.83" fill="#ffb900"/>
<rect x="553.1" y="572.62" width="12.3" height="1.83" fill="#ffc600"/>
<rect x="553.1" y="574.16" width="12.3" height="1.83" fill="#ffd200"/>
<rect x="553.1" y="575.70" width="12.3" height="1.83" fill="#ffdf00"/>
<rect x="553.1" y="577.23" width="12.3" height="1.83" fill="#ffec00"/>
<rect x="553.1" y="578.76" width="12.3" height="1.83" fill="#fff900"/>
<rect x="553.1" y="580.30" width="12.3" height="1.83" fill="#fcf90e"/>
<rect x="553.1" y="581.84" width="12.3" height="1.83" fill="#f7ec2b"/>
<rect x="553.1" y="583.37" width="12.3" height="1.83" fill="#f2e047"/>
<rect x="553.1" y="584.90" width="12.3" height="1.83" fill="#ead35c"/>
<rect x="553.1" y="586.44" width="12.3" height="1.83" fill="#e2c76c"/>
<rect x="553.1" y="587.98" width="12.3" height="1.83" fill="#daba7d"/>
<rect x="553.1" y="589.51" width="12.3" height="1.83" fill="#d1ae8e"/>
<rect x="553.1" y="591.05" width="12.3" height="1.83" fill="#c9a19e"/>
<rect x="553.1" y="592.58" width="12.3" height="1.83" fill="#c096ab"/>
<rect x="553.1" y="594.12" width="12.3" height="1.83" fill="#b78cb8"/>
<rect x="553.1" y="595.65" width="12.3" height="1.83" fill="#ae81c4"/>
<rect x="553.1" y="597.19" width="12.3" height="1.83" fill="#a57acb"/>
<rect x="553.1" y="598.72" width="12.3" height="1.83" fill="#9c73d2"/>
<rect x="553.1" y="600.25" width="12.3" height="1.83" fill="#926bd9"/>
<rect x="553.1" y="601.79" width="12.3" height="1.83" fill="#8360e0"/>
<rect x="553.1" y="603.33" width="12.3" height="1.83" fill="#7555e7"/>
<rect x="553.1" y="604.86" width="12.3" height="1.83" fill="#6448ee"/>
<rect x="553.1" y="606.39" width="12.3" height="1.83" fill="#4f37f4"/>
<rect x="553.1" y="607.93" width="12.3" height="1.83" fill="#3a26fa"/>
<rect x="553.1" y="609.47" width="12.3" height="1.83" fill="#2315fd"/>
<text x="566.6" y="554.2" font-size="8.7" font-weight="bold" fill="#111">1.4</text>
<text x="566.6" y="573.6" font-size="8.7" font-weight="bold" fill="#111">1.2</text>
<text x="566.6" y="593.3" font-size="8.7" font-weight="bold" fill="#111">1.0</text>
<text x="566.6" y="611.4" font-size="8.7" font-weight="bold" fill="#111">0.8</text>
<text x="42.6" y="749.2" font-size="9.6" font-weight="bold" text-anchor="end" fill="#111">0</text>
<text x="42.6" y="682.3" font-size="9.6" font-weight="bold" text-anchor="end" fill="#111">100</text>
<text x="42.6" y="615.4" font-size="9.6" font-weight="bold" text-anchor="end" fill="#111">200</text>
<text x="42.6" y="548.5" font-size="9.6" font-weight="bold" text-anchor="end" fill="#111">300</text>
<text transform="translate(13.2 619.4) rotate(-90)" font-size="15.5" text-anchor="middle" fill="#111">Carbohydrate (g/L)</text>
<clipPath id="cp7"><polygon points="55.3,962.4 82.1,768.8 316.2,910.3 84.6,980.1"/></clipPath>
<g clip-path="url(#cp7)"><g filter="url(#blr)">
<path fill="#e4c66c" d="M79 768h4v4h-4zM79 772h4v4h-4zM79 776h4v4h-4zM79 780h4v4h-4zM79 784h4v4h-4zM79 788h4v4h-4zM79 792h4v4h-4zM75 816h4v4h-4zM75 820h4v4h-4zM71 844h4v4h-4zM71 848h4v4h-4zM71 852h4v4h-4zM71 872h4v4h-4zM71 876h4v4h-4zM71 880h4v4h-4zM75 916h4v4h-4zM75 920h4v4h-4zM79 940h4v4h-4zM79 944h4v4h-4z"/>
<path fill="#ead260" d="M83 768h4v4h-4zM79 808h4v4h-4zM79 812h4v4h-4zM75 836h4v4h-4zM75 840h4v4h-4zM75 892h4v4h-4zM75 896h4v4h-4zM79 928h4v4h-4zM83 956h4v4h-4z"/>
<path fill="#f0de4e" d="M87 768h4v4h-4zM87 772h4v4h-4zM87 776h4v4h-4zM83 808h4v4h-4zM79 836h4v4h-4zM79 840h4v4h-4zM79 900h4v4h-4zM79 904h4v4h-4zM83 940h4v4h-4zM87 972h4v4h-4z"/>
<path fill="#ead25a" d="M83 772h4v4h-4zM83 776h4v4h-4zM83 780h4v4h-4zM79 816h4v4h-4zM75 844h4v4h-4zM75 848h4v4h-4zM75 880h4v4h-4zM75 884h4v4h-4zM75 888h4v4h-4zM79 920h4v4h-4zM79 924h4v4h-4zM83 952h4v4h-4zM87 980h4v4h-4z"/>
<path fill="#f6e43c" d="M91 772h4v4h-4zM87 796h4v4h-4zM87 800h4v4h-4zM83 828h4v4h-4zM83 832h4v4h-4zM79 864h4v4h-4zM79 868h4v4h-4zM83 924h4v4h-4zM87 956h4v4h-4z"/>
<path fill="#f6f02a" d="M95 772h4v4h-4zM91 796h4v4h-4zM87 824h4v4h-4zM83 856h4v4h-4zM83 900h4v4h-4z"/>
<path fill="#d8ba78" d="M75 776h4v4h-4zM75 780h4v4h-4zM75 784h4v4h-4zM75 800h4v4h-4zM71 824h4v4h-4z"/>
<path fill="#f6e436" d="M91 776h4v4h-4zM87 804h4v4h-4z"/>
<path fill="#f6f024" d="M95 776h4v4h-4zM95 780h4v4h-4zM91 800h4v4h-4zM91 804h4v4h-4zM87 828h4v4h-4zM87 832h4v4h-4zM83 860h4v4h-4zM83 864h4v4h-4zM83 868h4v4h-4zM83 872h4v4h-4zM83 876h4v4h-4zM83 880h4v4h-4zM83 884h4v4h-4zM83 888h4v4h-4zM83 892h4v4h-4zM83 896h4v4h-4zM87 944h4v4h-4zM91 976h4v4h-4z"/>
<path fill="#fcf612" d="M99 776h4v4h-4zM99 780h4v4h-4zM95 800h4v4h-4zM95 804h4v4h-4zM91 828h4v4h-4zM91 832h4v4h-4zM87 852h4v4h-4zM87 856h4v4h-4zM87 936h4v4h-4zM91 964h4v4h-4z"/>
<path fill="#fcfc06" d="M103 776h4v4h-4zM99 796h4v4h-4zM99 800h4v4h-4zM95 820h4v4h-4zM95 824h4v4h-4zM91 840h4v4h-4zM91 844h4v4h-4zM87 872h4v4h-4zM87 876h4v4h-4zM87 880h4v4h-4zM87 884h4v4h-4zM87 924h4v4h-4zM91 956h4v4h-4z"/>
<path fill="#f0de48" d="M87 780h4v4h-4zM87 784h4v4h-4zM83 812h4v4h-4zM83 816h4v4h-4zM79 844h4v4h-4zM79 848h4v4h-4zM79 888h4v4h-4zM79 892h4v4h-4zM79 896h4v4h-4zM83 932h4v4h-4zM83 936h4v4h-4zM87 968h4v4h-4z"/>
<path fill="#f6ea36" d="M91 780h4v4h-4zM87 808h4v4h-4zM83 836h4v4h-4zM83 840h4v4h-4zM83 920h4v4h-4z"/>
<path fill="#fcfc00" d="M103 780h4v4h-4zM103 784h4v4h-4zM103 788h4v4h-4zM103 792h4v4h-4zM103 796h4v4h-4zM103 800h4v4h-4zM99 804h8v4h-8zM99 808h4v4h-4zM99 812h4v4h-4zM99 816h4v4h-4zM99 820h4v4h-4zM99 824h4v4h-4zM95 828h4v4h-4zM95 832h4v4h-4zM95 836h4v4h-4zM95 840h4v4h-4zM91 848h4v4h-4zM91 852h4v4h-4zM91 856h4v4h-4zM91 860h4v4h-4zM87 888h4v4h-4zM87 892h4v4h-4zM87 896h4v4h-4zM87 900h4v4h-4zM87 904h4v4h-4zM87 908h4v4h-4zM87 912h4v4h-4zM87 916h4v4h-4zM87 920h4v4h-4zM91 948h4v4h-4zM91 952h4v4h-4z"/>
<path fill="#fcf600" d="M107 780h4v4h-4zM107 784h4v4h-4zM107 788h4v4h-4zM107 792h4v4h-4zM107 796h4v4h-4zM107 800h4v4h-4zM103 808h4v4h-4zM103 812h4v4h-4zM103 816h4v4h-4zM103 820h4v4h-4zM99 828h4v4h-4zM99 832h4v4h-4zM99 836h4v4h-4zM95 844h4v4h-4zM95 848h4v4h-4zM95 852h4v4h-4zM91 864h4v4h-4zM91 868h4v4h-4zM91 872h4v4h-4zM91 876h4v4h-4zM91 880h4v4h-4zM91 940h4v4h-4zM91 944h4v4h-4zM95 972h4v4h-4zM95 976h4v4h-4z"/>
<path fill="#ead85a" d="M83 784h4v4h-4zM83 788h4v4h-4zM83 792h4v4h-4zM79 820h4v4h-4zM75 852h4v4h-4zM75 856h4v4h-4zM75 872h4v4h-4zM75 876h4v4h-4zM79 916h4v4h-4zM83 948h4v4h-4z"/>
<path fill="#f6ea30" d="M91 784h4v4h-4zM91 788h4v4h-4zM87 812h4v4h-4zM87 816h4v4h-4zM83 844h4v4h-4zM83 848h4v4h-4zM83 912h4v4h-4zM83 916h4v4h-4zM87 952h4v4h-4z"/>
<path fill="#fcf01e" d="M95 784h4v4h-4zM95 788h4v4h-4zM91 808h4v4h-4zM91 812h4v4h-4zM87 840h4v4h-4zM87 940h4v4h-4zM91 972h4v4h-4z"/>
<path fill="#fcf60c" d="M99 784h4v4h-4zM95 808h4v4h-4zM87 860h4v4h-4zM87 932h4v4h-4zM91 960h4v4h-4z"/>
<path fill="#fcf000" d="M111 784h4v4h-4zM111 788h4v4h-4zM111 792h4v4h-4zM107 804h4v4h-4zM107 808h4v4h-4zM107 812h4v4h-4zM107 816h4v4h-4zM103 824h4v4h-4zM103 828h4v4h-4zM103 832h4v4h-4zM99 840h4v4h-4zM99 844h4v4h-4zM99 848h4v4h-4zM95 856h4v4h-4zM95 860h4v4h-4zM95 864h4v4h-4zM91 884h4v4h-4zM91 888h4v4h-4zM91 892h4v4h-4zM91 896h4v4h-4zM91 900h4v4h-4zM91 924h4v4h-4zM91 928h4v4h-4zM91 932h4v4h-4zM91 936h4v4h-4zM95 964h4v4h-4zM95 968h4v4h-4z"/>
<path fill="#fcea00" d="M115 784h4v4h-4zM115 788h4v4h-4zM111 796h4v4h-4zM111 800h4v4h-4zM111 804h4v4h-4zM111 808h4v4h-4zM111 812h4v4h-4zM107 820h4v4h-4zM107 824h4v4h-4zM107 828h4v4h-4zM107 832h4v4h-4zM103 836h4v4h-4zM103 840h4v4h-4zM103 844h4v4h-4zM99 852h4v4h-4zM99 856h4v4h-4zM95 868h4v4h-4zM95 872h4v4h-4zM95 876h4v4h-4zM95 880h4v4h-4zM91 904h4v4h-4zM91 908h4v4h-4zM91 912h4v4h-4zM91 916h4v4h-4zM91 920h4v4h-4zM95 956h4v4h-4zM95 960h4v4h-4z"/>
<path fill="#d8ba7e" d="M75 788h4v4h-4zM75 792h4v4h-4zM75 796h4v4h-4zM71 816h4v4h-4zM71 820h4v4h-4zM67 844h4v4h-4zM67 848h4v4h-4zM67 852h4v4h-4zM67 856h4v4h-4zM67 860h4v4h-4zM67 864h4v4h-4zM67 868h4v4h-4zM67 872h4v4h-4zM67 876h4v4h-4zM67 880h4v4h-4zM71 912h4v4h-4zM71 916h4v4h-4zM75 936h4v4h-4zM75 940h4v4h-4zM79 956h4v4h-4zM83 980h4v4h-4z"/>
<path fill="#f0e442" d="M87 788h4v4h-4zM87 792h4v4h-4zM83 820h4v4h-4zM79 852h4v4h-4zM79 856h4v4h-4zM79 876h4v4h-4zM79 880h4v4h-4zM79 884h4v4h-4zM87 964h4v4h-4z"/>
<path fill="#fcfc0c" d="M99 788h4v4h-4zM99 792h4v4h-4zM95 812h4v4h-4zM95 816h4v4h-4zM91 836h4v4h-4zM87 864h4v4h-4zM87 868h4v4h-4zM87 928h4v4h-4z"/>
<path fill="#fcde00" d="M119 788h4v4h-4zM119 792h4v4h-4zM119 796h4v4h-4zM119 800h4v4h-4zM115 812h4v4h-4zM115 816h4v4h-4zM115 820h4v4h-4zM115 824h4v4h-4zM111 832h4v4h-4zM111 836h4v4h-4zM107 844h4v4h-4zM103 852h4v4h-4zM103 856h4v4h-4zM99 868h4v4h-4zM99 872h4v4h-4zM99 876h4v4h-4zM99 880h4v4h-4zM95 896h4v4h-4zM95 900h4v4h-4zM95 904h4v4h-4zM95 908h4v4h-4zM95 912h4v4h-4zM95 916h4v4h-4zM95 920h4v4h-4zM95 924h4v4h-4zM95 928h4v4h-4zM95 932h4v4h-4zM95 936h4v4h-4z"/>
<path fill="#f6ea2a" d="M91 792h4v4h-4zM87 820h4v4h-4zM83 852h4v4h-4zM83 904h4v4h-4zM83 908h4v4h-4zM87 948h4v4h-4z"/>
<path fill="#fcf618" d="M95 792h4v4h-4zM95 796h4v4h-4zM91 816h4v4h-4zM91 820h4v4h-4zM91 824h4v4h-4zM87 844h4v4h-4zM87 848h4v4h-4zM91 968h4v4h-4z"/>
<path fill="#fce400" d="M115 792h4v4h-4zM115 796h4v4h-4zM115 800h4v4h-4zM115 804h4v4h-4zM115 808h4v4h-4zM111 816h4v4h-4zM111 820h4v4h-4zM111 824h4v4h-4zM111 828h4v4h-4zM107 836h4v4h-4zM107 840h4v4h-4zM103 848h4v4h-4zM99 860h4v4h-4zM99 864h4v4h-4zM95 884h4v4h-4zM95 888h4v4h-4zM95 892h4v4h-4zM95 940h4v4h-4zM95 944h4v4h-4zM95 948h4v4h-4zM95 952h4v4h-4z"/>
<path fill="#fcd800" d="M123 792h4v4h-4zM123 796h4v4h-4zM119 804h4v4h-4zM119 808h4v4h-4zM119 812h4v4h-4zM119 816h4v4h-4zM115 828h4v4h-4zM115 832h4v4h-4zM111 840h4v4h-4zM111 844h4v4h-4zM107 848h4v4h-4zM107 852h4v4h-4zM103 860h4v4h-4zM103 864h4v4h-4zM99 884h4v4h-4zM99 888h4v4h-4zM99 892h4v4h-4zM99 972h4v4h-4zM99 976h4v4h-4z"/>
<path fill="#fcd200" d="M127 792h4v4h-4zM123 800h4v4h-4zM123 804h4v4h-4zM123 808h4v4h-4zM123 812h4v4h-4zM119 820h4v4h-4zM119 824h4v4h-4zM119 828h4v4h-4zM115 836h4v4h-4zM115 840h4v4h-4zM111 848h4v4h-4zM107 856h4v4h-4zM107 860h4v4h-4zM103 868h4v4h-4zM103 872h4v4h-4zM103 876h4v4h-4zM103 880h4v4h-4zM99 896h4v4h-4zM99 900h4v4h-4zM99 964h4v4h-4zM99 968h4v4h-4z"/>
<path fill="#e4cc66" d="M79 796h4v4h-4zM79 800h4v4h-4zM79 804h4v4h-4zM75 824h4v4h-4zM75 828h4v4h-4zM71 860h4v4h-4zM71 864h4v4h-4zM75 904h4v4h-4zM75 908h4v4h-4zM75 912h4v4h-4zM79 936h4v4h-4zM83 964h4v4h-4z"/>
<path fill="#f0d854" d="M83 796h4v4h-4zM83 800h4v4h-4zM79 828h4v4h-4zM79 832h4v4h-4zM79 908h4v4h-4zM79 912h4v4h-4zM83 944h4v4h-4zM87 976h4v4h-4z"/>
<path fill="#fccc00" d="M127 796h4v4h-4zM127 800h4v4h-4zM127 804h4v4h-4zM127 808h4v4h-4zM123 816h4v4h-4zM123 820h4v4h-4zM123 824h4v4h-4zM123 828h4v4h-4zM119 832h4v4h-4zM119 836h4v4h-4zM115 844h4v4h-4zM111 852h4v4h-4zM107 864h4v4h-4zM107 868h4v4h-4zM103 884h4v4h-4zM103 888h4v4h-4zM103 892h4v4h-4zM99 904h4v4h-4zM99 908h4v4h-4zM99 912h4v4h-4zM99 916h4v4h-4zM99 920h4v4h-4zM99 924h4v4h-4zM99 928h4v4h-4zM99 932h4v4h-4zM99 936h4v4h-4zM99 940h4v4h-4zM99 944h4v4h-4zM99 948h4v4h-4zM99 952h4v4h-4zM99 956h4v4h-4zM99 960h4v4h-4z"/>
<path fill="#fcc600" d="M131 796h4v4h-4zM131 800h4v4h-4zM131 804h4v4h-4zM131 808h4v4h-4zM127 812h4v4h-4zM127 816h4v4h-4zM127 820h4v4h-4zM127 824h4v4h-4zM123 832h4v4h-4zM123 836h4v4h-4zM119 840h4v4h-4zM119 844h4v4h-4zM115 848h4v4h-4zM115 852h4v4h-4zM111 856h4v4h-4zM111 860h4v4h-4zM107 872h4v4h-4zM107 876h4v4h-4zM107 880h4v4h-4zM103 896h4v4h-4z"/>
<path fill="#fcc000" d="M135 796h4v4h-4zM135 800h4v4h-4zM135 804h4v4h-4zM131 812h4v4h-4zM131 816h4v4h-4zM131 820h4v4h-4zM127 828h4v4h-4zM127 832h4v4h-4zM123 840h4v4h-4zM119 848h4v4h-4zM115 856h4v4h-4zM111 864h4v4h-4zM111 868h4v4h-4zM111 872h4v4h-4zM107 884h4v4h-4zM107 888h4v4h-4zM107 892h4v4h-4zM103 900h4v4h-4zM103 904h4v4h-4zM103 976h4v4h-4z"/>
<path fill="#fcba00" d="M139 800h4v4h-4zM139 804h4v4h-4zM135 808h4v4h-4zM135 812h4v4h-4zM135 816h4v4h-4zM131 824h4v4h-4zM131 828h4v4h-4zM127 836h4v4h-4zM123 844h4v4h-4zM119 852h4v4h-4zM115 860h4v4h-4zM115 864h4v4h-4zM111 876h4v4h-4zM111 880h4v4h-4zM111 884h4v4h-4zM107 896h4v4h-4zM103 908h4v4h-4zM103 912h4v4h-4zM103 916h4v4h-4zM103 960h4v4h-4zM103 964h4v4h-4zM103 968h4v4h-4zM103 972h4v4h-4z"/>
<path fill="#d2ae8a" d="M71 804h4v4h-4zM67 900h4v4h-4zM71 928h4v4h-4z"/>
<path fill="#dec078" d="M75 804h4v4h-4zM71 828h4v4h-4zM71 904h4v4h-4zM71 908h4v4h-4zM75 932h4v4h-4zM79 952h4v4h-4zM83 976h4v4h-4z"/>
<path fill="#f0de54" d="M83 804h4v4h-4z"/>
<path fill="#fcb400" d="M143 804h4v4h-4zM139 808h4v4h-4zM139 812h4v4h-4zM139 816h4v4h-4zM135 820h4v4h-4zM135 824h4v4h-4zM135 828h4v4h-4zM131 832h4v4h-4zM131 836h4v4h-4zM127 840h4v4h-4zM127 844h4v4h-4zM123 848h4v4h-4zM123 852h4v4h-4zM119 856h4v4h-4zM119 860h4v4h-4zM115 868h4v4h-4zM115 872h4v4h-4zM115 876h4v4h-4zM111 888h4v4h-4zM111 892h4v4h-4zM107 900h4v4h-4zM103 920h4v4h-4zM103 924h4v4h-4zM103 928h4v4h-4zM103 932h4v4h-4zM103 936h4v4h-4zM103 940h4v4h-4zM103 944h4v4h-4zM103 948h4v4h-4zM103 952h4v4h-4zM103 956h4v4h-4z"/>
<path fill="#fcae00" d="M147 804h4v4h-4zM143 808h4v4h-4zM143 812h4v4h-4zM143 816h4v4h-4zM139 820h4v4h-4zM139 824h4v4h-4zM135 832h4v4h-4zM135 836h4v4h-4zM131 840h4v4h-4zM131 844h4v4h-4zM127 848h4v4h-4zM123 856h4v4h-4zM119 864h4v4h-4zM119 868h4v4h-4zM119 872h4v4h-4zM115 880h4v4h-4zM115 884h4v4h-4zM111 896h4v4h-4zM107 904h4v4h-4zM107 908h4v4h-4z"/>
<path fill="#d2b484" d="M71 808h4v4h-4zM75 944h4v4h-4z"/>
<path fill="#dec072" d="M75 808h4v4h-4zM71 832h4v4h-4zM71 836h4v4h-4zM71 896h4v4h-4zM71 900h4v4h-4zM75 928h4v4h-4zM79 948h4v4h-4z"/>
<path fill="#fca800" d="M147 808h4v4h-4zM147 812h4v4h-4zM143 820h4v4h-4zM143 824h4v4h-4zM139 828h4v4h-4zM139 832h4v4h-4zM135 840h4v4h-4zM131 848h4v4h-4zM127 852h4v4h-4zM127 856h4v4h-4zM123 860h4v4h-4zM123 864h4v4h-4zM123 868h4v4h-4zM119 876h4v4h-4zM119 880h4v4h-4zM115 888h4v4h-4zM115 892h4v4h-4zM111 900h4v4h-4zM107 912h4v4h-4zM107 916h4v4h-4zM107 956h4v4h-4zM107 960h4v4h-4zM107 964h4v4h-4zM107 968h4v4h-4zM107 972h4v4h-4z"/>
<path fill="#fca200" d="M151 808h4v4h-4zM151 812h4v4h-4zM147 816h4v4h-4zM147 820h4v4h-4zM147 824h4v4h-4zM143 828h4v4h-4zM143 832h4v4h-4zM139 836h4v4h-4zM139 840h4v4h-4zM135 844h4v4h-4zM135 848h4v4h-4zM131 852h4v4h-4zM131 856h4v4h-4zM127 860h4v4h-4zM127 864h4v4h-4zM123 872h4v4h-4zM123 876h4v4h-4zM119 884h4v4h-4zM115 896h4v4h-4zM111 904h4v4h-4zM107 920h4v4h-4zM107 924h4v4h-4zM107 928h4v4h-4zM107 932h4v4h-4zM107 936h4v4h-4zM107 940h4v4h-4zM107 944h4v4h-4zM107 948h4v4h-4zM107 952h4v4h-4z"/>
<path fill="#fc9c00" d="M155 808h4v4h-4zM155 812h4v4h-4zM151 816h8v4h-8zM151 820h4v4h-4zM151 824h4v4h-4zM147 828h4v4h-4zM147 832h4v4h-4zM143 836h4v4h-4zM143 840h4v4h-4zM139 844h4v4h-4zM139 848h4v4h-4zM135 852h4v4h-4zM131 860h4v4h-4zM127 868h4v4h-4zM127 872h4v4h-4zM123 880h4v4h-4zM119 888h4v4h-4zM119 892h4v4h-4zM115 900h4v4h-4zM111 908h4v4h-4zM111 912h4v4h-4zM111 964h4v4h-4zM111 968h4v4h-4zM111 972h4v4h-4z"/>
<path fill="#d8b484" d="M71 812h4v4h-4zM67 836h4v4h-4zM67 840h4v4h-4zM67 884h4v4h-4zM67 888h4v4h-4zM67 892h4v4h-4zM71 920h4v4h-4zM71 924h4v4h-4zM79 960h4v4h-4z"/>
<path fill="#dec672" d="M75 812h4v4h-4zM71 840h4v4h-4zM71 888h4v4h-4zM71 892h4v4h-4zM75 924h4v4h-4zM83 972h4v4h-4z"/>
<path fill="#fc9600" d="M159 812h4v4h-4zM159 816h4v4h-4zM155 820h4v4h-4zM155 824h4v4h-4zM151 828h4v4h-4zM151 832h4v4h-4zM147 836h4v4h-4zM147 840h4v4h-4zM143 844h4v4h-4zM143 848h4v4h-4zM139 852h4v4h-4zM135 856h4v4h-4zM135 860h4v4h-4zM131 864h4v4h-4zM131 868h4v4h-4zM127 876h4v4h-4zM123 884h4v4h-4zM119 896h4v4h-4zM115 904h4v4h-4zM111 916h4v4h-4zM111 920h4v4h-4zM111 940h4v4h-4zM111 944h4v4h-4zM111 948h4v4h-4zM111 952h4v4h-4zM111 956h4v4h-4zM111 960h4v4h-4z"/>
<path fill="#fc9000" d="M163 816h4v4h-4zM159 820h4v4h-4zM159 824h4v4h-4zM155 828h4v4h-4zM155 832h4v4h-4zM151 836h4v4h-4zM151 840h4v4h-4zM147 844h4v4h-4zM147 848h4v4h-4zM143 852h4v4h-4zM139 856h4v4h-4zM139 860h4v4h-4zM135 864h4v4h-4zM131 872h4v4h-4zM127 880h4v4h-4zM123 888h4v4h-4zM115 908h4v4h-4zM111 924h4v4h-4zM111 928h4v4h-4zM111 932h4v4h-4zM111 936h4v4h-4zM115 972h4v4h-4z"/>
<path fill="#fc8a00" d="M167 816h4v4h-4zM163 820h8v4h-8zM163 824h4v4h-4zM159 828h8v4h-8zM159 832h4v4h-4zM155 836h8v4h-8zM155 840h4v4h-4zM151 844h4v4h-4zM151 848h4v4h-4zM147 852h4v4h-4zM143 856h4v4h-4zM143 860h4v4h-4zM139 864h4v4h-4zM135 868h4v4h-4zM135 872h4v4h-4zM131 876h4v4h-4zM127 884h4v4h-4zM123 892h4v4h-4zM119 900h4v4h-4zM115 912h4v4h-4zM115 956h4v4h-4zM115 960h4v4h-4zM115 964h4v4h-4zM115 968h4v4h-4z"/>
<path fill="#fc8400" d="M171 820h4v4h-4zM167 824h8v4h-8zM167 828h4v4h-4zM163 832h4v4h-4zM163 836h4v4h-4zM159 840h4v4h-4zM155 844h8v4h-8zM155 848h4v4h-4zM151 852h4v4h-4zM147 856h4v4h-4zM143 864h4v4h-4zM139 868h4v4h-4zM135 876h4v4h-4zM131 880h4v4h-4zM127 888h4v4h-4zM123 896h4v4h-4zM119 904h4v4h-4zM115 916h4v4h-4zM115 920h4v4h-4zM115 924h4v4h-4zM115 932h4v4h-4zM115 936h4v4h-4zM115 940h4v4h-4zM115 944h4v4h-4zM115 948h4v4h-4zM115 952h4v4h-4z"/>
<path fill="#fc7e00" d="M175 820h4v4h-4zM175 824h4v4h-4zM171 828h4v4h-4zM167 832h8v4h-8zM167 836h4v4h-4zM163 840h8v4h-8zM163 844h4v4h-4zM159 848h4v4h-4zM155 852h4v4h-4zM151 856h4v4h-4zM147 860h4v4h-4zM147 864h4v4h-4zM143 868h4v4h-4zM139 872h4v4h-4zM131 884h4v4h-4zM127 892h4v4h-4zM119 908h4v4h-4zM115 928h4v4h-4z"/>
<path fill="#ead854" d="M79 824h4v4h-4zM75 860h4v4h-4zM75 864h4v4h-4zM75 868h4v4h-4z"/>
<path fill="#f6e442" d="M83 824h4v4h-4zM79 860h4v4h-4zM79 872h4v4h-4zM83 928h4v4h-4zM87 960h4v4h-4z"/>
<path fill="#fc7800" d="M179 824h4v4h-4zM175 828h8v4h-8zM175 832h4v4h-4zM171 836h8v4h-8zM171 840h4v4h-4zM167 844h4v4h-4zM163 848h4v4h-4zM159 852h4v4h-4zM155 856h4v4h-4zM151 860h4v4h-4zM151 864h4v4h-4zM147 868h4v4h-4zM143 872h4v4h-4zM139 876h4v4h-4zM135 880h4v4h-4zM131 888h4v4h-4zM123 900h4v4h-4zM119 912h4v4h-4zM119 956h4v4h-4zM119 960h4v4h-4zM119 964h4v4h-4zM119 968h4v4h-4z"/>
<path fill="#fc7200" d="M183 828h8v4h-8zM179 832h8v4h-8zM179 836h4v4h-4zM175 840h8v4h-8zM171 844h8v4h-8zM167 848h8v4h-8zM163 852h8v4h-8zM159 856h8v4h-8zM155 860h8v4h-8zM155 864h4v4h-4zM151 868h4v4h-4zM147 872h4v4h-4zM143 876h4v4h-4zM139 880h4v4h-4zM135 884h4v4h-4zM127 896h4v4h-4zM271 896h20v4h-20zM271 900h20v4h-20zM123 904h4v4h-4zM275 904h16v4h-16zM119 916h4v4h-4zM119 940h4v4h-4zM119 944h4v4h-4zM119 948h4v4h-4zM119 952h4v4h-4z"/>
<path fill="#e4cc60" d="M75 832h4v4h-4zM79 932h4v4h-4zM83 960h4v4h-4z"/>
<path fill="#fc6c00" d="M187 832h8v4h-8zM183 836h8v4h-8zM183 840h4v4h-4zM179 844h8v4h-8zM175 848h8v4h-8zM171 852h8v4h-8zM167 856h4v4h-4zM163 860h4v4h-4zM159 864h4v4h-4zM155 868h4v4h-4zM255 872h8v4h-8zM251 876h20v4h-20zM247 880h32v4h-32zM247 884h36v4h-36zM135 888h4v4h-4zM243 888h48v4h-48zM131 892h4v4h-4zM243 892h52v4h-52zM243 896h28v4h-28zM291 896h12v4h-12zM127 900h4v4h-4zM239 900h32v4h-32zM291 900h20v4h-20zM239 904h36v4h-36zM291 904h20v4h-20zM123 908h4v4h-4zM239 908h72v4h-72zM239 912h68v4h-68zM239 916h64v4h-64zM119 920h4v4h-4zM243 920h48v4h-48zM119 924h4v4h-4zM247 924h32v4h-32zM119 928h4v4h-4zM119 932h4v4h-4zM119 936h4v4h-4z"/>
<path fill="#fc6600" d="M195 832h4v4h-4zM191 836h8v4h-8zM187 840h12v4h-12zM187 844h8v4h-8zM183 848h4v4h-4zM179 852h4v4h-4zM171 856h8v4h-8zM167 860h8v4h-8zM163 864h4v4h-4zM247 864h4v4h-4zM159 868h4v4h-4zM243 868h16v4h-16zM151 872h4v4h-4zM243 872h12v4h-12zM147 876h4v4h-4zM239 876h12v4h-12zM143 880h4v4h-4zM239 880h8v4h-8zM139 884h4v4h-4zM235 884h12v4h-12zM235 888h8v4h-8zM231 892h12v4h-12zM131 896h4v4h-4zM231 896h12v4h-12zM231 900h8v4h-8zM231 904h8v4h-8zM311 904h4v4h-4zM231 908h8v4h-8zM311 908h8v4h-8zM123 912h4v4h-4zM227 912h12v4h-12zM307 912h12v4h-12zM227 916h12v4h-12zM227 920h16v4h-16zM227 924h20v4h-20zM227 928h36v4h-36zM227 932h24v4h-24zM227 936h12v4h-12zM123 956h4v4h-4zM123 960h4v4h-4zM123 964h4v4h-4zM123 968h4v4h-4z"/>
<path fill="#f6f01e" d="M87 836h4v4h-4z"/>
<path fill="#fc6000" d="M199 836h4v4h-4zM199 840h8v4h-8zM195 844h8v4h-8zM187 848h12v4h-12zM183 852h8v4h-8zM179 856h8v4h-8zM175 860h4v4h-4zM239 860h4v4h-4zM167 864h8v4h-8zM239 864h8v4h-8zM163 868h4v4h-4zM235 868h8v4h-8zM155 872h8v4h-8zM235 872h8v4h-8zM151 876h4v4h-4zM231 876h8v4h-8zM147 880h4v4h-4zM231 880h8v4h-8zM143 884h4v4h-4zM227 884h8v4h-8zM139 888h4v4h-4zM227 888h8v4h-8zM135 892h4v4h-4zM227 892h4v4h-4zM227 896h4v4h-4zM223 900h8v4h-8zM127 904h4v4h-4zM223 904h8v4h-8zM223 908h8v4h-8zM319 908h4v4h-4zM223 912h4v4h-4zM123 916h4v4h-4zM223 916h4v4h-4zM123 920h4v4h-4zM223 920h4v4h-4zM219 924h8v4h-8zM219 928h8v4h-8zM219 932h8v4h-8zM219 936h8v4h-8zM123 940h4v4h-4zM219 940h4v4h-4zM123 944h4v4h-4zM123 948h4v4h-4zM123 952h4v4h-4z"/>
<path fill="#fc5a00" d="M207 840h4v4h-4zM203 844h16v4h-16zM199 848h16v4h-16zM219 848h4v4h-4zM191 852h12v4h-12zM227 852h4v4h-4zM187 856h8v4h-8zM227 856h12v4h-12zM179 860h8v4h-8zM227 860h12v4h-12zM175 864h8v4h-8zM227 864h12v4h-12zM167 868h8v4h-8zM227 868h8v4h-8zM163 872h4v4h-4zM227 872h8v4h-8zM155 876h8v4h-8zM223 876h8v4h-8zM151 880h4v4h-4zM223 880h8v4h-8zM147 884h4v4h-4zM223 884h4v4h-4zM143 888h4v4h-4zM223 888h4v4h-4zM139 892h4v4h-4zM223 892h4v4h-4zM135 896h4v4h-4zM219 896h8v4h-8zM131 900h4v4h-4zM219 900h4v4h-4zM219 904h4v4h-4zM127 908h4v4h-4zM219 908h4v4h-4zM219 912h4v4h-4zM215 916h8v4h-8zM215 920h8v4h-8zM123 924h4v4h-4zM215 924h4v4h-4zM123 928h4v4h-4zM215 928h4v4h-4zM123 932h4v4h-4zM215 932h4v4h-4zM123 936h4v4h-4zM215 936h4v4h-4zM211 940h8v4h-8z"/>
<path fill="#fc5400" d="M215 848h4v4h-4zM203 852h24v4h-24zM195 856h32v4h-32zM187 860h12v4h-12zM215 860h12v4h-12zM183 864h4v4h-4zM219 864h8v4h-8zM175 868h8v4h-8zM219 868h8v4h-8zM167 872h8v4h-8zM219 872h8v4h-8zM163 876h4v4h-4zM219 876h4v4h-4zM155 880h4v4h-4zM219 880h4v4h-4zM151 884h4v4h-4zM219 884h4v4h-4zM147 888h4v4h-4zM219 888h4v4h-4zM215 892h8v4h-8zM215 896h4v4h-4zM215 900h4v4h-4zM131 904h4v4h-4zM215 904h4v4h-4zM215 908h4v4h-4zM127 912h4v4h-4zM211 912h8v4h-8zM127 916h4v4h-4zM211 916h4v4h-4zM211 920h4v4h-4zM211 924h4v4h-4zM211 928h4v4h-4zM211 932h4v4h-4zM207 936h8v4h-8zM207 940h4v4h-4zM127 944h4v4h-4zM207 944h4v4h-4zM127 948h4v4h-4zM127 952h4v4h-4zM127 956h4v4h-4zM127 960h4v4h-4zM127 964h4v4h-4zM127 968h4v4h-4z"/>
<path fill="#e4cc6c" d="M71 856h4v4h-4zM71 868h4v4h-4zM83 968h4v4h-4z"/>
<path fill="#fc4e00" d="M199 860h16v4h-16zM187 864h32v4h-32zM183 868h8v4h-8zM211 868h8v4h-8zM175 872h8v4h-8zM215 872h4v4h-4zM167 876h8v4h-8zM215 876h4v4h-4zM159 880h8v4h-8zM215 880h4v4h-4zM155 884h4v4h-4zM215 884h4v4h-4zM151 888h4v4h-4zM215 888h4v4h-4zM143 892h4v4h-4zM211 892h4v4h-4zM139 896h4v4h-4zM211 896h4v4h-4zM135 900h4v4h-4zM211 900h4v4h-4zM211 904h4v4h-4zM131 908h4v4h-4zM211 908h4v4h-4zM207 912h4v4h-4zM207 916h4v4h-4zM127 920h4v4h-4zM207 920h4v4h-4zM127 924h4v4h-4zM207 924h4v4h-4zM127 928h4v4h-4zM207 928h4v4h-4zM127 932h4v4h-4zM203 932h8v4h-8zM127 936h4v4h-4zM203 936h4v4h-4zM127 940h4v4h-4zM203 940h4v4h-4zM199 944h8v4h-8z"/>
<path fill="#d2ae90" d="M63 864h4v4h-4zM63 868h4v4h-4zM67 904h4v4h-4zM67 908h4v4h-4zM71 932h4v4h-4zM75 948h4v4h-4zM79 968h4v4h-4z"/>
<path fill="#fc4800" d="M191 868h20v4h-20zM183 872h8v4h-8zM207 872h8v4h-8zM175 876h8v4h-8zM207 876h8v4h-8zM167 880h8v4h-8zM211 880h4v4h-4zM159 884h8v4h-8zM211 884h4v4h-4zM155 888h4v4h-4zM207 888h8v4h-8zM147 892h8v4h-8zM207 892h4v4h-4zM143 896h4v4h-4zM207 896h4v4h-4zM139 900h4v4h-4zM207 900h4v4h-4zM135 904h4v4h-4zM207 904h4v4h-4zM135 908h4v4h-4zM207 908h4v4h-4zM131 912h4v4h-4zM203 912h4v4h-4zM131 916h4v4h-4zM203 916h4v4h-4zM131 920h4v4h-4zM203 920h4v4h-4zM131 924h4v4h-4zM203 924h4v4h-4zM131 928h4v4h-4zM203 928h4v4h-4zM131 932h4v4h-4zM199 932h4v4h-4zM131 936h4v4h-4zM199 936h4v4h-4zM131 940h4v4h-4zM195 940h8v4h-8zM131 944h4v4h-4zM195 944h4v4h-4zM131 948h4v4h-4zM191 948h8v4h-8zM131 952h4v4h-4zM131 956h4v4h-4zM131 960h4v4h-4zM131 964h4v4h-4z"/>
<path fill="#cca890" d="M63 872h4v4h-4z"/>
<path fill="#fc4200" d="M191 872h16v4h-16zM183 876h12v4h-12zM199 876h8v4h-8zM175 880h8v4h-8zM203 880h8v4h-8zM167 884h8v4h-8zM203 884h8v4h-8zM159 888h8v4h-8zM203 888h4v4h-4zM155 892h8v4h-8zM203 892h4v4h-4zM147 896h8v4h-8zM203 896h4v4h-4zM143 900h8v4h-8zM203 900h4v4h-4zM139 904h8v4h-8zM199 904h8v4h-8zM139 908h4v4h-4zM199 908h8v4h-8zM135 912h8v4h-8zM199 912h4v4h-4zM135 916h4v4h-4zM199 916h4v4h-4zM135 920h4v4h-4zM199 920h4v4h-4zM135 924h4v4h-4zM199 924h4v4h-4zM135 928h4v4h-4zM195 928h8v4h-8zM135 932h4v4h-4zM195 932h4v4h-4zM135 936h4v4h-4zM191 936h8v4h-8zM135 940h4v4h-4zM191 940h4v4h-4zM135 944h4v4h-4zM187 944h8v4h-8zM135 948h4v4h-4zM183 948h8v4h-8zM135 952h4v4h-4zM179 952h8v4h-8zM135 956h4v4h-4zM135 960h4v4h-4zM135 964h4v4h-4z"/>
<path fill="#cca896" d="M63 876h4v4h-4zM63 880h4v4h-4zM63 884h4v4h-4zM67 912h4v4h-4zM67 916h4v4h-4zM71 936h4v4h-4zM75 952h4v4h-4zM79 972h4v4h-4z"/>
<path fill="#fc3c00" d="M195 876h4v4h-4zM183 880h20v4h-20zM175 884h28v4h-28zM167 888h16v4h-16zM195 888h8v4h-8zM163 892h8v4h-8zM195 892h8v4h-8zM155 896h12v4h-12zM195 896h8v4h-8zM151 900h8v4h-8zM195 900h8v4h-8zM147 904h12v4h-12zM195 904h4v4h-4zM143 908h12v4h-12zM195 908h4v4h-4zM143 912h12v4h-12zM195 912h4v4h-4zM139 916h20v4h-20zM195 916h4v4h-4zM139 920h20v4h-20zM195 920h4v4h-4zM139 924h20v4h-20zM191 924h8v4h-8zM139 928h20v4h-20zM191 928h4v4h-4zM139 932h24v4h-24zM187 932h8v4h-8zM139 936h32v4h-32zM179 936h12v4h-12zM139 940h52v4h-52zM139 944h48v4h-48zM139 948h44v4h-44zM139 952h40v4h-40zM139 956h8v4h-8zM151 956h20v4h-20zM139 960h8v4h-8zM155 960h4v4h-4zM139 964h8v4h-8z"/>
<path fill="#dec66c" d="M71 884h4v4h-4z"/>
<path fill="#cca29c" d="M63 888h4v4h-4zM63 892h4v4h-4zM67 920h4v4h-4zM71 940h4v4h-4z"/>
<path fill="#fc3600" d="M183 888h12v4h-12zM171 892h24v4h-24zM167 896h28v4h-28zM159 900h16v4h-16zM183 900h12v4h-12zM159 904h12v4h-12zM187 904h8v4h-8zM155 908h12v4h-12zM187 908h8v4h-8zM155 912h12v4h-12zM187 912h8v4h-8zM159 916h12v4h-12zM183 916h12v4h-12zM159 920h16v4h-16zM183 920h12v4h-12zM159 924h32v4h-32zM159 928h32v4h-32zM163 932h24v4h-24zM171 936h8v4h-8zM147 956h4v4h-4zM147 960h8v4h-8z"/>
<path fill="#ba90ae" d="M59 892h4v4h-4zM63 916h4v4h-4zM71 952h4v4h-4z"/>
<path fill="#ba90b4" d="M59 896h4v4h-4zM63 920h4v4h-4zM67 940h4v4h-4zM75 968h4v4h-4z"/>
<path fill="#c6a2a2" d="M63 896h4v4h-4zM67 924h4v4h-4zM71 944h4v4h-4zM79 976h4v4h-4z"/>
<path fill="#d2b48a" d="M67 896h4v4h-4zM79 964h4v4h-4z"/>
<path fill="#b48aba" d="M59 900h4v4h-4zM59 904h4v4h-4zM63 928h4v4h-4zM71 956h4v4h-4zM75 972h4v4h-4z"/>
<path fill="#c69ca2" d="M63 900h4v4h-4zM67 928h4v4h-4zM79 980h4v4h-4z"/>
<path fill="#eacc60" d="M75 900h4v4h-4z"/>
<path fill="#fc3000" d="M175 900h8v4h-8zM171 904h16v4h-16zM167 908h20v4h-20zM167 912h20v4h-20zM171 916h12v4h-12zM175 920h8v4h-8z"/>
<path fill="#c09ca8" d="M63 904h4v4h-4zM71 948h4v4h-4z"/>
<path fill="#b484c0" d="M59 908h4v4h-4zM63 932h4v4h-4zM67 948h4v4h-4zM75 976h4v4h-4z"/>
<path fill="#c096a8" d="M63 908h4v4h-4zM67 932h4v4h-4z"/>
<path fill="#ae84c6" d="M59 912h4v4h-4zM63 936h4v4h-4z"/>
<path fill="#c096ae" d="M63 912h4v4h-4zM67 936h4v4h-4zM75 964h4v4h-4z"/>
<path fill="#ae7ec6" d="M59 916h4v4h-4zM67 952h4v4h-4zM71 964h4v4h-4z"/>
<path fill="#9c72d2" d="M55 920h4v4h-4zM59 936h4v4h-4zM59 940h4v4h-4zM63 952h4v4h-4zM67 964h4v4h-4z"/>
<path fill="#a87ec6" d="M59 920h4v4h-4zM63 940h4v4h-4z"/>
<path fill="#966cd8" d="M55 924h4v4h-4zM59 944h4v4h-4zM63 960h4v4h-4zM67 968h4v4h-4z"/>
<path fill="#a87ecc" d="M59 924h4v4h-4zM67 956h4v4h-4z"/>
<path fill="#ba8aba" d="M63 924h4v4h-4zM67 944h4v4h-4z"/>
<path fill="#906cd8" d="M55 928h4v4h-4z"/>
<path fill="#a278cc" d="M59 928h4v4h-4zM59 932h4v4h-4zM63 948h4v4h-4zM67 960h4v4h-4zM71 972h4v4h-4z"/>
<path fill="#9066de" d="M55 932h4v4h-4zM67 972h4v4h-4z"/>
<path fill="#8460de" d="M55 936h4v4h-4zM59 956h4v4h-4z"/>
<path fill="#7e60e4" d="M55 940h4v4h-4zM59 960h4v4h-4zM63 968h4v4h-4z"/>
<path fill="#785ae4" d="M55 944h4v4h-4z"/>
<path fill="#a878cc" d="M63 944h4v4h-4zM71 968h4v4h-4z"/>
<path fill="#7254ea" d="M55 948h4v4h-4zM55 952h4v4h-4z"/>
<path fill="#9066d8" d="M59 948h4v4h-4z"/>
<path fill="#8a66de" d="M59 952h4v4h-4zM63 964h4v4h-4z"/>
<path fill="#6c4eea" d="M55 956h4v4h-4zM59 968h4v4h-4z"/>
<path fill="#9672d8" d="M63 956h4v4h-4z"/>
<path fill="#c6a29c" d="M75 956h4v4h-4z"/>
<path fill="#5a42f0" d="M55 960h4v4h-4z"/>
<path fill="#ae84c0" d="M71 960h4v4h-4z"/>
<path fill="#c69ca8" d="M75 960h4v4h-4z"/>
<path fill="#543cf6" d="M55 964h4v4h-4z"/>
<path fill="#7854e4" d="M59 964h4v4h-4z"/>
</g>
<path fill="none" stroke="#111" stroke-width="0.9" d="M65.5 983.0L63.7 975.0L58.6 963.0L53.0 937.2M72.3 983.0L71.0 972.6L65.4 958.0L60.6 940.0L53.0 902.7M78.9 983.0L77.9 975.0L75.7 965.0L69.8 947.0L67.5 937.0L62.6 906.0L59.5 889.0L57.4 871.0L56.8 858.0L57.1 846.0L58.3 833.0L61.5 807.0L62.1 799.0L61.0 766.0M85.3 983.0L82.9 972.0L80.6 957.0L76.0 935.6L73.0 918.6L70.7 898.0L68.5 868.0L68.5 856.0L69.5 844.0L73.6 816.0L76.4 800.0L75.9 778.0L76.2 766.0M91.4 983.0L89.6 973.0L83.7 921.0L81.4 893.0L80.2 868.0L80.6 858.0L81.8 845.0L92.1 766.0M96.9 983.0L95.2 965.0L91.9 942.0L90.5 929.0L89.8 913.0L90.3 895.0L91.8 874.0L93.1 863.0L104.3 807.0L107.8 786.0L110.0 766.0M102.1 983.0L100.0 963.4L99.3 950.0L98.4 917.0L99.3 903.0L104.3 871.0L106.0 863.0L108.3 856.0L115.9 839.0L119.3 827.0L127.5 784.0L130.4 766.0M108.0 983.0L106.9 977.0L105.0 939.0L105.7 923.0L107.3 911.0L108.8 905.0L113.6 891.0L118.8 870.0L121.2 862.0L124.6 854.0L134.1 836.0L139.3 822.0L146.7 797.0L153.6 766.0M117.2 983.0L114.6 950.0L113.9 934.0L114.3 921.0L116.1 912.0L119.3 904.0L134.0 873.9L140.6 862.0L154.2 840.0L165.5 817.0L170.5 805.0L174.7 793.0L178.4 780.0L181.7 766.0M319.0 872.3L311.4 863.0L302.0 854.6L291.0 847.1L280.0 841.8L274.0 839.7L269.0 838.5L260.0 837.7L256.0 838.1L252.0 839.4L249.0 841.3L247.0 843.3L243.7 849.0L238.0 863.7L233.0 871.2L231.0 874.9L227.1 886.0L224.1 898.0L222.5 906.0L216.4 949.0L216.2 952.0L216.6 956.0L219.2 964.0L224.0 973.1L231.0 983.0M131.2 983.0L129.0 977.9L128.0 974.0L125.1 933.0L125.2 924.0L125.9 918.0L127.2 913.0L129.8 907.0L134.0 900.0L139.0 893.8L146.0 887.0L155.0 879.7L165.0 872.6L186.8 859.0L208.0 844.1L228.1 832.0L231.0 829.8L233.7 827.0L235.7 824.0L237.3 820.0L238.6 815.0L239.5 808.0L240.1 791.0L239.5 766.0M284.1 983.0L295.0 973.6L305.0 963.4L313.0 953.7L319.0 944.7"/>
</g>
<path fill="none" stroke="#000" stroke-width="1.3" stroke-dasharray="4.2 2.8" d="M51.5 990.1L83.6 758.0M51.5 990.1L115.6 758.0M51.5 990.1L179.8 758.0M51.5 990.1L308.1 758.0M51.5 990.1L337.3 860.8M51.5 990.1L316.2 910.3"/>
<g fill="#000"><circle cx="82.1" cy="768.8" r="2.15"/><circle cx="66.8" cy="879.5" r="2.15"/><circle cx="59.1" cy="934.8" r="2.15"/><circle cx="55.3" cy="962.4" r="2.15"/><circle cx="108.3" cy="784.6" r="2.15"/><circle cx="79.9" cy="887.4" r="2.15"/><circle cx="65.7" cy="938.7" r="2.15"/><circle cx="58.6" cy="964.4" r="2.15"/><circle cx="150.8" cy="810.4" r="2.15"/><circle cx="101.2" cy="900.2" r="2.15"/><circle cx="76.3" cy="945.2" r="2.15"/><circle cx="63.9" cy="967.6" r="2.15"/><circle cx="210.4" cy="846.4" r="2.15"/><circle cx="130.9" cy="918.2" r="2.15"/><circle cx="91.2" cy="954.2" r="2.15"/><circle cx="71.4" cy="972.1" r="2.15"/><circle cx="278.4" cy="887.5" r="2.15"/><circle cx="165.0" cy="938.8" r="2.15"/><circle cx="108.2" cy="964.4" r="2.15"/><circle cx="79.9" cy="977.3" r="2.15"/><circle cx="316.2" cy="910.3" r="2.15"/><circle cx="183.8" cy="950.2" r="2.15"/><circle cx="117.7" cy="970.1" r="2.15"/><circle cx="84.6" cy="980.1" r="2.15"/></g>
<g font-size="10" fill="#111"><text x="0" y="3.6" transform="translate(76.5 767.1) rotate(-82.1)" text-anchor="middle">1:16</text><text x="0" y="3.6" transform="translate(107.0 769.3) rotate(-74.6)" text-anchor="middle">1:8</text><text x="0" y="3.6" transform="translate(150.2 797.3) rotate(-61.1)" text-anchor="middle">1:4</text><text x="0" y="3.6" transform="translate(213.1 835.7) rotate(-42.1)" text-anchor="middle">1:2</text><text x="0" y="3.6" transform="translate(283.2 880.5) rotate(-24.3)" text-anchor="middle">1:1</text><text x="0" y="3.6" transform="translate(323.8 904.6) rotate(-16.8)" text-anchor="middle">1.5:1</text></g>
<rect x="51.5" y="757.00" width="286.8" height="233.10" fill="none" stroke="#000" stroke-width="1.8"/>
<path stroke="#000" stroke-width="0.9" fill="none" d="M50.6 990.1h-3.6M50.6 923.2h-3.6M50.6 856.3h-3.6M50.6 789.4h-3.6M51.5 991.0v3.4M125.5 991.0v3.4M199.4 991.0v3.4M273.4 991.0v3.4"/>
<rect x="253.8" y="761.9" width="59" height="94" fill="#fff"/>
<text x="257.1" y="775.5" font-size="11.8" fill="#1a1a1a">Ovariole</text>
<text x="257.1" y="786.6" font-size="11.8" fill="#1a1a1a">number</text>
<rect x="256.8" y="791.30" width="12.3" height="1.83" fill="#ff0600"/>
<rect x="256.8" y="792.83" width="12.3" height="1.83" fill="#ff1300"/>
<rect x="256.8" y="794.37" width="12.3" height="1.83" fill="#ff2000"/>
<rect x="256.8" y="795.90" width="12.3" height="1.83" fill="#ff2d00"/>
<rect x="256.8" y="797.44" width="12.3" height="1.83" fill="#ff3900"/>
<rect x="256.8" y="798.97" width="12.3" height="1.83" fill="#ff4600"/>
<rect x="256.8" y="800.51" width="12.3" height="1.83" fill="#ff5300"/>
<rect x="256.8" y="802.04" width="12.3" height="1.83" fill="#ff6000"/>
<rect x="256.8" y="803.58" width="12.3" height="1.83" fill="#ff6c00"/>
<rect x="256.8" y="805.12" width="12.3" height="1.83" fill="#ff7900"/>
<rect x="256.8" y="806.65" width="12.3" height="1.83" fill="#ff8600"/>
<rect x="256.8" y="808.18" width="12.3" height="1.83" fill="#ff9300"/>
<rect x="256.8" y="809.72" width="12.3" height="1.83" fill="#ff9f00"/>
<rect x="256.8" y="811.25" width="12.3" height="1.83" fill="#ffac00"/>
<rect x="256.8" y="812.79" width="12.3" height="1.83" fill="#ffb900"/>
<rect x="256.8" y="814.32" width="12.3" height="1.83" fill="#ffc600"/>
<rect x="256.8" y="815.86" width="12.3" height="1.83" fill="#ffd200"/>
<rect x="256.8" y="817.39" width="12.3" height="1.83" fill="#ffdf00"/>
<rect x="256.8" y="818.93" width="12.3" height="1.83" fill="#ffec00"/>
<rect x="256.8" y="820.46" width="12.3" height="1.83" fill="#fff900"/>
<rect x="256.8" y="822.00" width="12.3" height="1.83" fill="#fcf90e"/>
<rect x="256.8" y="823.53" width="12.3" height="1.83" fill="#f7ec2b"/>
<rect x="256.8" y="825.07" width="12.3" height="1.83" fill="#f2e047"/>
<rect x="256.8" y="826.60" width="12.3" height="1.83" fill="#ead35c"/>
<rect x="256.8" y="828.14" width="12.3" height="1.83" fill="#e2c76c"/>
<rect x="256.8" y="829.67" width="12.3" height="1.83" fill="#daba7d"/>
<rect x="256.8" y="831.21" width="12.3" height="1.83" fill="#d1ae8e"/>
<rect x="256.8" y="832.75" width="12.3" height="1.83" fill="#c9a19e"/>
<rect x="256.8" y="834.28" width="12.3" height="1.83" fill="#c096ab"/>
<rect x="256.8" y="835.81" width="12.3" height="1.83" fill="#b78cb8"/>
<rect x="256.8" y="837.35" width="12.3" height="1.83" fill="#ae81c4"/>
<rect x="256.8" y="838.88" width="12.3" height="1.83" fill="#a57acb"/>
<rect x="256.8" y="840.42" width="12.3" height="1.83" fill="#9c73d2"/>
<rect x="256.8" y="841.95" width="12.3" height="1.83" fill="#926bd9"/>
<rect x="256.8" y="843.49" width="12.3" height="1.83" fill="#8360e0"/>
<rect x="256.8" y="845.02" width="12.3" height="1.83" fill="#7555e7"/>
<rect x="256.8" y="846.56" width="12.3" height="1.83" fill="#6448ee"/>
<rect x="256.8" y="848.09" width="12.3" height="1.83" fill="#4f37f4"/>
<rect x="256.8" y="849.63" width="12.3" height="1.83" fill="#3a26fa"/>
<rect x="256.8" y="851.16" width="12.3" height="1.83" fill="#2315fd"/>
<text x="270.3" y="798.4" font-size="8.7" font-weight="bold" fill="#111">24</text>
<text x="270.3" y="811.3" font-size="8.7" font-weight="bold" fill="#111">23</text>
<text x="270.3" y="825.1" font-size="8.7" font-weight="bold" fill="#111">22</text>
<text x="270.3" y="838.6" font-size="8.7" font-weight="bold" fill="#111">21</text>
<text x="270.3" y="851.5" font-size="8.7" font-weight="bold" fill="#111">20</text>
<clipPath id="cp8"><polygon points="352.9,962.4 379.7,768.8 613.8,910.3 382.2,980.1"/></clipPath>
<g clip-path="url(#cp8)"><g filter="url(#blr)">
<path fill="#4e36f6" d="M376 768h4v4h-4zM376 772h4v4h-4zM372 784h4v4h-4zM372 788h4v4h-4z"/>
<path fill="#5a42f0" d="M380 768h4v4h-4zM380 772h4v4h-4zM376 784h4v4h-4zM372 800h4v4h-4zM368 812h4v4h-4zM360 868h4v4h-4zM352 944h4v4h-4zM352 948h4v4h-4z"/>
<path fill="#6648f0" d="M384 768h4v4h-4zM380 784h4v4h-4zM376 796h4v4h-4zM352 940h4v4h-4z"/>
<path fill="#664eea" d="M384 772h4v4h-4zM368 820h4v4h-4zM364 840h4v4h-4z"/>
<path fill="#7254ea" d="M388 772h4v4h-4zM388 776h4v4h-4zM384 784h4v4h-4zM384 788h4v4h-4zM380 796h4v4h-4zM376 804h4v4h-4zM376 808h4v4h-4zM372 816h4v4h-4zM368 828h4v4h-4zM368 832h4v4h-4zM364 852h4v4h-4zM364 856h4v4h-4zM360 888h4v4h-4zM356 900h4v4h-4z"/>
<path fill="#785ae4" d="M392 772h4v4h-4zM388 784h4v4h-4zM384 792h4v4h-4zM380 804h4v4h-4zM376 812h4v4h-4zM372 824h4v4h-4zM368 840h4v4h-4zM352 956h4v4h-4z"/>
<path fill="#543cf6" d="M376 776h4v4h-4zM372 792h4v4h-4z"/>
<path fill="#6042f0" d="M380 776h4v4h-4zM376 788h4v4h-4zM360 880h4v4h-4z"/>
<path fill="#6c4eea" d="M384 776h4v4h-4zM384 780h4v4h-4zM380 788h4v4h-4zM376 800h4v4h-4zM372 812h4v4h-4zM368 824h4v4h-4zM364 844h4v4h-4zM364 848h4v4h-4zM360 884h4v4h-4zM356 896h4v4h-4zM352 924h4v4h-4zM352 928h4v4h-4zM352 932h4v4h-4zM352 936h4v4h-4zM352 952h4v4h-4z"/>
<path fill="#7e5ae4" d="M392 776h4v4h-4zM388 788h4v4h-4zM384 796h4v4h-4zM380 808h4v4h-4zM376 816h4v4h-4zM372 828h4v4h-4zM368 844h4v4h-4zM368 848h4v4h-4zM364 880h4v4h-4zM360 892h4v4h-4zM356 908h4v4h-4zM356 912h4v4h-4zM352 960h4v4h-4zM352 964h4v4h-4z"/>
<path fill="#8460de" d="M396 776h4v4h-4zM392 784h4v4h-4zM388 792h4v4h-4zM388 796h4v4h-4zM384 804h4v4h-4zM380 812h4v4h-4zM380 816h4v4h-4zM376 824h4v4h-4zM372 836h4v4h-4zM368 852h4v4h-4zM368 856h4v4h-4zM364 884h4v4h-4zM360 896h4v4h-4zM356 920h4v4h-4zM356 924h4v4h-4zM356 944h4v4h-4z"/>
<path fill="#906cd8" d="M400 776h4v4h-4zM396 788h4v4h-4zM392 796h4v4h-4zM388 808h4v4h-4zM384 816h4v4h-4zM376 836h4v4h-4zM372 852h4v4h-4zM368 872h4v4h-4zM364 892h4v4h-4zM360 912h4v4h-4zM356 952h4v4h-4z"/>
<path fill="#4830f6" d="M372 780h4v4h-4z"/>
<path fill="#543cf0" d="M376 780h4v4h-4zM360 876h4v4h-4z"/>
<path fill="#6048f0" d="M380 780h4v4h-4zM376 792h4v4h-4zM372 804h4v4h-4zM368 816h4v4h-4z"/>
<path fill="#7854e4" d="M388 780h4v4h-4zM380 800h4v4h-4zM368 836h4v4h-4zM364 864h4v4h-4zM364 868h4v4h-4zM364 872h4v4h-4zM364 876h4v4h-4zM356 904h4v4h-4z"/>
<path fill="#7e60e4" d="M392 780h4v4h-4zM384 800h4v4h-4zM376 820h4v4h-4zM356 916h4v4h-4zM356 948h4v4h-4z"/>
<path fill="#8a66de" d="M396 780h4v4h-4zM392 788h4v4h-4zM392 792h4v4h-4zM388 800h4v4h-4zM384 808h4v4h-4zM384 812h4v4h-4zM380 820h4v4h-4zM376 828h4v4h-4zM376 832h4v4h-4zM372 840h4v4h-4zM372 844h4v4h-4zM368 860h4v4h-4zM368 864h4v4h-4zM364 888h4v4h-4zM360 904h4v4h-4zM356 932h4v4h-4zM356 936h4v4h-4zM356 940h4v4h-4z"/>
<path fill="#966cd8" d="M400 780h4v4h-4zM396 792h4v4h-4zM392 800h4v4h-4zM388 812h4v4h-4zM384 820h4v4h-4zM380 828h4v4h-4zM380 832h4v4h-4zM376 840h4v4h-4zM372 856h4v4h-4zM368 876h4v4h-4zM364 896h4v4h-4zM360 916h4v4h-4zM360 920h4v4h-4zM356 964h4v4h-4zM356 968h4v4h-4z"/>
<path fill="#9c72d2" d="M404 780h4v4h-4zM404 784h4v4h-4zM400 788h4v4h-4zM400 792h4v4h-4zM396 800h4v4h-4zM396 804h4v4h-4zM392 808h4v4h-4zM392 812h4v4h-4zM388 816h4v4h-4zM388 820h4v4h-4zM388 824h4v4h-4zM384 828h4v4h-4zM384 832h4v4h-4zM380 836h4v4h-4zM380 840h4v4h-4zM380 844h4v4h-4zM376 848h4v4h-4zM376 852h4v4h-4zM372 864h4v4h-4zM372 868h4v4h-4zM368 884h4v4h-4zM368 888h4v4h-4zM364 904h4v4h-4zM364 908h4v4h-4zM364 912h4v4h-4zM360 928h4v4h-4zM360 932h4v4h-4zM360 936h4v4h-4z"/>
<path fill="#9066de" d="M396 784h4v4h-4z"/>
<path fill="#9672d8" d="M400 784h4v4h-4zM392 804h4v4h-4zM384 824h4v4h-4zM376 844h4v4h-4zM368 880h4v4h-4zM360 924h4v4h-4zM356 956h4v4h-4zM356 960h4v4h-4z"/>
<path fill="#a278cc" d="M408 784h4v4h-4zM404 788h4v4h-4zM404 792h4v4h-4zM400 800h4v4h-4zM400 804h4v4h-4zM396 808h4v4h-4zM396 812h4v4h-4zM392 820h4v4h-4zM392 824h4v4h-4zM388 828h4v4h-4zM388 832h4v4h-4zM384 840h4v4h-4zM380 848h4v4h-4zM380 852h4v4h-4zM376 860h4v4h-4zM376 864h4v4h-4zM372 872h4v4h-4zM372 876h4v4h-4zM372 880h4v4h-4zM368 896h4v4h-4zM368 900h4v4h-4zM368 904h4v4h-4zM364 920h4v4h-4zM364 924h4v4h-4zM364 928h4v4h-4zM360 940h4v4h-4zM360 944h4v4h-4zM360 964h4v4h-4zM360 968h4v4h-4z"/>
<path fill="#a87ec6" d="M412 784h4v4h-4zM408 792h4v4h-4zM404 800h4v4h-4zM404 804h4v4h-4zM400 812h4v4h-4zM396 820h4v4h-4zM396 824h4v4h-4zM392 832h4v4h-4zM388 840h4v4h-4zM384 848h4v4h-4zM384 852h4v4h-4zM380 860h4v4h-4zM376 872h4v4h-4zM376 876h4v4h-4zM372 892h4v4h-4zM372 896h4v4h-4zM372 900h4v4h-4zM368 916h4v4h-4zM368 920h4v4h-4zM364 936h4v4h-4zM360 952h4v4h-4zM360 956h4v4h-4zM364 972h4v4h-4z"/>
<path fill="#a87ecc" d="M408 788h4v4h-4zM400 808h4v4h-4zM392 828h4v4h-4zM380 856h4v4h-4zM376 868h4v4h-4zM372 888h4v4h-4zM368 912h4v4h-4zM364 932h4v4h-4zM360 948h4v4h-4z"/>
<path fill="#ae7ec6" d="M412 788h4v4h-4zM408 796h4v4h-4zM404 808h4v4h-4zM400 816h4v4h-4zM396 828h4v4h-4zM392 836h4v4h-4zM388 844h4v4h-4zM384 856h4v4h-4zM380 864h4v4h-4zM380 868h4v4h-4zM376 880h4v4h-4zM376 884h4v4h-4zM372 904h4v4h-4zM372 908h4v4h-4zM368 924h4v4h-4zM368 928h4v4h-4zM364 940h4v4h-4zM364 964h4v4h-4zM364 968h4v4h-4z"/>
<path fill="#b48aba" d="M416 788h4v4h-4zM416 792h4v4h-4zM412 800h4v4h-4zM408 808h4v4h-4zM408 812h4v4h-4zM404 820h4v4h-4zM400 828h4v4h-4zM400 832h4v4h-4zM396 840h4v4h-4zM392 848h4v4h-4zM392 852h4v4h-4zM388 860h4v4h-4zM388 864h4v4h-4zM384 872h4v4h-4zM384 876h4v4h-4zM380 888h4v4h-4zM380 892h4v4h-4zM376 904h4v4h-4zM376 908h4v4h-4zM376 912h4v4h-4zM372 924h4v4h-4zM372 928h4v4h-4zM368 944h4v4h-4zM368 948h4v4h-4zM368 952h4v4h-4zM368 956h4v4h-4zM368 960h4v4h-4zM368 964h4v4h-4zM368 968h4v4h-4zM368 972h4v4h-4z"/>
<path fill="#ba90b4" d="M420 788h4v4h-4zM416 796h4v4h-4zM416 800h4v4h-4zM412 808h4v4h-4zM408 816h4v4h-4zM408 820h4v4h-4zM404 828h4v4h-4zM400 836h4v4h-4zM396 848h4v4h-4zM392 856h4v4h-4zM392 860h4v4h-4zM388 868h4v4h-4zM388 872h4v4h-4zM384 884h4v4h-4zM384 888h4v4h-4zM380 900h4v4h-4zM380 904h4v4h-4zM376 916h4v4h-4zM376 920h4v4h-4zM372 936h4v4h-4zM372 940h4v4h-4zM372 944h4v4h-4zM372 948h4v4h-4zM372 952h4v4h-4zM372 956h4v4h-4zM372 960h4v4h-4z"/>
<path fill="#724eea" d="M380 792h4v4h-4z"/>
<path fill="#ae84c0" d="M412 792h4v4h-4zM404 812h4v4h-4zM396 832h4v4h-4zM392 840h4v4h-4zM388 852h4v4h-4zM384 864h4v4h-4zM380 876h4v4h-4zM376 892h4v4h-4zM376 896h4v4h-4zM372 912h4v4h-4zM372 916h4v4h-4zM368 932h4v4h-4zM364 944h4v4h-4zM364 948h4v4h-4zM364 956h4v4h-4z"/>
<path fill="#c096ae" d="M420 792h4v4h-4zM420 796h4v4h-4zM416 804h4v4h-4zM412 816h4v4h-4zM408 824h4v4h-4zM404 832h4v4h-4zM404 836h4v4h-4zM400 844h4v4h-4zM396 852h4v4h-4zM396 856h4v4h-4zM392 864h4v4h-4zM392 868h4v4h-4zM388 880h4v4h-4zM388 884h4v4h-4zM384 896h4v4h-4zM380 912h4v4h-4zM376 928h4v4h-4zM376 932h4v4h-4z"/>
<path fill="#c69ca8" d="M424 792h4v4h-4zM416 812h4v4h-4zM408 832h4v4h-4zM400 852h4v4h-4zM396 864h4v4h-4zM392 876h4v4h-4zM388 892h4v4h-4zM384 904h4v4h-4zM380 920h4v4h-4zM376 952h4v4h-4zM376 956h4v4h-4zM376 960h4v4h-4z"/>
<path fill="#5a3cf0" d="M372 796h4v4h-4zM368 808h4v4h-4zM360 872h4v4h-4z"/>
<path fill="#9672d2" d="M396 796h4v4h-4zM372 860h4v4h-4zM364 900h4v4h-4z"/>
<path fill="#a278d2" d="M400 796h4v4h-4zM392 816h4v4h-4zM384 836h4v4h-4zM376 856h4v4h-4zM368 892h4v4h-4zM364 916h4v4h-4z"/>
<path fill="#a878cc" d="M404 796h4v4h-4zM396 816h4v4h-4zM388 836h4v4h-4zM384 844h4v4h-4zM372 884h4v4h-4zM368 908h4v4h-4zM360 960h4v4h-4z"/>
<path fill="#b484c0" d="M412 796h4v4h-4zM408 804h4v4h-4zM404 816h4v4h-4zM400 824h4v4h-4zM396 836h4v4h-4zM392 844h4v4h-4zM388 856h4v4h-4zM384 868h4v4h-4zM380 880h4v4h-4zM380 884h4v4h-4zM376 900h4v4h-4zM372 920h4v4h-4zM368 936h4v4h-4zM368 940h4v4h-4zM364 952h4v4h-4z"/>
<path fill="#c69ca2" d="M424 796h4v4h-4zM420 804h4v4h-4zM416 816h4v4h-4zM412 824h4v4h-4zM408 836h4v4h-4zM404 844h4v4h-4zM400 856h4v4h-4zM396 868h4v4h-4zM392 880h4v4h-4zM388 896h4v4h-4zM384 908h4v4h-4zM380 924h4v4h-4zM376 964h4v4h-4zM376 968h4v4h-4zM376 972h4v4h-4zM376 976h4v4h-4zM376 980h4v4h-4z"/>
<path fill="#cca896" d="M428 796h4v4h-4zM424 804h4v4h-4zM424 808h4v4h-4zM420 816h4v4h-4zM416 824h4v4h-4zM412 836h4v4h-4zM408 844h4v4h-4zM404 856h4v4h-4zM400 868h4v4h-4zM396 880h4v4h-4zM392 892h4v4h-4zM392 896h4v4h-4zM388 908h4v4h-4zM384 920h4v4h-4zM384 924h4v4h-4zM380 944h4v4h-4zM380 948h4v4h-4zM380 952h4v4h-4zM380 956h4v4h-4zM380 960h4v4h-4zM380 964h4v4h-4zM380 968h4v4h-4zM380 972h4v4h-4zM380 976h4v4h-4zM380 980h4v4h-4z"/>
<path fill="#d2ae8a" d="M432 796h4v4h-4zM428 804h4v4h-4zM420 824h4v4h-4zM412 844h4v4h-4zM408 852h4v4h-4zM404 864h4v4h-4zM400 876h4v4h-4zM396 892h4v4h-4zM392 904h4v4h-4zM388 916h4v4h-4zM384 932h4v4h-4z"/>
<path fill="#ae84c6" d="M408 800h4v4h-4zM400 820h4v4h-4zM388 848h4v4h-4zM384 860h4v4h-4zM380 872h4v4h-4zM376 888h4v4h-4zM364 960h4v4h-4z"/>
<path fill="#c09ca8" d="M420 800h4v4h-4zM412 820h4v4h-4zM404 840h4v4h-4zM376 948h4v4h-4z"/>
<path fill="#cca29c" d="M424 800h4v4h-4zM420 812h4v4h-4zM416 820h4v4h-4zM412 832h4v4h-4zM408 840h4v4h-4zM404 852h4v4h-4zM400 860h4v4h-4zM396 876h4v4h-4zM392 888h4v4h-4zM388 904h4v4h-4zM384 916h4v4h-4zM380 936h4v4h-4zM380 940h4v4h-4z"/>
<path fill="#d2ae90" d="M428 800h4v4h-4zM424 812h4v4h-4zM420 820h4v4h-4zM416 832h4v4h-4zM412 840h4v4h-4zM404 860h4v4h-4zM400 872h4v4h-4zM396 888h4v4h-4zM392 900h4v4h-4zM388 912h4v4h-4zM384 928h4v4h-4z"/>
<path fill="#d8b484" d="M432 800h4v4h-4zM424 820h4v4h-4zM420 828h4v4h-4zM416 840h4v4h-4zM412 848h4v4h-4zM408 860h4v4h-4zM404 872h4v4h-4zM400 884h4v4h-4zM396 896h4v4h-4zM392 908h4v4h-4zM388 920h4v4h-4zM388 924h4v4h-4zM384 944h4v4h-4zM384 948h4v4h-4zM384 952h4v4h-4zM384 956h4v4h-4zM384 960h4v4h-4zM384 964h4v4h-4zM384 968h4v4h-4zM384 972h4v4h-4zM384 976h4v4h-4zM384 980h4v4h-4z"/>
<path fill="#dec078" d="M436 800h4v4h-4zM428 820h4v4h-4zM424 828h4v4h-4zM416 848h4v4h-4zM412 860h4v4h-4zM408 872h4v4h-4zM404 884h4v4h-4zM400 896h4v4h-4zM396 908h4v4h-4zM392 920h4v4h-4zM388 936h4v4h-4z"/>
<path fill="#e4c66c" d="M440 800h4v4h-4zM436 808h4v4h-4zM432 820h4v4h-4zM428 828h4v4h-4zM424 836h4v4h-4zM420 848h4v4h-4zM416 856h4v4h-4zM412 868h4v4h-4zM408 880h4v4h-4zM404 892h4v4h-4zM400 904h4v4h-4zM396 916h4v4h-4zM392 928h4v4h-4z"/>
<path fill="#9066d8" d="M388 804h4v4h-4zM380 824h4v4h-4zM372 848h4v4h-4zM368 868h4v4h-4zM360 908h4v4h-4z"/>
<path fill="#ba8ab4" d="M412 804h4v4h-4zM404 824h4v4h-4zM396 844h4v4h-4z"/>
<path fill="#d8ba7e" d="M432 804h4v4h-4zM428 816h4v4h-4zM424 824h4v4h-4zM420 832h4v4h-4zM416 844h4v4h-4zM412 852h4v4h-4zM408 864h4v4h-4zM404 876h4v4h-4zM400 888h4v4h-4zM396 900h4v4h-4zM392 912h4v4h-4zM388 928h4v4h-4z"/>
<path fill="#dec072" d="M436 804h4v4h-4zM432 812h4v4h-4zM424 832h4v4h-4zM420 840h4v4h-4zM416 852h4v4h-4zM404 888h4v4h-4zM388 940h4v4h-4zM388 944h4v4h-4z"/>
<path fill="#e4cc66" d="M440 804h4v4h-4zM436 812h4v4h-4zM432 824h4v4h-4zM428 832h4v4h-4zM424 840h4v4h-4zM420 852h4v4h-4zM416 860h4v4h-4zM416 864h4v4h-4zM412 872h4v4h-4zM412 876h4v4h-4zM408 884h4v4h-4zM408 888h4v4h-4zM404 896h4v4h-4zM400 908h4v4h-4zM396 920h4v4h-4zM392 932h4v4h-4zM392 936h4v4h-4zM392 940h4v4h-4z"/>
<path fill="#ead25a" d="M444 804h4v4h-4zM440 812h4v4h-4zM432 832h4v4h-4zM428 840h4v4h-4zM420 860h4v4h-4zM416 872h4v4h-4zM412 884h4v4h-4zM408 896h4v4h-4zM400 916h4v4h-4zM396 928h4v4h-4z"/>
<path fill="#6648ea" d="M372 808h4v4h-4z"/>
<path fill="#c096a8" d="M416 808h4v4h-4zM408 828h4v4h-4zM400 848h4v4h-4zM396 860h4v4h-4zM392 872h4v4h-4zM388 888h4v4h-4zM384 900h4v4h-4zM380 916h4v4h-4zM376 936h4v4h-4zM376 940h4v4h-4zM376 944h4v4h-4z"/>
<path fill="#c6a2a2" d="M420 808h4v4h-4zM412 828h4v4h-4zM392 884h4v4h-4zM384 912h4v4h-4zM380 928h4v4h-4z"/>
<path fill="#d2b484" d="M428 808h4v4h-4zM404 868h4v4h-4zM384 940h4v4h-4z"/>
<path fill="#deba78" d="M432 808h4v4h-4zM420 836h4v4h-4zM412 856h4v4h-4zM408 868h4v4h-4zM388 932h4v4h-4z"/>
<path fill="#eacc60" d="M440 808h4v4h-4z"/>
<path fill="#ead854" d="M444 808h4v4h-4zM400 920h4v4h-4zM396 936h4v4h-4z"/>
<path fill="#f0de48" d="M448 808h4v4h-4zM444 816h4v4h-4zM436 836h4v4h-4zM432 844h4v4h-4zM428 856h4v4h-4zM424 864h4v4h-4zM420 876h4v4h-4zM416 888h4v4h-4zM408 908h4v4h-4zM400 932h4v4h-4z"/>
<path fill="#f6ea36" d="M452 808h4v4h-4zM448 816h4v4h-4zM440 836h4v4h-4zM424 876h4v4h-4zM420 888h4v4h-4zM408 916h4v4h-4zM404 928h4v4h-4zM400 956h4v4h-4zM400 960h4v4h-4zM400 964h4v4h-4zM400 968h4v4h-4zM400 972h4v4h-4zM400 976h4v4h-4z"/>
<path fill="#c090ae" d="M412 812h4v4h-4zM380 908h4v4h-4z"/>
<path fill="#d8ba84" d="M428 812h4v4h-4z"/>
<path fill="#f0de4e" d="M444 812h4v4h-4zM440 824h4v4h-4zM436 832h4v4h-4zM432 840h4v4h-4zM428 852h4v4h-4zM424 860h4v4h-4zM420 872h4v4h-4zM416 884h4v4h-4zM412 896h4v4h-4zM408 904h4v4h-4zM404 916h4v4h-4zM400 928h4v4h-4zM396 948h4v4h-4zM396 952h4v4h-4zM396 956h4v4h-4zM396 960h4v4h-4zM396 964h4v4h-4zM396 968h4v4h-4zM396 972h4v4h-4zM396 976h4v4h-4z"/>
<path fill="#f6e43c" d="M448 812h4v4h-4zM444 824h4v4h-4zM440 832h4v4h-4zM432 852h4v4h-4zM428 860h4v4h-4zM424 872h4v4h-4zM420 884h4v4h-4zM412 904h4v4h-4zM408 912h4v4h-4zM404 924h4v4h-4zM400 944h4v4h-4zM400 948h4v4h-4z"/>
<path fill="#f6ea2a" d="M452 812h4v4h-4zM444 832h4v4h-4zM440 840h4v4h-4zM432 860h4v4h-4zM420 892h4v4h-4zM408 920h4v4h-4zM404 936h4v4h-4z"/>
<path fill="#fcf618" d="M456 812h4v4h-4zM448 832h4v4h-4zM444 840h4v4h-4zM436 860h4v4h-4zM432 872h4v4h-4zM428 880h4v4h-4zM424 892h4v4h-4zM420 900h4v4h-4zM412 920h4v4h-4zM408 932h4v4h-4zM404 964h4v4h-4zM404 968h4v4h-4zM404 972h4v4h-4z"/>
<path fill="#fcfc0c" d="M460 812h4v4h-4zM456 820h4v4h-4zM452 828h4v4h-4zM440 856h4v4h-4zM428 888h4v4h-4zM416 916h4v4h-4zM408 944h4v4h-4z"/>
<path fill="#d2b48a" d="M424 816h4v4h-4zM416 836h4v4h-4zM408 856h4v4h-4zM400 880h4v4h-4zM384 936h4v4h-4z"/>
<path fill="#dec66c" d="M432 816h4v4h-4zM388 956h4v4h-4zM388 960h4v4h-4zM388 964h4v4h-4z"/>
<path fill="#e4cc60" d="M436 816h4v4h-4zM424 844h4v4h-4zM404 900h4v4h-4z"/>
<path fill="#ead85a" d="M440 816h4v4h-4zM436 824h4v4h-4zM428 844h4v4h-4zM424 852h4v4h-4zM420 864h4v4h-4zM416 876h4v4h-4zM412 888h4v4h-4zM404 908h4v4h-4zM396 932h4v4h-4z"/>
<path fill="#f6f024" d="M452 816h4v4h-4zM444 836h4v4h-4zM440 844h4v4h-4zM432 864h4v4h-4zM428 876h4v4h-4zM420 896h4v4h-4zM416 904h4v4h-4zM408 924h4v4h-4zM404 944h4v4h-4zM404 948h4v4h-4z"/>
<path fill="#fcf612" d="M456 816h4v4h-4zM452 824h4v4h-4zM448 836h4v4h-4zM444 844h4v4h-4zM440 852h4v4h-4zM436 864h4v4h-4zM428 884h4v4h-4zM420 904h4v4h-4zM416 912h4v4h-4zM408 936h4v4h-4zM408 940h4v4h-4z"/>
<path fill="#fcfc00" d="M460 816h4v4h-4zM460 820h4v4h-4zM456 828h4v4h-4zM452 836h4v4h-4zM452 840h4v4h-4zM448 844h4v4h-4zM448 848h4v4h-4zM444 852h4v4h-4zM444 856h4v4h-4zM440 860h4v4h-4zM440 864h4v4h-4zM440 868h4v4h-4zM436 872h4v4h-4zM436 876h4v4h-4zM432 884h4v4h-4zM432 888h4v4h-4zM428 896h4v4h-4zM424 904h4v4h-4zM424 908h4v4h-4zM420 912h4v4h-4zM420 916h4v4h-4zM416 920h4v4h-4zM416 924h4v4h-4zM412 932h4v4h-4zM412 936h4v4h-4zM412 940h4v4h-4zM408 956h4v4h-4zM408 960h4v4h-4zM408 964h4v4h-4zM408 968h4v4h-4zM408 972h4v4h-4z"/>
<path fill="#fcf600" d="M464 816h4v4h-4zM464 820h4v4h-4zM460 824h4v4h-4zM460 828h4v4h-4zM456 832h4v4h-4zM456 836h4v4h-4zM452 844h4v4h-4zM448 852h4v4h-4zM444 860h4v4h-4zM444 864h4v4h-4zM440 872h4v4h-4zM436 880h4v4h-4zM436 884h4v4h-4zM432 892h4v4h-4zM432 896h4v4h-4zM428 900h4v4h-4zM428 904h4v4h-4zM424 912h4v4h-4zM420 920h4v4h-4zM416 928h4v4h-4zM416 932h4v4h-4zM412 944h4v4h-4zM412 948h4v4h-4zM412 952h4v4h-4zM412 956h4v4h-4zM412 972h4v4h-4z"/>
<path fill="#7854ea" d="M372 820h4v4h-4zM364 860h4v4h-4z"/>
<path fill="#ead260" d="M436 820h4v4h-4zM432 828h4v4h-4zM428 836h4v4h-4zM424 848h4v4h-4zM420 856h4v4h-4zM416 868h4v4h-4zM412 880h4v4h-4zM408 892h4v4h-4zM404 904h4v4h-4zM400 912h4v4h-4zM396 924h4v4h-4zM392 944h4v4h-4zM392 948h4v4h-4zM392 952h4v4h-4zM392 956h4v4h-4zM392 960h4v4h-4zM392 964h4v4h-4zM392 968h4v4h-4zM392 972h4v4h-4zM392 976h4v4h-4z"/>
<path fill="#f0d854" d="M440 820h4v4h-4zM436 828h4v4h-4zM432 836h4v4h-4zM428 848h4v4h-4zM424 856h4v4h-4zM420 868h4v4h-4zM416 880h4v4h-4zM412 892h4v4h-4zM408 900h4v4h-4zM404 912h4v4h-4zM400 924h4v4h-4zM396 940h4v4h-4zM396 944h4v4h-4z"/>
<path fill="#f0e442" d="M444 820h4v4h-4zM440 828h4v4h-4zM432 848h4v4h-4zM424 868h4v4h-4zM420 880h4v4h-4zM412 900h4v4h-4zM404 920h4v4h-4zM400 936h4v4h-4z"/>
<path fill="#f6ea30" d="M448 820h4v4h-4zM444 828h4v4h-4zM436 848h4v4h-4zM432 856h4v4h-4zM428 868h4v4h-4zM424 880h4v4h-4zM416 900h4v4h-4zM412 908h4v4h-4zM404 932h4v4h-4z"/>
<path fill="#fcf01e" d="M452 820h4v4h-4zM448 828h4v4h-4zM440 848h4v4h-4zM436 856h4v4h-4zM432 868h4v4h-4zM424 888h4v4h-4zM416 908h4v4h-4zM412 916h4v4h-4zM408 928h4v4h-4zM404 952h4v4h-4zM404 956h4v4h-4zM404 960h4v4h-4z"/>
<path fill="#fcf000" d="M468 820h4v4h-4zM464 824h4v4h-4zM464 828h4v4h-4zM460 832h4v4h-4zM456 840h4v4h-4zM452 848h4v4h-4zM448 856h4v4h-4zM448 860h4v4h-4zM444 868h4v4h-4zM440 876h4v4h-4zM440 880h4v4h-4zM436 888h4v4h-4zM436 892h4v4h-4zM432 900h4v4h-4zM428 908h4v4h-4zM424 916h4v4h-4zM420 924h4v4h-4zM420 928h4v4h-4zM416 936h4v4h-4zM416 940h4v4h-4zM416 944h4v4h-4zM412 960h4v4h-4zM412 964h4v4h-4zM412 968h4v4h-4z"/>
<path fill="#fcea00" d="M472 820h4v4h-4zM468 824h4v4h-4zM464 832h4v4h-4zM460 836h4v4h-4zM460 840h4v4h-4zM456 844h4v4h-4zM456 848h4v4h-4zM452 852h4v4h-4zM452 856h4v4h-4zM448 864h4v4h-4zM444 872h4v4h-4zM444 876h4v4h-4zM440 884h4v4h-4zM440 888h4v4h-4zM436 896h4v4h-4zM432 904h4v4h-4zM428 912h4v4h-4zM424 920h4v4h-4zM420 932h4v4h-4zM420 936h4v4h-4zM416 948h4v4h-4zM416 952h4v4h-4zM416 956h4v4h-4zM416 960h4v4h-4zM416 964h4v4h-4zM416 968h4v4h-4z"/>
<path fill="#dec672" d="M428 824h4v4h-4zM420 844h4v4h-4zM412 864h4v4h-4zM408 876h4v4h-4zM400 900h4v4h-4zM396 912h4v4h-4zM392 924h4v4h-4zM388 948h4v4h-4zM388 952h4v4h-4zM388 968h4v4h-4zM388 972h4v4h-4zM388 976h4v4h-4z"/>
<path fill="#f6f02a" d="M448 824h4v4h-4zM436 852h4v4h-4zM428 872h4v4h-4zM424 884h4v4h-4zM412 912h4v4h-4zM404 940h4v4h-4z"/>
<path fill="#fcfc06" d="M456 824h4v4h-4zM452 832h4v4h-4zM448 840h4v4h-4zM444 848h4v4h-4zM436 868h4v4h-4zM432 880h4v4h-4zM428 892h4v4h-4zM424 900h4v4h-4zM420 908h4v4h-4zM412 928h4v4h-4zM408 948h4v4h-4zM408 952h4v4h-4z"/>
<path fill="#fce400" d="M472 824h4v4h-4zM468 828h4v4h-4zM468 832h4v4h-4zM464 836h4v4h-4zM464 840h4v4h-4zM460 844h4v4h-4zM456 852h4v4h-4zM452 860h4v4h-4zM448 868h4v4h-4zM448 872h4v4h-4zM444 880h4v4h-4zM444 884h4v4h-4zM440 892h4v4h-4zM436 900h4v4h-4zM432 908h4v4h-4zM428 916h4v4h-4zM424 924h4v4h-4zM424 928h4v4h-4zM420 940h4v4h-4zM420 944h4v4h-4z"/>
<path fill="#fcde00" d="M476 824h4v4h-4zM472 828h4v4h-4zM472 832h4v4h-4zM468 836h4v4h-4zM464 844h4v4h-4zM460 848h4v4h-4zM460 852h4v4h-4zM456 856h4v4h-4zM456 860h4v4h-4zM452 864h4v4h-4zM452 868h4v4h-4zM448 876h4v4h-4zM448 880h4v4h-4zM444 888h4v4h-4zM440 896h4v4h-4zM436 904h4v4h-4zM432 912h4v4h-4zM428 920h4v4h-4zM424 932h4v4h-4zM424 936h4v4h-4zM420 948h4v4h-4zM420 952h4v4h-4zM420 956h4v4h-4zM420 960h4v4h-4zM420 964h4v4h-4zM420 968h4v4h-4z"/>
<path fill="#fcd800" d="M480 824h4v4h-4zM476 828h4v4h-4zM476 832h4v4h-4zM472 836h4v4h-4zM468 840h4v4h-4zM468 844h4v4h-4zM464 848h4v4h-4zM460 856h4v4h-4zM456 864h4v4h-4zM452 872h4v4h-4zM452 876h4v4h-4zM448 884h4v4h-4zM444 892h4v4h-4zM440 900h4v4h-4zM436 908h4v4h-4zM432 916h4v4h-4zM428 924h4v4h-4zM428 928h4v4h-4zM424 940h4v4h-4zM424 944h4v4h-4zM424 948h4v4h-4zM424 952h4v4h-4z"/>
<path fill="#cca890" d="M416 828h4v4h-4zM396 884h4v4h-4z"/>
<path fill="#fcd200" d="M480 828h4v4h-4zM480 832h4v4h-4zM476 836h4v4h-4zM472 840h4v4h-4zM472 844h4v4h-4zM468 848h4v4h-4zM464 852h4v4h-4zM464 856h4v4h-4zM460 860h4v4h-4zM460 864h4v4h-4zM456 868h4v4h-4zM456 872h4v4h-4zM452 880h4v4h-4zM452 884h4v4h-4zM448 888h4v4h-4zM448 892h4v4h-4zM444 896h4v4h-4zM444 900h4v4h-4zM440 904h4v4h-4zM436 912h4v4h-4zM432 920h4v4h-4zM428 932h4v4h-4zM428 936h4v4h-4zM428 940h4v4h-4zM424 956h4v4h-4zM424 960h4v4h-4zM424 964h4v4h-4zM424 968h4v4h-4z"/>
<path fill="#fccc00" d="M484 828h4v4h-4zM484 832h4v4h-4zM480 836h4v4h-4zM476 840h4v4h-4zM476 844h4v4h-4zM472 848h4v4h-4zM468 852h4v4h-4zM468 856h4v4h-4zM464 860h4v4h-4zM464 864h4v4h-4zM460 868h4v4h-4zM460 872h4v4h-4zM456 876h4v4h-4zM456 880h4v4h-4zM452 888h4v4h-4zM448 896h4v4h-4zM440 908h4v4h-4zM436 916h4v4h-4zM432 924h4v4h-4zM432 928h4v4h-4zM432 932h4v4h-4zM428 944h4v4h-4zM428 948h4v4h-4zM428 952h4v4h-4zM428 956h4v4h-4zM428 960h4v4h-4zM428 964h4v4h-4z"/>
<path fill="#8460e4" d="M372 832h4v4h-4z"/>
<path fill="#fcc600" d="M488 832h4v4h-4zM484 836h4v4h-4zM480 840h4v4h-4zM480 844h4v4h-4zM476 848h4v4h-4zM472 852h4v4h-4zM472 856h4v4h-4zM468 860h4v4h-4zM468 864h4v4h-4zM464 868h4v4h-4zM464 872h4v4h-4zM460 876h4v4h-4zM460 880h4v4h-4zM456 884h4v4h-4zM456 888h4v4h-4zM452 892h4v4h-4zM448 900h4v4h-4zM444 904h4v4h-4zM440 912h4v4h-4zM436 920h4v4h-4zM436 924h4v4h-4zM432 936h4v4h-4zM432 940h4v4h-4zM432 944h4v4h-4zM432 948h4v4h-4zM432 952h4v4h-4zM432 956h4v4h-4z"/>
<path fill="#fcc000" d="M492 832h4v4h-4zM488 836h4v4h-4zM484 840h4v4h-4zM484 844h4v4h-4zM480 848h4v4h-4zM476 852h8v4h-8zM476 856h4v4h-4zM472 860h4v4h-4zM472 864h4v4h-4zM468 868h4v4h-4zM468 872h4v4h-4zM464 876h4v4h-4zM464 880h4v4h-4zM460 884h4v4h-4zM460 888h4v4h-4zM456 892h4v4h-4zM452 896h4v4h-4zM448 904h4v4h-4zM444 908h4v4h-4zM440 916h4v4h-4zM436 928h4v4h-4zM436 932h4v4h-4zM436 936h4v4h-4zM432 960h4v4h-4zM432 964h4v4h-4z"/>
<path fill="#fcba00" d="M492 836h4v4h-4zM488 840h4v4h-4zM488 844h4v4h-4zM484 848h4v4h-4zM484 852h4v4h-4zM480 856h4v4h-4zM476 860h8v4h-8zM476 864h4v4h-4zM472 868h8v4h-8zM472 872h4v4h-4zM468 876h8v4h-8zM468 880h4v4h-4zM464 884h4v4h-4zM464 888h4v4h-4zM460 892h4v4h-4zM456 896h4v4h-4zM452 900h4v4h-4zM448 908h4v4h-4zM444 912h4v4h-4zM440 920h4v4h-4zM440 924h4v4h-4zM436 940h4v4h-4zM436 944h4v4h-4zM436 948h4v4h-4zM436 952h4v4h-4zM436 956h4v4h-4zM436 960h4v4h-4zM436 964h4v4h-4z"/>
<path fill="#fcb400" d="M496 836h4v4h-4zM492 840h4v4h-4zM492 844h4v4h-4zM488 848h4v4h-4zM488 852h4v4h-4zM484 856h4v4h-4zM484 860h4v4h-4zM480 864h4v4h-4zM480 868h4v4h-4zM476 872h4v4h-4zM476 876h4v4h-4zM472 880h4v4h-4zM468 884h8v4h-8zM468 888h4v4h-4zM464 892h4v4h-4zM460 896h4v4h-4zM456 900h4v4h-4zM452 904h4v4h-4zM448 912h4v4h-4zM444 916h4v4h-4zM444 920h4v4h-4zM440 928h4v4h-4zM440 932h4v4h-4zM440 936h4v4h-4zM440 940h4v4h-4zM440 944h4v4h-4zM440 948h4v4h-4zM440 952h4v4h-4zM440 956h4v4h-4zM440 960h4v4h-4zM440 964h4v4h-4z"/>
<path fill="#ba90ae" d="M400 840h4v4h-4zM388 876h4v4h-4zM384 892h4v4h-4zM376 924h4v4h-4zM372 964h4v4h-4zM372 968h4v4h-4zM372 972h4v4h-4zM372 976h4v4h-4z"/>
<path fill="#f6e442" d="M436 840h4v4h-4zM416 892h4v4h-4zM400 940h4v4h-4z"/>
<path fill="#fcae00" d="M496 840h4v4h-4zM496 844h4v4h-4zM492 848h4v4h-4zM492 852h4v4h-4zM488 856h4v4h-4zM488 860h4v4h-4zM484 864h4v4h-4zM484 868h4v4h-4zM480 872h4v4h-4zM480 876h4v4h-4zM476 880h4v4h-4zM476 884h4v4h-4zM472 888h4v4h-4zM468 892h4v4h-4zM464 896h4v4h-4zM460 900h4v4h-4zM456 904h4v4h-4zM452 908h4v4h-4zM448 916h4v4h-4zM444 924h4v4h-4zM444 928h4v4h-4zM444 932h4v4h-4z"/>
<path fill="#fca800" d="M500 840h4v4h-4zM500 844h4v4h-4zM496 848h4v4h-4zM496 852h4v4h-4zM492 856h4v4h-4zM492 860h4v4h-4zM488 864h4v4h-4zM488 868h4v4h-4zM484 872h4v4h-4zM484 876h4v4h-4zM480 880h4v4h-4zM480 884h4v4h-4zM476 888h4v4h-4zM472 892h4v4h-4zM468 896h4v4h-4zM464 900h4v4h-4zM460 904h4v4h-4zM456 908h4v4h-4zM452 912h4v4h-4zM452 916h4v4h-4zM448 920h4v4h-4zM448 924h4v4h-4zM444 936h4v4h-4zM444 940h4v4h-4zM444 944h4v4h-4zM444 948h4v4h-4zM444 952h4v4h-4zM444 956h4v4h-4zM444 960h4v4h-4z"/>
<path fill="#fca200" d="M504 840h4v4h-4zM500 848h4v4h-4zM496 856h4v4h-4zM492 864h4v4h-4zM492 868h4v4h-4zM488 872h4v4h-4zM488 876h4v4h-4zM484 880h4v4h-4zM480 888h4v4h-4zM476 892h4v4h-4zM472 896h4v4h-4zM468 900h4v4h-4zM464 904h4v4h-4zM460 908h4v4h-4zM456 912h4v4h-4zM452 920h4v4h-4zM448 928h4v4h-4zM448 932h4v4h-4zM448 936h4v4h-4zM448 940h4v4h-4zM448 944h4v4h-4zM448 948h4v4h-4zM448 952h4v4h-4zM448 956h4v4h-4zM448 960h4v4h-4z"/>
<path fill="#f6e436" d="M436 844h4v4h-4zM428 864h4v4h-4zM416 896h4v4h-4zM400 952h4v4h-4z"/>
<path fill="#fc9c00" d="M504 844h4v4h-4zM504 848h4v4h-4zM500 852h4v4h-4zM500 856h4v4h-4zM496 860h4v4h-4zM496 864h4v4h-4zM492 872h4v4h-4zM488 880h4v4h-4zM484 884h4v4h-4zM480 892h4v4h-4zM476 896h4v4h-4zM472 900h4v4h-4zM468 904h4v4h-4zM464 908h4v4h-4zM460 912h4v4h-4zM456 916h4v4h-4zM456 920h4v4h-4zM452 924h4v4h-4zM452 928h4v4h-4zM452 932h4v4h-4zM452 936h4v4h-4zM452 940h4v4h-4zM452 944h4v4h-4zM452 948h4v4h-4zM452 952h4v4h-4zM452 956h4v4h-4zM452 960h4v4h-4z"/>
<path fill="#fc9600" d="M508 844h4v4h-4zM504 852h4v4h-4zM500 860h4v4h-4zM496 868h4v4h-4zM492 876h4v4h-4zM488 884h4v4h-4zM484 888h4v4h-4zM480 896h4v4h-4zM476 900h4v4h-4zM472 904h4v4h-4zM468 908h4v4h-4zM464 912h4v4h-4zM460 916h4v4h-4zM456 924h4v4h-4zM456 928h4v4h-4zM456 932h4v4h-4z"/>
<path fill="#fc9000" d="M512 844h4v4h-4zM508 848h4v4h-4zM504 856h4v4h-4zM500 864h4v4h-4zM496 872h4v4h-4zM496 876h4v4h-4zM492 880h4v4h-4zM488 888h4v4h-4zM484 892h4v4h-4zM476 904h4v4h-4zM472 908h4v4h-4zM468 912h4v4h-4zM464 916h4v4h-4zM460 920h4v4h-4zM460 924h4v4h-4zM460 928h4v4h-4zM456 936h4v4h-4zM456 940h4v4h-4zM456 944h4v4h-4zM456 948h4v4h-4zM456 952h4v4h-4zM456 956h4v4h-4z"/>
<path fill="#c6a29c" d="M404 848h4v4h-4zM396 872h4v4h-4zM388 900h4v4h-4zM380 932h4v4h-4z"/>
<path fill="#d2a890" d="M408 848h4v4h-4z"/>
<path fill="#fc8a00" d="M512 848h4v4h-4zM508 852h4v4h-4zM504 860h4v4h-4zM504 864h4v4h-4zM500 868h4v4h-4zM500 872h4v4h-4zM496 880h4v4h-4zM492 884h4v4h-4zM488 892h4v4h-4zM484 896h4v4h-4zM480 900h4v4h-4zM472 912h4v4h-4zM468 916h4v4h-4zM464 920h4v4h-4zM464 924h4v4h-4zM460 932h4v4h-4zM460 936h4v4h-4zM460 940h4v4h-4zM460 944h4v4h-4zM460 948h4v4h-4zM460 952h4v4h-4zM460 956h4v4h-4z"/>
<path fill="#fc7e00" d="M516 848h4v4h-4zM512 856h4v4h-4zM508 864h4v4h-4zM504 872h4v4h-4zM500 880h4v4h-4zM496 884h4v4h-4zM492 892h4v4h-4zM488 896h4v4h-4zM484 904h4v4h-4zM480 908h4v4h-4zM476 912h4v4h-4zM476 916h4v4h-4zM472 920h4v4h-4zM468 924h4v4h-4zM468 928h4v4h-4zM468 932h4v4h-4zM468 936h4v4h-4zM464 948h4v4h-4zM464 952h4v4h-4zM464 956h4v4h-4z"/>
<path fill="#fc8400" d="M512 852h4v4h-4zM508 856h4v4h-4zM508 860h4v4h-4zM504 868h4v4h-4zM500 876h4v4h-4zM492 888h4v4h-4zM484 900h4v4h-4zM480 904h4v4h-4zM476 908h4v4h-4zM472 916h4v4h-4zM468 920h4v4h-4zM464 928h4v4h-4zM464 932h4v4h-4zM464 936h4v4h-4zM464 940h4v4h-4zM464 944h4v4h-4z"/>
<path fill="#fc7800" d="M516 852h4v4h-4zM512 860h4v4h-4zM508 868h4v4h-4zM504 876h4v4h-4zM500 884h4v4h-4zM496 888h4v4h-4zM488 900h4v4h-4zM484 908h4v4h-4zM480 912h4v4h-4zM476 920h4v4h-4zM472 924h4v4h-4zM472 928h4v4h-4zM472 932h4v4h-4zM468 940h4v4h-4zM468 944h4v4h-4zM468 948h4v4h-4zM468 952h4v4h-4z"/>
<path fill="#fc7200" d="M520 852h8v4h-8zM516 856h4v4h-4zM516 860h4v4h-4zM512 864h4v4h-4zM512 868h4v4h-4zM508 872h4v4h-4zM508 876h4v4h-4zM504 880h4v4h-4zM500 888h4v4h-4zM496 892h4v4h-4zM492 896h4v4h-4zM488 904h4v4h-4zM484 912h4v4h-4zM480 916h4v4h-4zM480 920h4v4h-4zM476 924h4v4h-4zM476 928h4v4h-4zM472 936h4v4h-4zM472 940h4v4h-4zM472 944h4v4h-4zM472 948h4v4h-4zM472 952h4v4h-4z"/>
<path fill="#fc6c00" d="M520 856h16v4h-16zM520 860h4v4h-4zM516 864h4v4h-4zM512 872h4v4h-4zM508 880h4v4h-4zM504 884h4v4h-4zM496 896h4v4h-4zM492 900h4v4h-4zM488 908h4v4h-4zM484 916h4v4h-4zM480 924h4v4h-4zM476 932h4v4h-4zM476 936h4v4h-4zM476 940h4v4h-4zM476 944h4v4h-4z"/>
<path fill="#fc6600" d="M524 860h16v4h-16zM520 864h20v4h-20zM544 864h4v4h-4zM516 868h8v4h-8zM516 872h4v4h-4zM512 876h4v4h-4zM512 880h4v4h-4zM508 884h4v4h-4zM504 888h4v4h-4zM500 892h4v4h-4zM496 900h4v4h-4zM492 904h4v4h-4zM492 908h4v4h-4zM488 912h4v4h-4zM488 916h4v4h-4zM484 920h4v4h-4zM484 924h4v4h-4zM480 928h4v4h-4zM480 932h4v4h-4zM480 936h4v4h-4zM476 948h4v4h-4zM476 952h4v4h-4z"/>
<path fill="#cca89c" d="M400 864h4v4h-4z"/>
<path fill="#fc6000" d="M540 864h4v4h-4zM524 868h32v4h-32zM520 872h16v4h-16zM540 872h20v4h-20zM516 876h8v4h-8zM548 876h20v4h-20zM516 880h4v4h-4zM552 880h24v4h-24zM512 884h4v4h-4zM556 884h24v4h-24zM508 888h4v4h-4zM584 888h4v4h-4zM504 892h4v4h-4zM592 892h4v4h-4zM500 896h4v4h-4zM496 904h4v4h-4zM496 908h4v4h-4zM492 912h4v4h-4zM492 916h4v4h-4zM488 920h4v4h-4zM488 924h4v4h-4zM484 928h4v4h-4zM484 932h4v4h-4zM480 940h4v4h-4zM480 944h4v4h-4zM480 948h4v4h-4zM480 952h4v4h-4z"/>
<path fill="#fc5a00" d="M536 872h4v4h-4zM524 876h24v4h-24zM520 880h32v4h-32zM516 884h12v4h-12zM540 884h16v4h-16zM512 888h8v4h-8zM544 888h40v4h-40zM508 892h8v4h-8zM552 892h40v4h-40zM504 896h8v4h-8zM560 896h40v4h-40zM500 900h8v4h-8zM576 900h32v4h-32zM500 904h4v4h-4zM584 904h32v4h-32zM500 908h4v4h-4zM600 908h8v4h-8zM496 912h4v4h-4zM496 916h4v4h-4zM492 920h4v4h-4zM492 924h4v4h-4zM488 928h4v4h-4zM488 932h4v4h-4zM484 936h4v4h-4zM484 940h4v4h-4zM484 944h4v4h-4zM484 948h4v4h-4z"/>
<path fill="#fcf60c" d="M432 876h4v4h-4zM424 896h4v4h-4zM412 924h4v4h-4z"/>
<path fill="#ba8aba" d="M384 880h4v4h-4zM380 896h4v4h-4zM372 932h4v4h-4z"/>
<path fill="#d8ba78" d="M404 880h4v4h-4zM400 892h4v4h-4zM396 904h4v4h-4zM392 916h4v4h-4z"/>
<path fill="#fc5400" d="M528 884h12v4h-12zM520 888h24v4h-24zM516 892h36v4h-36zM512 896h48v4h-48zM508 900h12v4h-12zM540 900h36v4h-36zM504 904h8v4h-8zM552 904h32v4h-32zM504 908h4v4h-4zM568 908h32v4h-32zM608 908h12v4h-12zM500 912h8v4h-8zM580 912h36v4h-36zM500 916h4v4h-4zM592 916h12v4h-12zM496 920h4v4h-4zM496 924h4v4h-4zM492 928h4v4h-4zM488 936h4v4h-4zM488 940h4v4h-4zM488 944h4v4h-4z"/>
<path fill="#8a60de" d="M360 900h4v4h-4zM356 928h4v4h-4z"/>
<path fill="#fc4e00" d="M520 900h20v4h-20zM512 904h40v4h-40zM508 908h60v4h-60zM508 912h28v4h-28zM544 912h36v4h-36zM504 916h20v4h-20zM564 916h28v4h-28zM500 920h12v4h-12zM576 920h12v4h-12zM500 924h4v4h-4zM496 928h4v4h-4zM492 932h4v4h-4zM492 936h4v4h-4zM492 940h4v4h-4zM488 948h4v4h-4z"/>
<path fill="#fc4800" d="M536 912h8v4h-8zM524 916h40v4h-40zM512 920h24v4h-24zM544 920h32v4h-32zM504 924h20v4h-20zM564 924h12v4h-12zM500 928h8v4h-8zM496 932h4v4h-4zM496 936h4v4h-4zM492 944h4v4h-4zM492 948h4v4h-4z"/>
<path fill="#fc4200" d="M536 920h8v4h-8zM524 924h40v4h-40zM508 928h16v4h-16zM552 928h12v4h-12zM500 932h8v4h-8zM500 936h4v4h-4zM496 940h4v4h-4zM496 944h4v4h-4z"/>
<path fill="#fc3c00" d="M524 928h28v4h-28zM508 932h4v4h-4zM544 932h4v4h-4zM504 936h4v4h-4zM500 940h4v4h-4zM500 944h4v4h-4z"/>
<path fill="#fc3600" d="M512 932h32v4h-32zM508 936h4v4h-4zM504 940h4v4h-4zM504 944h4v4h-4z"/>
<path fill="#fc3000" d="M512 936h8v4h-8zM528 936h8v4h-8zM508 940h4v4h-4z"/>
<path fill="#fc2a00" d="M520 936h8v4h-8zM512 940h12v4h-12z"/>
</g>
<path fill="none" stroke="#111" stroke-width="0.9" d="M352.8 983.0L353.0 969.0L353.6 961.0L354.7 956.0L357.3 950.0L356.0 941.0L355.7 934.0L355.9 925.0L356.8 916.0L358.2 907.0L360.0 899.0L366.2 880.0L367.0 860.4L370.9 837.0L372.6 830.0L375.0 822.9L392.7 778.0L395.6 766.0M361.5 983.0L359.3 960.0L359.3 955.0L360.4 950.0L361.0 942.5L366.0 912.0L374.0 869.1L376.6 859.0L380.0 848.9L406.3 784.0L412.3 766.0M371.6 983.0L370.8 970.0L371.0 957.0L371.3 950.0L372.4 941.0L376.5 919.0L386.3 878.0L389.7 866.0L394.1 853.0L418.1 793.0L428.4 766.0M382.6 983.0L382.5 958.0L383.3 944.0L385.2 930.0L388.4 917.0L402.9 869.0L407.3 856.0L430.3 800.0L445.0 766.0M393.2 983.0L392.4 963.0L392.8 951.0L395.0 935.0L398.3 922.0L409.3 892.0L420.0 860.2L426.0 844.9L443.4 805.0L462.9 766.0M404.8 983.0L404.6 974.0L405.0 963.0L406.3 947.0L408.5 933.0L411.7 922.0L425.1 891.0L438.2 856.0L455.3 816.0L463.0 801.3L483.0 766.0M417.5 983.0L416.8 966.0L417.4 955.0L421.1 937.0L423.1 930.0L425.7 923.0L439.6 893.0L451.0 862.3L456.0 851.2L483.0 802.8L493.0 786.3L506.0 766.0M432.0 983.0L431.9 965.0L433.7 942.0L436.1 928.0L437.6 923.0L439.6 918.0L443.0 911.8L451.3 899.0L455.4 892.0L468.6 864.0L472.0 857.7L480.5 846.0L497.9 816.0L505.5 804.0L516.0 789.1L533.4 766.0M453.1 983.0L454.4 961.0L454.0 950.0L454.6 937.0L455.5 931.0L456.8 926.0L458.6 921.0L460.6 917.0L464.5 912.0L473.0 904.8L478.0 899.7L484.0 892.6L488.0 887.1L493.0 878.3L510.0 843.2L513.8 837.0L518.0 831.2L529.0 819.0L553.2 796.0L562.2 787.0L571.3 777.0L580.2 766.0M506.9 983.0L505.5 973.0L504.9 964.0L504.9 956.0L505.7 950.0L507.2 945.0L509.5 941.0L513.8 937.0L517.0 935.4L524.0 934.3L529.0 934.7L538.0 938.2L564.0 945.5L575.0 948.3L585.0 950.1L593.0 950.8L601.0 950.8L609.0 949.9L616.0 948.3"/>
</g>
<path fill="none" stroke="#000" stroke-width="1.3" stroke-dasharray="4.2 2.8" d="M349.1 990.1L381.2 758.0M349.1 990.1L413.2 758.0M349.1 990.1L477.4 758.0M349.1 990.1L605.7 758.0M349.1 990.1L634.9 860.8M349.1 990.1L613.8 910.3"/>
<g fill="#000"><circle cx="379.7" cy="768.8" r="2.15"/><circle cx="364.4" cy="879.5" r="2.15"/><circle cx="356.7" cy="934.8" r="2.15"/><circle cx="352.9" cy="962.4" r="2.15"/><circle cx="405.9" cy="784.6" r="2.15"/><circle cx="377.5" cy="887.4" r="2.15"/><circle cx="363.3" cy="938.7" r="2.15"/><circle cx="356.2" cy="964.4" r="2.15"/><circle cx="448.4" cy="810.4" r="2.15"/><circle cx="398.8" cy="900.2" r="2.15"/><circle cx="373.9" cy="945.2" r="2.15"/><circle cx="361.5" cy="967.6" r="2.15"/><circle cx="508.0" cy="846.4" r="2.15"/><circle cx="428.5" cy="918.2" r="2.15"/><circle cx="388.8" cy="954.2" r="2.15"/><circle cx="369.0" cy="972.1" r="2.15"/><circle cx="576.0" cy="887.5" r="2.15"/><circle cx="462.6" cy="938.8" r="2.15"/><circle cx="405.8" cy="964.4" r="2.15"/><circle cx="377.5" cy="977.3" r="2.15"/><circle cx="613.8" cy="910.3" r="2.15"/><circle cx="481.4" cy="950.2" r="2.15"/><circle cx="415.3" cy="970.1" r="2.15"/><circle cx="382.2" cy="980.1" r="2.15"/></g>
<g font-size="10" fill="#111"><text x="0" y="3.6" transform="translate(374.1 767.1) rotate(-82.1)" text-anchor="middle">1:16</text><text x="0" y="3.6" transform="translate(404.6 769.3) rotate(-74.6)" text-anchor="middle">1:8</text><text x="0" y="3.6" transform="translate(447.8 797.3) rotate(-61.1)" text-anchor="middle">1:4</text><text x="0" y="3.6" transform="translate(510.7 835.7) rotate(-42.1)" text-anchor="middle">1:2</text><text x="0" y="3.6" transform="translate(580.8 880.5) rotate(-24.3)" text-anchor="middle">1:1</text><text x="0" y="3.6" transform="translate(621.4 904.6) rotate(-16.8)" text-anchor="middle">1.5:1</text></g>
<rect x="349.1" y="757.00" width="286.8" height="233.10" fill="none" stroke="#000" stroke-width="1.8"/>
<path stroke="#000" stroke-width="0.9" fill="none" d="M348.2 990.1h-3.6M348.2 923.2h-3.6M348.2 856.3h-3.6M348.2 789.4h-3.6M349.1 991.0v3.4M423.1 991.0v3.4M497.0 991.0v3.4M571.0 991.0v3.4"/>
<rect x="550.1" y="761.9" width="59" height="94" fill="#fff"/>
<text x="553.4" y="775.5" font-size="11.8" fill="#1a1a1a">Ovariole</text>
<text x="553.4" y="786.6" font-size="11.8" fill="#1a1a1a">number</text>
<rect x="553.1" y="791.30" width="12.3" height="1.83" fill="#ff0600"/>
<rect x="553.1" y="792.83" width="12.3" height="1.83" fill="#ff1300"/>
<rect x="553.1" y="794.37" width="12.3" height="1.83" fill="#ff2000"/>
<rect x="553.1" y="795.90" width="12.3" height="1.83" fill="#ff2d00"/>
<rect x="553.1" y="797.44" width="12.3" height="1.83" fill="#ff3900"/>
<rect x="553.1" y="798.97" width="12.3" height="1.83" fill="#ff4600"/>
<rect x="553.1" y="800.51" width="12.3" height="1.83" fill="#ff5300"/>
<rect x="553.1" y="802.04" width="12.3" height="1.83" fill="#ff6000"/>
<rect x="553.1" y="803.58" width="12.3" height="1.83" fill="#ff6c00"/>
<rect x="553.1" y="805.12" width="12.3" height="1.83" fill="#ff7900"/>
<rect x="553.1" y="806.65" width="12.3" height="1.83" fill="#ff8600"/>
<rect x="553.1" y="808.18" width="12.3" height="1.83" fill="#ff9300"/>
<rect x="553.1" y="809.72" width="12.3" height="1.83" fill="#ff9f00"/>
<rect x="553.1" y="811.25" width="12.3" height="1.83" fill="#ffac00"/>
<rect x="553.1" y="812.79" width="12.3" height="1.83" fill="#ffb900"/>
<rect x="553.1" y="814.32" width="12.3" height="1.83" fill="#ffc600"/>
<rect x="553.1" y="815.86" width="12.3" height="1.83" fill="#ffd200"/>
<rect x="553.1" y="817.39" width="12.3" height="1.83" fill="#ffdf00"/>
<rect x="553.1" y="818.93" width="12.3" height="1.83" fill="#ffec00"/>
<rect x="553.1" y="820.46" width="12.3" height="1.83" fill="#fff900"/>
<rect x="553.1" y="822.00" width="12.3" height="1.83" fill="#fcf90e"/>
<rect x="553.1" y="823.53" width="12.3" height="1.83" fill="#f7ec2b"/>
<rect x="553.1" y="825.07" width="12.3" height="1.83" fill="#f2e047"/>
<rect x="553.1" y="826.60" width="12.3" height="1.83" fill="#ead35c"/>
<rect x="553.1" y="828.14" width="12.3" height="1.83" fill="#e2c76c"/>
<rect x="553.1" y="829.67" width="12.3" height="1.83" fill="#daba7d"/>
<rect x="553.1" y="831.21" width="12.3" height="1.83" fill="#d1ae8e"/>
<rect x="553.1" y="832.75" width="12.3" height="1.83" fill="#c9a19e"/>
<rect x="553.1" y="834.28" width="12.3" height="1.83" fill="#c096ab"/>
<rect x="553.1" y="835.81" width="12.3" height="1.83" fill="#b78cb8"/>
<rect x="553.1" y="837.35" width="12.3" height="1.83" fill="#ae81c4"/>
<rect x="553.1" y="838.88" width="12.3" height="1.83" fill="#a57acb"/>
<rect x="553.1" y="840.42" width="12.3" height="1.83" fill="#9c73d2"/>
<rect x="553.1" y="841.95" width="12.3" height="1.83" fill="#926bd9"/>
<rect x="553.1" y="843.49" width="12.3" height="1.83" fill="#8360e0"/>
<rect x="553.1" y="845.02" width="12.3" height="1.83" fill="#7555e7"/>
<rect x="553.1" y="846.56" width="12.3" height="1.83" fill="#6448ee"/>
<rect x="553.1" y="848.09" width="12.3" height="1.83" fill="#4f37f4"/>
<rect x="553.1" y="849.63" width="12.3" height="1.83" fill="#3a26fa"/>
<rect x="553.1" y="851.16" width="12.3" height="1.83" fill="#2315fd"/>
<text x="566.6" y="805.3" font-size="8.7" font-weight="bold" fill="#111">25</text>
<text x="566.6" y="820.2" font-size="8.7" font-weight="bold" fill="#111">22.5</text>
<text x="566.6" y="835.8" font-size="8.7" font-weight="bold" fill="#111">20</text>
<text x="566.6" y="851.4" font-size="8.7" font-weight="bold" fill="#111">17.5</text>
<text x="42.6" y="993.5" font-size="9.6" font-weight="bold" text-anchor="end" fill="#111">0</text>
<text x="42.6" y="926.6" font-size="9.6" font-weight="bold" text-anchor="end" fill="#111">100</text>
<text x="42.6" y="859.7" font-size="9.6" font-weight="bold" text-anchor="end" fill="#111">200</text>
<text x="42.6" y="792.8" font-size="9.6" font-weight="bold" text-anchor="end" fill="#111">300</text>
<text transform="translate(13.2 863.7) rotate(-90)" font-size="15.5" text-anchor="middle" fill="#111">Carbohydrate (g/L)</text>
<text x="51.5" y="1007.4" font-size="9.6" font-weight="bold" text-anchor="middle" fill="#111">0</text>
<text x="125.5" y="1007.4" font-size="9.6" font-weight="bold" text-anchor="middle" fill="#111">50</text>
<text x="199.4" y="1007.4" font-size="9.6" font-weight="bold" text-anchor="middle" fill="#111">100</text>
<text x="273.4" y="1007.4" font-size="9.6" font-weight="bold" text-anchor="middle" fill="#111">150</text>
<text x="213.0" y="1029.5" font-size="15.2" text-anchor="middle" fill="#111">Protein (g/L)</text>
<text x="349.1" y="1007.4" font-size="9.6" font-weight="bold" text-anchor="middle" fill="#111">0</text>
<text x="423.1" y="1007.4" font-size="9.6" font-weight="bold" text-anchor="middle" fill="#111">50</text>
<text x="497.0" y="1007.4" font-size="9.6" font-weight="bold" text-anchor="middle" fill="#111">100</text>
<text x="571.0" y="1007.4" font-size="9.6" font-weight="bold" text-anchor="middle" fill="#111">150</text>
<text x="510.6" y="1029.5" font-size="15.2" text-anchor="middle" fill="#111">Protein (g/L)</text>
</svg></body></html>
